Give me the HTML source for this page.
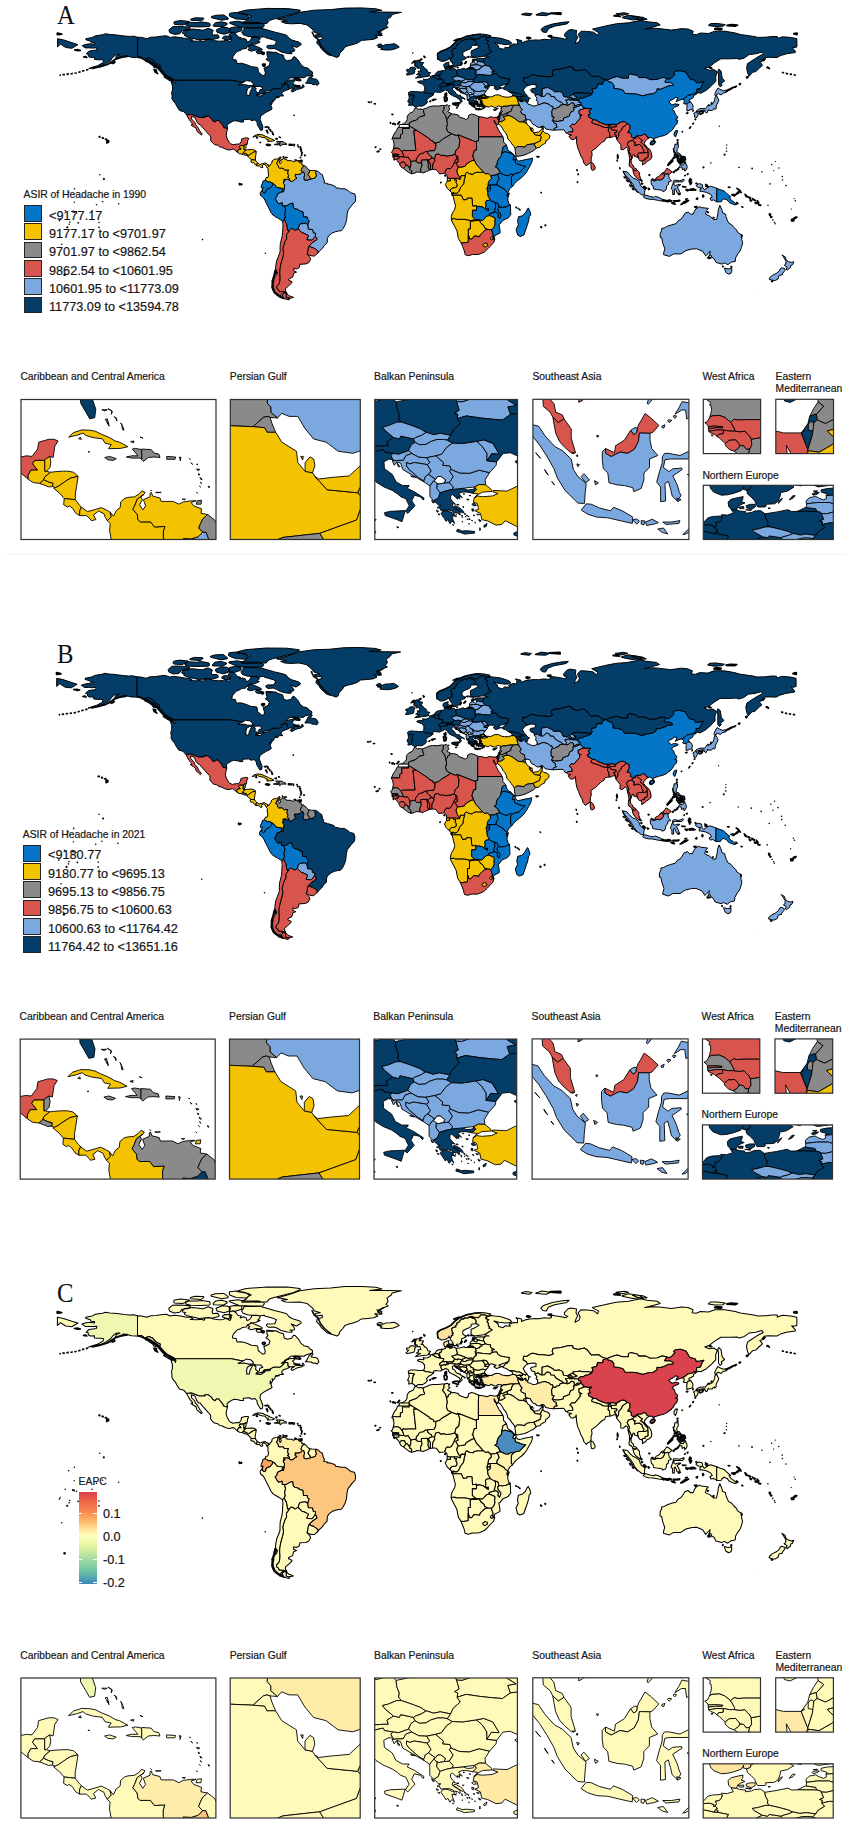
<!DOCTYPE html>
<html><head><meta charset="utf-8"><title>Figure</title>
<style>
html,body{margin:0;padding:0;background:#fff}
body{width:851px;height:1825px;position:relative;overflow:hidden;font-family:"Liberation Sans",sans-serif;color:#111}
.t{position:absolute;white-space:nowrap;line-height:1}
.pl{font-family:"Liberation Serif",serif;font-size:26.3px;transform:scaleX(0.94);transform-origin:left top}
.sw{position:absolute}

.it{font-size:10.35px;-webkit-text-stroke:0.2px #222}
.ll{font-size:13.2px;transform:scaleX(0.962);transform-origin:left top;-webkit-text-stroke:0.2px #222}
.sw{width:16.0px;height:14.8px;border:0.8px solid #262626;box-sizing:content-box}
.cb{position:absolute;width:18.1px;height:92px;background:linear-gradient(to bottom,#D8404C 0%,#EE6347 10%,#F88D52 22%,#FDBE6F 33%,#FEE89A 41%,#FFFFBF 48%,#EAF6A0 57%,#C4E79E 66%,#A0D8A3 74%,#6CC3A5 86%,#3C88BC 100%)}

</style></head><body>
<svg width="851" height="1825" viewBox="0 0 851 1825" style="position:absolute;left:0;top:0"><g stroke="#000" stroke-width="1.0" stroke-linejoin="round"><path d="M392.2,139.4 392.3,138.1 393.7,134.8 394.7,132.9 396.6,130.6 397.4,128.1 399.5,126.4 400.1,125.0 403.6,123.7 406.2,121.6 407.3,119.3 407.1,117.0 408.1,114.9 409.7,113.2 413.2,111.7 415.1,108.0 416.3,107.8 418.2,109.2 421.0,109.0 422.7,109.4 423.5,110.5 423.7,112.4 424.7,114.7 424.5,115.7 419.8,116.8 418.2,118.6 415.9,120.3 412.8,121.2 409.4,122.8 409.4,128.5 402.6,128.5 402.6,133.8 400.5,134.8 400.5,138.3 392.5,138.3Z" fill="#8A8A8A"/><path d="M392.2,139.4 392.5,138.3 400.5,138.3 400.5,134.8 402.6,133.8 402.6,128.5 409.4,128.5 409.4,125.8 417.3,130.6 413.8,130.6 415.7,148.4 415.9,150.5 408.1,150.5 405.2,150.7 403.6,150.2 402.1,151.9 399.7,149.2 397.4,148.1 394.3,148.4 393.3,149.2 394.1,145.2 393.9,142.5 393.3,142.3 393.7,140.6Z" fill="#8A8A8A"/><path d="M393.3,149.2 392.3,151.7 391.3,152.1 392.7,153.8 392.7,154.4 395.4,154.1 398.9,154.5 398.6,155.1 395.8,155.0 392.8,155.5 392.9,157.1 396.4,156.3 399.1,156.4 401.5,156.9 403.8,156.9 403.8,155.7 402.6,152.8 402.1,151.9 399.7,149.2 397.4,148.1 394.3,148.4Z" fill="#D8554E"/><path d="M392.7,154.4 395.4,154.1 398.9,154.5 398.6,155.1 395.8,155.0 392.8,155.5Z" fill="#D8554E"/><path d="M392.9,157.1 396.4,156.3 399.1,156.4 399.1,158.4 397.0,158.8 396.4,160.0 395.4,158.8 393.7,158.0Z" fill="#D8554E"/><path d="M393.9,159.2 394.7,159.2 394.3,159.9Z" fill="#D8554E" stroke-width="1.55"/><path d="M396.4,160.0 397.0,158.8 399.1,158.4 399.1,156.4 401.5,156.9 403.8,156.9 406.0,157.4 408.1,156.9 409.1,158.6 410.2,159.9 410.8,161.6 411.0,165.1 410.2,167.0 408.7,167.4 407.7,165.4 406.0,165.1 405.4,163.9 404.2,162.0 401.5,162.2 399.9,164.0 399.1,163.0 397.4,160.9Z" fill="#D8554E"/><path d="M399.9,164.0 401.5,162.2 404.2,162.0 405.4,163.9 406.0,165.1 405.4,166.6 403.6,168.4 401.5,167.4 399.9,165.1Z" fill="#D8554E"/><path d="M403.6,168.4 405.4,166.6 406.0,165.1 407.7,165.4 408.7,167.4 410.2,167.0 409.7,169.3 411.8,170.8 411.7,173.8 408.7,172.4 405.0,169.7Z" fill="#8A8A8A"/><path d="M411.7,173.8 411.8,170.8 409.7,169.3 410.2,167.0 411.0,165.1 410.8,161.6 414.5,160.7 415.9,161.1 417.5,162.6 421.7,163.0 422.1,165.7 420.6,168.7 420.8,172.2 416.9,172.0 414.9,173.1Z" fill="#8A8A8A"/><path d="M420.8,172.2 420.6,168.7 422.1,165.7 421.7,163.0 421.4,159.9 427.2,159.7 428.2,162.0 428.4,165.1 428.2,167.2 429.7,170.1 426.8,171.4 423.1,173.0Z" fill="#8A8A8A"/><path d="M429.7,170.1 428.2,167.2 428.4,165.1 428.2,162.0 427.2,159.7 429.0,159.9 428.8,161.3 430.5,164.1 430.5,169.9Z" fill="#D8554E"/><path d="M430.5,169.9 430.5,164.1 428.8,161.3 429.0,159.9 430.1,159.0 432.1,158.0 434.6,158.4 435.0,160.5 433.0,163.9 432.7,166.4 432.7,169.5Z" fill="#D8554E"/><path d="M432.7,169.5 432.7,166.4 433.0,163.9 435.0,160.5 434.6,158.4 435.6,154.6 438.5,153.8 441.4,155.7 443.2,155.1 446.9,156.1 451.8,155.3 455.1,154.2 456.2,155.6 456.4,156.7 457.2,158.8 455.5,159.9 454.3,162.8 453.5,164.7 451.4,168.0 449.8,168.9 447.7,168.5 446.3,169.3 444.9,172.9 444.2,173.5 441.6,173.7 439.5,173.9 437.7,171.4 436.2,169.7 434.2,169.5Z" fill="#D8554E"/><path d="M415.9,161.1 416.5,158.2 418.2,156.3 418.8,154.9 421.2,153.4 423.1,153.2 425.8,151.4 427.6,151.6 428.0,153.6 429.3,154.9 431.5,156.3 432.1,158.0 430.1,159.0 429.0,159.9 427.2,159.7 421.4,159.9 421.7,163.0 417.5,162.6Z" fill="#D8554E"/><path d="M402.1,151.9 403.6,150.2 405.2,150.7 408.1,150.5 415.9,150.5 415.7,148.4 413.8,130.6 417.3,130.6 429.6,138.7 429.7,139.6 433.8,141.5 434.0,143.1 435.9,142.8 435.8,147.5 434.4,150.7 429.9,150.9 427.6,151.6 425.8,151.4 423.1,153.2 421.2,153.4 418.8,154.9 418.2,156.3 416.5,158.2 415.9,161.1 414.5,160.7 410.8,161.6 410.2,159.9 409.1,158.6 408.1,156.9 406.0,157.4 403.8,156.9 403.8,155.7 402.6,152.8Z" fill="#D8554E"/><path d="M427.6,151.6 429.9,150.9 434.4,150.7 435.8,147.5 435.9,142.8 439.1,142.1 442.6,139.2 451.8,133.7 456.4,135.6 458.0,134.8 459.9,140.2 459.0,147.5 456.0,150.0 455.1,154.2 451.8,155.3 446.9,156.1 443.2,155.1 441.4,155.7 438.5,153.8 435.6,154.6 434.6,158.4 432.1,158.0 431.5,156.3 429.3,154.9 428.0,153.6Z" fill="#8A8A8A"/><path d="M422.7,109.4 427.2,107.8 429.9,106.5 433.4,105.9 438.1,106.1 442.6,105.4 444.9,105.6 444.2,106.5 444.0,109.6 442.6,111.7 444.0,113.4 445.7,115.7 446.7,119.5 447.5,123.7 446.5,127.9 447.7,131.6 451.8,133.7 442.6,139.2 439.1,142.1 435.9,142.8 434.0,143.1 433.8,141.5 429.7,139.6 429.6,138.7 417.3,130.6 409.4,125.8 409.4,122.8 412.8,121.2 415.9,120.3 418.2,118.6 419.8,116.8 424.5,115.7 424.7,114.7 423.7,112.4 423.5,110.5Z" fill="#8A8A8A"/><path d="M444.9,105.6 447.3,104.7 448.4,105.7 450.0,105.4 448.8,106.9 449.0,108.4 450.0,109.2 447.9,111.1 447.9,111.9 450.0,112.8 450.9,113.5 450.8,115.1 448.4,116.6 448.4,118.2 446.7,119.5 445.7,115.7 444.0,113.4 442.6,111.7 444.0,109.6 444.2,106.5Z" fill="#8A8A8A"/><path d="M450.9,113.5 452.9,114.2 454.3,114.0 458.4,115.1 459.4,117.0 463.1,118.2 466.2,119.5 468.3,118.0 468.5,115.5 471.4,114.0 474.6,114.7 478.9,116.7 478.5,121.2 478.5,136.9 478.5,141.0 476.5,141.0 476.5,142.1 458.0,134.8 456.4,135.6 451.8,133.7 447.7,131.6 446.5,127.9 447.5,123.7 446.7,119.5 448.4,118.2 448.4,116.6 450.8,115.1Z" fill="#8A8A8A"/><path d="M478.9,116.7 483.3,117.2 486.8,118.3 488.8,117.4 490.9,116.8 493.5,117.4 497.4,117.4 498.9,121.2 498.1,124.3 497.5,124.9 496.0,123.7 494.2,120.2 494.4,122.6 496.2,124.7 497.0,127.0 499.1,131.0 500.5,132.9 503.0,136.9 478.5,136.9 478.5,121.2Z" fill="#D8554E"/><path d="M472.2,156.4 473.0,154.9 474.4,150.0 476.5,150.0 476.5,141.0 478.5,141.0 478.5,136.9 503.0,136.9 503.6,138.9 503.6,141.9 506.5,145.2 503.2,147.1 502.2,151.3 501.3,156.3 499.3,158.2 497.7,160.7 497.2,163.0 497.2,165.3 495.0,166.6 498.5,168.9 499.7,171.6 500.9,173.3 497.0,174.1 496.0,175.1 490.6,175.6 488.2,173.5 485.5,173.9 483.5,172.3 476.5,164.7 474.2,160.1 473.0,156.3Z" fill="#8A8A8A"/><path d="M506.5,145.2 507.7,149.4 508.1,150.2 509.8,151.5 511.8,152.6 514.3,155.3 515.7,156.3 514.3,156.7 512.9,154.6 511.0,153.2 507.3,152.3 505.0,151.7 502.0,152.8 502.2,151.3 503.2,147.1Z" fill="#0575C8"/><path d="M515.7,156.3 516.3,157.8 516.0,158.8 515.1,160.0 513.1,159.9 512.9,158.6 514.3,156.7Z" fill="#0575C8"/><path d="M516.0,158.8 518.6,161.1 521.7,160.5 525.8,159.5 529.9,158.8 532.5,158.1 532.2,160.9 531.5,163.2 529.5,166.8 527.0,171.2 524.8,174.5 521.7,177.5 520.2,178.7 516.5,181.6 514.5,183.7 512.5,186.4 511.4,184.7 511.4,176.8 513.3,174.6 515.5,173.3 519.6,172.5 525.8,166.2 523.7,166.2 517.6,164.1 515.5,163.2 515.1,160.0Z" fill="#0575C8"/><path d="M502.0,152.8 505.0,151.7 507.3,152.3 511.0,153.2 512.9,154.6 514.3,156.7 512.9,158.6 513.1,159.9 515.1,160.0 515.5,163.2 517.6,164.1 523.7,166.2 525.8,166.2 519.6,172.5 515.5,173.3 513.3,174.6 511.0,174.1 508.3,175.8 505.3,175.4 501.3,173.6 500.9,173.3 499.7,171.6 498.5,168.9 495.0,166.6 497.2,165.3 497.2,163.0 497.7,160.7 499.3,158.2 501.3,156.3Z" fill="#0575C8"/><path d="M512.5,186.4 509.8,188.6 507.7,192.6 504.6,190.2 504.4,189.2 497.0,185.0 496.8,182.7 498.1,180.6 499.1,178.9 498.1,176.2 497.0,174.1 500.9,173.3 501.3,173.6 505.3,175.4 508.3,175.8 511.0,174.1 513.3,174.6 511.4,176.8 511.4,184.7Z" fill="#0575C8"/><path d="M497.0,185.0 489.8,185.1 488.0,185.8 488.0,184.2 488.4,182.5 488.8,181.2 491.5,178.4 490.6,175.6 492.7,175.4 496.0,175.1 497.0,174.1 498.1,176.2 499.1,178.9 498.1,180.6 496.8,182.7Z" fill="#0575C8"/><path d="M507.7,192.6 506.9,195.7 507.9,197.1 507.9,200.3 508.9,203.8 510.3,204.8 506.3,206.8 502.2,207.4 499.0,207.1 498.1,203.8 496.8,203.0 494.9,202.6 491.3,200.9 490.4,200.1 488.0,196.1 487.6,192.2 490.5,189.8 489.8,187.9 490.6,187.7 489.8,185.1 497.0,185.0 504.4,189.2 504.6,190.2Z" fill="#0575C8"/><path d="M507.7,195.0 508.4,195.9 508.1,196.5ZM508.7,193.2 509.1,194.0 508.7,194.2Z" fill="#0575C8" stroke-width="1.55"/><path d="M486.8,188.6 488.0,185.8 489.8,185.1 490.6,187.7 489.8,187.9 488.6,188.6Z" fill="#0575C8"/><path d="M486.8,188.6 488.6,188.6 489.8,187.9 490.5,189.8 487.6,192.2 487.2,189.8Z" fill="#0575C8"/><path d="M452.3,195.1 452.9,193.8 454.1,192.5 454.7,193.2 456.8,193.2 458.6,191.9 460.5,187.5 463.6,183.9 464.2,179.8 465.4,175.6 465.4,173.7 467.0,172.2 469.5,173.7 473.2,174.3 474.2,172.9 477.3,172.2 479.2,172.3 483.5,172.3 485.5,173.9 488.2,173.5 490.6,175.6 491.5,178.4 488.8,181.2 488.4,182.5 488.0,184.2 488.0,185.8 486.8,188.6 487.2,189.8 487.6,192.2 488.0,196.1 490.4,200.1 486.6,200.7 485.5,202.4 486.1,205.3 485.5,207.8 486.8,208.9 488.4,208.4 488.4,211.1 485.5,209.1 483.1,207.2 479.2,206.3 477.3,206.9 476.5,205.7 472.8,206.3 472.4,203.8 472.0,198.2 467.3,198.2 467.0,199.6 463.4,199.9 461.3,195.2 454.7,195.2 452.7,195.6Z" fill="#F3C200"/><path d="M494.9,202.6 491.3,200.9 490.4,200.1 486.6,200.7 485.5,202.4 486.1,205.3 485.5,207.8 486.8,208.9 488.4,208.4 488.4,211.1 485.5,209.1 483.1,207.2 479.2,206.3 477.3,206.9 476.5,205.7 476.5,210.1 472.4,210.1 472.4,216.8 475.3,219.7 479.1,220.2 482.7,220.5 486.6,216.3 489.6,215.6 489.2,213.9 495.4,212.2 494.4,211.4 495.0,209.3 495.6,207.2 495.6,203.8Z" fill="#0575C8"/><path d="M494.9,202.6 496.8,203.0 498.1,203.8 499.0,207.1 497.9,208.4 498.3,211.2 500.9,214.1 500.7,216.4 499.7,218.7 497.9,217.0 498.3,214.9 497.7,213.0 495.4,212.2 494.4,211.4 495.0,209.3 495.6,207.2 495.6,203.8Z" fill="#0575C8"/><path d="M510.3,204.8 510.6,209.1 510.6,213.2 511.0,214.3 508.3,217.9 503.2,220.2 499.7,224.3 498.8,224.4 499.7,227.9 500.1,232.9 495.0,235.6 494.2,237.2 494.8,239.1 493.1,239.1 492.9,237.2 492.9,234.2 492.0,232.1 491.5,229.8 493.7,227.5 495.0,224.1 494.6,222.2 495.0,219.1 494.8,217.9 491.5,216.4 489.6,215.6 489.2,213.9 495.4,212.2 497.7,213.0 498.3,214.9 497.9,217.0 499.7,218.7 500.7,216.4 500.9,214.1 498.3,211.2 497.9,208.4 499.0,207.1 502.2,207.4 506.3,206.8Z" fill="#0575C8"/><path d="M479.1,220.2 482.7,220.5 486.6,216.3 489.6,215.6 491.5,216.4 494.8,217.9 495.0,219.1 494.6,222.2 495.0,224.1 493.7,227.5 491.5,229.8 487.6,229.4 484.7,228.1 484.1,225.8 481.0,223.5Z" fill="#F3C200"/><path d="M479.1,220.2 481.0,223.5 484.1,225.8 484.7,228.1 487.6,229.4 485.3,230.2 482.5,232.5 480.4,234.7 479.6,236.7 474.4,235.9 471.8,239.1 469.7,239.1 468.3,234.8 468.3,228.9 470.3,228.9 470.3,221.2 475.3,220.6 477.3,220.6Z" fill="#F3C200"/><path d="M451.3,219.0 454.9,218.5 456.0,219.3 465.0,219.3 470.3,220.5 475.3,219.7 479.1,220.2 477.3,220.6 475.3,220.6 470.3,221.2 470.3,228.9 468.3,228.9 468.3,234.8 468.3,242.3 463.1,243.0 461.1,242.8 458.4,238.6 457.0,230.9 454.7,226.4 451.8,221.0Z" fill="#F3C200"/><path d="M461.1,242.8 462.7,246.7 464.2,250.5 465.0,253.9 465.2,254.8 468.3,255.7 472.6,254.5 478.1,254.5 479.8,254.0 484.5,252.0 487.8,248.8 490.9,245.5 493.7,242.6 494.8,239.1 493.1,239.1 492.9,237.2 492.9,234.2 492.0,232.1 491.5,229.8 487.6,229.4 485.3,230.2 482.5,232.5 480.4,234.7 479.6,236.7 474.4,235.9 471.8,239.1 469.7,239.1 468.3,234.8 468.3,242.3 463.1,243.0Z" fill="#D8554E"/><path d="M482.7,244.9 485.1,243.0 487.4,243.8 487.6,245.5 484.9,247.1 483.5,246.3Z" fill="#F3C200"/><path d="M490.5,238.2 491.7,236.8 492.9,237.3 493.1,239.1 491.5,240.0 490.7,239.0Z" fill="#F3C200"/><path d="M451.3,219.0 451.4,216.4 452.3,213.2 454.7,209.3 455.5,205.9 454.3,201.3 453.5,197.6 452.7,195.6 454.7,195.2 461.3,195.2 463.4,199.9 467.0,199.6 467.3,198.2 472.0,198.2 472.4,203.8 472.8,206.3 476.5,205.7 476.5,210.1 472.4,210.1 472.4,216.8 475.3,219.7 470.3,220.5 465.0,219.3 456.0,219.3 454.9,218.5Z" fill="#F3C200"/><path d="M452.3,194.9 451.8,193.4 452.3,192.9 454.1,192.5 452.9,193.8Z" fill="#F3C200" stroke-width="1.55"/><path d="M452.3,192.9 450.0,191.1 451.0,188.8 452.9,187.7 453.9,187.9 456.8,186.9 457.0,184.2 455.8,182.5 456.6,180.0 454.5,180.2 454.3,178.3 457.0,178.3 460.1,179.3 460.5,178.3 461.1,175.6 465.4,175.6 464.2,179.8 463.6,183.9 460.5,187.5 458.6,191.9 456.8,193.2 454.7,193.2 454.1,192.5Z" fill="#F3C200"/><path d="M450.0,191.1 446.9,187.9 445.3,184.4 446.7,182.3 447.3,180.8 450.4,180.8 450.4,178.3 454.3,178.3 454.5,180.2 456.6,180.0 455.8,182.5 457.0,184.2 456.8,186.9 453.9,187.9 452.9,187.7 451.0,188.8Z" fill="#F3C200"/><path d="M447.3,180.8 450.4,180.8 450.4,178.3 447.3,178.1Z" fill="#F3C200"/><path d="M444.7,175.8 445.5,175.1 445.5,176.0Z" fill="#F3C200" stroke-width="1.55"/><path d="M440.6,182.5 441.1,182.3 440.8,182.8Z" fill="#F3C200" stroke-width="1.55"/><path d="M447.3,178.1 447.1,175.2 445.5,173.5 444.9,172.9 446.3,169.3 447.7,168.5 449.8,168.9 451.4,168.0 453.5,164.7 454.3,162.8 455.5,159.9 457.2,158.8 456.4,156.7 456.2,155.6 457.8,156.3 458.0,158.8 458.2,162.0 455.8,162.8 458.4,167.2 457.0,170.3 457.2,172.4 458.2,174.9 460.5,178.3 460.1,179.3 457.0,178.3 454.3,178.3 450.4,178.3Z" fill="#D8554E"/><path d="M458.4,167.2 461.7,167.0 465.2,166.2 466.2,164.1 471.8,160.7 474.2,160.1 476.5,164.7 479.2,167.6 481.6,170.3 483.5,172.3 479.2,172.3 477.3,172.2 474.2,172.9 473.2,174.3 469.5,173.7 467.0,172.2 465.4,173.7 465.4,175.6 461.1,175.6 460.5,178.3 458.2,174.9 457.2,172.4 457.0,170.3Z" fill="#F3C200"/><path d="M455.1,154.2 456.2,155.6 457.8,156.3 458.0,158.8 458.2,162.0 455.8,162.8 458.4,167.2 461.7,167.0 465.2,166.2 466.2,164.1 471.8,160.7 474.2,160.1 473.0,156.3 472.2,156.4 473.0,154.9 473.4,153.4 474.4,150.0 476.5,150.0 476.5,142.1 458.0,134.8 459.9,140.2 459.0,147.5 456.0,150.0Z" fill="#D8554E"/><path d="M528.4,207.9 529.9,211.2 530.9,214.9 529.3,216.4 528.7,220.6 527.4,224.8 525.6,230.0 523.9,235.0 520.0,236.5 517.6,235.0 516.1,229.4 518.4,224.8 517.6,221.6 518.4,216.8 522.3,215.8 525.6,212.6 527.4,209.1Z" fill="#0575C8"/><path d="M375.2,147.1 375.9,147.1 375.6,147.5ZM378.5,150.9 379.1,151.3 378.7,151.6ZM377.1,151.6 377.3,151.9 377.0,151.8ZM380.0,149.0 380.6,149.2 380.2,149.4Z" fill="#FFFFFF" stroke-width="1.55"/><path d="M516.1,207.0 516.5,207.8 516.1,207.8ZM518.2,208.2 518.6,208.6 518.2,208.6ZM519.8,209.5 520.1,210.0 519.8,210.0Z" fill="#0575C8" stroke-width="1.55"/><path d="M545.1,225.0 545.7,225.2 545.3,225.8ZM540.8,226.6 541.8,227.1 541.2,227.6Z" fill="#0575C8" stroke-width="1.55"/><path d="M541.0,192.5 541.3,192.7 541.1,192.8Z" fill="#0575C8" stroke-width="1.55"/><path d="M490.7,37.0 495.0,37.6 501.1,38.3 509.4,41.0 511.8,43.1 510.4,44.1 506.3,44.6 499.1,43.7 494.0,42.5 498.1,45.2 498.7,47.9 503.2,49.2 505.3,47.3 510.4,47.8 509.4,45.8 513.5,43.9 517.6,44.3 517.6,41.0 516.1,39.3 521.7,40.6 521.7,42.9 525.8,41.2 529.9,40.4 536.1,39.9 539.1,40.2 544.3,39.3 549.4,39.7 551.5,38.9 551.5,36.8 559.7,37.9 563.8,38.7 564.8,39.3 567.9,37.9 564.8,36.4 564.4,34.3 567.9,30.5 571.0,29.5 576.7,30.5 576.1,34.3 577.8,37.4 576.1,40.6 575.1,43.7 579.2,41.6 580.2,38.5 578.2,34.3 581.2,31.2 587.4,31.4 593.6,32.2 597.7,35.3 598.7,32.6 592.5,29.1 605.9,25.9 616.2,23.8 628.5,22.8 640.8,20.3 647.0,21.7 657.2,22.8 660.3,24.9 653.1,27.0 644.9,29.1 653.1,28.2 659.3,28.6 671.6,30.1 681.9,28.6 688.1,29.1 693.2,31.2 692.2,34.3 696.3,34.7 700.4,33.0 708.6,33.5 714.8,31.2 725.0,31.2 735.3,33.0 740.4,34.5 753.8,36.4 757.9,37.4 766.1,37.2 772.3,36.4 777.4,36.6 777.4,38.5 782.5,36.8 790.8,37.4 796.9,38.7 796.9,46.9 793.8,47.7 791.8,47.3 795.5,51.3 795.3,52.5 786.6,53.8 780.5,55.6 777.0,57.5 768.2,57.3 764.1,57.7 762.0,61.5 759.9,61.9 762.6,65.3 759.5,68.0 755.8,71.6 752.8,72.2 749.1,76.2 747.6,73.0 746.6,67.8 747.6,63.6 750.7,61.5 755.4,58.4 758.9,56.3 763.4,54.0 762.0,52.1 755.8,53.8 749.1,54.6 744.5,57.9 739.4,59.4 736.9,58.4 731.2,58.8 720.9,58.8 714.8,62.6 709.6,66.7 704.9,68.4 709.6,70.3 713.7,69.5 717.4,71.8 715.8,76.2 715.8,81.4 711.7,85.6 706.5,90.2 700.8,93.3 698.3,92.7 695.7,94.4 695.5,93.7 696.5,91.9 696.9,88.9 700.4,88.5 702.4,83.7 703.9,81.8 700.4,82.6 696.3,83.1 695.5,80.6 690.1,79.1 689.1,77.7 686.0,72.4 680.5,70.8 675.5,71.3 673.7,72.8 675.1,74.1 671.6,78.0 669.2,79.3 666.9,78.6 664.4,77.8 662.0,77.6 657.2,79.5 650.1,79.7 646.0,77.6 638.8,77.6 637.3,75.5 630.5,74.1 628.5,75.1 628.5,78.2 622.3,78.2 617.2,76.6 612.1,78.0 607.5,79.9 606.5,80.1 602.8,79.1 598.7,76.2 591.5,76.6 587.2,71.3 584.3,69.5 578.2,70.9 573.0,69.5 572.8,67.2 568.9,66.9 561.3,69.0 553.1,70.1 552.3,73.0 553.5,75.5 549.4,77.0 542.2,76.2 539.1,76.2 533.0,74.7 531.5,74.9 526.8,78.0 523.7,77.8 523.3,81.2 526.4,83.3 527.8,85.6 525.8,86.6 524.4,88.7 523.3,89.8 524.8,92.9 526.8,95.3 525.6,96.7 522.5,95.2 519.6,93.5 517.2,93.5 514.5,92.5 509.4,92.1 506.3,90.0 504.0,89.3 502.6,88.3 504.2,87.2 505.3,85.6 507.9,84.3 505.7,84.3 508.9,82.7 508.9,81.2 509.6,79.1 505.3,78.5 500.3,77.4 497.9,75.6 496.6,73.3 492.5,73.9 491.7,71.6 494.4,71.1 491.5,69.5 490.5,68.2 490.7,66.5 487.6,66.1 485.1,65.3 484.3,63.0 483.5,62.4 483.7,61.9 483.5,59.8 484.9,58.6 484.7,57.9 486.8,57.4 489.2,57.5 486.8,56.9 485.7,56.3 484.3,56.2 486.8,54.8 488.8,53.3 491.3,52.1 492.1,51.3 488.8,49.6 489.8,48.5 488.2,47.1 488.6,45.4 487.0,42.9 488.8,41.2 485.9,40.2 485.7,38.7 486.6,38.4ZM57.5,38.7 63.6,39.9 71.9,42.7 78.0,44.6 76.0,45.8 71.9,48.3 65.7,47.5 60.6,44.1 57.5,46.9ZM542.8,32.0 541.0,29.6 541.1,29.3 544.2,26.7 552.5,24.0 562.7,22.3 569.2,21.8 566.9,23.9 554.6,26.2 548.6,28.6 546.3,32.5ZM521.6,14.2 525.8,13.1 532.2,13.9 529.9,15.7 521.7,14.7ZM536.0,14.6 542.2,12.5 550.7,13.7 546.3,15.7 536.0,15.1ZM622.2,17.3 628.5,15.2 638.8,16.7 643.1,19.1 632.6,19.9 622.3,17.8ZM622.3,15.3 615.9,13.8 624.4,12.7 628.7,13.8ZM632.5,16.7 632.4,16.4 632.6,16.3 642.9,17.3 647.2,19.3 640.7,19.9ZM708.5,25.1 710.7,23.6 716.8,23.4 725.3,24.6 723.0,26.2 714.8,26.6 708.6,25.5ZM718.6,69.2 719.0,69.1 721.1,71.2 722.2,78.1 724.6,80.6 724.6,81.0 721.3,83.5 722.1,85.1 720.5,86.8 720.1,86.8 718.6,84.5 718.6,75.1 718.0,71.4Z" fill="#033D68"/><path d="M467.5,68.9 470.1,67.2 471.0,67.3 473.6,67.8 474.0,69.0ZM526.8,37.6 528.3,37.2 530.8,38.0 528.8,39.1 526.7,38.1ZM548.4,35.7 551.4,35.5 551.7,35.8 551.3,37.1 551.0,37.2 548.3,36.2ZM550.4,13.1 560.7,12.7 561.0,12.9 561.0,14.2 560.7,14.5 550.4,13.6 550.2,13.4ZM614.1,15.6 618.2,15.2 620.5,16.6 614.1,16.1 613.9,15.9ZM727.0,25.3 731.2,24.6 737.6,25.0 735.3,26.2 727.1,25.8 726.8,25.5ZM714.7,28.8 716.8,28.0 722.0,28.6 722.1,29.0 720.9,29.9 714.7,29.3ZM793.8,33.6 796.9,33.0 797.2,33.3 797.2,34.5 796.9,34.8 793.8,34.1ZM57.5,33.0 61.6,34.0 61.8,34.3 57.5,34.8 57.2,34.5 57.2,33.3ZM746.4,77.4 746.5,77.0 748.2,76.6 747.4,78.0 747.0,78.0ZM739.2,84.3 739.3,83.9 740.6,83.5 740.0,84.7ZM735.4,87.2 734.0,87.3 734.2,87.0 736.5,86.1ZM728.8,90.2 728.5,90.1 728.6,89.7 732.7,87.4 733.0,87.5 733.0,87.9ZM725.9,91.5 725.7,91.0 728.3,89.6 727.3,91.2ZM767.1,67.1 768.3,67.2 769.4,68.6 767.0,67.6ZM709.5,67.6 710.8,67.2 711.9,68.3 709.6,68.0ZM762.6,60.5 762.5,60.0 765.3,58.8 763.8,60.6Z" fill="#033D68" stroke-width="1.55"/><path d="M527.8,85.6 532.0,84.5 536.1,84.7 536.1,88.1 532.0,88.7 530.5,89.8 532.0,92.5 535.0,93.3 535.0,95.4 538.1,94.4 541.2,96.5 542.2,96.5 542.2,88.7 547.6,87.5 552.5,90.0 554.5,91.9 559.7,91.6 562.8,93.1 563.0,95.0 563.8,96.7 566.9,97.1 567.9,97.9 568.9,96.5 572.0,95.0 573.0,94.4 573.4,93.3 578.2,92.9 579.6,92.5 582.7,93.3 589.5,93.3 591.9,94.6 592.1,92.7 593.2,92.5 592.1,89.1 596.7,88.1 597.7,84.1 602.8,84.3 603.2,81.6 606.5,80.1 602.8,79.1 598.7,76.2 591.5,76.6 587.2,71.3 584.3,69.5 578.2,70.9 573.0,69.5 572.8,67.2 568.9,66.9 561.3,69.0 553.1,70.1 552.3,73.0 553.5,75.5 549.4,77.0 542.2,76.2 539.1,76.2 533.0,74.7 531.5,74.9 526.8,78.0 523.7,77.8 523.3,81.2 526.4,83.3Z" fill="#033D68"/><path d="M542.2,96.5 542.2,88.7 547.6,87.5 552.5,90.0 554.5,91.9 559.7,91.6 562.8,93.1 563.0,95.0 563.8,96.7 566.9,97.1 567.9,97.9 568.9,96.5 572.0,95.0 573.0,94.4 574.7,96.0 577.3,97.5 575.1,98.6 572.2,98.8 571.8,97.3 569.5,97.5 568.9,98.8 568.1,100.0 565.6,100.2 567.5,102.9 566.5,105.0 563.8,104.6 561.7,102.7 558.7,101.3 555.6,99.2 554.3,96.7 550.9,96.5 550.4,94.6 547.4,93.5 545.9,94.6 544.3,96.5Z" fill="#7CA8E0"/><path d="M535.0,95.4 538.1,94.4 541.2,96.5 542.2,96.5 544.3,96.5 545.9,94.6 547.4,93.5 550.4,94.6 550.9,96.5 554.3,96.7 555.6,99.2 558.7,101.3 561.7,102.7 563.8,104.6 561.9,104.8 560.3,105.2 559.7,106.9 556.6,107.8 555.2,109.0 553.1,108.4 552.7,106.3 551.1,106.3 549.0,104.4 544.9,102.9 542.2,103.4 539.8,104.6 537.9,104.7 537.7,101.3 536.1,100.2 537.1,98.1 535.7,96.7Z" fill="#7CA8E0"/><path d="M573.0,94.4 573.4,93.3 578.2,92.9 579.6,92.5 582.7,93.3 589.5,93.3 591.9,94.6 588.4,96.2 584.9,97.1 583.3,98.3 580.8,98.1 578.8,99.6 578.6,100.3 575.1,100.4 572.0,100.0 569.5,100.2 570.0,99.0 572.2,98.8 575.1,98.6 577.3,97.5 574.7,96.0Z" fill="#033D68"/><path d="M566.5,105.0 567.5,102.9 565.6,100.2 568.1,100.0 568.9,98.8 569.5,97.5 571.8,97.3 572.2,98.8 570.0,99.0 569.5,100.2 572.0,100.0 575.1,100.4 578.6,100.3 578.8,102.1 581.0,102.5 581.0,104.9 577.8,104.6 576.1,105.7 574.3,106.1 574.1,103.6 571.6,102.7 570.0,104.4 566.9,105.5Z" fill="#7CA8E0"/><path d="M553.1,108.4 555.2,109.0 556.6,107.8 559.7,106.9 560.3,105.2 561.9,104.8 563.8,104.6 566.5,105.0 566.9,105.5 570.0,104.4 571.6,102.7 574.1,103.6 574.3,106.1 576.1,105.7 577.8,104.6 581.0,104.9 579.2,105.9 576.1,107.1 573.4,107.6 574.3,109.2 573.0,111.5 571.0,111.9 570.0,113.8 569.5,116.1 566.5,117.2 563.6,118.2 563.4,120.4 558.7,121.4 555.6,121.4 552.2,120.4 554.1,117.2 552.1,117.0 551.7,113.4 551.7,111.1Z" fill="#8A8A8A"/><path d="M552.2,120.4 554.1,123.0 556.2,123.9 556.2,126.0 557.2,127.2 554.3,128.1 553.7,130.2 558.7,129.9 563.8,129.7 564.8,131.0 565.8,132.9 567.3,133.3 568.5,132.0 573.0,131.8 572.6,129.1 571.2,127.2 570.0,126.4 572.0,124.3 574.9,124.5 577.1,121.8 579.0,119.7 580.4,117.8 580.2,114.9 582.1,115.3 579.2,113.8 579.0,110.5 584.9,108.4 587.0,108.6 583.3,107.6 583.1,106.3 581.0,104.9 579.2,105.9 576.1,107.1 573.4,107.6 574.3,109.2 573.0,111.5 571.0,111.9 570.0,113.8 569.5,116.1 566.5,117.2 563.6,118.2 563.4,120.4 558.7,121.4 555.6,121.4Z" fill="#7CA8E0"/><path d="M567.3,133.3 568.3,134.3 571.6,135.0 568.9,136.2 571.0,139.2 573.0,139.6 575.5,138.5 576.3,136.4 576.3,137.9 576.7,143.1 577.8,148.4 579.4,151.9 580.8,155.9 582.9,159.5 583.9,163.0 586.4,166.0 587.8,164.3 589.9,163.4 591.2,161.3 591.1,158.0 592.1,155.5 591.7,151.1 594.0,149.4 596.2,147.9 598.3,145.9 601.8,142.5 604.9,140.6 605.9,137.9 608.2,137.7 610.2,137.5 609.8,134.3 609.4,132.0 608.2,131.2 608.6,128.9 608.8,127.4 611.6,128.5 611.6,129.9 617.0,130.6 616.6,132.2 614.5,132.7 614.7,134.3 615.8,134.8 616.8,138.1 617.4,138.3 618.6,136.4 619.0,132.7 621.5,130.2 622.7,127.2 626.4,124.9 627.1,123.7 624.4,121.6 621.3,121.8 616.4,124.7 615.6,124.7 616.4,126.6 611.6,127.0 609.8,125.8 609.6,124.2 608.2,124.5 608.2,127.6 603.4,127.2 599.7,125.3 593.6,123.5 591.7,122.6 592.5,120.5 593.6,119.7 589.9,117.6 589.1,117.4 588.2,114.9 590.5,114.2 589.1,110.9 591.9,108.6 587.0,108.6 584.9,108.4 579.0,110.5 579.2,113.8 582.1,115.3 580.2,114.9 580.4,117.8 579.0,119.7 577.1,121.8 574.9,124.5 572.0,124.3 570.0,126.4 571.2,127.2 572.6,129.1 573.0,131.8 568.5,132.0Z" fill="#D8554E"/><path d="M617.6,154.6 618.2,156.7 617.8,158.6 617.4,156.7ZM619.7,167.8 620.1,168.2 619.9,168.7ZM617.0,160.3 617.4,160.7 617.2,160.9Z" fill="#D8554E" stroke-width="1.55"/><path d="M608.2,124.5 608.2,127.6 603.4,127.2 599.7,125.3 593.6,123.5 591.7,122.6 592.5,120.5 593.6,119.7 596.0,119.9 598.7,121.8 602.2,123.2 604.9,124.3 606.3,124.6Z" fill="#D8554E"/><path d="M609.8,125.8 611.6,127.0 616.4,126.6 615.6,124.7 613.1,124.1 611.0,124.1Z" fill="#D8554E"/><path d="M610.2,137.5 609.8,134.3 609.4,132.0 608.2,131.2 608.6,128.9 608.8,127.4 611.6,128.5 611.6,129.9 617.0,130.6 616.6,132.2 614.5,132.7 614.7,134.3 615.8,134.8 616.8,138.1 617.4,138.3 616.8,139.6 615.8,136.2 613.7,136.2 612.7,137.1Z" fill="#D8554E"/><path d="M591.3,162.4 593.2,163.4 595.2,167.2 595.0,169.3 592.8,170.4 591.5,169.7 590.9,165.7Z" fill="#D8554E"/><path d="M578.0,173.9 578.4,174.3 578.2,174.7ZM577.3,181.9 577.8,182.3 577.6,182.5ZM576.9,169.7 577.3,170.1 577.1,170.6Z" fill="#D8554E" stroke-width="1.55"/><path d="M519.2,99.8 520.7,101.3 522.7,101.5 525.4,99.8 526.4,100.4 525.8,101.7 527.6,102.5 528.1,104.2 530.3,104.6 533.0,106.1 536.1,105.7 537.9,104.7 539.8,104.6 542.2,103.4 544.9,102.9 549.0,104.4 551.1,106.3 552.7,106.3 553.1,108.4 551.7,111.1 551.7,113.4 552.1,117.0 554.1,117.2 552.2,120.4 554.1,123.0 556.2,123.9 556.2,126.0 557.2,127.2 554.3,128.1 553.7,130.2 549.4,129.7 545.9,129.1 544.3,126.8 542.8,126.1 539.6,127.4 537.1,127.0 535.0,125.1 533.0,124.5 531.5,122.4 530.3,119.9 528.9,119.9 527.6,119.3 526.9,120.2 525.8,119.1 525.8,118.0 525.2,117.2 525.4,115.3 521.9,113.8 520.5,111.7 522.1,109.4 520.5,107.6 519.2,105.0 518.2,102.5 517.6,100.4 518.4,100.4Z" fill="#7CA8E0"/><path d="M540.8,127.0 542.8,126.5 542.0,127.2Z" fill="#7CA8E0" stroke-width="1.55"/><path d="M514.3,105.2 519.2,105.0 520.5,107.6 522.1,109.4 520.5,111.7 521.9,113.8 525.4,115.3 525.2,117.2 525.8,118.0 525.8,119.1 526.9,120.2 525.7,120.1 525.2,119.9 524.6,120.1 522.8,122.0 519.0,121.8 513.7,117.8 510.2,116.0 507.7,115.6 506.9,113.0 511.4,110.9 511.8,108.4 513.1,106.3Z" fill="#8A8A8A"/><path d="M522.8,122.0 524.6,120.1 525.2,119.9 525.7,120.1 526.0,121.4 526.6,123.1 525.2,123.1 524.8,122.2Z" fill="#8A8A8A"/><path d="M500.9,107.8 501.6,107.9 502.6,107.0 503.2,106.1 506.9,106.1 510.8,105.2 514.3,105.2 513.1,106.3 511.8,108.4 511.4,110.9 506.9,113.0 502.8,115.3 500.9,114.5 500.7,113.2 502.4,111.3 501.1,110.4Z" fill="#8A8A8A"/><path d="M499.3,113.6 500.3,113.2 500.7,113.2 502.4,111.3 501.1,110.4 500.1,111.9Z" fill="#8A8A8A"/><path d="M497.4,117.4 498.9,121.2 499.9,117.8 500.2,115.1 500.9,114.5 500.7,113.2 500.3,113.2 499.3,113.6 498.9,115.3Z" fill="#033D68"/><path d="M499.0,116.8 500.1,117.0 500.2,115.1 499.5,114.8 499.0,115.5Z" fill="#8A8A8A"/><path d="M497.4,117.4 498.1,116.8 498.2,117.0Z" fill="#8A8A8A" stroke-width="1.55"/><path d="M499.0,121.5 498.9,121.2 499.9,117.8 500.2,115.1 500.9,114.5 502.8,115.3 506.9,113.0 507.7,115.6 503.2,117.0 505.3,119.1 504.2,120.1 501.3,121.8Z" fill="#8A8A8A"/><path d="M499.0,121.5 501.3,121.8 504.2,120.1 505.3,119.1 503.2,117.0 507.7,115.6 510.2,116.0 513.7,117.8 519.0,121.8 522.8,122.0 524.8,122.2 525.2,123.1 526.6,123.1 527.6,125.1 530.1,127.0 530.3,129.3 531.5,131.1 532.8,131.4 533.2,132.1 535.2,134.9 540.4,135.5 541.4,136.9 540.2,141.0 534.0,143.8 527.8,144.6 526.2,145.4 524.8,147.1 522.5,146.8 520.0,146.5 517.2,146.5 515.9,147.9 515.1,148.6 513.9,146.3 511.8,143.8 510.4,141.5 507.7,138.9 507.3,136.2 505.5,132.7 503.6,130.6 502.6,128.5 500.3,125.3 498.3,124.1Z" fill="#F3C200"/><path d="M515.1,148.6 515.9,147.9 517.2,146.5 520.0,146.5 522.5,146.8 524.8,147.1 526.2,145.4 527.8,144.6 534.0,143.8 536.3,148.1 534.4,150.2 528.3,153.4 524.8,154.9 519.8,156.1 516.5,156.4 515.9,155.1 515.3,151.7Z" fill="#8A8A8A"/><path d="M536.9,156.5 539.1,156.7 537.7,157.2Z" fill="#8A8A8A" stroke-width="1.55"/><path d="M536.3,148.1 534.0,143.8 540.2,141.0 541.4,136.9 540.4,135.5 540.6,134.8 541.8,132.2 542.8,130.8 543.5,131.6 544.7,132.9 547.6,133.5 550.0,135.8 549.4,138.1 547.4,140.2 545.9,140.6 545.7,143.1 543.5,144.2 541.2,145.6 539.8,147.3Z" fill="#F3C200"/><path d="M542.4,128.5 543.0,127.6 543.1,128.9Z" fill="#F3C200" stroke-width="1.55"/><path d="M533.2,132.1 535.2,134.9 540.4,135.5 540.6,134.8 541.8,132.2 542.8,130.8 543.1,128.9 542.4,128.5 540.8,129.9 538.9,132.0 536.1,132.4 533.8,132.7Z" fill="#F3C200"/><path d="M531.5,131.1 532.8,131.4 533.2,129.9 533.0,128.6 532.4,128.2 531.5,129.3Z" fill="#F3C200"/><path d="M530.8,128.1 531.2,128.1 531.1,128.8Z" fill="#F3C200" stroke-width="1.55"/><path d="M509.4,92.1 514.5,92.5 517.2,93.5 519.6,93.5 522.5,95.2 522.7,96.9 519.6,96.7 516.5,96.9 514.5,96.1 512.4,96.0 512.9,94.8 512.0,93.3Z" fill="#033D68"/><path d="M516.5,96.9 519.6,96.7 520.9,97.5 521.5,98.8 522.7,100.2 522.7,101.5 520.7,101.3 519.2,99.8 517.0,99.0Z" fill="#033D68"/><path d="M522.7,96.9 522.5,95.2 525.6,96.7 526.8,95.3 528.9,97.9 530.5,98.3 528.7,99.0 528.5,100.9 527.6,102.5 525.8,101.7 526.4,100.4 525.4,99.8 522.7,101.5 522.7,100.2 521.5,98.8 520.9,97.5 519.6,96.7Z" fill="#033D68"/><path d="M519.2,99.8 520.7,101.3 521.9,101.5 520.5,100.2Z" fill="#033D68" stroke-width="1.55"/><path d="M607.5,79.9 608.0,81.2 612.1,82.6 614.1,85.4 613.9,88.3 619.2,88.9 623.2,90.2 625.2,93.5 632.6,93.7 636.3,93.9 642.9,95.8 648.0,94.2 653.1,93.7 656.8,91.4 657.0,88.7 660.5,89.1 665.5,87.2 668.3,85.8 673.3,85.2 673.1,84.1 670.6,82.6 669.2,82.4 665.5,82.6 664.6,82.0 666.9,78.6 669.2,79.3 671.6,78.0 675.1,74.1 673.7,72.8 675.5,71.3 680.5,70.8 686.0,72.4 689.1,77.7 690.1,79.1 695.5,80.6 696.3,83.1 700.4,82.6 703.9,81.8 702.4,83.7 700.4,88.5 696.9,88.9 696.5,91.9 695.5,93.7 694.6,93.1 693.6,94.2 690.3,95.0 687.9,95.4 686.0,97.3 682.6,99.3 679.8,100.0 676.1,101.7 677.2,99.2 678.2,97.9 675.7,97.3 672.9,99.4 669.6,100.9 669.0,102.1 671.4,104.2 672.0,105.0 675.1,103.8 679.0,104.6 678.4,105.7 674.3,107.3 672.2,109.4 674.3,111.1 675.5,114.7 677.6,116.6 677.6,118.2 675.5,119.7 677.8,120.3 677.0,123.7 674.9,125.8 673.1,128.9 670.8,131.4 669.8,131.8 667.5,133.9 664.4,135.4 661.8,136.2 660.3,136.4 657.2,137.5 654.2,138.5 653.8,140.4 652.7,138.1 650.3,137.5 649.0,137.9 647.0,136.9 646.2,135.0 643.7,134.1 642.5,135.2 640.6,135.8 638.8,135.8 637.0,136.0 636.3,136.0 636.1,138.5 635.0,137.8 633.0,138.1 631.0,136.6 631.6,134.8 629.9,132.7 627.7,132.7 629.9,128.7 629.9,125.1 627.3,123.7 624.4,121.6 621.3,121.8 616.4,124.7 615.6,124.7 613.1,124.1 611.0,124.1 609.8,125.8 609.6,124.2 608.2,124.5 606.3,124.6 604.9,124.3 602.2,123.2 598.7,121.8 596.0,119.9 593.6,119.7 589.9,117.6 589.1,117.4 588.2,114.9 590.5,114.2 589.1,110.9 591.9,108.6 587.0,108.6 583.3,107.6 583.1,106.3 581.0,104.9 581.0,102.5 578.8,102.1 578.6,100.3 578.8,99.6 580.8,98.1 583.3,98.3 584.9,97.1 588.4,96.2 591.9,94.6 592.1,92.7 593.2,92.5 592.1,89.1 596.7,88.1 597.7,84.1 602.8,84.3 603.2,81.6 606.5,80.1Z" fill="#0575C8"/><path d="M650.5,142.7 652.1,141.0 654.4,140.8 655.2,141.9 654.2,143.6 652.3,144.8 650.5,144.2Z" fill="#0575C8" stroke-width="1.55"/><path d="M675.7,130.6 677.6,130.6 676.8,133.7 675.5,137.0 674.1,135.2 674.1,133.1Z" fill="#0575C8"/><path d="M607.5,79.9 608.0,81.2 612.1,82.6 614.1,85.4 613.9,88.3 619.2,88.9 623.2,90.2 625.2,93.5 632.6,93.7 636.3,93.9 642.9,95.8 648.0,94.2 653.1,93.7 656.8,91.4 657.0,88.7 660.5,89.1 665.5,87.2 668.3,85.8 673.3,85.2 673.1,84.1 670.6,82.6 669.2,82.4 665.5,82.6 664.6,82.0 666.9,78.6 664.4,77.8 662.0,77.6 657.2,79.5 650.1,79.7 646.0,77.6 638.8,77.6 637.3,75.5 630.5,74.1 628.5,75.1 628.5,78.2 622.3,78.2 617.2,76.6 612.1,78.0Z" fill="#7CA8E0"/><path d="M682.6,99.3 686.0,97.3 687.9,95.4 690.3,95.0 693.6,94.2 694.6,93.1 695.5,93.7 695.7,94.4 693.6,96.2 693.6,97.5 690.7,99.2 689.1,99.8 689.1,100.9 690.8,102.1 688.3,102.7 687.4,103.8 686.2,104.0 684.6,104.0 683.3,103.2 684.4,101.9 684.2,100.2Z" fill="#0575C8"/><path d="M686.2,104.0 687.4,103.8 688.3,102.7 690.8,102.1 693.0,105.2 693.0,107.6 692.6,109.2 690.1,109.9 687.0,111.1 686.8,108.6 687.0,106.1 687.2,104.8Z" fill="#7CA8E0"/><path d="M686.4,113.2 687.9,112.8 687.2,113.4Z" fill="#7CA8E0" stroke-width="1.55"/><path d="M716.8,96.0 717.8,98.1 718.9,100.2 717.8,102.7 716.8,104.4 716.0,106.9 716.5,108.2 714.8,109.6 714.3,108.4 713.1,109.2 712.3,110.5 711.1,110.5 708.6,110.5 708.4,109.6 707.2,112.8 706.1,112.9 704.7,111.1 705.1,110.3 702.4,110.3 699.4,111.1 696.3,111.8 696.3,110.9 699.6,108.7 702.8,108.5 705.5,108.6 706.7,107.1 708.2,104.8 709.2,104.4 708.6,105.9 711.7,104.6 713.7,102.3 714.8,99.6 714.8,97.9 715.4,96.7ZM715.4,96.0 714.8,94.6 715.4,92.3 718.0,87.9 719.9,89.3 723.6,90.8 725.6,90.2 726.3,92.3 723.0,93.1 721.3,95.0 718.5,93.7 716.8,94.4 717.0,95.4ZM696.1,111.9 697.7,112.6 698.3,114.2 697.1,117.2 695.7,118.0 694.6,117.4 694.6,114.7 693.6,113.4 694.8,112.6Z" fill="#7CA8E0"/><path d="M699.4,111.7 703.7,111.3 702.8,113.2 700.4,114.4 699.1,113.0ZM689.5,128.3 690.7,126.8 690.1,127.9ZM692.8,123.9 693.6,123.2 693.2,123.9ZM695.0,119.5 695.7,119.3 695.2,119.7ZM682.1,131.8 682.5,131.6 682.3,131.9ZM711.3,103.2 711.9,102.7 711.7,103.8ZM692.8,111.1 693.2,110.3 693.0,111.1Z" fill="#7CA8E0" stroke-width="1.55"/><path d="M617.4,138.3 616.8,139.6 618.2,141.5 620.9,144.8 620.9,149.4 623.2,149.8 626.0,147.5 626.8,147.5 627.7,148.4 628.1,151.5 628.9,154.6 629.7,158.4 629.6,162.0 630.1,160.5 631.8,158.2 631.0,155.3 628.9,151.3 629.7,148.8 627.3,144.2 628.5,141.7 632.8,140.3 633.8,139.4 635.0,137.8 633.0,138.1 631.0,136.6 631.6,134.8 629.9,132.7 627.7,132.7 629.9,128.7 629.9,125.1 627.3,123.7 626.4,124.9 622.7,127.2 621.5,130.2 619.0,132.7 618.6,136.4Z" fill="#D8554E"/><path d="M629.6,162.0 630.1,160.5 631.8,158.2 631.0,155.3 628.9,151.3 629.7,148.8 627.3,144.2 628.5,141.7 632.8,140.3 633.8,142.1 635.3,142.1 634.7,145.6 636.9,144.8 639.4,144.4 642.3,146.5 642.5,148.6 644.1,150.5 643.3,152.9 638.8,153.1 637.5,154.4 638.6,158.5 637.1,157.2 634.4,156.3 634.6,154.9 633.2,154.6 632.6,156.7 631.2,160.3 631.2,163.4 633.2,165.3 633.8,167.8 636.3,168.7 636.9,169.8 634.9,171.0 632.8,169.4 631.8,167.8 629.3,166.2 629.1,164.1Z" fill="#D8554E"/><path d="M632.8,140.3 633.8,139.4 635.0,137.8 636.1,138.5 636.3,136.0 637.0,136.0 638.6,137.5 640.6,139.2 642.7,140.4 640.8,142.3 643.3,144.0 646.0,147.3 648.0,149.6 648.0,152.1 644.9,152.9 643.3,152.9 644.1,150.5 642.5,148.6 642.3,146.5 639.4,144.4 636.9,144.8 634.7,145.6 635.3,142.1 633.8,142.1Z" fill="#D8554E"/><path d="M649.0,137.9 646.6,139.6 644.7,142.1 644.3,143.8 646.0,145.9 647.6,147.7 649.6,149.2 651.3,152.6 651.9,156.1 651.5,158.4 648.8,160.5 647.0,161.3 646.0,162.8 643.5,164.5 642.4,164.9 642.7,162.4 641.7,161.1 643.1,160.0 645.3,159.9 644.7,158.4 648.0,157.2 648.0,152.1 648.0,149.6 646.0,147.3 643.3,144.0 640.8,142.3 642.7,140.4 640.6,139.2 638.6,137.5 637.0,136.0 638.8,135.8 640.6,135.8 642.5,135.2 643.7,134.1 646.2,135.0 647.0,136.9Z" fill="#D8554E"/><path d="M638.6,158.5 637.5,154.4 638.8,153.1 643.3,152.9 644.9,152.9 648.0,152.1 648.0,157.2 644.7,158.4 645.3,159.9 643.1,160.0 641.7,161.1 640.0,160.9 639.0,159.7Z" fill="#D8554E"/><path d="M632.8,169.4 634.9,171.0 636.9,169.8 639.6,172.9 639.6,175.6 641.2,180.0 639.8,180.2 637.1,178.3 635.3,176.6 633.8,174.1 633.2,171.4ZM652.3,178.7 655.6,180.0 656.0,177.9 659.3,176.2 661.4,173.5 661.6,173.3 662.8,174.5 663.8,173.9 664.0,172.6 664.6,171.4 665.5,170.3 666.9,168.2 669.0,169.5 672.0,171.8 669.8,173.9 668.8,174.2 664.8,174.1 664.4,176.6 663.0,178.9 660.5,180.2 657.7,179.8 654.4,181.1 652.3,180.2Z" fill="#D8554E"/><path d="M640.0,180.0 640.8,179.9 640.6,180.3Z" fill="#FFFFFF" stroke-width="1.55"/><path d="M661.6,173.3 663.2,172.4 664.0,172.6 663.8,173.9 662.8,174.5Z" fill="#7CA8E0"/><path d="M622.9,171.2 627.5,172.0 629.9,174.9 633.4,178.1 636.3,179.3 639.6,181.9 640.4,185.0 642.0,187.1 645.1,189.2 644.7,192.3 644.5,195.1 642.0,195.0 637.3,191.3 634.4,187.5 633.2,184.8 630.5,181.0 627.9,177.7 624.8,174.5ZM643.3,197.1 645.1,195.2 647.0,195.4 650.1,196.5 654.2,197.3 655.2,196.3 658.5,197.3 662.4,199.2 662.2,201.1 658.7,200.5 653.1,199.4 649.0,199.2 645.7,198.4ZM652.3,178.7 651.1,179.8 651.1,182.3 651.5,184.8 653.1,186.0 653.6,189.0 656.6,189.6 659.3,189.8 662.4,190.4 662.8,191.6 665.5,190.6 666.5,188.1 666.5,186.0 668.5,184.4 668.5,181.9 671.6,180.8 669.4,178.7 668.8,176.2 668.8,174.2 664.8,174.1 664.4,176.6 663.0,178.9 660.5,180.2 657.7,179.8 654.4,181.1 652.3,180.2ZM673.3,181.2 674.1,180.2 675.7,180.2 679.8,180.8 683.5,179.3 684.4,179.8 682.7,181.9 679.8,181.9 676.4,181.9 674.3,182.1 673.7,184.4 675.7,185.6 677.2,184.8 680.5,184.6 680.7,185.0 678.4,186.2 677.2,186.9 678.8,189.6 679.6,191.9 680.3,192.7 678.8,194.4 677.0,192.9 676.4,190.9 675.5,188.6 674.3,189.2 674.5,194.4 672.7,194.6 672.7,190.2 671.2,188.8 672.2,185.6 673.3,182.9ZM696.7,184.6 699.4,183.6 702.4,184.6 702.8,187.7 704.5,189.8 707.6,187.5 710.7,186.2 716.8,188.3 716.8,201.9 713.7,199.9 711.1,200.5 710.0,198.2 712.3,197.1 710.7,194.4 706.3,192.3 701.4,191.3 700.0,191.5 700.2,188.8 701.8,188.1 698.3,187.5 696.1,185.8Z" fill="#7CA8E0"/><path d="M662.4,200.1 663.8,199.7 664.8,200.5 663.8,201.3ZM665.5,200.3 666.9,200.4 666.5,201.5 665.5,201.3ZM667.1,200.7 669.6,199.9 671.8,200.9 670.2,201.3 667.5,201.7ZM673.5,200.7 676.8,200.7 679.8,200.3 679.4,201.1 674.7,201.4ZM671.6,202.8 673.7,202.5 675.3,204.2 673.3,203.8ZM680.9,204.5 683.8,202.2 683.8,203.2 682.1,204.2ZM689.1,180.8 690.1,178.5 691.5,179.8 690.1,181.9 691.8,182.3 690.5,184.6 689.7,182.5ZM690.1,189.2 693.2,188.8 695.9,190.0 693.8,190.0 690.5,190.2ZM686.0,189.4 688.5,189.8 687.6,190.9 686.2,190.2ZM682.5,186.5 684.6,186.7 686.0,186.9 683.5,187.0ZM678.6,193.6 680.3,194.0 679.0,194.6ZM695.9,183.5 696.9,183.5 696.3,183.0ZM703.1,195.0 703.9,196.1 703.1,197.1 702.6,195.9ZM696.3,199.0 697.7,198.0 697.3,199.4ZM685.6,199.2 687.4,198.8 686.4,199.4ZM644.3,186.2 646.4,188.1 644.9,189.0 643.3,187.1ZM648.2,188.3 649.6,189.0 648.6,189.6ZM626.4,180.0 628.3,181.6 627.3,180.8ZM629.7,185.0 631.2,186.7 630.3,186.0ZM632.4,188.6 633.4,189.6 632.8,189.2ZM624.0,177.0 625.4,177.9 624.4,177.5ZM649.0,174.7 649.9,174.9 649.2,175.4ZM641.4,180.8 642.0,180.6 641.8,181.2ZM641.6,183.3 642.7,183.5 642.0,184.2ZM705.5,184.4 707.6,185.4 706.5,185.4ZM705.5,186.2 708.2,186.7 707.0,186.9ZM687.6,174.5 688.1,173.7 687.4,173.9ZM684.8,175.8 685.4,175.2 685.0,175.4Z" fill="#7CA8E0" stroke-width="1.55"/><path d="M683.8,202.2 685.6,200.9 688.7,200.5 687.0,201.7 683.8,203.2Z" fill="#7CA8E0" stroke-width="1.55"/><path d="M716.8,188.3 719.9,189.6 724.0,190.9 726.7,193.4 729.1,195.5 730.8,196.9 729.1,197.3 731.2,200.1 733.9,201.9 736.9,204.5 734.9,204.9 729.5,202.8 727.1,199.9 724.0,198.8 721.9,200.3 721.5,201.7 716.8,201.9Z" fill="#0575C8"/><path d="M731.8,194.6 734.3,194.4 736.3,194.4 738.4,193.2 740.0,191.7 738.6,191.7 736.7,193.4 734.5,195.9 732.0,195.0ZM736.9,188.3 739.4,189.8 741.3,192.5 740.2,191.7 738.4,189.6ZM745.0,194.2 746.8,195.9 747.4,197.1 746.0,196.5ZM728.3,187.1 730.0,187.2 729.1,187.5ZM736.7,202.4 738.0,203.6 737.1,203.4ZM741.9,206.8 742.9,207.2 742.3,207.2Z" fill="#0575C8" stroke-width="1.55"/><path d="M674.9,144.2 678.2,144.2 678.4,147.3 677.0,149.6 677.0,153.0 679.2,153.0 682.1,156.5 680.5,155.7 678.8,154.4 677.2,153.8 674.9,154.0 675.5,152.3 673.9,151.9 673.3,148.8 674.5,148.2ZM678.0,168.5 679.4,166.6 680.7,164.7 683.3,165.1 685.0,162.4 686.8,165.1 687.2,167.6 686.4,169.7 684.8,171.2 684.6,168.7 682.3,169.9 681.9,167.2 680.5,167.2Z" fill="#7CA8E0"/><path d="M682.3,156.9 682.5,156.5 684.8,156.7 685.6,159.6 685.3,159.9 683.7,159.5 683.5,158.3ZM682.5,158.9 682.9,158.7 684.1,159.9 684.6,161.7 684.4,162.0 683.3,161.8ZM679.4,160.0 680.9,159.8 681.1,160.1 680.5,163.9 680.1,164.0 678.6,162.3ZM677.5,158.2 677.8,158.0 680.1,158.6 680.3,160.9 680.0,161.2 677.8,161.2 677.5,160.9ZM680.4,161.2 681.7,159.3 682.0,159.2 681.1,163.1ZM681.4,162.4 681.4,161.9 683.1,161.5 683.3,161.9 682.7,162.9ZM674.3,155.0 674.5,154.6 676.8,154.8 677.0,155.1 676.8,157.4 675.5,157.5ZM667.7,165.2 668.2,164.1 672.7,159.0 672.8,161.1 668.1,165.5ZM677.5,157.8 677.4,157.4 678.6,156.8 678.2,157.9ZM680.8,157.3 681.8,156.5 682.1,156.8 681.7,158.1 681.3,158.1ZM673.7,158.4 673.3,157.6 674.4,156.9 674.1,158.3ZM677.4,169.2 677.6,168.8 678.6,169.0 677.9,169.7ZM675.3,170.4 675.5,170.1 676.8,170.3 675.8,171.0ZM673.2,172.5 673.2,172.0 674.3,171.6 673.9,172.6ZM677.2,140.4 677.3,140.0 678.0,139.8 677.8,140.5ZM677.4,143.2 677.3,142.5 677.7,142.3 678.0,142.6 677.8,143.2Z" fill="#7CA8E0" stroke-width="1.55"/><path d="M661.6,228.5 661.8,230.0 660.3,233.1 660.1,237.5 661.8,237.9 662.6,242.6 664.8,248.8 663.6,253.2 663.6,254.7 669.4,256.4 673.7,253.9 680.9,253.9 686.0,250.5 692.2,249.0 696.7,248.8 702.8,251.3 705.7,255.9 709.6,252.0 710.2,251.1 709.6,254.5 708.4,256.8 710.9,254.9 711.7,257.4 714.1,258.7 716.0,262.4 721.9,264.1 724.4,262.9 727.9,264.7 731.2,262.2 735.3,261.4 735.7,257.6 738.0,253.6 740.4,250.3 741.7,246.3 742.7,242.8 741.7,239.4 741.9,235.2 737.4,232.1 736.9,230.2 733.9,227.5 731.8,224.8 728.7,223.1 727.1,219.7 725.9,216.4 725.6,214.1 722.8,213.0 721.7,209.3 719.9,205.3 718.3,209.7 718.0,213.2 716.6,219.5 713.7,219.5 710.2,216.4 705.5,214.1 706.5,210.7 708.4,208.4 705.5,208.0 701.4,207.6 699.6,206.6 695.9,208.9 694.4,211.2 693.2,214.1 690.5,214.1 688.1,212.0 685.0,213.2 682.5,217.2 680.9,219.3 678.2,220.6 676.1,223.7 671.6,224.8 667.5,226.2 664.4,227.9ZM724.4,268.1 728.1,268.9 731.8,268.5 731.8,271.2 731.0,273.3 728.7,274.2 726.1,272.7 725.4,271.2Z" fill="#7CA8E0"/><path d="M707.8,257.6 709.8,257.4 710.9,258.0 708.6,258.4ZM694.6,206.8 696.9,206.6 696.3,207.6 695.0,207.4ZM707.6,211.8 708.4,212.4 707.8,212.7ZM722.8,266.0 723.2,266.6 722.8,266.8ZM731.2,266.2 731.8,267.0 731.2,267.5ZM713.3,217.4 714.1,217.4 713.7,217.9ZM741.7,234.8 742.1,236.3 741.5,236.7Z" fill="#7CA8E0" stroke-width="1.55"/><path d="M781.9,254.9 785.2,256.8 786.2,260.1 788.5,261.6 791.2,262.4 793.8,261.8 792.6,264.7 790.8,265.4 790.6,267.5 787.3,270.0 786.2,269.3 787.1,267.0 784.6,265.6 784.2,265.2 785.8,264.1 786.0,261.2 783.0,256.2ZM781.9,267.7 785.0,268.9 785.2,270.2 784.0,271.6 782.1,274.2 782.7,274.6 779.1,275.6 778.0,279.0 775.4,280.4 772.9,280.4 769.2,279.2 769.8,277.5 772.3,275.4 776.4,273.3 779.1,271.2 780.5,268.5Z" fill="#7CA8E0"/><path d="M771.5,280.9 772.7,281.3 771.9,281.7ZM64.1,274.6 65.3,274.6 64.7,275.0Z" fill="#7CA8E0" stroke-width="1.55"/><path d="M376.9,45.8 378.3,44.3 381.0,43.9 383.0,45.8 385.5,44.6 390.2,44.3 394.3,43.7 397.2,45.2 399.3,46.9 396.8,48.3 393.3,49.4 390.2,50.0 385.1,50.0 380.6,49.4 382.0,48.1 377.9,47.1 382.0,46.6Z" fill="#033D68"/><path d="M414.1,73.6 414.9,71.3 414.5,69.9 415.9,69.0 415.3,68.0 414.7,67.4 412.2,67.2 410.2,67.6 409.5,69.3 406.7,69.5 406.7,71.1 408.7,71.8 407.5,72.8 407.1,73.6 406.0,74.5 407.7,75.1 410.4,74.5Z" fill="#033D68"/><path d="M415.5,78.1 420.0,77.6 423.1,77.0 427.2,76.6 430.1,75.7 428.6,75.1 430.7,72.8 427.8,72.2 427.4,70.7 426.8,69.5 424.3,68.0 423.5,66.3 421.0,65.7 422.1,65.1 423.1,63.6 423.5,62.6 420.0,62.1 419.0,62.3 420.8,60.3 416.9,60.3 415.7,62.6 415.5,64.6 415.7,66.9 417.3,66.3 416.9,68.2 420.0,68.0 420.6,69.9 421.0,71.1 418.0,71.3 418.8,72.4 418.0,73.6 416.5,74.5 420.6,75.1 418.6,75.9Z" fill="#033D68"/><path d="M412.0,63.2 414.5,60.7 414.3,61.9ZM420.2,59.4 421.9,59.0 421.2,59.8ZM423.9,56.1 425.1,57.1 424.5,57.5Z" fill="#033D68" stroke-width="1.55"/><path d="M423.5,92.1 424.7,89.6 424.7,86.6 422.7,84.1 418.2,82.6 417.5,81.6 421.0,80.8 423.9,81.2 423.5,78.9 424.7,79.5 427.6,79.3 430.5,77.8 430.5,76.4 432.3,75.9 433.4,76.8 435.8,78.2 437.3,78.7 439.1,79.3 440.1,79.3 444.0,80.3 442.8,83.3 441.6,83.7 439.7,85.4 439.5,86.2 441.6,86.8 441.0,88.5 441.6,90.4 442.6,91.2 440.6,92.5 438.3,92.3 435.4,91.9 433.6,92.7 433.6,94.2 430.7,93.9 428.6,93.3 426.2,93.3Z" fill="#033D68"/><path d="M444.9,94.2 446.5,92.9 446.7,95.0 446.1,96.2 445.1,95.6Z" fill="#033D68" stroke-width="1.55"/><path d="M423.5,92.1 419.4,91.9 415.3,91.6 410.8,91.4 408.3,92.7 408.9,95.0 410.4,94.8 413.6,95.2 414.5,95.8 413.0,97.1 412.8,99.8 412.2,100.6 412.8,101.3 412.2,102.9 412.0,105.0 414.1,105.9 414.9,107.1 416.1,107.3 418.2,106.1 422.7,106.1 425.8,104.2 427.6,101.9 426.6,100.2 428.8,97.7 431.7,96.2 434.0,94.4 433.6,94.2 430.7,93.9 428.6,93.3 426.2,93.3Z" fill="#033D68"/><path d="M432.1,100.2 433.6,99.4 434.2,99.8 433.6,100.6ZM429.7,101.5 430.5,101.1 430.3,101.6ZM435.0,99.2 436.0,99.4 435.4,99.4ZM390.2,122.8 390.6,123.2 390.4,122.6ZM392.5,123.7 393.9,123.2 393.1,124.3ZM394.7,124.3 395.6,124.1 395.2,124.8ZM397.6,124.1 398.6,122.8 398.6,123.9ZM398.9,122.2 399.7,121.8 399.5,122.4Z" fill="#033D68" stroke-width="1.55"/><path d="M408.9,95.0 409.3,98.1 407.7,101.7 409.1,102.5 409.1,103.6 408.7,105.5 412.0,105.0 412.2,102.9 412.8,101.3 412.2,100.6 412.8,99.8 413.0,97.1 414.5,95.8 413.6,95.2 410.4,94.8Z" fill="#033D68"/><path d="M374.2,103.8 375.4,103.8 374.8,104.0ZM368.3,102.1 369.7,102.5 368.9,102.3ZM371.1,101.7 371.5,102.0 371.3,101.9ZM391.9,114.2 392.9,114.4 392.3,114.6Z" fill="#033D68" stroke-width="1.55"/><path d="M432.3,75.9 434.2,75.3 436.0,75.3 437.5,75.1 439.1,75.7 438.9,76.6 439.5,76.6 440.3,77.6 439.7,78.0 439.1,79.3 437.3,78.7 435.8,78.2 433.4,76.8Z" fill="#033D68"/><path d="M439.1,79.3 439.7,78.0 440.6,78.7 440.1,79.3Z" fill="#033D68"/><path d="M434.2,75.3 434.6,74.9 435.6,74.1 436.6,72.4 437.1,72.0 438.5,71.3 441.4,71.1 442.0,71.6 441.6,72.8 441.0,73.9 439.5,74.3 439.9,75.3 439.5,76.6 438.9,76.6 439.1,75.7 437.5,75.1 436.0,75.3Z" fill="#033D68"/><path d="M442.0,71.6 441.6,70.5 443.6,70.7 444.9,70.1 445.7,69.9 444.9,68.0 446.7,68.2 447.7,68.8 449.8,69.0 449.8,69.9 451.8,69.5 452.9,68.8 454.9,68.6 456.4,70.1 456.6,72.0 457.4,73.9 457.2,75.1 458.0,76.2 456.6,76.2 453.9,77.2 452.1,77.6 452.9,78.7 455.5,80.8 454.9,81.2 453.5,82.0 453.9,83.3 452.3,83.3 448.8,83.5 446.9,83.5 444.9,83.1 442.8,83.3 444.0,80.3 440.1,79.3 440.6,78.7 439.7,78.0 440.3,77.6 439.5,76.6 439.9,75.3 439.5,74.3 441.0,73.9 441.6,72.8Z" fill="#033D68"/><path d="M444.9,68.0 444.0,66.7 443.8,64.6 444.9,63.4 447.3,62.6 449.0,62.1 448.8,63.6 448.4,64.4 449.6,65.1 448.2,65.9 447.1,66.7 446.7,68.2Z" fill="#033D68"/><path d="M450.0,66.3 451.4,65.7 453.1,65.7 453.1,66.9 451.8,68.0 450.2,67.4ZM447.3,66.9 449.2,66.7 449.2,67.7 447.7,67.7ZM449.8,68.2 451.8,68.3 451.4,68.6ZM457.4,67.4 458.2,67.5 457.8,67.8Z" fill="#033D68" stroke-width="1.55"/><path d="M439.5,86.2 439.7,85.4 441.6,83.7 442.8,83.3 444.9,83.1 446.9,83.5 446.7,84.3 448.6,84.7 448.6,85.6 447.9,86.2 446.3,85.8 445.7,87.0 444.5,85.8 443.4,86.8 441.6,86.8Z" fill="#033D68"/><path d="M446.9,83.5 448.8,83.5 452.3,83.3 453.9,83.3 453.5,82.0 454.9,81.2 455.5,80.8 457.4,81.2 457.8,80.3 461.9,81.2 462.3,82.2 461.1,83.1 460.3,84.7 457.2,85.8 455.3,85.6 452.7,85.2 452.3,84.4 449.8,84.9 448.6,84.7 446.7,84.3Z" fill="#033D68"/><path d="M442.6,91.2 441.6,90.4 441.0,88.5 441.6,86.8 443.4,86.8 444.5,85.8 445.7,87.0 446.3,85.8 447.9,86.2 448.6,85.6 448.6,84.7 449.8,84.9 452.3,84.4 452.7,85.2 455.3,85.6 454.7,86.2 455.1,87.0 455.5,87.5 454.1,87.2 452.5,88.1 452.7,90.2 455.1,91.9 456.4,94.2 458.4,95.2 460.5,95.2 459.9,96.0 462.1,97.1 465.2,99.0 465.0,99.6 464.0,98.6 462.1,98.1 461.3,99.8 462.3,101.3 461.1,102.5 460.1,103.6 459.3,102.9 460.5,101.3 459.4,99.2 457.8,98.6 456.8,97.7 455.1,96.7 452.5,95.6 450.0,94.2 448.8,92.9 448.2,91.0 445.5,90.0 443.8,91.0Z" fill="#033D68"/><path d="M452.7,103.4 454.5,102.9 459.2,102.7 458.2,106.1 456.6,105.5 452.9,104.2ZM444.0,97.3 446.1,96.5 447.3,98.1 446.9,100.9 445.5,101.5 444.5,100.9 444.5,98.6Z" fill="#033D68" stroke-width="1.55"/><path d="M456.6,107.6 457.2,107.8 456.8,108.0Z" fill="#033D68" stroke-width="1.55"/><path d="M450.2,59.2 449.0,58.8 449.2,57.5 448.4,59.4 445.7,60.7 443.6,61.3 441.6,61.5 438.9,60.0 437.9,58.4 437.5,56.3 437.5,54.2 437.9,52.7 440.6,51.5 444.7,50.0 447.7,48.9 449.4,47.9 450.8,46.9 452.9,44.8 454.9,42.7 457.6,41.0 459.0,39.9 463.1,38.1 466.2,36.4 470.3,35.8 475.5,34.5 480.2,34.1 484.7,34.3 490.9,35.6 488.8,37.0 490.7,37.0 486.6,38.4 487.4,37.4 484.5,36.2 480.6,36.6 480.0,38.1 477.9,39.3 474.4,39.1 471.6,37.9 469.4,38.4 468.3,39.7 464.4,39.5 464.0,40.6 461.5,40.6 460.1,42.3 458.8,43.9 457.0,44.6 457.2,46.2 455.3,47.7 456.2,48.5 453.3,48.9 451.8,50.4 452.3,52.5 452.5,54.0 453.7,54.6 452.3,55.2 453.1,56.5 451.4,57.5 451.6,57.9 451.2,58.8Z" fill="#033D68"/><path d="M453.9,40.6 457.0,40.2 459.7,38.7 458.0,38.9Z" fill="#033D68" stroke-width="1.55"/><path d="M450.2,59.2 450.4,60.9 451.6,62.3 452.9,64.0 453.3,65.5 453.9,66.9 456.4,66.9 456.8,66.5 456.6,65.7 459.7,65.5 460.9,64.2 461.5,61.9 461.7,60.3 464.0,59.6 465.2,58.6 466.2,57.7 463.1,55.9 462.7,53.8 463.1,52.3 465.2,51.0 467.9,49.8 469.9,48.9 471.4,47.7 471.2,46.2 472.8,45.4 476.8,45.2 475.9,44.1 476.5,42.7 475.7,41.6 475.3,40.6 472.0,39.3 469.4,38.4 468.3,39.7 464.4,39.5 464.0,40.6 461.5,40.6 460.1,42.3 458.8,43.9 457.0,44.6 457.2,46.2 455.3,47.7 456.2,48.5 453.3,48.9 451.8,50.4 452.3,52.5 452.5,54.0 453.7,54.6 452.3,55.2 453.1,56.5 451.4,57.5 451.6,57.9 451.2,58.8Z" fill="#033D68"/><path d="M464.6,63.6 465.8,61.7 466.6,61.7 465.8,63.0ZM460.9,65.3 461.3,63.8 462.3,62.9 461.7,64.2Z" fill="#033D68" stroke-width="1.55"/><path d="M476.8,45.2 479.2,46.6 477.5,47.9 474.0,49.8 471.4,50.8 471.0,53.1 471.4,54.2 471.0,55.6 473.0,56.9 474.4,57.6 478.5,56.9 481.6,56.5 484.3,56.2 486.8,54.8 488.8,53.3 491.3,52.1 492.1,51.3 488.8,49.6 489.8,48.5 488.2,47.1 488.6,45.4 487.0,42.9 488.8,41.2 485.9,40.2 485.7,38.7 486.6,38.4 487.4,37.4 484.5,36.2 480.6,36.6 480.0,38.1 477.9,39.3 474.4,39.1 471.6,37.9 469.4,38.4 472.0,39.3 475.3,40.6 475.7,41.6 476.5,42.7 475.9,44.1Z" fill="#033D68"/><path d="M467.5,56.9 468.9,56.5 468.7,57.2Z" fill="#033D68" stroke-width="1.55"/><path d="M475.5,59.0 477.5,58.4 480.2,58.2 484.9,58.6 483.5,59.8 483.7,61.9 483.5,62.4 480.6,61.9 479.2,61.5 477.1,61.7 477.5,60.9 475.5,60.0Z" fill="#033D68"/><path d="M472.4,60.9 473.4,60.3 474.9,60.3 474.0,61.1 472.8,61.5ZM472.8,59.6 474.2,59.4 474.0,59.8Z" fill="#033D68" stroke-width="1.55"/><path d="M477.1,61.7 479.2,61.5 480.6,61.9 483.5,62.4 484.3,63.0 485.1,65.3 483.9,66.1 481.8,66.3 478.5,65.1 478.3,64.9 474.2,64.9 470.4,65.5 470.3,64.0 471.6,62.6 473.6,62.0 474.9,63.0 476.3,63.6 477.3,63.0Z" fill="#7CA8E0"/><path d="M470.4,65.5 474.2,64.9 478.3,64.9 478.5,65.1 481.8,66.3 482.2,67.2 480.2,68.0 479.8,69.3 477.3,70.1 475.5,70.0 475.3,69.5 474.0,69.0 473.6,67.8 471.0,67.3 470.3,67.2 470.5,66.3Z" fill="#7CA8E0"/><path d="M475.5,70.0 477.3,70.1 479.8,69.3 480.2,68.0 482.2,67.2 481.8,66.3 483.9,66.1 485.1,65.3 487.6,66.1 490.7,66.5 490.5,68.2 491.5,69.5 494.4,71.1 491.7,71.6 492.5,73.9 490.1,75.5 487.4,75.3 483.1,74.9 478.5,74.3 475.7,75.1 475.9,73.9 474.9,73.4 476.3,72.6Z" fill="#7CA8E0"/><path d="M456.4,70.1 460.5,69.3 464.2,68.2 465.4,69.0 467.5,68.9 474.0,69.0 475.3,69.5 475.5,70.0 476.3,72.6 474.9,73.4 475.9,73.9 475.7,75.1 476.7,76.6 474.4,78.5 473.6,80.1 470.3,79.5 468.3,79.9 466.2,79.3 465.8,79.3 464.2,78.2 461.9,77.4 460.7,77.0 458.0,76.2 457.2,75.1 457.4,73.9 456.6,72.0Z" fill="#033D68"/><path d="M452.1,77.6 453.9,77.2 456.6,76.2 458.0,76.2 460.7,77.0 461.9,77.4 464.2,78.2 465.8,79.3 464.4,80.1 462.5,80.8 461.9,81.2 457.8,80.3 457.4,81.2 455.5,80.8 452.9,78.7Z" fill="#7CA8E0"/><path d="M461.9,81.2 462.5,80.8 464.4,80.1 465.8,79.3 466.2,79.3 468.3,79.9 470.3,79.5 473.6,80.1 472.6,81.6 471.4,81.4 469.3,81.4 467.3,82.0 465.8,82.9 463.8,83.0 462.3,82.2Z" fill="#7CA8E0"/><path d="M460.3,84.7 461.1,83.1 462.3,82.2 463.8,83.0 465.8,82.9 467.3,82.0 469.3,81.4 471.4,81.4 472.6,81.6 474.2,82.4 472.4,83.7 470.7,85.8 468.9,86.3 466.0,86.8 463.6,86.7 461.3,85.6 460.9,85.2Z" fill="#7CA8E0"/><path d="M455.3,85.6 457.2,85.8 460.3,84.7 460.9,85.2 461.3,85.6 459.4,86.2 458.6,87.7 457.2,87.7 455.1,87.8 455.5,87.5 455.1,87.0 454.7,86.2Z" fill="#7CA8E0"/><path d="M455.1,87.8 457.2,87.7 458.6,87.7 459.4,86.2 461.3,85.6 463.6,86.7 466.0,86.8 467.0,88.3 466.2,88.9 462.1,88.3 460.7,88.7 459.7,88.3 459.7,89.3 460.5,90.4 463.4,92.8 465.1,93.8 465.2,94.2 463.4,93.1 461.1,91.9 458.4,90.4 457.8,88.5 456.6,88.1 455.8,89.1Z" fill="#7CA8E0"/><path d="M456.6,88.3 457.6,89.6 457.0,89.6ZM460.9,92.3 462.5,92.7 461.3,92.6Z" fill="#7CA8E0" stroke-width="1.55"/><path d="M459.7,88.3 460.7,88.7 462.1,88.3 466.2,88.9 467.5,90.8 466.6,91.9 465.6,92.5 465.1,93.8 463.4,92.8 460.5,90.4 459.7,89.3Z" fill="#7CA8E0"/><path d="M465.1,93.8 465.6,92.5 466.6,91.9 468.9,93.3 468.3,93.7 467.0,95.3 465.2,94.2Z" fill="#7CA8E0"/><path d="M466.0,86.8 468.9,86.3 471.4,88.3 471.2,89.1 473.4,89.3 473.8,90.4 473.2,90.8 474.4,92.5 473.2,94.4 471.6,94.5 472.0,93.5 470.5,92.5 469.5,92.5 468.9,93.3 466.6,91.9 467.5,90.8 466.2,88.9 467.0,88.3Z" fill="#7CA8E0"/><path d="M468.9,93.3 469.5,92.5 470.5,92.5 472.0,93.5 471.6,94.5 469.9,94.8 469.3,94.6 468.3,93.7Z" fill="#FFFFFF"/><path d="M469.2,96.0 469.3,94.6 469.9,94.8 471.6,94.5 473.2,94.4 474.4,95.6 474.2,96.4 472.4,96.8 470.3,97.4Z" fill="#7CA8E0"/><path d="M467.0,95.3 468.3,93.7 469.3,94.6 469.2,96.0 470.3,97.4 469.7,99.0 468.3,99.8 467.0,98.6 467.0,96.2Z" fill="#7CA8E0"/><path d="M468.3,99.8 469.7,99.0 470.3,97.4 472.4,96.8 474.2,96.4 477.5,96.0 479.0,96.6 480.8,96.4 481.2,95.6 481.8,96.5 481.2,97.2 480.6,97.5 478.8,97.2 477.3,97.2 476.1,97.6 477.3,98.9 476.3,98.3 476.5,99.3 475.7,98.7 475.9,99.3 475.1,98.7 474.2,97.9 473.6,98.2 473.6,99.2 474.2,100.0 475.2,100.9 474.3,100.6 474.1,101.5 474.6,102.0 475.7,102.3 476.6,103.1 476.6,104.1 475.8,103.5 474.6,103.4 474.2,102.9 473.2,102.6 471.9,102.6 470.5,102.7 469.8,101.5 470.5,101.2 469.7,101.1 468.7,100.1Z" fill="#033D68"/><path d="M474.5,103.4 474.9,104.2 475.5,104.5 474.0,104.3 474.3,105.5 474.9,106.6 474.0,105.9 473.4,106.7 472.7,105.5 472.2,106.0 471.6,105.0 470.5,103.7 471.1,102.9 472.1,102.7 473.2,103.1 474.2,103.5ZM475.5,109.1 475.7,108.3 476.5,108.6 477.2,108.9 478.5,108.8 480.1,108.9 481.2,109.0 481.1,109.5 479.6,109.6 478.0,109.8 476.5,109.3ZM474.4,101.6 475.1,101.3 476.7,102.0 477.7,103.1 477.6,103.5 476.9,103.2 475.7,102.5 474.9,101.9ZM480.3,100.9 481.0,100.4 481.8,101.2 480.9,101.3ZM480.3,102.2 480.9,102.2 480.8,102.9 480.4,102.8ZM481.8,103.8 482.8,103.9 482.2,104.1ZM484.1,107.2 485.1,106.6 484.9,107.4 484.2,107.8ZM482.6,105.7 483.3,105.8 482.9,106.1ZM478.7,99.3 479.5,99.4 479.1,99.6ZM477.6,97.6 478.0,97.7 477.8,97.9ZM479.5,98.1 480.0,98.2 479.7,98.3ZM477.5,101.4 477.8,101.7 477.5,101.8ZM477.9,103.5 478.4,103.9 478.1,104.0ZM478.7,104.1 479.1,104.3 478.8,104.4ZM479.4,105.1 479.8,105.2 479.6,105.6ZM478.8,105.2 479.2,105.4 479.0,105.6ZM477.2,106.0 477.5,106.1 477.3,106.2ZM479.3,106.6 479.6,106.7 479.4,106.8ZM480.2,105.7 480.6,105.8 480.4,105.9ZM480.7,104.1 481.3,104.2 481.0,104.3ZM482.9,107.9 483.1,108.6 482.8,108.7ZM474.2,106.9 474.6,107.0 474.4,107.2ZM469.6,103.7 470.2,103.9 469.9,104.1ZM469.1,102.6 469.8,102.9 469.4,103.3ZM469.5,101.7 469.8,101.9 469.5,102.1ZM467.6,99.6 468.5,100.3 468.0,100.4ZM481.2,106.3 481.5,106.4 481.3,106.5ZM478.2,104.4 478.4,104.6 478.2,104.7ZM479.2,104.4 479.5,104.5 479.3,104.6ZM477.1,104.1 477.3,104.3 477.1,104.4ZM477.3,104.5 477.4,104.7 477.2,104.8ZM482.6,105.4 482.8,105.6 482.6,105.6ZM475.3,103.9 475.6,104.0 475.4,104.0ZM475.5,101.0 476.0,100.9 476.3,101.1 475.7,101.1Z" fill="#033D68" stroke-width="1.55"/><path d="M473.2,94.4 474.4,92.5 473.2,90.8 473.8,90.4 476.5,91.4 479.6,91.5 482.7,90.6 485.9,91.3 484.5,93.5 484.7,95.0 482.7,94.9 481.2,95.6 477.5,96.0 474.2,96.4 474.4,95.6Z" fill="#7CA8E0"/><path d="M468.9,86.3 470.7,85.8 472.4,83.7 474.2,82.4 477.5,82.5 481.8,81.9 483.7,83.5 485.1,85.6 485.1,87.8 488.2,88.1 488.0,89.1 485.9,91.3 482.7,90.6 479.6,91.5 476.5,91.4 473.8,90.4 473.4,89.3 471.2,89.1 471.4,88.3Z" fill="#7CA8E0"/><path d="M481.8,81.9 484.1,81.5 487.0,82.5 489.0,85.8 486.6,85.7 485.1,87.8 485.1,85.6 483.7,83.5Z" fill="#7CA8E0"/><path d="M472.6,81.6 473.6,80.1 474.4,78.5 476.7,76.6 475.7,75.1 478.5,74.3 483.1,74.9 487.4,75.3 490.1,75.5 492.5,73.9 496.6,73.3 497.9,75.6 500.3,77.4 505.3,78.5 509.6,79.1 508.9,81.2 508.9,82.7 505.7,84.3 502.6,85.2 499.1,86.4 499.1,87.2 502.2,87.9 499.9,88.7 497.0,90.0 495.8,89.6 494.0,88.0 496.0,87.0 496.2,86.4 495.0,86.4 492.5,85.4 490.3,85.6 488.2,88.1 485.1,87.8 486.6,85.7 489.0,85.8 487.0,82.5 484.1,81.5 481.8,81.9 477.5,82.5 474.2,82.4Z" fill="#033D68"/><path d="M487.2,96.7 491.5,96.9 495.6,95.0 499.1,94.9 502.2,96.5 505.3,97.1 509.4,97.1 512.4,96.0 514.5,96.1 516.5,96.9 517.0,99.0 519.2,99.8 518.4,100.4 517.6,100.4 518.2,102.5 519.2,105.0 514.3,105.2 510.8,105.2 506.9,106.1 503.2,106.1 502.6,107.0 501.6,107.9 501.6,106.3 500.1,106.3 498.3,105.9 496.4,107.2 494.6,107.5 490.9,105.8 489.8,106.9 488.0,107.1 485.3,105.9 483.5,105.5 483.1,103.6 481.2,102.7 482.5,102.3 482.0,100.6 480.8,100.2 481.0,99.1 482.0,98.3 483.7,98.6 486.8,98.3 488.6,97.6 487.0,97.1Z" fill="#F3C200"/><path d="M480.6,97.5 481.8,96.5 481.2,95.6 482.7,94.9 484.7,95.0 486.6,96.5 486.8,97.0 483.7,97.2 482.2,97.9 481.0,99.0 482.2,97.7Z" fill="#F3C200" stroke-width="1.55"/><path d="M493.5,109.5 495.0,108.9 498.3,108.2 496.8,109.5 495.0,110.5 493.7,110.2Z" fill="#033D68"/><path d="M137.6,37.2 141.7,37.4 146.8,38.7 150.9,37.2 156.1,37.0 161.2,36.2 166.3,35.8 170.4,37.4 174.6,36.8 180.7,37.6 186.9,38.7 191.0,38.7 193.0,40.2 190.4,41.0 197.2,41.2 201.3,40.8 204.3,41.8 205.4,39.3 209.5,38.9 213.6,40.6 218.7,41.2 223.9,41.0 225.1,39.7 228.0,40.8 230.0,42.0 231.0,40.4 229.6,38.5 232.1,36.8 229.0,35.8 230.0,33.3 233.1,32.2 236.2,34.3 238.2,37.0 241.3,37.6 240.3,39.5 243.4,38.3 246.4,39.5 246.9,42.0 249.5,41.2 251.6,38.5 251.6,36.8 257.7,36.8 260.2,38.1 259.8,39.7 257.7,41.6 260.2,42.0 255.7,44.1 250.6,44.3 250.6,45.2 247.5,46.2 246.4,48.5 242.3,48.9 241.3,50.0 237.2,51.5 235.2,53.6 233.1,56.3 232.5,59.4 236.2,60.0 237.2,63.6 241.3,63.2 246.4,64.6 251.6,66.7 257.7,67.4 258.4,72.0 260.8,74.1 262.9,75.7 264.9,75.1 265.3,72.4 264.3,69.3 263.9,68.2 269.0,65.7 270.1,62.6 268.0,60.5 266.0,59.4 268.0,57.3 267.0,55.2 267.0,52.3 272.1,52.5 276.2,52.3 279.3,54.0 283.4,55.2 284.4,59.4 287.5,60.7 291.6,59.8 293.7,56.7 295.1,56.9 298.8,60.9 300.9,64.6 304.0,67.2 308.1,68.2 310.1,70.5 312.6,72.0 312.6,74.1 310.1,75.3 306.4,76.2 304.0,77.8 299.9,77.6 295.7,77.6 290.6,77.8 288.6,79.7 285.5,81.4 283.4,83.5 281.4,84.7 283.4,84.5 286.5,81.6 290.6,80.1 293.7,79.9 295.1,80.8 292.7,82.4 294.1,84.1 294.1,86.0 296.2,86.8 299.9,87.0 301.9,87.2 302.9,84.5 304.4,86.6 301.9,88.3 296.8,89.6 292.7,91.9 291.2,91.2 291.6,89.8 294.7,88.1 291.6,88.3 289.4,88.5 287.9,87.2 287.9,84.3 285.1,83.7 282.8,86.6 280.3,88.7 273.8,88.7 270.5,90.4 270.1,91.6 264.9,92.3 264.9,93.3 257.7,95.2 256.7,94.4 258.0,92.9 258.4,88.1 255.7,86.6 253.6,85.6 250.6,84.1 245.6,81.8 243.2,82.4 240.3,82.0 236.2,81.2 231.7,80.3 173.9,80.3 174.1,79.3 170.9,77.6 166.3,76.2 164.7,74.1 162.6,71.3 159.6,69.3 160.2,65.9 160.2,65.5 156.1,63.6 153.0,59.8 148.9,57.9 144.8,59.4 141.7,57.3 137.6,56.7ZM173.7,81.6 170.4,81.0 167.4,79.3 163.7,77.0 165.3,76.6 169.4,77.8 172.5,79.7ZM305.6,83.3 307.0,81.4 309.1,77.2 312.2,74.9 313.2,75.5 311.1,78.2 313.2,78.7 316.7,79.3 318.3,81.4 319.0,83.5 317.3,85.4 315.3,84.5 313.2,84.7 311.1,83.5 308.1,83.3ZM243.8,28.4 244.4,27.9 260.8,28.1 275.3,32.3 281.5,33.7 286.7,35.2 288.9,38.0 291.9,40.0 299.2,42.2 301.2,43.7 301.2,44.6 297.1,47.3 296.6,47.4 291.3,45.4 293.2,47.6 294.8,50.3 294.4,51.2 291.8,51.8 290.1,51.4 292.0,52.7 292.2,53.3 291.6,53.7 287.4,53.5 281.2,52.0 277.0,49.5 274.1,48.5 268.7,48.8 266.7,47.3 266.6,46.4 267.6,45.4 274.9,45.2 276.5,41.3 274.0,40.1 264.8,37.4 264.4,36.8 260.8,37.2 252.5,37.0 247.4,36.3 243.2,34.8 241.8,32.5 241.9,31.8 243.8,29.9ZM248.2,46.9 248.3,45.9 251.8,44.6 259.0,47.4 262.1,49.1 262.4,49.7 261.8,50.2 255.8,50.0 251.4,51.2 248.3,50.1 248.2,49.1 249.9,48.2ZM186.6,36.9 184.5,35.6 184.6,34.6 185.8,34.0 182.7,33.6 182.3,32.7 184.8,29.9 193.0,29.1 203.2,30.2 208.3,28.3 212.8,30.0 213.1,30.7 212.1,33.3 212.9,35.1 217.7,34.8 218.2,35.1 219.2,37.2 218.8,38.0 212.7,39.5 207.4,39.3 199.2,39.9ZM169.9,32.7 168.9,30.4 169.1,29.7 172.5,26.8 177.7,26.4 184.9,26.8 190.0,27.4 190.4,28.4 189.0,30.1 182.1,30.7 179.8,33.8 174.4,34.4ZM217.2,32.5 216.2,30.4 216.5,29.6 221.8,27.4 227.2,27.5 230.3,29.2 230.6,29.9 229.2,32.8 224.0,34.2ZM229.4,31.8 229.4,28.6 229.9,28.1 234.2,27.0 241.4,27.4 241.9,28.0 241.9,30.1 241.5,30.7 235.3,32.8 230.0,32.4ZM186.4,25.8 185.4,24.1 185.7,23.3 189.0,22.2 197.1,22.6 202.4,22.0 209.6,23.2 210.1,23.8 210.1,25.9 209.5,26.5 201.2,26.9 191.0,26.7ZM213.1,25.3 215.6,22.6 221.7,21.8 227.1,23.3 227.3,24.3 223.8,26.5 213.6,26.3ZM174.0,23.8 174.0,22.2 174.5,21.6 180.6,20.5 189.0,21.4 189.5,21.9 189.1,22.5 182.7,25.0 174.5,24.4ZM230.0,22.2 238.2,21.2 244.5,22.6 258.8,22.4 264.1,24.3 264.4,25.2 263.4,27.1 262.9,27.3 252.6,27.6 239.2,27.1 229.8,23.3 229.4,22.7ZM242.1,22.7 246.1,20.7 248.2,18.1 251.3,16.5 248.3,15.0 238.1,13.3 237.7,12.8 238.1,12.2 246.3,10.1 267.0,8.4 287.6,8.6 299.9,10.1 300.4,10.6 300.1,11.2 293.8,13.9 273.3,19.2 269.4,20.6 267.0,23.4 242.3,23.8 241.8,23.3ZM229.4,15.9 229.4,13.8 229.9,13.2 236.3,12.4 245.5,14.0 248.9,16.4 248.9,17.3 246.4,19.6 236.1,19.0 229.8,16.4ZM211.4,16.6 215.6,15.3 223.8,14.9 228.3,18.1 228.1,19.2 221.7,20.2 211.4,17.7 211.0,17.2ZM190.8,19.1 195.1,17.8 203.3,18.0 203.9,18.4 203.7,19.1 201.2,20.9 190.9,20.2 190.4,19.7ZM256.2,51.8 256.7,50.9 259.8,50.7 263.2,52.6 263.4,53.3 262.9,53.7 257.7,53.7 257.3,53.4ZM222.5,37.6 224.9,36.0 229.0,36.2 231.5,38.5 231.1,39.5 226.8,40.1 222.6,38.6Z" fill="#033D68"/><path d="M157.7,73.6 155.0,72.0 154.0,69.7 156.5,69.9 156.5,72.0ZM295.1,85.2 297.8,85.8 299.9,85.7 298.8,86.6 295.7,86.2ZM294.4,79.0 294.2,78.3 294.8,77.9 297.9,78.3 300.5,79.6 300.8,80.3 300.2,80.7 296.7,80.3ZM261.4,52.9 261.4,52.2 262.0,51.9 264.1,52.6 264.4,53.5 263.7,54.3 262.9,54.4ZM262.4,65.0 262.8,64.1 264.9,63.9 265.4,64.8 264.4,66.2 263.5,66.3Z" fill="#033D68" stroke-width="1.55"/><path d="M173.9,80.3 231.7,80.3 236.2,81.2 240.3,82.0 243.2,82.4 245.6,81.8 250.6,84.1 253.6,85.6 255.7,86.6 258.4,88.1 258.0,92.9 256.7,94.4 257.7,95.2 264.9,93.3 264.9,92.3 270.1,91.6 270.5,90.4 273.8,88.7 280.3,88.7 282.8,86.6 285.1,83.7 287.9,84.3 287.9,87.2 289.4,88.5 289.6,89.1 286.5,90.2 283.0,91.6 281.8,93.5 282.2,95.0 283.4,95.4 283.4,96.0 280.7,96.0 278.3,96.7 275.6,97.3 279.3,97.3 275.4,98.1 274.8,100.2 273.4,101.3 272.1,100.2 272.9,102.3 271.9,103.6 271.1,105.2 270.5,102.3 270.1,104.8 271.1,105.7 271.7,107.6 272.1,109.0 270.1,110.3 267.2,111.7 264.3,113.4 260.8,115.9 260.0,119.3 261.6,123.2 262.9,126.8 262.5,129.9 260.6,130.4 259.2,127.9 257.3,124.7 257.1,122.2 254.7,119.9 252.0,120.7 249.5,119.3 246.4,119.5 243.4,119.7 243.6,122.0 240.5,122.0 238.2,121.2 234.5,120.7 232.5,121.4 229.0,123.5 227.1,125.3 227.6,128.7 223.6,127.6 222.8,125.3 221.2,123.7 218.9,120.5 216.7,120.5 215.2,122.2 212.6,120.9 211.7,118.9 208.4,116.3 205.0,116.3 205.0,117.4 199.2,117.4 191.6,114.5 186.7,114.9 183.8,111.7 179.5,110.5 176.8,106.3 175.6,103.8 172.9,100.6 171.9,98.3 172.1,95.4 171.5,93.3 172.5,89.8 172.5,86.0 171.1,81.6 174.6,82.0 175.6,83.9 176.0,81.8ZM137.6,37.2 137.6,56.7 141.7,57.3 144.8,59.4 148.9,57.9 153.0,59.8 156.1,63.6 160.2,65.5 160.2,67.4 157.1,67.8 154.0,67.8 153.0,65.7 149.9,63.6 146.8,61.1 143.7,59.8 140.7,58.2 136.6,57.5 131.4,57.3 127.3,56.1 123.2,55.6 122.2,57.3 120.1,57.7 115.4,58.8 116.4,55.9 120.1,54.6 116.0,54.8 112.9,57.3 110.5,60.5 105.7,63.6 100.6,66.1 94.5,67.6 88.7,68.6 92.4,67.2 97.5,65.7 103.1,62.6 103.7,60.3 101.6,59.8 98.6,59.8 94.5,59.4 94.5,57.3 90.3,57.5 88.3,56.3 88.3,54.2 86.2,53.8 88.3,51.7 89.3,51.0 96.5,50.0 96.9,47.7 93.4,48.1 89.3,47.9 85.2,47.9 82.1,45.6 86.2,44.3 90.3,43.7 94.5,44.6 94.7,42.9 91.4,42.7 90.3,41.2 85.8,39.7 85.8,38.7 92.4,37.4 95.5,35.8 102.7,34.7 105.5,33.7 109.9,34.5 114.0,34.7 119.1,35.3 124.2,36.0 129.4,36.4 133.5,36.2Z" fill="#033D68"/><path d="M109.9,62.6 112.9,63.6 115.0,62.3 114.0,60.7 111.9,61.5ZM74.5,50.0 78.0,50.8 80.5,50.4 77.4,49.6ZM83.6,56.9 86.9,57.5 85.8,56.5ZM106.8,143.1 108.8,142.1 108.6,140.6 106.8,140.6ZM105.3,139.2 106.8,139.6 106.4,138.9ZM102.3,138.1 103.3,138.3 102.7,137.5ZM99.0,136.9 100.0,137.1 99.8,136.4Z" fill="#033D68" stroke-width="1.55"/><path d="M186.7,114.9 187.7,117.0 188.9,119.1 190.6,121.6 192.6,123.9 192.6,124.7 191.0,124.7 192.6,126.2 194.1,127.0 196.3,128.5 196.7,130.6 197.2,131.6 199.2,133.1 201.3,135.0 202.3,134.1 200.6,132.0 199.6,130.6 198.6,128.5 197.2,126.4 195.5,124.7 195.1,122.8 193.0,120.5 191.6,119.1 191.4,116.3 195.1,117.6 196.1,120.1 196.7,121.8 198.8,124.3 200.2,124.7 202.5,127.4 205.4,130.6 208.4,134.1 210.1,135.8 210.9,137.9 210.5,140.2 212.6,142.9 214.6,144.6 217.7,145.2 219.7,146.9 221.8,147.3 224.9,148.8 226.9,149.6 230.0,150.0 233.1,149.0 234.5,149.8 237.8,152.6 237.8,151.1 238.8,149.2 241.3,149.2 239.5,146.9 240.3,145.6 244.0,145.6 245.8,144.2 247.1,144.6 247.5,142.1 247.7,140.4 248.9,138.5 247.5,137.9 245.4,137.9 241.7,138.9 241.3,141.5 239.3,144.2 237.2,144.0 233.1,144.8 230.4,143.6 229.4,142.5 227.3,138.9 226.3,135.8 226.5,132.7 227.6,128.7 223.6,127.6 222.8,125.3 221.2,123.7 218.9,120.5 216.7,120.5 215.2,122.2 212.6,120.9 211.7,118.9 208.4,116.3 205.0,116.3 205.0,117.4 199.2,117.4 191.6,114.5Z" fill="#D8554E"/><path d="M237.8,152.6 237.8,151.1 238.8,149.2 241.3,149.2 239.5,146.9 240.3,145.6 244.0,145.6 244.0,149.6 244.6,149.6 246.0,150.0 244.0,151.7 243.6,152.8 242.1,154.1 239.7,153.8Z" fill="#F3C200"/><path d="M244.0,145.6 244.2,145.2 245.8,144.2 246.2,146.3 245.8,148.4 244.6,149.6 244.0,149.6Z" fill="#F3C200"/><path d="M242.1,154.1 243.6,152.8 245.4,153.6 247.1,154.0 246.9,155.3 245.4,155.4 243.8,154.7Z" fill="#F3C200"/><path d="M244.0,151.7 246.0,150.0 247.5,149.8 250.6,149.6 252.6,149.6 254.7,150.0 256.3,151.5 253.6,152.1 252.2,153.0 251.0,153.8 249.1,155.1 247.9,155.7 246.9,155.3 247.1,154.0 245.4,153.6 243.6,152.8Z" fill="#F3C200"/><path d="M256.3,151.5 255.7,155.7 255.3,158.0 255.3,160.1 253.2,159.9 251.2,159.7 249.5,157.8 247.3,155.9 247.9,155.7 249.1,155.1 251.0,153.8 252.2,153.0 253.6,152.1Z" fill="#F3C200"/><path d="M255.3,160.1 256.7,162.0 257.5,162.8 256.9,164.3 256.9,165.9 255.5,165.1 254.3,163.2 253.0,162.4 252.4,162.8 251.0,162.0 251.2,159.7 253.2,159.9Z" fill="#F3C200"/><path d="M257.5,162.8 259.8,164.5 262.9,163.6 264.9,163.0 267.2,164.1 268.2,164.7 268.6,166.4 267.2,167.8 266.4,166.6 266.0,165.3 263.9,164.3 262.1,165.7 262.9,167.4 261.2,167.8 260.4,166.8 259.4,165.9 256.9,165.9 256.9,164.3Z" fill="#F3C200"/><path d="M252.8,137.1 254.7,135.4 256.7,134.8 257.7,134.4 260.8,134.6 262.9,135.0 264.9,136.0 268.0,137.3 270.1,138.5 271.7,138.9 274.8,140.6 272.1,141.2 267.6,141.4 268.6,139.8 266.4,139.4 265.3,137.7 261.9,137.3 259.2,136.4 258.2,135.6 255.7,136.4Z" fill="#F3C200"/><path d="M256.5,137.7 257.5,137.9 257.1,137.1Z" fill="#F3C200" stroke-width="1.55"/><path d="M266.2,144.6 268.0,144.2 270.5,145.0 269.2,145.6 267.4,145.4Z" fill="#8A8A8A" stroke-width="1.55"/><path d="M274.2,144.4 276.2,144.8 279.3,144.8 279.9,145.2 279.9,141.7 277.7,141.2 276.4,141.5 277.7,142.9 278.5,144.0 276.2,144.0Z" fill="#8A8A8A"/><path d="M279.9,145.2 280.5,146.1 282.4,144.6 284.4,144.4 286.7,144.6 286.3,143.3 284.4,142.9 283.4,141.7 279.9,141.5Z" fill="#8A8A8A"/><path d="M289.2,145.2 292.3,145.2 292.5,144.4 289.2,144.2Z" fill="#8A8A8A" stroke-width="1.55"/><path d="M266.4,130.6 267.6,132.2 267.2,130.4ZM267.4,126.6 269.0,127.6 268.6,128.7 268.8,127.4ZM265.1,127.0 267.2,127.0 266.2,127.4ZM269.7,129.5 270.7,130.2 270.7,131.2 270.3,130.2ZM272.1,131.8 272.5,132.5 272.7,134.3 273.4,134.6 272.9,133.3ZM275.8,138.7 277.1,138.5 276.8,139.2ZM267.0,131.6 267.8,133.1 267.6,131.8Z" fill="#8A8A8A" stroke-width="1.55"/><path d="M300.1,161.8 301.9,161.8 302.1,160.3 300.5,160.5Z" fill="#8A8A8A" stroke-width="1.55"/><path d="M300.3,147.1 300.7,147.3 300.5,146.9ZM300.3,148.8 301.5,149.0 300.7,149.4ZM300.9,150.5 301.5,150.9 301.1,151.1ZM301.5,151.9 302.3,152.6 301.9,152.8ZM301.7,153.6 302.1,154.2 301.9,154.0ZM301.3,155.1 301.7,155.5 301.5,155.3ZM304.6,155.1 305.2,155.5 304.8,155.7ZM300.3,157.4 300.7,157.8 300.5,157.6ZM297.6,145.0 298.0,145.2 297.8,145.0ZM298.2,146.5 298.8,147.1 298.4,146.9ZM293.9,144.4 294.5,144.6 294.1,145.9 294.3,145.6ZM285.1,157.4 287.1,157.4 285.7,157.6ZM283.2,156.5 283.6,156.9 283.4,156.7ZM294.9,159.9 296.2,159.9 295.7,160.1ZM260.0,142.5 260.6,142.5 260.4,142.4ZM279.3,137.1 280.3,137.5 279.9,137.3Z" fill="#8A8A8A" stroke-width="1.55"/><path d="M277.3,19.2 287.5,16.5 293.7,14.4 299.9,12.3 314.2,10.2 330.7,9.6 345.0,8.1 361.5,7.9 375.9,8.8 382.0,10.4 369.7,11.9 386.1,12.1 401.5,12.3 392.3,14.4 391.3,16.5 387.1,19.6 388.2,22.8 386.1,25.9 388.2,27.4 382.0,29.7 381.0,31.6 376.9,31.4 382.0,33.3 381.0,35.8 374.8,35.3 377.9,37.4 373.8,39.3 367.6,39.9 361.5,40.4 357.4,43.1 352.2,44.8 349.1,45.4 345.0,46.9 343.0,50.0 339.9,53.1 338.9,56.3 336.8,57.5 332.7,55.9 327.6,54.6 324.5,51.9 321.4,48.9 319.4,45.8 316.7,43.1 317.3,40.6 322.4,38.9 322.4,36.8 315.3,37.4 315.3,34.9 320.4,34.3 314.2,32.2 313.2,30.1 310.1,27.4 307.0,24.9 299.9,23.4 291.6,23.8 285.5,23.4 281.4,21.7 287.5,21.1 282.4,20.1Z" fill="#033D68"/><path d="M791.4,219.5 792.8,219.1 794.2,219.9 793.6,221.0 791.6,221.0ZM794.0,217.9 795.9,217.0 796.9,217.0 796.1,218.1 794.5,218.5Z" fill="#0575C8" stroke-width="1.55"/><path d="M755.2,202.4 757.5,203.0 757.1,203.6 755.4,203.4ZM757.3,200.5 758.9,202.6 758.5,203.2 757.3,201.5ZM752.6,198.6 755.4,200.3 755.0,200.7 752.8,199.4ZM748.7,196.9 750.7,198.0 750.3,198.4 748.9,197.6ZM750.1,199.6 751.7,200.5 751.1,201.1 750.1,200.3ZM758.5,204.5 760.8,205.1 760.4,205.6 758.7,205.1Z" fill="#0575C8" stroke-width="1.55"/><path d="M769.4,213.7 770.6,214.3 770.4,215.6 769.6,215.3ZM770.6,216.4 771.9,217.0 771.5,217.5 770.8,217.2Z" fill="#0575C8" stroke-width="1.55"/><path d="M275.2,198.4 276.8,196.5 277.5,193.8 281.8,191.7 283.6,191.7 284.7,185.2 283.4,183.3 283.4,181.6 284.4,181.6 285.0,180.8 283.8,180.6 283.8,179.3 287.7,179.3 289.8,180.4 291.0,181.3 292.7,181.2 295.7,178.7 296.9,178.1 295.1,176.6 295.3,174.3 298.2,174.5 300.9,173.7 302.5,172.0 303.8,172.0 304.8,174.7 304.0,177.2 304.4,180.0 307.0,180.2 311.1,178.9 315.0,178.1 316.3,175.4 315.5,172.4 316.3,170.8 318.5,171.8 321.0,174.1 322.4,174.7 323.5,179.1 324.5,181.0 323.9,182.9 326.6,183.3 326.7,183.4 327.8,183.5 327.6,184.4 329.6,184.2 334.8,186.0 336.2,188.1 338.3,187.9 340.9,188.8 345.0,188.8 348.1,190.6 350.8,192.9 354.7,193.8 355.7,197.8 355.3,201.5 352.2,204.9 348.1,210.1 347.1,214.3 346.7,219.5 345.5,223.9 343.2,228.5 341.1,230.8 338.5,231.0 335.4,231.7 332.1,233.1 328.6,235.9 327.4,238.4 327.2,242.6 324.5,245.3 322.4,248.4 320.2,250.3 317.5,253.4 318.1,251.3 316.5,249.9 313.2,247.6 312.2,247.6 308.9,246.1 312.8,242.3 316.9,239.6 316.7,237.7 315.1,236.5 315.6,233.4 313.4,233.1 312.6,229.6 308.3,229.2 307.7,225.0 309.1,220.6 307.5,219.1 307.2,217.0 303.5,217.0 302.9,211.8 300.3,211.2 297.4,209.3 294.9,208.9 293.1,207.0 292.8,203.2 290.4,203.6 286.5,205.9 282.2,205.9 282.2,202.8 278.9,203.8 277.3,202.2Z" fill="#7CA8E0"/><path d="M268.2,164.7 269.5,166.2 270.5,164.1 271.9,163.0 272.1,160.9 273.6,159.7 274.8,159.2 277.3,159.0 278.9,158.0 279.9,156.8 281.2,157.4 280.7,158.1 278.3,159.9 277.3,162.4 276.6,163.6 278.3,165.5 278.5,167.4 279.3,168.2 283.2,168.2 284.7,170.1 288.6,169.9 287.9,171.8 287.9,174.1 289.0,175.8 287.7,177.0 289.2,178.1 289.8,180.4 287.7,179.3 283.8,179.3 283.8,180.6 285.1,180.8 284.4,181.6 283.4,181.6 283.4,183.3 284.7,185.2 283.6,191.7 282.0,190.9 283.2,188.6 278.9,187.9 276.8,187.5 275.2,185.0 272.5,183.1 270.5,182.1 268.2,182.1 265.6,180.4 265.3,180.0 266.0,177.7 268.0,177.5 268.6,174.9 268.0,171.4 268.2,168.9 267.2,167.8 268.6,166.4Z" fill="#F3C200"/><path d="M280.7,158.1 279.5,159.0 280.1,160.1 279.1,162.0 280.3,163.9 281.4,162.4 280.5,160.1 283.0,159.0 283.0,157.8 283.4,157.4 284.0,158.8 286.7,159.5 287.1,160.7 291.6,160.7 293.7,161.8 295.3,160.9 298.4,160.5 300.1,160.5 298.2,161.1 299.2,162.4 302.1,163.4 301.9,165.1 304.4,165.5 302.5,167.2 301.7,168.9 301.1,170.6 302.5,172.0 300.9,173.7 298.2,174.5 295.3,174.3 295.1,176.6 297.0,178.1 295.7,178.7 292.7,181.2 291.0,181.3 289.8,180.4 289.2,178.1 287.7,177.0 289.0,175.8 287.9,174.1 287.9,171.8 288.6,169.9 284.7,170.1 283.2,168.2 279.3,168.2 278.5,167.4 278.3,165.5 276.6,163.6 277.3,162.4 278.3,159.9Z" fill="#F3C200"/><path d="M304.4,165.5 307.0,167.6 307.5,168.7 309.7,170.3 309.5,172.0 308.1,174.5 311.1,178.9 307.0,180.2 304.4,180.0 304.0,177.2 304.8,174.7 303.8,172.0 302.5,172.0 301.1,170.6 301.7,168.9 302.5,167.2Z" fill="#8A8A8A"/><path d="M309.7,170.3 312.4,170.6 316.3,170.8 315.5,172.4 316.3,175.4 315.1,178.1 312.2,178.7 311.1,178.9 308.1,174.5 309.5,172.0Z" fill="#F3C200"/><path d="M265.3,180.0 262.9,181.2 262.7,182.9 261.6,185.0 261.0,187.5 262.3,188.3 263.3,187.5 262.3,190.0 262.5,191.9 264.1,193.2 265.6,192.5 266.4,190.0 267.4,189.2 269.9,188.3 272.1,186.0 272.7,184.8 272.5,183.1 270.5,182.1 268.2,182.1 265.6,180.4Z" fill="#0575C8"/><path d="M239.3,183.5 240.7,184.4 239.9,185.0 239.3,184.4ZM241.3,183.9 241.9,184.2 241.5,184.6Z" fill="#0575C8" stroke-width="1.55"/><path d="M262.3,190.0 260.2,192.7 260.6,195.5 263.1,197.3 264.9,200.1 266.6,203.8 268.8,208.0 270.7,212.0 272.9,215.1 275.8,217.0 278.5,218.5 280.7,219.9 282.6,221.3 284.4,219.5 285.5,216.8 284.7,214.3 285.7,209.5 284.4,205.9 282.2,205.9 282.2,202.8 278.9,203.8 277.3,202.2 275.2,198.4 276.8,196.5 277.5,193.8 281.8,191.7 283.6,191.7 282.0,190.9 283.2,188.6 278.9,187.9 276.8,187.5 275.2,185.0 272.5,183.1 272.7,184.8 272.1,186.0 269.9,188.3 267.4,189.2 266.4,190.0 265.6,192.5 264.1,193.2 262.5,191.9Z" fill="#0575C8"/><path d="M284.4,219.5 285.7,222.7 286.5,223.7 287.1,227.5 287.7,230.6 289.2,230.6 291.2,228.5 293.3,229.2 295.1,230.6 298.2,228.9 299.2,225.8 300.3,223.9 305.8,223.3 307.7,225.0 308.3,222.9 309.1,220.6 307.5,219.1 307.2,217.0 303.5,217.0 302.9,211.8 300.3,211.2 297.4,209.3 294.9,208.9 293.1,207.0 292.9,203.2 290.4,203.6 286.5,205.9 284.4,205.9 285.7,209.5 284.7,214.3 285.5,216.8Z" fill="#0575C8"/><path d="M299.2,225.8 300.3,223.9 305.8,223.3 307.7,225.0 308.3,229.2 312.6,229.6 313.4,233.1 315.7,233.3 315.1,236.5 312.4,240.0 311.1,240.2 306.8,239.8 308.5,235.6 304.0,233.3 301.9,232.7 298.2,228.9Z" fill="#7CA8E0"/><path d="M308.9,246.1 312.2,247.6 313.2,247.6 316.5,249.9 318.1,251.3 317.5,253.4 314.4,256.1 311.8,255.9 308.5,254.9 307.2,254.1 307.7,252.0 308.1,248.8Z" fill="#D8554E"/><path d="M289.2,230.6 291.2,228.5 293.3,229.2 295.1,230.6 298.2,228.9 301.9,232.7 304.0,233.3 308.5,235.6 306.8,239.8 311.1,240.2 312.4,240.0 315.1,236.5 316.7,237.7 316.9,239.6 312.8,242.3 308.9,246.1 308.1,248.8 307.7,252.0 307.0,254.1 309.7,256.8 310.7,259.3 308.9,262.6 306.0,263.9 299.9,264.3 299.2,267.7 296.2,269.1 293.7,268.3 293.7,270.8 296.6,272.1 293.7,273.3 292.7,277.1 288.6,279.2 288.6,280.2 292.0,281.7 291.8,282.9 288.3,286.1 285.5,288.6 285.5,290.9 286.7,292.6 284.4,292.0 282.4,291.7 279.3,291.7 278.5,289.6 276.8,288.6 276.6,286.1 278.7,284.4 279.7,281.3 279.9,277.1 279.7,273.9 279.7,269.8 280.7,264.5 281.8,260.3 283.0,256.2 283.6,252.6 282.8,248.8 283.6,245.7 284.9,241.5 286.7,238.4 286.5,234.6 289.2,231.0 287.7,230.6ZM286.3,293.0 286.3,297.8 290.6,298.1 293.5,297.4 290.6,296.3 288.6,295.5 287.1,293.8Z" fill="#D8554E"/><path d="M282.6,221.3 283.0,224.8 282.6,232.1 282.2,236.1 280.3,243.6 280.1,247.8 280.1,252.0 278.1,257.2 276.8,260.3 275.8,265.6 275.6,269.8 274.6,273.3 276.2,270.8 277.7,271.9 276.6,275.0 274.2,277.1 271.9,280.6 274.2,281.3 272.3,284.4 271.9,287.6 273.6,291.7 275.6,293.8 280.3,295.9 281.6,293.8 282.4,293.2 284.4,292.6 286.7,292.6 284.4,292.0 282.4,291.7 279.3,291.7 278.5,289.6 276.8,288.6 276.6,286.1 278.7,284.4 279.7,281.3 279.9,277.1 279.7,273.9 279.7,269.8 280.7,264.5 281.8,260.3 283.0,256.2 283.6,252.6 282.8,248.8 283.6,245.7 284.9,241.5 286.7,238.4 286.5,234.6 289.2,231.0 287.7,230.6 287.1,227.5 286.5,223.7 285.7,222.7 284.4,219.5ZM286.3,293.0 287.1,293.8 284.4,293.0 282.4,294.5 283.0,295.9 280.3,296.3 279.3,297.2 283.4,298.4 286.5,299.3 289.0,299.9 290.0,298.6 286.3,297.8Z" fill="#D8554E"/><path d="M274.6,273.3 276.2,270.8 276.0,273.5Z" fill="#D8554E" stroke-width="1.55"/><path d="M399.9,124.5 409.1,124.5 409.1,127.4 398.6,127.4 399.3,126.0Z" fill="#FFFFFF"/><path d="M238.2,84.9 243.4,82.4 246.4,80.6 250.6,81.2 253.2,83.5 253.2,85.6 248.5,85.6 244.4,84.5ZM246.9,95.6 249.5,95.4 250.1,91.9 252.6,87.2 250.6,86.8 247.5,88.7 246.7,91.9ZM253.6,86.6 260.8,86.4 262.9,89.1 259.8,89.8 259.4,92.5 257.7,92.7 255.7,90.8 256.1,88.3ZM255.9,95.6 260.8,96.0 265.1,93.3 261.9,93.7 257.7,94.8ZM263.3,92.3 269.0,92.3 270.7,91.0 269.0,90.8 264.9,91.2Z" fill="#fff"/><path d="M88.3,69.5 85.2,70.3 82.1,71.1 79.0,72.2 76.0,73.0 71.9,73.6 68.8,73.9 65.7,74.5 62.6,74.7 59.5,75.3" fill="none" stroke-width="1.7" stroke-dasharray="2.4 1.6"/><path d="M795.9,75.3 792.8,74.5 788.7,74.1 784.6,73.2 781.7,72.2" fill="none" stroke-width="1.7" stroke-dasharray="2.4 1.6"/><path d="M275.6,270.4 274.2,276.0 272.7,281.3 272.7,287.6 274.6,292.4 278.3,295.5 283.4,298.0" fill="none" stroke="#06090f" stroke-width="2.4" stroke-linecap="round"/><path d="M172.9,80.6 168.4,77.6 164.3,74.5 161.2,70.9 158.5,67.8 154.0,64.6 149.9,61.9 146.2,60.5" fill="none" stroke="#06090f" stroke-width="3.0" stroke-linecap="round"/><path d="M127.3,56.3 121.2,57.3 115.0,59.4 111.9,62.1 106.8,64.6 99.6,66.7 92.4,68.2" fill="none" stroke="#06090f" stroke-width="2.0" stroke-linecap="round"/><path d="M437.9,59.4 437.5,54.2 440.6,51.5 445.7,49.4 450.8,46.9 453.9,43.7 457.0,40.6 461.1,38.5 466.2,36.4 474.4,34.7 480.6,34.3" fill="none" stroke="#06090f" stroke-width="1.6" stroke-linecap="round"/><path d="M414.9,65.7 414.9,62.6 415.9,60.9" fill="none" stroke="#06090f" stroke-width="1.5" stroke-linecap="round"/><path d="M470.3,56.9 473.4,57.3 474.4,57.5" fill="none" stroke="#06090f" stroke-width="1.5" stroke-linecap="round"/><path d="M465.2,58.8 466.2,57.5" fill="none" stroke="#06090f" stroke-width="1.4" stroke-linecap="round"/><path d="M273.1,52.5 267.0,52.1" fill="none" stroke="#06090f" stroke-width="1.5" stroke-linecap="round"/><path d="M312.2,32.2 314.2,36.4 318.3,39.5 320.4,44.8 324.5,50.0 330.7,55.2" fill="none" stroke="#06090f" stroke-width="1.6" stroke-linecap="round"/><path d="M382.0,35.3 377.9,33.3 380.0,31.2 384.1,29.1" fill="none" stroke="#06090f" stroke-width="1.5" stroke-linecap="round"/><path d="M673.5,148.8 674.1,152.6 675.7,154.4 677.8,155.3 680.9,156.3 682.3,157.4 684.0,159.5 684.6,162.0 685.6,163.0" fill="none" stroke="#06090f" stroke-width="1.4" stroke-linecap="round"/><path d="M676.8,156.7 678.8,158.8 679.8,161.3 680.5,163.6" fill="none" stroke="#06090f" stroke-width="1.3" stroke-linecap="round"/><path d="M474.4,103.4 476.5,104.4 478.5,105.5 480.6,105.9 482.7,106.5" fill="none" stroke="#06090f" stroke-width="1.3" stroke-linecap="round"/><path d="M458.0,89.8 461.1,92.3 463.8,93.5" fill="none" stroke="#06090f" stroke-width="1.2" stroke-linecap="round"/><path d="M688.1,189.8 691.1,190.4 695.2,190.2" fill="none" stroke="#06090f" stroke-width="1.3" stroke-linecap="round"/><path d="M623.4,171.8 626.4,177.7 630.5,182.9 633.6,188.1 637.7,192.3" fill="none" stroke="#06090f" stroke-width="1.3" stroke-linecap="round"/><circle cx="73.1" cy="211.6" r="1.1" fill="#0a0a0a" stroke="none"/><circle cx="74.3" cy="212.0" r="0.9" fill="#0a0a0a" stroke="none"/><circle cx="76.6" cy="212.8" r="0.8" fill="#0a0a0a" stroke="none"/><circle cx="67.3" cy="227.3" r="1.1" fill="#0a0a0a" stroke="none"/><circle cx="69.2" cy="224.3" r="0.8" fill="#0a0a0a" stroke="none"/><circle cx="69.8" cy="222.0" r="0.8" fill="#0a0a0a" stroke="none"/><circle cx="59.5" cy="220.6" r="0.8" fill="#0a0a0a" stroke="none"/><circle cx="60.2" cy="219.1" r="0.8" fill="#0a0a0a" stroke="none"/><circle cx="61.8" cy="244.2" r="0.8" fill="#0a0a0a" stroke="none"/><circle cx="64.7" cy="275.0" r="1.1" fill="#0a0a0a" stroke="none"/><circle cx="74.5" cy="188.8" r="0.8" fill="#0a0a0a" stroke="none"/><circle cx="68.8" cy="192.3" r="0.8" fill="#0a0a0a" stroke="none"/><circle cx="103.9" cy="178.9" r="1.1" fill="#0a0a0a" stroke="none"/><circle cx="99.8" cy="174.7" r="0.8" fill="#0a0a0a" stroke="none"/><circle cx="118.7" cy="203.8" r="0.8" fill="#0a0a0a" stroke="none"/><circle cx="99.0" cy="227.3" r="0.9" fill="#0a0a0a" stroke="none"/><circle cx="99.0" cy="222.5" r="0.8" fill="#0a0a0a" stroke="none"/><circle cx="92.0" cy="210.7" r="0.8" fill="#0a0a0a" stroke="none"/><circle cx="102.7" cy="201.7" r="0.8" fill="#0a0a0a" stroke="none"/><circle cx="96.5" cy="204.7" r="0.8" fill="#0a0a0a" stroke="none"/><circle cx="78.2" cy="222.8" r="0.9" fill="#0a0a0a" stroke="none"/><circle cx="74.3" cy="202.2" r="0.7" fill="#0a0a0a" stroke="none"/><circle cx="65.3" cy="210.7" r="0.8" fill="#0a0a0a" stroke="none"/><circle cx="795.3" cy="200.7" r="0.8" fill="#0a0a0a" stroke="none"/><circle cx="794.2" cy="198.6" r="0.7" fill="#0a0a0a" stroke="none"/><circle cx="782.5" cy="180.0" r="0.8" fill="#0a0a0a" stroke="none"/><circle cx="786.0" cy="185.6" r="0.8" fill="#0a0a0a" stroke="none"/><circle cx="782.3" cy="176.6" r="0.8" fill="#0a0a0a" stroke="none"/><circle cx="770.0" cy="183.9" r="0.8" fill="#0a0a0a" stroke="none"/><circle cx="778.8" cy="168.0" r="0.8" fill="#0a0a0a" stroke="none"/><circle cx="771.7" cy="164.7" r="0.8" fill="#0a0a0a" stroke="none"/><circle cx="775.4" cy="161.6" r="0.7" fill="#0a0a0a" stroke="none"/><circle cx="773.7" cy="170.6" r="0.7" fill="#0a0a0a" stroke="none"/><circle cx="752.1" cy="168.5" r="0.9" fill="#0a0a0a" stroke="none"/><circle cx="762.0" cy="171.8" r="0.8" fill="#0a0a0a" stroke="none"/><circle cx="739.0" cy="167.4" r="0.8" fill="#0a0a0a" stroke="none"/><circle cx="710.9" cy="163.0" r="0.8" fill="#0a0a0a" stroke="none"/><circle cx="703.5" cy="167.4" r="1.1" fill="#0a0a0a" stroke="none"/><circle cx="724.6" cy="154.7" r="1.1" fill="#0a0a0a" stroke="none"/><circle cx="726.5" cy="151.3" r="0.8" fill="#0a0a0a" stroke="none"/><circle cx="726.7" cy="145.0" r="0.7" fill="#0a0a0a" stroke="none"/><circle cx="726.5" cy="147.9" r="0.7" fill="#0a0a0a" stroke="none"/><circle cx="768.0" cy="205.3" r="0.8" fill="#0a0a0a" stroke="none"/><circle cx="772.9" cy="219.9" r="0.8" fill="#0a0a0a" stroke="none"/><circle cx="775.1" cy="223.7" r="0.8" fill="#0a0a0a" stroke="none"/><circle cx="774.5" cy="222.2" r="0.8" fill="#0a0a0a" stroke="none"/><circle cx="294.1" cy="115.3" r="0.9" fill="#0a0a0a" stroke="none"/><circle cx="202.5" cy="239.6" r="0.8" fill="#0a0a0a" stroke="none"/><circle cx="265.3" cy="253.2" r="0.8" fill="#0a0a0a" stroke="none"/><circle cx="719.3" cy="126.2" r="0.7" fill="#0a0a0a" stroke="none"/><circle cx="412.8" cy="53.1" r="0.8" fill="#0a0a0a" stroke="none"/><circle cx="791.4" cy="209.1" r="0.7" fill="#0a0a0a" stroke="none"/><circle cx="755.8" cy="292.8" r="0.2" fill="#0a0a0a" stroke="none"/></g><clipPath id="c0_0"><rect x="21.0" y="399.5" width="195.0" height="140.0"/></clipPath><g clip-path="url(#c0_0)" stroke="#000" stroke-width="0.9" stroke-linejoin="round"><path d="M-144.1,282.8 11.6,282.8 23.8,285.1 34.8,287.4 42.6,288.5 49.3,286.8 62.5,293.1 70.9,297.1 76.4,299.9 83.6,303.9 82.5,317.0 79.2,321.0 81.9,323.2 101.3,318.1 101.3,315.3 115.2,313.6 116.3,310.2 125.1,305.6 142.9,305.6 149.5,299.9 155.6,291.9 163.4,293.6 163.4,301.6 167.3,305.0 167.8,306.7 159.5,309.6 150.1,313.6 146.8,318.7 147.9,322.7 151.2,323.8 151.2,325.5 144.0,325.5 137.3,327.2 130.1,328.9 140.1,328.9 129.6,331.2 127.9,336.9 124.0,339.7 120.7,336.9 122.9,342.6 120.2,346.0 117.9,350.6 116.3,342.6 115.2,349.4 117.9,351.7 119.6,356.8 120.7,360.8 115.2,364.2 107.4,368.2 99.7,372.8 90.2,379.6 88.0,388.7 92.5,399.5 95.8,409.2 94.7,417.7 89.7,418.8 85.8,412.0 80.8,403.5 80.3,396.7 73.6,390.4 66.4,392.7 59.8,388.7 51.5,389.3 43.2,389.8 43.7,396.1 35.4,396.1 29.3,393.8 19.3,392.7 13.8,394.4 4.4,400.1 -0.6,405.2 0.5,414.3 -10.0,411.5 -12.2,405.2 -16.7,400.6 -22.8,392.1 -28.9,392.1 -32.7,396.7 -39.9,393.2 -42.2,387.5 -51.0,380.7 -60.4,380.7 -60.4,383.6 -75.9,383.6 -96.4,375.6 -109.7,376.7 -117.5,368.2 -129.1,364.8 -136.3,353.4 -139.7,346.6 -146.9,338.0 -149.6,331.8 -149.1,323.8 -150.7,318.1 -148.0,308.4 -148.0,298.2 -151.8,286.2 -142.4,287.4 -139.7,292.5 -138.5,286.8Z" fill="#033D68"/><path d="M-109.7,376.7 -107.0,382.4 -103.6,388.1 -99.2,394.9 -93.7,401.2 -93.7,403.5 -98.1,403.5 -93.7,407.5 -89.8,409.7 -83.7,413.7 -82.6,419.4 -81.5,422.3 -75.9,426.2 -70.4,431.4 -67.6,429.1 -72.1,423.4 -74.8,419.4 -77.6,413.7 -81.5,408.0 -85.9,403.5 -87.0,398.4 -92.6,392.1 -96.4,388.1 -97.0,380.7 -87.0,384.1 -84.3,391.0 -82.6,395.5 -77.1,402.3 -73.2,403.5 -67.1,410.9 -59.3,419.4 -51.0,429.1 -46.6,433.6 -44.4,439.3 -45.5,445.6 -39.9,453.0 -34.4,457.5 -26.1,459.3 -20.5,463.8 -15.0,464.9 -6.7,468.9 -1.2,471.2 7.2,472.3 15.5,469.5 19.3,471.8 28.2,479.2 28.2,475.2 31.0,470.1 37.6,470.1 32.6,463.8 34.8,460.4 44.8,460.4 49.8,456.4 53.1,457.5 54.2,450.7 54.8,446.2 58.1,441.0 54.2,439.3 48.7,439.3 38.7,442.2 37.6,449.0 32.1,456.4 26.5,455.8 15.5,458.1 8.3,454.7 5.5,451.9 -0.1,442.2 -2.8,433.6 -2.3,425.1 0.5,414.3 -10.0,411.5 -12.2,405.2 -16.7,400.6 -22.8,392.1 -28.9,392.1 -32.7,396.7 -39.9,393.2 -42.2,387.5 -51.0,380.7 -60.4,380.7 -60.4,383.6 -75.9,383.6 -96.4,375.6Z" fill="#D8554E"/><path d="M28.2,479.2 28.2,475.2 31.0,470.1 37.6,470.1 32.6,463.8 34.8,460.4 44.8,460.4 44.8,471.2 46.5,471.2 50.4,472.3 44.8,476.9 43.7,479.7 39.8,483.4 33.2,482.6Z" fill="#F3C200"/><path d="M44.8,460.4 45.4,459.3 49.8,456.4 50.9,462.1 49.8,467.8 46.5,471.2 44.8,471.2Z" fill="#F3C200"/><path d="M39.8,483.4 43.7,479.7 48.7,482.0 53.1,483.2 52.6,486.6 48.7,486.9 44.3,485.2Z" fill="#F3C200"/><path d="M44.8,476.9 50.4,472.3 54.2,471.8 62.5,471.2 68.1,471.2 73.6,472.3 78.1,476.3 70.9,478.0 67.0,480.3 63.7,482.6 58.7,486.0 55.3,487.7 52.6,486.6 53.1,483.2 48.7,482.0 43.7,479.7Z" fill="#F3C200"/><path d="M78.1,476.3 76.4,487.7 75.3,494.0 75.3,499.7 69.7,499.1 64.2,498.5 59.8,493.4 53.7,488.3 55.3,487.7 58.7,486.0 63.7,482.6 67.0,480.3 70.9,478.0Z" fill="#F3C200"/><path d="M75.3,499.7 79.2,504.8 81.4,507.1 79.7,511.0 79.7,515.6 75.8,513.3 72.5,508.2 69.2,505.9 67.5,507.1 63.7,504.8 64.2,498.5 69.7,499.1Z" fill="#F3C200"/><path d="M81.4,507.1 87.5,511.6 95.8,509.3 101.3,507.6 107.4,510.5 110.2,512.2 111.3,516.7 107.4,520.7 105.2,517.3 104.1,513.9 98.6,511.0 93.6,515.0 95.8,519.6 91.4,520.7 89.1,517.9 86.4,515.6 79.7,515.6 79.7,511.0Z" fill="#F3C200"/><path d="M68.6,437.1 73.6,432.5 79.2,430.8 81.9,429.9 90.2,430.2 95.8,431.4 101.3,434.2 109.6,437.6 115.2,441.0 119.6,442.2 127.9,446.7 120.7,448.4 108.5,448.7 111.3,444.5 105.2,443.3 102.4,438.8 93.0,437.6 85.8,435.4 83.0,433.1 76.4,435.4ZM78.6,438.8 81.4,439.3 80.3,437.1Z" fill="#F3C200"/><path d="M104.7,457.5 109.6,456.4 116.3,458.7 113.0,460.4 108.0,459.8Z" fill="#8A8A8A"/><path d="M126.3,457.0 131.8,458.1 140.1,458.1 141.8,459.3 141.8,449.6 135.7,448.4 132.3,449.0 135.7,453.0 137.9,455.8 131.8,455.8Z" fill="#8A8A8A"/><path d="M141.8,459.3 143.4,461.5 148.4,457.5 154.0,457.0 160.0,457.5 158.9,454.1 154.0,453.0 151.2,449.6 141.8,449.0Z" fill="#8A8A8A"/><path d="M166.7,459.3 175.0,459.3 175.6,457.0 166.7,456.4Z" fill="#8A8A8A"/><path d="M105.2,419.4 108.5,424.0 107.4,418.8ZM108.0,408.6 112.4,411.5 111.3,414.3 111.9,410.9ZM101.9,409.7 107.4,409.7 104.7,410.9ZM114.1,416.6 116.8,418.3 116.8,421.1 115.7,418.3ZM120.7,422.8 121.8,424.5 122.4,429.7 124.0,430.2 122.9,426.8ZM130.7,441.6 134.0,441.0 133.5,442.8ZM106.9,422.3 109.1,426.2 108.5,422.8Z" fill="#8A8A8A"/><path d="M196.1,504.2 201.0,504.2 201.6,500.2 197.2,500.8Z" fill="#8A8A8A"/><path d="M196.6,464.4 197.7,464.9 197.2,463.8ZM196.6,468.9 199.9,469.5 197.7,470.6ZM198.3,473.5 199.9,474.6 198.8,475.2ZM199.9,477.5 202.2,479.2 201.0,479.7ZM200.5,482.0 201.6,483.7 201.0,483.2ZM199.4,486.0 200.5,487.1 199.9,486.6ZM208.2,486.0 209.9,487.1 208.8,487.7ZM196.6,492.3 197.7,493.4 197.2,492.8ZM189.4,458.7 190.5,459.3 190.0,458.7ZM191.1,462.7 192.7,464.4 191.6,463.8ZM179.4,457.0 181.1,457.5 180.0,461.0 180.5,460.4ZM155.6,492.3 161.2,492.3 157.3,492.8ZM150.6,490.0 151.7,491.1 151.2,490.6ZM182.2,499.1 185.5,499.1 184.4,499.7ZM88.0,451.9 89.7,451.9 89.1,451.6ZM140.1,437.1 142.9,438.2 141.8,437.6Z" fill="#8A8A8A"/><path d="M129.0,603.8 133.5,598.7 135.1,591.3 146.8,585.6 151.7,585.5 154.5,568.0 151.2,562.8 151.2,558.3 154.0,558.3 155.5,556.1 152.3,555.4 152.3,552.0 162.8,552.0 168.4,554.9 171.7,557.4 176.1,557.1 184.4,550.3 187.6,548.6 182.8,544.6 183.3,538.4 191.1,538.9 198.3,536.7 202.7,532.1 206.0,532.1 208.8,539.5 206.6,546.3 207.7,553.7 214.9,554.3 226.0,550.9 236.4,548.6 239.8,541.2 237.6,533.2 239.8,528.7 245.9,531.5 252.6,537.8 256.4,539.5 259.2,551.5 262.0,556.6 260.4,561.7 267.5,562.8 267.9,563.1 270.8,563.4 270.3,565.7 275.8,565.1 289.7,570.2 293.6,575.9 299.1,575.4 306.3,577.6 317.4,577.6 325.7,582.8 332.9,589.0 343.4,591.3 346.2,602.1 345.1,612.3 336.8,621.5 325.7,635.7 322.9,647.1 321.8,661.3 318.5,673.2 312.4,685.8 306.9,692.0 299.7,692.6 291.3,694.3 282.5,698.3 273.1,705.7 269.7,712.5 269.2,723.9 262.0,731.3 256.4,739.8 250.3,744.9 243.1,753.5 244.8,747.8 240.4,743.8 231.5,737.5 228.7,737.5 219.9,733.6 230.4,723.3 241.5,715.9 240.9,710.8 236.5,707.4 238.1,698.9 232.1,698.3 229.8,688.7 218.2,687.5 216.6,676.1 220.4,664.2 216.0,660.2 215.4,654.5 205.5,654.5 203.8,640.2 196.6,638.5 188.9,633.4 182.2,632.3 177.2,627.1 176.6,617.0 170.0,618.0 159.5,624.3 147.9,624.3 147.8,615.8 139.0,618.6 134.6,614.1Z" fill="#7CA8E0"/><path d="M110.2,512.2 113.5,516.2 116.3,510.5 120.2,507.6 120.7,501.9 124.6,498.5 127.9,497.4 134.6,496.8 139.0,494.0 141.8,490.8 145.1,492.3 144.0,494.3 137.3,499.1 134.6,505.9 132.9,509.3 137.3,514.5 137.9,519.6 140.1,521.9 150.6,521.9 154.5,527.0 165.0,526.4 163.4,531.5 163.4,537.8 166.1,542.3 162.8,545.8 166.7,548.6 168.4,554.9 162.8,552.0 152.3,552.0 152.3,555.4 155.6,556.0 154.0,558.3 151.2,558.3 151.2,562.8 154.5,568.0 151.7,585.6 147.3,583.3 150.6,577.1 139.0,575.4 133.5,574.2 129.0,567.4 121.8,562.3 116.3,559.4 110.2,559.4 103.0,554.9 102.4,553.7 104.1,547.5 109.6,546.9 111.3,540.1 109.6,530.4 110.2,523.6 107.4,520.7 111.3,516.7Z" fill="#F3C200"/><path d="M144.0,494.3 140.7,496.8 142.3,499.7 139.6,504.8 142.9,509.9 145.6,505.9 143.4,499.7 150.1,496.8 150.1,493.4 151.2,492.3 152.8,496.2 160.0,498.0 161.2,501.4 173.3,501.4 178.9,504.2 183.3,501.9 191.6,500.8 196.1,500.8 191.1,502.5 193.8,505.9 201.6,508.8 201.0,513.3 207.7,514.5 202.7,519.0 200.5,523.6 198.8,528.1 202.7,532.1 198.3,536.7 191.1,538.9 183.3,538.4 182.8,544.6 187.7,548.6 184.4,550.3 176.1,557.1 171.7,557.4 168.4,554.9 166.7,548.6 162.8,545.8 166.1,542.3 163.4,537.8 163.4,531.5 165.0,526.4 154.5,527.0 150.6,521.9 140.1,521.9 137.9,519.6 137.3,514.5 132.9,509.3 134.6,505.9 137.3,499.1Z" fill="#F3C200"/><path d="M207.7,514.5 214.9,520.2 216.0,523.0 222.1,527.5 221.5,532.1 217.7,538.9 226.0,550.9 214.9,554.3 207.7,553.7 206.6,546.3 208.8,539.5 206.0,532.1 202.7,532.1 198.8,528.1 200.5,523.6 202.7,519.0Z" fill="#8A8A8A"/></g><rect x="21.0" y="399.5" width="195.0" height="140.0" fill="none" stroke="#2e2e2e" stroke-width="1.2"/><clipPath id="c1_0"><rect x="230.3" y="399.5" width="130.0" height="140.0"/></clipPath><g clip-path="url(#c1_0)" stroke="#000" stroke-width="0.9" stroke-linejoin="round"><path d="M231.5,318.0 240.1,325.1 252.4,326.2 268.3,318.0 274.5,321.0 270.8,327.2 281.8,331.3 284.3,339.5 297.8,341.6 313.7,348.7 332.1,346.7 343.1,342.1 354.2,341.6 368.9,335.4 384.8,333.3 409.4,340.5 421.6,349.8 431.4,349.8 433.9,360.0 425.3,373.3 425.3,384.6 427.8,402.1 440.0,403.1 428.6,418.9 440.0,431.8 452.3,435.9 452.3,446.2 458.4,452.3 441.2,456.4 437.6,466.7 411.8,464.6 391.0,461.6 381.1,450.3 372.6,446.7 352.9,453.3 338.2,451.3 326.0,442.1 313.7,439.0 305.1,428.7 297.8,416.4 289.2,416.4 281.8,413.3 277.5,418.0 270.8,412.3 270.8,407.2 267.1,403.1 268.3,393.9 247.5,386.7 238.9,376.4 248.7,365.1 238.9,355.9 231.5,343.6 225.4,331.3 221.7,321.0 226.6,321.0ZM360.3,451.3 372.6,448.7 367.7,452.3Z" fill="#7CA8E0"/><path d="M202.1,344.6 231.5,343.6 238.9,355.9 248.7,365.1 238.9,376.4 247.5,386.7 268.3,393.9 267.1,403.1 270.8,407.2 270.8,412.3 277.5,418.0 270.2,417.4 267.1,416.4 263.4,417.4 253.0,426.7 230.3,425.7 198.4,406.2 177.6,397.4 162.8,395.4 157.9,382.6 184.9,372.3 187.4,360.0 194.7,349.8Z" fill="#8A8A8A"/><path d="M253.0,426.7 263.4,417.4 267.1,416.4 270.2,417.4 272.0,423.6 275.7,432.3 267.1,432.3 264.6,427.7Z" fill="#8A8A8A"/><path d="M110.7,424.1 124.8,425.7 142.0,417.4 148.1,412.3 135.9,402.1 162.8,395.4 177.6,397.4 198.4,406.2 230.3,425.7 253.0,426.7 264.6,427.7 267.1,432.3 275.7,432.3 281.8,442.1 296.5,451.3 297.8,462.6 305.1,471.3 312.5,472.8 314.9,476.4 327.2,489.8 357.8,492.8 364.0,499.5 356.6,520.0 319.8,533.3 283.0,537.4 273.2,541.6 264.6,549.8 251.1,548.2 236.4,546.7 219.3,546.7 211.9,553.9 207.0,556.9 199.6,545.7 187.4,533.3 178.8,522.1 162.8,509.8 160.4,496.4 149.4,479.0 138.3,468.7 132.2,458.5 118.7,443.1 106.4,436.9Z" fill="#F3C200"/><path d="M207.0,556.9 211.9,553.9 219.3,546.7 236.4,546.7 251.1,548.2 264.6,549.8 273.2,541.6 283.0,537.4 319.8,533.3 333.3,554.4 322.3,565.1 285.5,580.5 264.6,587.7 235.2,593.9 215.6,595.4 211.9,588.7 208.2,572.3Z" fill="#8A8A8A"/><path d="M333.3,554.4 319.8,533.3 356.6,520.0 364.0,499.5 357.8,492.8 359.1,489.2 366.4,476.9 372.6,469.8 376.2,473.9 383.6,480.0 400.8,483.1 415.5,494.4 411.8,505.7 399.5,515.9 391.0,518.0 389.7,530.3 376.2,535.4 362.8,542.6 354.2,550.8Z" fill="#F3C200"/><path d="M314.9,476.4 327.2,489.8 357.8,492.8 359.1,489.2 366.4,476.9 372.6,469.8 374.4,460.5 370.1,458.5 360.3,465.7 349.3,475.9 332.1,477.4 318.6,479.0Z" fill="#F3C200"/><path d="M305.1,471.3 312.5,472.8 314.9,465.7 313.7,459.0 310.0,456.9 305.1,462.6Z" fill="#F3C200"/><path d="M300.8,456.4 303.3,456.4 302.7,460.0Z" fill="#F3C200"/></g><rect x="230.3" y="399.5" width="130.0" height="140.0" fill="none" stroke="#2e2e2e" stroke-width="1.2"/><clipPath id="c2_0"><rect x="374.8" y="399.5" width="142.7" height="140.0"/></clipPath><g clip-path="url(#c2_0)" stroke="#000" stroke-width="0.9" stroke-linejoin="round"><path d="M289.8,532.9 304.1,527.3 312.5,523.1 323.6,521.0 338.5,521.7 352.7,519.3 359.9,520.0 357.9,523.1 357.3,533.6 352.7,540.5 357.3,546.1 362.5,553.8 365.7,566.3 368.3,580.2 365.1,594.2 369.0,606.7 381.7,613.7 352.7,631.8 341.7,641.5 331.7,644.0 325.5,645.0 324.9,639.5 311.9,633.2 311.6,630.4 272.8,603.2 247.9,587.2 247.9,577.5 258.7,571.9 268.4,569.1 275.6,563.5 280.7,557.3 295.7,553.8 296.3,550.3 293.1,542.6 292.4,536.4Z" fill="#8A8A8A"/><path d="M359.9,520.0 367.7,517.2 370.9,520.3 376.1,519.3 372.2,524.5 372.9,529.4 376.1,532.2 369.6,538.5 369.6,541.2 376.1,544.0 379.0,546.5 378.7,551.7 370.9,556.6 370.9,562.1 365.7,566.3 362.5,553.8 357.3,546.1 352.7,540.5 357.3,533.6 357.9,523.1Z" fill="#8A8A8A"/><path d="M504.5,291.9 518.1,294.0 537.6,296.1 563.6,305.1 571.3,312.1 566.8,315.6 553.8,317.0 531.1,314.2 514.9,310.0 527.9,319.1 529.8,328.1 544.1,332.3 550.6,326.0 566.8,327.8 563.6,321.1 576.5,314.9 589.5,316.3 589.5,305.1 585.0,299.5 602.5,303.7 602.5,311.4 615.4,305.8 628.4,303.0 647.9,301.6 657.6,302.3 673.8,299.5 690.0,300.9 696.5,298.2 696.5,291.2 722.5,294.7 735.4,297.5 738.7,299.5 748.4,294.7 738.7,289.8 737.4,282.8 748.4,270.3 758.1,266.8 776.3,270.3 774.4,282.8 779.5,293.3 774.4,303.7 771.1,314.2 784.1,307.2 787.3,296.8 780.8,282.8 790.6,272.4 810.0,273.1 829.5,275.9 842.5,286.3 845.7,277.3 826.3,265.4 868.4,255.0 900.8,248.0 939.8,244.5 978.7,236.2 998.1,241.0 1030.6,244.5 1040.3,251.5 1017.6,258.5 991.7,265.4 1017.6,262.6 1037.1,264.0 1076.0,268.9 1108.4,264.0 1127.9,265.4 1144.1,272.4 1140.8,282.8 1153.8,284.2 1166.8,278.7 1192.7,280.0 1212.2,272.4 1244.6,272.4 1277.1,278.7 1293.3,283.5 1335.4,289.8 1348.4,293.3 1374.3,292.6 1393.8,289.8 1410.0,290.5 1410.0,296.8 1426.2,291.2 1452.2,293.3 1471.6,297.5 1471.6,324.6 1461.9,327.4 1455.4,326.0 1467.1,339.3 1466.5,343.4 1439.2,347.6 1419.8,353.9 1408.7,360.1 1380.8,359.5 1367.9,360.8 1361.4,373.4 1354.9,374.8 1363.3,385.9 1353.6,395.0 1341.9,406.8 1332.2,408.9 1320.5,422.1 1316.0,411.7 1312.7,394.3 1316.0,380.3 1325.7,373.4 1340.6,362.9 1351.6,356.0 1365.9,348.3 1361.4,342.0 1341.9,347.6 1320.5,350.4 1306.2,361.5 1290.0,366.4 1282.2,362.9 1264.1,364.3 1231.6,364.3 1212.2,376.9 1196.0,390.8 1181.1,396.4 1196.0,402.6 1208.9,399.8 1220.6,407.5 1215.4,422.1 1215.4,439.5 1202.5,453.5 1186.2,468.8 1168.1,479.3 1160.3,477.2 1151.9,482.7 1151.2,480.6 1154.5,474.4 1155.8,464.6 1166.8,463.2 1173.3,447.2 1177.8,440.9 1166.8,443.7 1153.8,445.1 1151.2,436.8 1134.4,431.9 1131.1,427.4 1121.4,409.6 1103.9,404.4 1088.3,406.1 1082.5,411.0 1087.0,415.2 1076.0,428.4 1068.2,432.6 1061.1,430.1 1053.3,427.7 1045.5,427.0 1030.6,433.3 1007.9,434.0 994.9,427.0 972.2,427.0 967.7,420.0 946.2,415.2 939.8,418.7 939.8,429.1 920.3,429.1 904.1,423.5 887.9,428.4 873.6,434.7 870.4,435.4 858.7,431.9 845.7,422.1 823.0,423.5 809.4,406.1 800.3,399.8 780.8,404.7 764.6,399.8 764.0,392.2 751.7,391.5 727.7,398.5 701.7,401.9 699.1,411.7 703.0,420.0 690.0,424.9 667.3,422.1 657.6,422.1 638.1,417.3 633.6,418.0 618.7,428.4 609.0,427.7 607.7,438.9 617.4,445.8 621.9,453.5 615.4,457.0 610.9,463.9 607.7,467.4 612.2,477.9 618.7,485.9 614.8,490.4 605.1,485.5 596.0,479.9 588.2,479.9 579.8,476.5 563.6,475.1 553.8,468.1 546.7,466.0 542.1,462.5 547.3,459.1 550.6,453.5 559.0,449.3 551.9,449.3 562.3,444.1 562.3,438.9 564.2,431.9 550.6,429.8 535.0,426.3 527.2,420.4 523.3,412.7 510.4,414.5 507.8,406.8 516.2,405.4 507.1,399.8 503.9,395.7 504.5,390.1 494.8,388.7 487.0,385.9 484.4,378.3 481.8,376.5 482.5,374.8 481.8,367.8 486.4,363.6 485.7,361.5 492.2,359.8 500.0,360.1 492.2,358.1 489.0,356.0 484.4,355.6 492.2,351.1 498.7,346.2 506.5,342.0 509.1,339.3 498.7,333.7 501.9,330.2 496.7,325.3 498.0,319.7 492.9,311.4 498.7,305.8 489.6,302.3 489.0,297.5 491.6,296.4Z" fill="#033D68"/><path d="M350.8,406.8 349.5,403.3 356.0,404.0 359.9,401.9 362.5,401.2 359.9,395.0 365.7,395.7 369.0,397.8 375.4,398.5 375.4,401.2 381.9,399.8 385.2,397.8 391.7,397.1 396.2,401.9 396.9,408.2 399.4,414.5 398.8,418.7 401.4,422.1 396.9,422.1 388.4,425.6 382.6,427.0 385.2,430.5 393.6,437.5 391.7,438.9 387.1,441.6 388.4,445.8 383.2,445.8 372.2,446.5 366.4,446.5 359.9,445.1 353.4,445.8 357.3,436.1 345.0,432.6 346.3,430.5 343.7,428.4 345.6,427.0 343.0,423.5 344.3,419.4 343.0,415.9 347.6,414.5 349.5,411.0Z" fill="#033D68"/><path d="M366.4,446.5 372.2,446.5 383.2,445.8 388.4,445.8 387.1,441.6 391.7,438.9 393.6,437.5 399.4,438.9 400.7,436.1 413.7,438.9 415.0,442.3 411.1,445.1 408.5,450.7 398.8,454.2 393.0,453.5 384.5,452.1 383.2,449.6 375.4,451.4 371.6,450.7 365.7,449.3Z" fill="#033D68"/><path d="M352.7,472.3 349.5,469.5 347.6,463.2 349.5,457.7 355.3,457.7 358.6,454.2 362.5,458.4 364.4,454.2 369.6,455.6 371.6,453.5 371.6,450.7 375.4,451.4 383.2,449.6 384.5,452.1 393.0,453.5 391.0,455.6 392.3,458.4 393.6,459.7 389.1,459.1 383.9,461.8 384.5,468.8 392.3,474.4 396.2,482.0 402.7,485.5 409.2,485.5 407.2,488.3 414.4,491.8 424.1,498.1 423.4,500.1 420.2,496.7 414.4,495.3 411.8,500.8 415.0,505.7 411.1,509.9 407.9,513.4 405.6,511.3 409.2,505.7 405.9,498.8 400.7,496.7 397.5,493.9 392.3,490.4 383.9,486.9 376.1,482.0 372.2,477.9 370.3,471.6 361.8,468.1 356.6,471.6ZM384.5,512.7 390.4,511.3 405.3,510.6 402.0,521.7 396.9,519.6 385.2,515.5Z" fill="#033D68"/><path d="M396.9,526.6 398.8,527.3 397.5,528.0Z" fill="#033D68"/><path d="M440.6,386.6 452.6,384.5 465.6,384.5 466.3,385.2 476.6,389.4 477.9,392.2 471.4,395.0 470.1,399.2 462.4,401.9 456.5,401.6 455.9,399.8 452.0,398.5 450.7,394.3 442.3,392.5 440.3,392.2 441.0,389.4Z" fill="#7CA8E0"/><path d="M456.5,401.6 462.4,401.9 470.1,399.2 471.4,395.0 477.9,392.2 476.6,389.4 483.1,388.7 487.0,385.9 494.8,388.7 504.5,390.1 503.9,395.7 507.1,399.8 516.2,405.4 507.8,406.8 510.4,414.5 502.6,420.0 494.1,419.4 480.5,418.0 466.3,415.9 457.2,418.7 457.8,414.5 454.6,413.1 459.1,410.3Z" fill="#7CA8E0"/><path d="M396.2,401.9 409.2,399.2 420.9,395.7 424.7,398.5 431.2,398.1 452.0,398.5 455.9,399.8 456.5,401.6 459.1,410.3 454.6,413.1 457.8,414.5 457.2,418.7 460.4,423.5 453.3,429.8 450.7,435.4 440.3,433.3 433.8,434.7 427.3,432.6 426.0,432.6 420.9,429.1 413.7,426.3 409.8,424.9 401.4,422.1 398.8,418.7 399.4,414.5 396.9,408.2Z" fill="#033D68"/><path d="M382.6,427.0 388.4,425.6 396.9,422.1 401.4,422.1 409.8,424.9 413.7,426.3 420.9,429.1 426.0,432.6 421.5,435.4 415.7,437.5 413.7,438.9 400.7,436.1 399.4,438.9 393.6,437.5 385.2,430.5Z" fill="#7CA8E0"/><path d="M413.7,438.9 415.7,437.5 421.5,435.4 426.0,432.6 427.3,432.6 433.8,434.7 440.3,433.3 450.7,435.4 447.4,440.2 443.6,439.5 437.1,439.5 430.6,441.6 426.0,444.4 419.6,444.8 415.0,442.3Z" fill="#7CA8E0"/><path d="M408.5,450.7 411.1,445.1 415.0,442.3 419.6,444.8 426.0,444.4 430.6,441.6 437.1,439.5 443.6,439.5 447.4,440.2 452.6,443.0 446.8,447.2 441.6,454.2 435.8,455.9 426.7,457.7 418.9,457.3 411.8,453.5 410.5,452.1Z" fill="#7CA8E0"/><path d="M393.0,453.5 398.8,454.2 408.5,450.7 410.5,452.1 411.8,453.5 405.9,455.6 403.3,460.4 398.8,460.4 392.3,460.8 393.6,459.7 392.3,458.4 391.0,455.6Z" fill="#7CA8E0"/><path d="M392.3,460.8 398.8,460.4 403.3,460.4 405.9,455.6 411.8,453.5 418.9,457.3 426.7,457.7 429.9,462.5 427.3,464.6 414.4,462.5 409.8,463.9 406.6,462.5 406.6,466.0 409.2,469.5 418.3,477.5 423.8,481.0 424.1,482.0 418.3,478.6 411.1,474.4 402.7,469.5 400.7,463.2 396.9,461.8 394.3,465.3ZM396.9,462.5 400.1,466.7 398.2,466.7ZM410.5,475.8 415.7,477.2 411.8,476.8Z" fill="#7CA8E0"/><path d="M406.6,462.5 409.8,463.9 414.4,462.5 427.3,464.6 431.2,470.9 428.6,474.4 425.4,476.5 423.8,481.0 418.3,477.5 409.2,469.5 406.6,466.0Z" fill="#7CA8E0"/><path d="M423.8,481.0 425.4,476.5 428.6,474.4 435.8,479.3 433.8,480.6 429.9,485.9 424.1,482.0Z" fill="#7CA8E0"/><path d="M426.7,457.7 435.8,455.9 443.6,462.5 442.9,465.3 450.0,466.0 451.3,469.5 449.4,470.9 453.3,476.5 449.4,482.7 444.2,483.1 445.5,479.9 441.0,476.5 437.7,476.5 435.8,479.3 428.6,474.4 431.2,470.9 427.3,464.6 429.9,462.5Z" fill="#7CA8E0"/><path d="M435.8,479.3 437.7,476.5 441.0,476.5 445.5,479.9 444.2,483.1 439.0,484.1 437.1,483.4 433.8,480.6Z" fill="#FFFFFF"/><path d="M436.7,488.3 437.1,483.4 439.0,484.1 444.2,483.1 449.4,482.7 453.3,486.9 452.6,489.4 446.8,490.7 440.2,492.8Z" fill="#7CA8E0"/><path d="M429.9,485.9 433.8,480.6 437.1,483.4 436.7,488.3 440.2,492.8 438.4,498.1 433.8,500.8 429.9,496.7 429.9,489.0Z" fill="#7CA8E0"/><path d="M433.8,500.8 438.4,498.1 440.2,492.8 446.8,490.7 452.6,489.4 463.0,488.3 467.6,490.0 473.4,489.4 474.7,486.9 476.6,489.7 474.7,492.1 472.7,493.2 466.9,492.1 462.4,492.1 458.5,493.5 462.4,497.7 459.1,496.0 459.8,499.1 457.2,497.0 457.8,499.2 455.2,497.0 452.6,494.6 450.7,495.6 450.7,498.8 452.6,501.5 455.6,504.3 453.0,503.6 452.3,506.4 453.9,508.2 457.2,509.2 460.1,511.6 460.1,515.1 457.5,513.0 453.9,512.7 452.6,511.3 449.4,510.2 445.2,510.2 441.0,510.6 438.7,506.4 441.0,505.4 438.4,505.0 435.1,501.9ZM453.6,512.7 454.6,515.5 456.5,516.5 452.0,515.8 453.0,519.6 454.6,523.5 452.0,521.0 450.0,523.8 447.8,519.6 446.1,521.4 444.2,518.3 441.0,513.7 442.6,511.3 445.8,510.6 449.4,511.6 452.6,513.0ZM456.7,531.6 457.2,529.3 459.8,530.0 462.0,531.1 466.3,530.7 471.1,531.1 474.7,531.5 474.4,533.2 469.5,533.6 464.6,534.1 459.8,532.3ZM453.3,506.8 455.2,505.7 460.4,508.2 463.7,511.6 463.3,513.0 461.1,512.0 457.2,509.9 454.6,507.8ZM471.8,504.3 474.0,502.9 476.6,505.4 473.7,505.9ZM471.8,508.9 473.7,508.9 473.4,511.3 472.1,510.9ZM476.6,514.1 479.6,514.4 477.9,515.1ZM483.8,525.6 487.0,523.5 486.4,526.3 484.1,527.3ZM478.9,520.3 481.2,520.7 479.9,521.7ZM466.6,499.1 469.2,499.5 467.9,500.1ZM463.3,493.5 464.6,493.9 464.0,494.6ZM469.2,495.3 470.8,495.6 469.8,496.0ZM463.0,506.1 464.0,507.1 463.0,507.5ZM464.3,513.0 465.9,514.4 465.0,514.8ZM466.6,515.1 467.9,515.8 466.9,516.2ZM468.9,518.6 470.1,519.0 469.5,520.0ZM466.9,519.0 468.2,519.3 467.6,520.0ZM462.0,521.4 463.0,521.7 462.4,522.1ZM468.5,523.5 469.5,523.8 468.9,524.2ZM471.4,520.3 472.7,520.7 472.1,521.0ZM473.1,515.1 475.0,515.5 474.0,515.8ZM479.9,527.7 480.5,530.1 479.6,530.4ZM452.6,524.5 453.9,524.9 453.3,525.6ZM438.0,513.7 440.0,514.4 439.0,515.1ZM436.4,510.2 438.7,511.3 437.4,512.3ZM437.7,507.1 438.7,507.8 437.7,508.5ZM431.6,500.1 434.5,502.6 432.9,502.9ZM474.7,522.4 475.7,522.8 475.0,523.1ZM465.3,516.2 465.9,516.9 465.3,517.0ZM468.2,516.2 469.2,516.5 468.5,516.9ZM461.7,515.1 462.4,515.8 461.7,516.2ZM462.4,516.5 462.7,517.2 462.0,517.4ZM478.9,519.3 479.6,520.0 478.9,520.1ZM455.9,514.4 456.9,514.6 456.2,514.9ZM456.5,504.7 458.1,504.3 459.1,505.0 457.2,505.0Z" fill="#033D68"/><path d="M449.4,482.7 453.3,476.5 449.4,470.9 451.3,469.5 459.8,473.0 469.5,473.3 479.2,470.2 489.6,472.6 485.1,479.9 485.7,484.8 479.2,484.5 474.7,486.9 463.0,488.3 452.6,489.4 453.3,486.9Z" fill="#7CA8E0"/><path d="M435.8,455.9 441.6,454.2 446.8,447.2 452.6,443.0 463.0,443.4 476.6,441.3 482.5,446.5 487.0,453.5 487.0,460.8 496.7,461.8 496.1,465.3 489.6,472.6 479.2,470.2 469.5,473.3 459.8,473.0 451.3,469.5 450.0,466.0 442.9,465.3 443.6,462.5Z" fill="#7CA8E0"/><path d="M476.6,441.3 483.8,439.9 492.9,443.4 499.3,454.2 491.6,453.8 487.0,460.8 487.0,453.5 482.5,446.5Z" fill="#7CA8E0"/><path d="M447.4,440.2 450.7,435.4 453.3,429.8 460.4,423.5 457.2,418.7 466.3,415.9 480.5,418.0 494.1,419.4 502.6,420.0 510.4,414.5 523.3,412.7 527.2,420.4 535.0,426.3 550.6,429.8 564.2,431.9 562.3,438.9 562.3,444.1 551.9,449.3 542.1,452.1 531.1,456.3 531.1,459.1 540.9,461.1 533.7,463.9 524.6,468.1 520.7,466.7 514.9,461.5 521.4,458.4 522.0,456.3 518.1,456.3 510.4,452.8 503.2,453.5 496.7,461.8 487.0,460.8 491.6,453.8 499.3,454.2 492.9,443.4 483.8,439.9 476.6,441.3 463.0,443.4 452.6,443.0Z" fill="#033D68"/><path d="M493.5,490.4 507.1,491.1 520.1,484.8 531.1,484.5 540.9,489.7 550.6,491.8 563.6,491.8 573.3,488.3 579.8,488.7 586.3,491.1 587.6,498.1 594.7,500.8 592.1,502.9 589.5,502.9 591.4,509.9 594.7,518.3 579.1,519.0 568.1,519.0 555.8,521.7 544.1,521.7 542.1,524.9 538.9,527.7 538.9,522.4 534.4,522.4 528.5,521.0 522.7,525.6 516.9,526.5 505.2,520.7 501.9,524.5 496.1,525.2 487.7,521.0 481.8,519.6 480.5,513.4 474.7,510.6 478.6,509.2 477.3,503.6 473.4,502.2 474.0,498.4 477.3,496.0 482.5,496.7 492.2,496.0 498.0,493.5 492.9,491.8ZM472.7,493.2 476.6,489.7 474.7,486.9 479.2,484.5 485.7,484.8 491.6,489.7 492.2,491.4 482.5,492.1 477.9,494.6 474.0,498.1 477.9,493.9Z" fill="#F3C200"/><path d="M513.6,533.2 518.1,531.1 528.5,528.7 524.0,533.2 518.1,536.4 514.3,535.3Z" fill="#033D68"/></g><rect x="374.8" y="399.5" width="142.7" height="140.0" fill="none" stroke="#2e2e2e" stroke-width="1.2"/><clipPath id="c3_0"><rect x="532.9" y="399.3" width="156.0" height="140.2"/></clipPath><g clip-path="url(#c3_0)" stroke="#000" stroke-width="0.9" stroke-linejoin="round"><path d="M375.8,296.6 378.6,300.1 387.4,302.2 380.2,306.4 385.8,316.2 391.3,317.6 398.0,314.1 400.2,307.1 400.2,312.0 401.3,329.5 404.1,347.0 408.5,358.9 412.4,372.2 418.0,384.1 420.8,396.0 427.4,405.9 431.3,400.2 436.9,397.4 440.5,390.4 440.2,379.2 443.0,370.8 441.9,356.1 448.0,350.5 454.1,345.6 459.6,338.6 469.1,327.4 477.4,321.1 480.2,312.0 486.3,311.3 491.8,310.6 490.7,300.1 489.6,292.4 486.3,289.6 487.4,281.9 487.9,277.0 495.7,280.5 495.7,285.4 510.1,287.5 509.0,293.1 503.5,294.5 504.0,300.1 506.8,301.5 509.6,312.7 511.2,313.4 514.6,307.1 515.7,294.5 522.4,286.1 525.7,276.3 535.7,268.6 537.3,264.4 530.1,257.4 521.8,258.1 508.5,267.9 506.3,267.9 508.5,274.2 495.7,275.6 490.7,271.4 490.2,266.2 486.3,267.2 486.3,277.7 473.5,276.3 463.5,270.0 446.9,263.7 441.9,260.9 444.1,253.9 446.9,251.1 436.9,244.1 434.6,243.4 432.4,235.0 438.5,232.9 434.6,221.7 442.4,214.0 429.1,214.0 423.5,213.3 407.4,220.3 408.0,231.5 415.8,236.4 410.8,235.0 411.3,244.8 407.4,251.1 402.4,258.1 396.3,267.2 388.6,266.5 383.0,273.5 386.3,276.3 390.2,282.6 391.3,291.7 379.1,292.4Z" fill="#D8554E"/><path d="M544.3,392.5 545.7,387.6 550.1,379.9 547.9,370.1 542.3,356.8 544.6,348.4 537.9,333.0 541.2,324.6 552.9,320.1 555.7,326.0 559.5,326.0 557.9,337.9 564.0,335.1 570.7,333.7 578.4,340.7 579.0,347.7 583.4,354.0 581.2,362.1 569.0,362.8 565.7,367.3 568.4,381.0 564.5,376.4 557.3,373.6 557.6,368.7 554.0,368.0 552.3,375.0 548.4,386.9 548.4,397.4 554.0,403.7 555.7,412.1 562.3,414.9 564.0,418.8 558.4,422.6 552.9,417.4 550.1,412.1 543.4,406.5 542.9,399.5Z" fill="#D8554E"/><path d="M596.7,312.0 590.1,317.6 585.1,326.0 584.0,331.6 588.4,338.6 592.9,344.9 598.4,349.8 602.9,361.0 604.5,372.9 603.4,380.6 596.2,387.6 591.2,390.4 588.4,395.3 581.8,400.9 578.7,402.3 579.5,393.9 577.0,389.7 580.6,385.9 586.8,385.5 585.1,380.6 594.0,376.4 594.0,359.6 594.0,351.2 588.4,343.5 581.2,332.3 574.5,326.7 579.5,320.4 574.0,316.2 568.4,310.6 564.3,305.7 569.0,305.0 574.0,305.0 579.0,302.9 582.3,299.4 589.0,302.2 591.2,308.5Z" fill="#D8554E"/><path d="M552.9,417.4 558.4,422.6 564.0,418.8 571.2,428.9 571.2,438.0 575.6,452.7 571.8,453.4 564.5,447.1 559.5,441.5 555.7,433.1 554.0,424.0ZM605.6,448.5 614.5,452.7 615.6,445.7 624.5,440.1 630.1,431.0 630.6,430.3 633.9,434.5 636.7,432.4 637.3,428.2 638.9,424.0 641.2,420.5 645.0,413.5 650.6,417.7 658.9,425.4 652.8,432.4 650.0,433.3 639.5,433.1 638.4,441.5 634.5,449.2 627.8,453.4 620.1,452.0 611.2,456.6 605.6,453.4Z" fill="#D8554E"/><path d="M572.3,452.7 574.5,452.4 574.0,453.8Z" fill="#FFFFFF"/><path d="M630.6,430.3 635.0,427.5 637.3,428.2 636.7,432.4 633.9,434.5Z" fill="#7CA8E0"/><path d="M526.2,423.3 538.5,426.1 545.1,435.9 554.6,446.4 562.3,450.6 571.2,459.0 573.4,469.5 577.9,476.5 586.2,483.5 585.1,494.0 584.5,503.5 577.9,503.1 565.1,490.5 557.3,477.9 554.0,468.8 546.8,456.2 539.6,445.0 531.2,434.5ZM581.2,510.1 586.2,503.8 591.2,504.2 599.5,508.0 610.6,510.8 613.4,507.3 622.3,510.8 632.8,517.1 632.3,523.4 622.8,521.3 607.8,517.8 596.7,517.1 587.9,514.3ZM605.6,448.5 602.3,452.0 602.3,460.4 603.4,468.8 607.8,473.0 609.0,482.8 617.3,484.9 624.5,485.6 632.8,487.7 633.9,491.6 641.2,488.4 643.9,480.0 643.9,473.0 649.5,467.4 649.5,459.0 657.8,455.5 651.7,448.5 650.0,440.1 650.0,433.3 639.5,433.1 638.4,441.5 634.5,449.2 627.8,453.4 620.1,452.0 611.2,456.6 605.6,453.4ZM662.3,456.9 664.5,453.4 668.9,453.4 680.0,455.5 690.0,450.6 692.2,452.0 687.8,459.0 680.0,459.0 670.6,459.0 665.0,459.7 663.4,467.4 668.9,471.6 672.8,468.8 681.7,468.1 682.2,469.5 676.1,473.7 672.8,475.8 677.2,484.9 679.5,492.6 681.1,495.4 677.2,501.0 672.2,496.1 670.6,489.1 668.4,481.4 665.0,483.5 665.6,501.0 660.6,501.7 660.6,487.0 656.7,482.1 659.5,471.6 662.3,462.5ZM632.8,519.9 636.7,518.9 639.5,521.3 636.7,524.1ZM641.2,520.6 645.0,521.0 643.9,524.8 641.2,524.1ZM645.6,522.0 652.3,519.2 658.4,522.7 653.9,524.1 646.7,525.5ZM662.8,522.0 671.7,522.0 680.0,520.6 678.9,523.4 666.1,524.5ZM657.8,529.0 663.4,528.0 667.8,533.9 662.3,532.5ZM682.8,534.6 690.8,526.9 690.8,530.4 686.1,533.9ZM687.2,474.4 692.8,475.1 696.7,475.8 690.0,476.2ZM676.7,498.2 681.1,499.6 677.8,501.7ZM584.0,473.7 589.5,480.0 585.6,482.8 581.2,476.5ZM594.5,480.7 598.4,482.8 595.6,484.9ZM535.7,452.7 540.7,458.3 537.9,455.5ZM544.6,469.5 548.4,475.1 546.2,473.0ZM551.8,481.4 554.6,484.9 552.9,483.5ZM529.0,442.9 532.9,445.7 530.1,444.3ZM596.7,435.2 599.0,435.9 597.3,437.3ZM576.2,455.5 577.9,454.8 577.3,456.9ZM576.8,463.9 579.5,464.6 577.9,466.7Z" fill="#7CA8E0"/><path d="M675.0,414.2 678.9,407.9 682.2,401.6 689.5,403.0 693.9,393.9 698.9,403.0 700.0,411.4 697.8,418.4 693.3,423.3 692.8,414.9 686.7,419.1 685.6,410.0 681.7,410.0ZM678.9,385.9 682.8,385.4 683.5,386.4 681.8,399.0 680.7,399.4 676.6,393.6ZM647.2,403.4 648.4,399.6 660.8,382.6 661.0,389.6 648.3,404.3ZM673.3,416.7 673.9,415.5 676.7,416.1 674.9,418.4ZM667.7,420.9 668.4,419.7 671.8,420.3 669.2,422.7ZM662.0,427.6 662.0,426.0 665.0,424.8 663.9,428.0Z" fill="#7CA8E0"/><path d="M630.6,615.1 631.2,620.0 627.3,630.5 626.7,645.2 631.2,646.6 633.4,662.0 639.5,683.0 636.2,697.7 636.2,702.6 651.7,708.2 663.4,699.8 682.8,699.8 696.7,688.6 713.3,683.7 725.5,683.0 742.2,691.4 750.0,706.8 760.5,693.5 762.2,690.7 760.5,701.9 757.2,709.6 763.8,703.3 766.1,711.7 772.7,715.9 777.7,728.5 793.8,734.1 800.5,729.9 809.9,736.2 818.8,727.8 829.9,725.0 831.0,712.4 837.1,699.1 843.8,687.9 847.1,674.6 849.9,662.7 847.1,651.5 847.7,637.5 835.5,627.0 834.4,620.7 826.0,611.6 820.5,602.5 812.1,596.9 807.7,585.7 804.4,574.5 803.8,566.8 796.0,563.3 793.3,550.7 788.3,537.4 783.8,552.1 783.3,564.0 779.4,585.0 771.6,585.0 762.2,574.5 749.4,566.8 752.2,555.6 757.2,547.9 749.4,546.5 738.3,545.1 733.3,541.6 723.3,549.3 719.4,557.0 716.1,566.8 708.9,566.8 702.2,559.8 693.9,564.0 687.2,577.3 682.8,584.3 675.6,588.5 670.0,599.0 657.8,602.5 646.7,607.4 638.4,613.0Z" fill="#7CA8E0"/></g><rect x="532.9" y="399.3" width="156.0" height="140.2" fill="none" stroke="#2e2e2e" stroke-width="1.2"/><clipPath id="c4_0"><rect x="703.3" y="399.3" width="57.3" height="54.3"/></clipPath><g clip-path="url(#c4_0)" stroke="#000" stroke-width="0.9" stroke-linejoin="round"><path d="M707.0,400.0 707.2,397.8 710.6,391.9 713.1,388.6 717.5,384.5 719.5,380.1 724.4,377.1 725.8,374.7 734.2,372.3 740.5,368.6 743.0,364.6 742.5,360.5 744.9,356.8 748.8,353.9 757.2,351.3 761.6,344.6 764.5,344.3 768.9,346.8 775.8,346.5 779.7,347.2 781.7,349.1 782.1,352.4 784.6,356.5 784.1,358.3 772.8,360.1 768.9,363.5 763.5,366.4 756.2,367.9 748.1,370.9 748.0,380.8 731.8,380.9 731.7,390.2 726.8,391.9 726.8,398.1 707.8,398.1Z" fill="#8A8A8A"/><path d="M707.0,400.0 707.7,398.1 726.8,398.1 726.8,391.9 731.7,390.2 731.7,380.8 748.0,380.8 748.0,376.0 766.8,384.5 758.6,384.5 763.0,415.9 763.5,419.6 744.9,419.6 738.1,420.0 734.2,419.2 730.7,422.2 724.8,417.4 719.5,415.4 712.1,415.9 709.7,417.4 711.6,410.4 711.1,405.6 709.7,405.2 710.6,402.3Z" fill="#8A8A8A"/><path d="M709.7,417.4 707.2,421.8 704.8,422.6 708.2,425.5 708.2,426.6 714.6,426.1 722.9,426.8 722.4,427.7 715.5,427.6 708.4,428.5 708.7,431.3 717.0,430.0 723.4,430.1 729.3,431.1 734.6,431.1 734.6,428.9 731.7,423.7 730.7,422.2 724.8,417.4 719.5,415.4 712.1,415.9Z" fill="#D8554E"/><path d="M708.2,426.6 714.6,426.1 722.9,426.8 722.4,427.7 715.5,427.6 708.4,428.5Z" fill="#D8554E"/><path d="M708.7,431.3 717.0,430.0 723.4,430.1 723.4,433.7 718.5,434.4 717.0,436.4 714.6,434.4 710.6,432.9ZM711.1,435.1 713.1,435.1 712.1,436.2Z" fill="#D8554E"/><path d="M717.0,436.4 718.5,434.4 723.4,433.7 723.4,430.1 729.3,431.1 734.6,431.1 740.0,431.8 744.9,431.1 747.4,434.0 749.8,436.2 751.3,439.2 751.8,445.5 749.8,448.8 746.4,449.5 743.9,446.0 740.0,445.5 738.6,443.3 735.6,439.9 729.3,440.3 725.3,443.4 723.4,441.8 719.5,438.1Z" fill="#D8554E"/><path d="M725.3,443.4 729.3,440.3 735.6,439.9 738.6,443.3 740.0,445.5 738.6,448.1 734.2,451.3 729.3,449.5 725.3,445.5Z" fill="#D8554E"/><path d="M734.2,451.3 738.6,448.1 740.0,445.5 743.9,446.0 746.4,449.5 749.8,448.8 748.8,452.9 753.7,455.4 753.5,460.8 746.4,458.4 737.6,453.6Z" fill="#8A8A8A"/><path d="M753.5,460.8 753.7,455.4 748.8,452.9 749.8,448.8 751.8,445.5 751.3,439.2 760.1,437.7 763.5,438.5 767.5,441.0 777.3,441.8 778.2,446.6 774.8,451.8 775.3,458.0 766.0,457.7 761.1,459.5Z" fill="#8A8A8A"/><path d="M730.7,422.2 734.2,419.2 738.1,420.0 744.9,419.6 763.5,419.6 763.0,415.9 758.6,384.5 766.8,384.5 796.1,398.9 796.4,400.4 806.1,403.7 806.6,406.7 811.3,406.1 811.0,414.4 807.6,420.0 796.8,420.4 791.5,421.6 787.0,421.3 780.7,424.4 776.3,424.8 770.4,427.4 768.9,430.0 765.0,433.3 763.5,438.5 760.1,437.7 751.3,439.2 749.8,436.2 747.4,434.0 744.9,431.1 740.0,431.8 734.6,431.1 734.6,428.9 731.7,423.7Z" fill="#D8554E"/><path d="M779.7,347.2 790.5,344.3 796.8,342.0 805.2,340.9 816.4,341.3 827.2,340.0 832.6,340.4 831.1,342.0 830.6,347.6 827.2,351.3 830.6,354.2 834.6,358.3 837.0,364.9 839.0,372.3 836.5,379.7 839.4,386.4 849.1,390.1 827.2,399.7 818.9,404.8 811.3,406.1 806.6,406.7 806.1,403.7 796.4,400.4 796.1,398.9 766.8,384.5 748.0,376.0 748.0,370.9 756.2,367.9 763.5,366.4 768.9,363.5 772.8,360.1 784.1,358.3 784.6,356.5 782.1,352.4 781.7,349.1Z" fill="#8A8A8A"/></g><rect x="703.3" y="399.3" width="57.3" height="54.3" fill="none" stroke="#2e2e2e" stroke-width="1.2"/><clipPath id="c5_0"><rect x="775.8" y="399.3" width="57.7" height="54.3"/></clipPath><g clip-path="url(#c5_0)" stroke="#000" stroke-width="0.9" stroke-linejoin="round"><path d="M717.0,429.6 737.0,431.9 752.9,437.0 762.2,432.9 771.5,430.1 783.6,432.9 801.3,432.9 807.9,449.5 804.1,463.3 801.8,465.8 794.8,460.5 786.4,445.3 787.4,455.9 795.7,465.1 799.5,475.3 808.8,492.8 815.3,501.1 826.5,518.6 715.6,518.6 715.6,449.5Z" fill="#D8554E"/><path d="M817.2,390.4 820.0,390.9 824.6,387.2 827.4,383.1 844.2,383.1 861.9,379.4 877.8,379.4 872.2,384.0 866.6,393.2 864.7,404.3 844.2,413.5 825.6,423.6 817.2,420.0 816.3,414.4 823.7,406.1 818.1,402.0Z" fill="#8A8A8A"/><path d="M809.7,416.3 814.4,414.4 816.3,414.4 823.7,406.1 818.1,402.0 813.5,408.9Z" fill="#8A8A8A"/><path d="M801.3,432.9 807.9,449.5 812.5,434.7 813.9,422.7 817.2,420.0 816.3,414.4 814.4,414.4 809.7,416.3 807.9,423.6Z" fill="#033D68"/><path d="M808.3,430.1 813.5,431.0 813.9,422.7 810.7,421.3 808.3,424.6ZM801.3,432.9 804.1,430.1 804.6,431.0Z" fill="#8A8A8A"/><path d="M808.3,450.8 807.9,449.5 812.5,434.7 813.9,422.7 817.2,420.0 825.6,423.6 844.2,413.5 847.9,425.0 827.4,431.0 836.8,440.2 832.1,444.8 819.1,452.2Z" fill="#8A8A8A"/><path d="M808.3,450.8 819.1,452.2 832.1,444.8 836.8,440.2 827.4,431.0 847.9,425.0 859.1,426.9 875.0,434.7 899.2,452.2 916.5,453.1 925.3,454.1 927.2,458.2 933.7,458.2 938.4,467.0 949.6,475.3 950.5,485.4 956.1,493.2 961.7,494.6 963.5,497.9 972.9,509.8 996.2,512.6 1000.8,518.6 995.2,537.0 967.3,549.0 939.3,552.7 931.8,556.4 925.3,563.8 915.1,562.4 903.9,561.0 890.8,561.0 885.2,567.5 881.5,570.2 875.9,560.1 866.6,549.0 860.1,538.9 847.9,527.8 846.1,515.8 837.7,500.2 829.3,490.9 824.6,481.7 814.4,467.9 805.1,462.4Z" fill="#F3C200"/><path d="M783.6,398.3 790.2,395.5 805.1,392.3 798.5,398.3 790.2,402.4 784.6,401.1Z" fill="#033D68"/></g><rect x="775.8" y="399.3" width="57.7" height="54.3" fill="none" stroke="#2e2e2e" stroke-width="1.2"/><clipPath id="c6_0"><rect x="703.3" y="485.3" width="130.0" height="54.2"/></clipPath><g clip-path="url(#c6_0)" stroke="#000" stroke-width="0.9" stroke-linejoin="round"><path d="M797.6,511.3 805.5,507.4 807.9,507.7 815.8,508.8 817.0,511.5Z" fill="#033D68"/><path d="M668.2,561.2 671.9,555.8 671.9,549.4 665.8,544.0 652.5,540.9 650.7,538.6 661.0,536.8 669.4,537.7 668.2,532.7 671.9,534.1 680.3,533.6 688.8,530.5 688.8,527.3 694.2,526.4 697.3,528.2 704.5,531.4 708.7,532.3 714.2,533.6 717.2,533.6 728.7,535.9 725.1,542.2 721.4,543.1 716.0,546.7 715.4,548.5 721.4,549.9 719.6,553.5 721.4,557.6 724.5,559.4 718.4,562.1 711.8,561.6 703.3,560.7 697.9,562.5 697.9,565.7 689.4,565.2 683.3,563.9 676.1,563.9Z" fill="#033D68"/><path d="M694.2,526.4 699.7,525.0 705.1,525.0 709.3,524.6 714.2,526.0 713.6,527.8 715.4,527.8 717.8,530.0 716.0,530.9 714.2,533.6 708.7,532.3 704.5,531.4 697.3,528.2Z" fill="#033D68"/><path d="M714.2,533.6 716.0,530.9 718.4,532.3 717.2,533.6Z" fill="#033D68"/><path d="M699.7,525.0 700.9,524.1 703.9,522.3 706.9,518.7 708.1,517.8 712.4,516.5 720.8,516.0 722.6,516.9 721.4,519.6 719.6,521.9 715.4,522.8 716.6,525.0 715.4,527.8 713.6,527.8 714.2,526.0 709.3,524.6 705.1,525.0Z" fill="#033D68"/><path d="M722.6,516.9 721.4,514.7 727.5,515.1 731.1,513.8 733.5,513.3 731.1,509.2 736.6,509.7 739.6,511.0 745.6,511.5 745.6,513.3 751.7,512.4 754.7,511.0 760.7,510.6 765.0,513.8 765.6,517.8 768.0,521.9 767.4,524.6 769.8,526.9 765.6,526.9 757.7,529.1 752.3,530.0 754.7,532.3 762.6,536.8 760.7,537.7 756.5,539.5 757.7,542.2 752.9,542.2 742.6,542.7 737.2,542.7 731.1,541.8 725.1,542.2 728.7,535.9 717.2,533.6 718.4,532.3 716.0,530.9 717.8,530.0 715.4,527.8 716.6,525.0 715.4,522.8 719.6,521.9 721.4,519.6Z" fill="#033D68"/><path d="M731.1,509.2 728.7,506.5 728.1,502.0 731.1,499.3 738.4,497.5 743.2,496.6 742.6,499.8 741.4,501.6 745.0,502.9 740.8,504.7 737.8,506.5 736.6,509.7ZM746.2,505.6 750.5,504.3 755.3,504.3 755.3,507.0 751.7,509.2 746.8,507.9ZM738.4,507.0 743.8,506.5 743.8,508.6 739.6,508.6ZM745.6,509.7 751.7,509.9 750.5,510.6ZM768.0,507.9 770.4,508.1 769.2,508.8Z" fill="#033D68"/><path d="M737.2,542.7 742.6,542.7 752.9,542.2 757.7,542.2 756.5,539.5 760.7,537.7 762.6,536.8 768.0,537.7 769.2,535.9 781.3,537.7 782.5,540.0 778.9,541.8 776.5,545.4 767.4,547.6 762.0,547.2 754.1,546.3 752.9,544.7 745.6,545.8 742.0,545.4 736.6,544.5Z" fill="#033D68"/><path d="M746.8,490.3 743.2,489.4 743.8,486.7 741.4,490.7 733.5,493.4 727.5,494.8 721.4,495.2 713.6,492.1 710.6,488.5 709.3,483.9 709.3,479.4 710.6,476.3 718.4,473.6 730.5,470.4 739.6,468.1 744.4,465.9 748.6,463.6 754.7,459.1 760.7,454.6 768.6,451.0 772.8,448.7 784.9,444.7 794.0,441.0 806.1,439.7 821.2,437.0 835.1,436.1 848.4,436.5 866.6,439.2 860.5,442.4 866.0,442.4 853.9,445.3 856.3,443.3 847.8,440.6 836.3,441.5 834.5,444.7 828.5,447.4 818.2,446.9 809.7,444.2 803.4,445.3 800.0,448.3 788.6,447.8 787.3,450.1 780.1,450.1 775.9,453.7 772.2,457.3 766.8,458.7 767.4,462.3 762.0,465.4 764.4,467.2 755.9,468.1 751.7,471.3 752.9,475.8 753.5,479.0 757.1,480.3 752.9,481.7 755.3,484.4 750.5,486.7 751.1,487.6 749.9,489.4Z" fill="#033D68"/><path d="M746.8,490.3 747.4,493.9 751.1,497.0 754.7,500.7 755.9,503.8 757.7,507.0 765.0,507.0 766.2,506.1 765.6,504.3 774.6,503.8 778.3,501.1 780.1,496.1 780.7,492.5 787.3,491.2 791.0,488.9 794.0,487.1 784.9,483.0 783.7,478.5 784.9,475.4 791.0,472.7 798.8,469.9 804.9,468.1 809.1,465.4 808.5,462.3 813.3,460.5 825.1,460.0 822.4,457.7 824.2,454.6 821.8,452.3 820.6,450.1 810.9,447.4 803.4,445.3 800.0,448.3 788.6,447.8 787.3,450.1 780.1,450.1 775.9,453.7 772.2,457.3 766.8,458.7 767.4,462.3 762.0,465.4 764.4,467.2 755.9,468.1 751.7,471.3 752.9,475.8 753.5,479.0 757.1,480.3 752.9,481.7 755.3,484.4 750.5,486.7 751.1,487.6 749.9,489.4ZM789.2,499.8 792.8,495.7 795.2,495.7 792.8,498.4ZM778.3,503.4 779.5,500.2 782.5,498.2 780.7,501.1Z" fill="#033D68"/><path d="M825.1,460.0 832.1,463.2 827.3,465.9 817.0,469.9 809.1,472.2 807.9,477.2 809.1,479.4 807.9,482.6 814.0,485.3 818.2,486.9 830.3,485.3 839.3,484.4 847.2,483.7 854.5,480.8 860.5,477.6 867.8,474.9 870.2,473.1 860.5,469.5 863.5,467.2 858.7,464.1 859.9,460.5 855.1,455.0 860.5,451.4 852.0,449.2 851.4,446.0 853.9,445.3 856.3,443.3 847.8,440.6 836.3,441.5 834.5,444.7 828.5,447.4 818.2,446.9 809.7,444.2 803.4,445.3 810.9,447.4 820.6,450.1 821.8,452.3 824.2,454.6 822.4,457.7ZM797.6,485.3 801.9,484.4 801.3,486.0Z" fill="#033D68"/><path d="M821.2,489.8 827.3,488.5 835.1,488.0 849.0,488.9 844.8,491.6 845.4,496.1 844.8,497.3 836.3,496.1 832.1,495.2 826.0,495.7 827.3,493.9 821.2,492.1ZM812.1,493.9 815.2,492.5 819.4,492.5 817.0,494.3 813.3,495.2ZM813.3,491.2 817.6,490.7 817.0,491.6Z" fill="#033D68"/><path d="M826.0,495.7 832.1,495.2 836.3,496.1 844.8,497.3 847.2,498.4 849.6,503.4 846.0,505.2 840.0,505.6 830.3,502.9 829.7,502.5 817.6,502.5 806.4,503.8 806.1,500.7 809.7,497.5 815.8,496.4 819.4,498.4 823.6,499.8 826.6,498.4Z" fill="#7CA8E0"/><path d="M806.4,503.8 817.6,502.5 829.7,502.5 830.3,502.9 840.0,505.6 841.2,507.4 835.1,509.2 833.9,511.9 826.6,513.8 821.2,513.5 820.6,512.4 817.0,511.5 815.8,508.8 807.9,507.7 806.1,507.4 806.7,505.6Z" fill="#7CA8E0"/><path d="M821.2,513.5 826.6,513.8 833.9,511.9 835.1,509.2 841.2,507.4 840.0,505.6 846.0,505.2 849.6,503.4 856.9,505.2 866.0,506.1 865.3,509.7 868.4,512.4 876.8,516.0 869.0,516.9 871.4,521.9 864.1,525.5 856.3,525.0 843.6,524.1 830.3,522.8 821.8,524.6 822.4,521.9 819.4,521.0 823.6,519.2Z" fill="#7CA8E0"/><path d="M765.0,513.8 777.1,511.9 788.0,509.7 791.6,511.5 797.6,511.3 817.0,511.5 820.6,512.4 821.2,513.5 823.6,519.2 819.4,521.0 822.4,521.9 821.8,524.6 824.8,527.8 818.2,531.8 815.8,535.4 806.1,534.1 800.0,535.0 794.0,533.6 792.8,533.6 788.0,531.4 781.3,529.6 777.7,528.7 769.8,526.9 767.4,524.6 768.0,521.9 765.6,517.8Z" fill="#033D68"/><path d="M752.3,530.0 757.7,529.1 765.6,526.9 769.8,526.9 777.7,528.7 781.3,529.6 788.0,531.4 792.8,533.6 788.6,535.4 783.1,536.8 781.3,537.7 769.2,535.9 768.0,537.7 762.6,536.8 754.7,532.3Z" fill="#7CA8E0"/><path d="M781.3,537.7 783.1,536.8 788.6,535.4 792.8,533.6 794.0,533.6 800.0,535.0 806.1,534.1 815.8,535.4 812.7,538.6 809.1,538.1 803.1,538.1 797.0,539.5 792.8,541.3 786.7,541.5 782.5,540.0Z" fill="#7CA8E0"/><path d="M776.5,545.4 778.9,541.8 782.5,540.0 786.7,541.5 792.8,541.3 797.0,539.5 803.1,538.1 809.1,538.1 812.7,538.6 817.6,540.4 812.1,543.1 807.3,547.6 801.9,548.8 793.4,549.9 786.1,549.7 779.5,547.2 778.3,546.3Z" fill="#7CA8E0"/><path d="M801.9,548.8 807.3,547.6 812.1,543.1 817.6,540.4 827.3,540.6 840.0,539.3 845.4,542.7 849.6,547.2 849.6,551.9 858.7,552.6 858.1,554.9 852.0,559.6 842.4,558.0 833.3,560.1 824.2,559.8 816.4,557.6 815.2,555.3 808.5,554.9 809.1,553.0Z" fill="#7CA8E0"/><path d="M812.7,538.6 815.8,535.4 818.2,531.8 824.8,527.8 821.8,524.6 830.3,522.8 843.6,524.1 856.3,525.0 864.1,525.5 871.4,521.9 883.5,520.8 887.1,525.7 894.4,529.6 908.9,531.8 921.6,533.2 919.8,537.7 919.8,541.1 910.1,544.5 901.0,546.3 890.7,549.0 890.7,550.8 899.8,552.1 893.2,554.0 884.7,556.7 881.1,555.8 875.6,552.4 881.7,550.3 882.3,549.0 878.6,549.0 871.4,546.7 864.7,547.2 858.7,552.6 849.6,551.9 853.9,547.4 861.1,547.6 855.1,540.6 846.6,538.4 840.0,539.3 827.3,540.6 817.6,540.4Z" fill="#033D68"/></g><rect x="703.3" y="485.3" width="130.0" height="54.2" fill="none" stroke="#2e2e2e" stroke-width="1.2"/><g stroke="#000" stroke-width="1.0" stroke-linejoin="round"><path d="M391.4,779.0 391.5,777.7 392.9,774.4 393.9,772.5 395.8,770.2 396.6,767.7 398.7,766.0 399.3,764.6 402.8,763.3 405.4,761.2 406.5,758.9 406.3,756.6 407.3,754.5 408.9,752.8 412.4,751.3 414.3,747.6 415.5,747.4 417.4,748.8 420.2,748.6 421.9,749.0 422.7,750.1 422.9,752.0 423.9,754.3 423.7,755.3 419.0,756.4 417.4,758.2 415.1,759.9 412.0,760.8 408.6,762.4 408.6,768.1 401.8,768.1 401.8,773.4 399.7,774.4 399.7,777.9 391.7,777.9Z" fill="#8A8A8A"/><path d="M391.4,779.0 391.7,777.9 399.7,777.9 399.7,774.4 401.8,773.4 401.8,768.1 408.6,768.1 408.6,765.4 416.5,770.2 413.0,770.2 414.9,788.0 415.1,790.1 407.3,790.1 404.4,790.3 402.8,789.8 401.3,791.5 398.9,788.8 396.6,787.7 393.5,788.0 392.5,788.8 393.3,784.8 393.1,782.1 392.5,781.9 392.9,780.2Z" fill="#D8554E"/><path d="M392.5,788.8 391.5,791.3 390.5,791.7 391.9,793.4 391.9,794.0 394.6,793.7 398.1,794.1 397.8,794.7 395.0,794.6 392.0,795.1 392.1,796.7 395.6,795.9 398.3,796.0 400.7,796.5 403.0,796.5 403.0,795.3 401.8,792.4 401.3,791.5 398.9,788.8 396.6,787.7 393.5,788.0Z" fill="#8A8A8A"/><path d="M391.9,794.0 394.6,793.7 398.1,794.1 397.8,794.7 395.0,794.6 392.0,795.1Z" fill="#D8554E"/><path d="M392.1,796.7 395.6,795.9 398.3,796.0 398.3,798.0 396.2,798.4 395.6,799.6 394.6,798.4 392.9,797.6Z" fill="#D8554E"/><path d="M393.1,798.8 393.9,798.8 393.5,799.5Z" fill="#D8554E" stroke-width="1.55"/><path d="M395.6,799.6 396.2,798.4 398.3,798.0 398.3,796.0 400.7,796.5 403.0,796.5 405.2,797.0 407.3,796.5 408.3,798.2 409.4,799.5 410.0,801.2 410.2,804.7 409.4,806.6 407.9,807.0 406.9,805.0 405.2,804.7 404.6,803.5 403.4,801.6 400.7,801.8 399.1,803.6 398.3,802.6 396.6,800.5Z" fill="#D8554E"/><path d="M399.1,803.6 400.7,801.8 403.4,801.6 404.6,803.5 405.2,804.7 404.6,806.2 402.8,808.0 400.7,807.0 399.1,804.7Z" fill="#D8554E"/><path d="M402.8,808.0 404.6,806.2 405.2,804.7 406.9,805.0 407.9,807.0 409.4,806.6 408.9,808.9 411.0,810.4 410.9,813.4 407.9,812.0 404.2,809.3Z" fill="#8A8A8A"/><path d="M410.9,813.4 411.0,810.4 408.9,808.9 409.4,806.6 410.2,804.7 410.0,801.2 413.7,800.3 415.1,800.7 416.7,802.2 420.9,802.6 421.3,805.3 419.8,808.3 420.0,811.8 416.1,811.6 414.1,812.7Z" fill="#8A8A8A"/><path d="M420.0,811.8 419.8,808.3 421.3,805.3 420.9,802.6 420.6,799.5 426.4,799.3 427.4,801.6 427.6,804.7 427.4,806.8 428.9,809.7 426.0,811.0 422.3,812.6Z" fill="#D8554E"/><path d="M428.9,809.7 427.4,806.8 427.6,804.7 427.4,801.6 426.4,799.3 428.2,799.5 428.0,800.9 429.7,803.7 429.7,809.5Z" fill="#D8554E"/><path d="M429.7,809.5 429.7,803.7 428.0,800.9 428.2,799.5 429.3,798.6 431.3,797.6 433.8,798.0 434.2,800.1 432.2,803.5 431.9,806.0 431.9,809.1Z" fill="#D8554E"/><path d="M431.9,809.1 431.9,806.0 432.2,803.5 434.2,800.1 433.8,798.0 434.8,794.2 437.7,793.4 440.6,795.3 442.4,794.7 446.1,795.7 451.0,794.9 454.3,793.8 455.4,795.2 455.6,796.3 456.4,798.4 454.7,799.5 453.5,802.4 452.7,804.3 450.6,807.6 449.0,808.5 446.9,808.1 445.5,808.9 444.1,812.5 443.4,813.1 440.8,813.3 438.7,813.5 436.9,811.0 435.4,809.3 433.4,809.1Z" fill="#D8554E"/><path d="M415.1,800.7 415.7,797.8 417.4,795.9 418.0,794.5 420.4,793.0 422.3,792.8 425.0,791.0 426.8,791.2 427.2,793.2 428.5,794.5 430.7,795.9 431.3,797.6 429.3,798.6 428.2,799.5 426.4,799.3 420.6,799.5 420.9,802.6 416.7,802.2Z" fill="#D8554E"/><path d="M401.3,791.5 402.8,789.8 404.4,790.3 407.3,790.1 415.1,790.1 414.9,788.0 413.0,770.2 416.5,770.2 428.8,778.3 428.9,779.2 433.0,781.1 433.2,782.7 435.1,782.4 435.0,787.1 433.6,790.3 429.1,790.5 426.8,791.2 425.0,791.0 422.3,792.8 420.4,793.0 418.0,794.5 417.4,795.9 415.7,797.8 415.1,800.7 413.7,800.3 410.0,801.2 409.4,799.5 408.3,798.2 407.3,796.5 405.2,797.0 403.0,796.5 403.0,795.3 401.8,792.4Z" fill="#D8554E"/><path d="M426.8,791.2 429.1,790.5 433.6,790.3 435.0,787.1 435.1,782.4 438.3,781.7 441.8,778.8 451.0,773.3 455.6,775.2 457.2,774.4 459.1,779.8 458.2,787.1 455.2,789.6 454.3,793.8 451.0,794.9 446.1,795.7 442.4,794.7 440.6,795.3 437.7,793.4 434.8,794.2 433.8,798.0 431.3,797.6 430.7,795.9 428.5,794.5 427.2,793.2Z" fill="#D8554E"/><path d="M421.9,749.0 426.4,747.4 429.1,746.1 432.6,745.5 437.3,745.7 441.8,745.0 444.1,745.2 443.4,746.1 443.2,749.2 441.8,751.3 443.2,753.0 444.9,755.3 445.9,759.1 446.7,763.3 445.7,767.5 446.9,771.2 451.0,773.3 441.8,778.8 438.3,781.7 435.1,782.4 433.2,782.7 433.0,781.1 428.9,779.2 428.8,778.3 416.5,770.2 408.6,765.4 408.6,762.4 412.0,760.8 415.1,759.9 417.4,758.2 419.0,756.4 423.7,755.3 423.9,754.3 422.9,752.0 422.7,750.1Z" fill="#8A8A8A"/><path d="M444.1,745.2 446.5,744.3 447.6,745.3 449.2,745.0 448.0,746.5 448.2,748.0 449.2,748.8 447.1,750.7 447.1,751.5 449.2,752.4 450.1,753.1 450.0,754.7 447.6,756.2 447.6,757.8 445.9,759.1 444.9,755.3 443.2,753.0 441.8,751.3 443.2,749.2 443.4,746.1Z" fill="#8A8A8A"/><path d="M450.1,753.1 452.1,753.8 453.5,753.6 457.6,754.7 458.6,756.6 462.3,757.8 465.4,759.1 467.5,757.6 467.7,755.1 470.6,753.6 473.8,754.3 478.1,756.3 477.7,760.8 477.7,776.5 477.7,780.6 475.7,780.6 475.7,781.7 457.2,774.4 455.6,775.2 451.0,773.3 446.9,771.2 445.7,767.5 446.7,763.3 445.9,759.1 447.6,757.8 447.6,756.2 450.0,754.7Z" fill="#8A8A8A"/><path d="M478.1,756.3 482.5,756.8 486.0,757.9 488.0,757.0 490.1,756.4 492.7,757.0 496.6,757.0 498.1,760.8 497.3,763.9 496.7,764.5 495.2,763.3 493.4,759.8 493.6,762.2 495.4,764.3 496.2,766.6 498.3,770.6 499.7,772.5 502.2,776.5 477.7,776.5 477.7,760.8Z" fill="#D8554E"/><path d="M471.4,796.0 472.2,794.5 473.6,789.6 475.7,789.6 475.7,780.6 477.7,780.6 477.7,776.5 502.2,776.5 502.8,778.5 502.8,781.5 505.7,784.8 502.4,786.7 501.4,790.9 500.5,795.9 498.5,797.8 496.9,800.3 496.4,802.6 496.4,804.9 494.2,806.2 497.7,808.5 498.9,811.2 500.1,812.9 496.2,813.7 495.2,814.7 489.8,815.2 487.4,813.1 484.7,813.5 482.7,811.9 475.7,804.3 473.4,799.7 472.2,795.9Z" fill="#8A8A8A"/><path d="M505.7,784.8 506.9,789.0 507.3,789.8 509.0,791.1 511.0,792.2 513.5,794.9 514.9,795.9 513.5,796.3 512.1,794.2 510.2,792.8 506.5,791.9 504.2,791.3 501.2,792.4 501.4,790.9 502.4,786.7Z" fill="#0575C8"/><path d="M514.9,795.9 515.5,797.4 515.2,798.4 514.3,799.6 512.3,799.5 512.1,798.2 513.5,796.3Z" fill="#0575C8"/><path d="M515.2,798.4 517.8,800.7 520.9,800.1 525.0,799.1 529.1,798.4 531.7,797.7 531.4,800.5 530.7,802.8 528.7,806.4 526.2,810.8 524.0,814.1 520.9,817.1 519.4,818.3 515.7,821.2 513.7,823.3 511.7,826.0 510.6,824.3 510.6,816.4 512.5,814.2 514.7,812.9 518.8,812.1 525.0,805.8 522.9,805.8 516.8,803.7 514.7,802.8 514.3,799.6Z" fill="#0575C8"/><path d="M501.2,792.4 504.2,791.3 506.5,791.9 510.2,792.8 512.1,794.2 513.5,796.3 512.1,798.2 512.3,799.5 514.3,799.6 514.7,802.8 516.8,803.7 522.9,805.8 525.0,805.8 518.8,812.1 514.7,812.9 512.5,814.2 510.2,813.7 507.5,815.4 504.5,815.0 500.5,813.2 500.1,812.9 498.9,811.2 497.7,808.5 494.2,806.2 496.4,804.9 496.4,802.6 496.9,800.3 498.5,797.8 500.5,795.9Z" fill="#0575C8"/><path d="M511.7,826.0 509.0,828.2 506.9,832.2 503.8,829.8 503.6,828.8 496.2,824.6 496.0,822.3 497.3,820.2 498.3,818.5 497.3,815.8 496.2,813.7 500.1,812.9 500.5,813.2 504.5,815.0 507.5,815.4 510.2,813.7 512.5,814.2 510.6,816.4 510.6,824.3Z" fill="#0575C8"/><path d="M496.2,824.6 489.0,824.7 487.2,825.4 487.2,823.8 487.6,822.1 488.0,820.8 490.7,818.0 489.8,815.2 491.9,815.0 495.2,814.7 496.2,813.7 497.3,815.8 498.3,818.5 497.3,820.2 496.0,822.3Z" fill="#0575C8"/><path d="M506.9,832.2 506.1,835.3 507.1,836.7 507.1,839.9 508.1,843.4 509.5,844.4 505.5,846.4 501.4,847.0 498.2,846.7 497.3,843.4 496.0,842.6 494.1,842.2 490.5,840.5 489.6,839.7 487.2,835.7 486.8,831.8 489.7,829.4 489.0,827.5 489.8,827.3 489.0,824.7 496.2,824.6 503.6,828.8 503.8,829.8Z" fill="#0575C8"/><path d="M506.9,834.6 507.6,835.5 507.3,836.1ZM507.9,832.8 508.3,833.6 507.9,833.8Z" fill="#0575C8" stroke-width="1.55"/><path d="M486.0,828.2 487.2,825.4 489.0,824.7 489.8,827.3 489.0,827.5 487.8,828.2Z" fill="#0575C8"/><path d="M486.0,828.2 487.8,828.2 489.0,827.5 489.7,829.4 486.8,831.8 486.4,829.4Z" fill="#0575C8"/><path d="M451.5,834.7 452.1,833.4 453.3,832.1 453.9,832.8 456.0,832.8 457.8,831.5 459.7,827.1 462.8,823.5 463.4,819.4 464.6,815.2 464.6,813.3 466.2,811.8 468.7,813.3 472.4,813.9 473.4,812.5 476.5,811.8 478.4,811.9 482.7,811.9 484.7,813.5 487.4,813.1 489.8,815.2 490.7,818.0 488.0,820.8 487.6,822.1 487.2,823.8 487.2,825.4 486.0,828.2 486.4,829.4 486.8,831.8 487.2,835.7 489.6,839.7 485.8,840.3 484.7,842.0 485.3,844.9 484.7,847.4 486.0,848.5 487.6,848.0 487.6,850.7 484.7,848.7 482.3,846.8 478.4,845.9 476.5,846.5 475.7,845.3 472.0,845.9 471.6,843.4 471.2,837.8 466.5,837.8 466.2,839.2 462.6,839.5 460.5,834.8 453.9,834.8 451.9,835.2Z" fill="#F3C200"/><path d="M494.1,842.2 490.5,840.5 489.6,839.7 485.8,840.3 484.7,842.0 485.3,844.9 484.7,847.4 486.0,848.5 487.6,848.0 487.6,850.7 484.7,848.7 482.3,846.8 478.4,845.9 476.5,846.5 475.7,845.3 475.7,849.7 471.6,849.7 471.6,856.4 474.5,859.3 478.3,859.8 481.9,860.1 485.8,855.9 488.8,855.2 488.4,853.5 494.6,851.8 493.6,851.0 494.2,848.9 494.8,846.8 494.8,843.4Z" fill="#0575C8"/><path d="M494.1,842.2 496.0,842.6 497.3,843.4 498.2,846.7 497.1,848.0 497.5,850.8 500.1,853.7 499.9,856.0 498.9,858.3 497.1,856.6 497.5,854.5 496.9,852.6 494.6,851.8 493.6,851.0 494.2,848.9 494.8,846.8 494.8,843.4Z" fill="#0575C8"/><path d="M509.5,844.4 509.8,848.7 509.8,852.8 510.2,853.9 507.5,857.5 502.4,859.8 498.9,863.9 498.0,864.0 498.9,867.5 499.3,872.5 494.2,875.2 493.4,876.8 494.0,878.7 492.3,878.7 492.1,876.8 492.1,873.8 491.2,871.7 490.7,869.4 492.9,867.1 494.2,863.7 493.8,861.8 494.2,858.7 494.0,857.5 490.7,856.0 488.8,855.2 488.4,853.5 494.6,851.8 496.9,852.6 497.5,854.5 497.1,856.6 498.9,858.3 499.9,856.0 500.1,853.7 497.5,850.8 497.1,848.0 498.2,846.7 501.4,847.0 505.5,846.4Z" fill="#0575C8"/><path d="M478.3,859.8 481.9,860.1 485.8,855.9 488.8,855.2 490.7,856.0 494.0,857.5 494.2,858.7 493.8,861.8 494.2,863.7 492.9,867.1 490.7,869.4 486.8,869.0 483.9,867.7 483.3,865.4 480.2,863.1Z" fill="#F3C200"/><path d="M478.3,859.8 480.2,863.1 483.3,865.4 483.9,867.7 486.8,869.0 484.5,869.8 481.7,872.1 479.6,874.3 478.8,876.3 473.6,875.5 471.0,878.7 468.9,878.7 467.5,874.4 467.5,868.5 469.5,868.5 469.5,860.8 474.5,860.2 476.5,860.2Z" fill="#F3C200"/><path d="M450.5,858.6 454.1,858.1 455.2,858.9 464.2,858.9 469.5,860.1 474.5,859.3 478.3,859.8 476.5,860.2 474.5,860.2 469.5,860.8 469.5,868.5 467.5,868.5 467.5,874.4 467.5,881.9 462.3,882.6 460.3,882.4 457.6,878.2 456.2,870.5 453.9,866.0 451.0,860.6Z" fill="#F3C200"/><path d="M460.3,882.4 461.9,886.3 463.4,890.1 464.2,893.5 464.4,894.4 467.5,895.3 471.8,894.1 477.3,894.1 479.0,893.6 483.7,891.6 487.0,888.4 490.1,885.1 492.9,882.2 494.0,878.7 492.3,878.7 492.1,876.8 492.1,873.8 491.2,871.7 490.7,869.4 486.8,869.0 484.5,869.8 481.7,872.1 479.6,874.3 478.8,876.3 473.6,875.5 471.0,878.7 468.9,878.7 467.5,874.4 467.5,881.9 462.3,882.6Z" fill="#D8554E"/><path d="M481.9,884.5 484.3,882.6 486.6,883.4 486.8,885.1 484.1,886.7 482.7,885.9Z" fill="#F3C200"/><path d="M489.7,877.8 490.9,876.4 492.1,876.9 492.3,878.7 490.7,879.6 489.9,878.6Z" fill="#F3C200"/><path d="M450.5,858.6 450.6,856.0 451.5,852.8 453.9,848.9 454.7,845.5 453.5,840.9 452.7,837.2 451.9,835.2 453.9,834.8 460.5,834.8 462.6,839.5 466.2,839.2 466.5,837.8 471.2,837.8 471.6,843.4 472.0,845.9 475.7,845.3 475.7,849.7 471.6,849.7 471.6,856.4 474.5,859.3 469.5,860.1 464.2,858.9 455.2,858.9 454.1,858.1Z" fill="#F3C200"/><path d="M451.5,834.5 451.0,833.0 451.5,832.5 453.3,832.1 452.1,833.4Z" fill="#F3C200" stroke-width="1.55"/><path d="M451.5,832.5 449.2,830.7 450.2,828.4 452.1,827.3 453.1,827.5 456.0,826.5 456.2,823.8 455.0,822.1 455.8,819.6 453.7,819.8 453.5,817.9 456.2,817.9 459.3,818.9 459.7,817.9 460.3,815.2 464.6,815.2 463.4,819.4 462.8,823.5 459.7,827.1 457.8,831.5 456.0,832.8 453.9,832.8 453.3,832.1Z" fill="#F3C200"/><path d="M449.2,830.7 446.1,827.5 444.5,824.0 445.9,821.9 446.5,820.4 449.6,820.4 449.6,817.9 453.5,817.9 453.7,819.8 455.8,819.6 455.0,822.1 456.2,823.8 456.0,826.5 453.1,827.5 452.1,827.3 450.2,828.4Z" fill="#F3C200"/><path d="M446.5,820.4 449.6,820.4 449.6,817.9 446.5,817.7Z" fill="#F3C200"/><path d="M443.9,815.4 444.7,814.7 444.7,815.6Z" fill="#F3C200" stroke-width="1.55"/><path d="M439.8,822.1 440.3,821.9 440.0,822.4Z" fill="#F3C200" stroke-width="1.55"/><path d="M446.5,817.7 446.3,814.8 444.7,813.1 444.1,812.5 445.5,808.9 446.9,808.1 449.0,808.5 450.6,807.6 452.7,804.3 453.5,802.4 454.7,799.5 456.4,798.4 455.6,796.3 455.4,795.2 457.0,795.9 457.2,798.4 457.4,801.6 455.0,802.4 457.6,806.8 456.2,809.9 456.4,812.0 457.4,814.5 459.7,817.9 459.3,818.9 456.2,817.9 453.5,817.9 449.6,817.9Z" fill="#D8554E"/><path d="M457.6,806.8 460.9,806.6 464.4,805.8 465.4,803.7 471.0,800.3 473.4,799.7 475.7,804.3 478.4,807.2 480.8,809.9 482.7,811.9 478.4,811.9 476.5,811.8 473.4,812.5 472.4,813.9 468.7,813.3 466.2,811.8 464.6,813.3 464.6,815.2 460.3,815.2 459.7,817.9 457.4,814.5 456.4,812.0 456.2,809.9Z" fill="#F3C200"/><path d="M454.3,793.8 455.4,795.2 457.0,795.9 457.2,798.4 457.4,801.6 455.0,802.4 457.6,806.8 460.9,806.6 464.4,805.8 465.4,803.7 471.0,800.3 473.4,799.7 472.2,795.9 471.4,796.0 472.2,794.5 472.6,793.0 473.6,789.6 475.7,789.6 475.7,781.7 457.2,774.4 459.1,779.8 458.2,787.1 455.2,789.6Z" fill="#D8554E"/><path d="M527.6,847.5 529.1,850.8 530.1,854.5 528.5,856.0 527.9,860.2 526.6,864.4 524.8,869.6 523.1,874.6 519.2,876.1 516.8,874.6 515.3,869.0 517.6,864.4 516.8,861.2 517.6,856.4 521.5,855.4 524.8,852.2 526.6,848.7Z" fill="#0575C8"/><path d="M374.4,786.7 375.1,786.7 374.8,787.1ZM377.7,790.5 378.3,790.9 377.9,791.2ZM376.3,791.2 376.5,791.5 376.2,791.4ZM379.2,788.6 379.8,788.8 379.4,789.0Z" fill="#FFFFFF" stroke-width="1.55"/><path d="M515.3,846.6 515.7,847.4 515.3,847.4ZM517.4,847.8 517.8,848.2 517.4,848.2ZM519.0,849.1 519.3,849.6 519.0,849.6Z" fill="#0575C8" stroke-width="1.55"/><path d="M544.3,864.6 544.9,864.8 544.5,865.4ZM540.0,866.2 541.0,866.7 540.4,867.2Z" fill="#0575C8" stroke-width="1.55"/><path d="M540.2,832.1 540.5,832.3 540.3,832.4Z" fill="#0575C8" stroke-width="1.55"/><path d="M489.9,676.6 494.2,677.2 500.3,677.9 508.6,680.6 511.0,682.7 509.6,683.7 505.5,684.2 498.3,683.3 493.2,682.1 497.3,684.8 497.9,687.5 502.4,688.8 504.5,686.9 509.6,687.4 508.6,685.4 512.7,683.5 516.8,683.9 516.8,680.6 515.3,678.9 520.9,680.2 520.9,682.5 525.0,680.8 529.1,680.0 535.3,679.5 538.3,679.8 543.5,678.9 548.6,679.3 550.7,678.5 550.7,676.4 558.9,677.5 563.0,678.3 564.0,678.9 567.1,677.5 564.0,676.0 563.6,673.9 567.1,670.1 570.2,669.1 575.9,670.1 575.3,673.9 577.0,677.0 575.3,680.2 574.3,683.3 578.4,681.2 579.4,678.1 577.4,673.9 580.5,670.8 586.6,671.0 592.8,671.8 596.9,674.9 597.9,672.2 591.7,668.7 605.1,665.5 615.4,663.4 627.7,662.4 640.0,659.9 646.2,661.3 656.4,662.4 659.5,664.5 652.3,666.6 644.1,668.7 652.3,667.8 658.5,668.2 670.8,669.7 681.1,668.2 687.3,668.7 692.4,670.8 691.4,673.9 695.5,674.3 699.6,672.6 707.8,673.1 714.0,670.8 724.2,670.8 734.5,672.6 739.6,674.1 753.0,676.0 757.1,677.0 765.3,676.8 771.5,676.0 776.6,676.2 776.6,678.1 781.7,676.4 790.0,677.0 796.1,678.3 796.1,686.5 793.0,687.3 791.0,686.9 794.7,690.9 794.5,692.1 785.9,693.4 779.7,695.2 776.2,697.1 767.4,696.9 763.3,697.3 761.2,701.1 759.1,701.5 761.8,704.9 758.7,707.6 755.0,711.2 752.0,711.8 748.3,715.8 746.8,712.6 745.8,707.4 746.8,703.2 749.9,701.1 754.6,698.0 758.1,695.9 762.6,693.6 761.2,691.7 755.0,693.4 748.3,694.2 743.7,697.5 738.6,699.0 736.1,698.0 730.4,698.4 720.1,698.4 714.0,702.2 708.8,706.3 704.1,708.0 708.8,709.9 712.9,709.1 716.6,711.4 715.0,715.8 715.0,721.0 710.9,725.2 705.7,729.8 700.0,732.9 697.5,732.3 694.9,734.0 694.7,733.3 695.7,731.5 696.1,728.5 699.6,728.1 701.6,723.3 703.1,721.4 699.6,722.2 695.5,722.7 694.7,720.2 689.3,718.7 688.3,717.3 685.2,712.0 679.7,710.4 674.7,710.9 672.9,712.4 674.3,713.7 670.8,717.6 668.4,718.9 666.1,718.2 663.6,717.4 661.2,717.2 656.4,719.1 649.3,719.3 645.2,717.2 638.0,717.2 636.5,715.1 629.7,713.7 627.7,714.7 627.7,717.9 621.5,717.9 616.4,716.2 611.3,717.6 606.7,719.5 605.7,719.7 602.0,718.7 597.9,715.8 590.7,716.2 586.4,710.9 583.5,709.1 577.4,710.5 572.2,709.1 572.0,706.8 568.1,706.5 560.5,708.6 552.3,709.7 551.5,712.6 552.7,715.1 548.6,716.6 541.4,715.8 538.3,715.8 532.2,714.3 530.7,714.5 526.0,717.6 522.9,717.4 522.5,720.8 525.6,722.9 527.0,725.2 525.0,726.2 523.6,728.3 522.5,729.4 524.0,732.5 526.0,734.9 524.8,736.3 521.7,734.8 518.8,733.1 516.4,733.1 513.7,732.1 508.6,731.7 505.5,729.6 503.2,728.9 501.8,727.9 503.4,726.8 504.5,725.2 507.1,723.9 504.9,723.9 508.1,722.3 508.1,720.8 508.8,718.7 504.5,718.1 499.5,717.0 497.1,715.2 495.8,712.9 491.7,713.5 490.9,711.2 493.6,710.7 490.7,709.1 489.7,707.8 489.9,706.1 486.8,705.7 484.3,704.9 483.5,702.6 482.7,702.0 482.9,701.5 482.7,699.4 484.1,698.2 483.9,697.5 486.0,697.0 488.4,697.1 486.0,696.5 484.9,695.9 483.5,695.8 486.0,694.4 488.0,692.9 490.5,691.7 491.3,690.9 488.0,689.2 489.0,688.1 487.4,686.7 487.8,685.0 486.2,682.5 488.0,680.8 485.1,679.8 484.9,678.3 485.8,678.0ZM56.7,678.3 62.8,679.5 71.1,682.3 77.2,684.2 75.2,685.4 71.1,687.9 64.9,687.1 59.8,683.7 56.7,686.5ZM542.0,671.6 540.2,669.2 540.3,668.9 543.4,666.3 551.7,663.6 561.9,661.9 568.4,661.4 566.1,663.5 553.8,665.8 547.8,668.2 545.5,672.1ZM520.8,653.8 525.0,652.7 531.4,653.5 529.1,655.3 520.9,654.3ZM535.2,654.2 541.4,652.1 549.9,653.3 545.5,655.3 535.2,654.7ZM621.4,656.9 627.7,654.8 638.0,656.3 642.3,658.7 631.8,659.5 621.5,657.4ZM621.5,654.9 615.1,653.4 623.6,652.3 627.9,653.4ZM631.7,656.3 631.6,656.0 631.8,655.9 642.1,656.9 646.4,658.9 639.9,659.5ZM707.7,664.7 709.9,663.2 716.0,663.0 724.5,664.2 722.2,665.8 714.0,666.2 707.8,665.1ZM717.8,708.8 718.2,708.7 720.3,710.8 721.4,717.7 723.8,720.2 723.8,720.6 720.5,723.1 721.3,724.7 719.7,726.4 719.3,726.4 717.8,724.1 717.8,714.7 717.2,711.0Z" fill="#033D68"/><path d="M466.7,708.5 469.3,706.8 470.2,706.9 472.8,707.4 473.2,708.6ZM526.0,677.2 527.5,676.8 530.0,677.6 528.0,678.7 525.9,677.7ZM547.6,675.3 550.6,675.1 550.9,675.4 550.5,676.7 550.2,676.8 547.5,675.8ZM549.6,652.7 559.9,652.3 560.2,652.5 560.2,653.8 559.9,654.1 549.6,653.2 549.4,653.0ZM613.3,655.2 617.4,654.8 619.7,656.2 613.3,655.7 613.1,655.5ZM726.2,664.9 730.4,664.2 736.8,664.6 734.5,665.8 726.3,665.4 726.0,665.1ZM713.9,668.4 716.0,667.6 721.2,668.2 721.3,668.6 720.1,669.5 713.9,668.9ZM793.0,673.2 796.1,672.6 796.4,672.9 796.4,674.1 796.1,674.4 793.0,673.7ZM56.7,672.6 60.8,673.6 61.0,673.9 56.7,674.4 56.4,674.1 56.4,672.9ZM745.6,717.0 745.7,716.6 747.4,716.2 746.6,717.6 746.2,717.6ZM738.4,723.9 738.5,723.5 739.8,723.1 739.2,724.3ZM734.6,726.8 733.2,726.9 733.4,726.6 735.7,725.7ZM728.0,729.8 727.7,729.7 727.8,729.3 731.9,727.0 732.2,727.1 732.2,727.5ZM725.1,731.1 724.9,730.6 727.5,729.2 726.5,730.8ZM766.3,706.7 767.5,706.8 768.6,708.2 766.2,707.2ZM708.7,707.2 710.0,706.8 711.1,707.9 708.8,707.6ZM761.8,700.1 761.7,699.6 764.5,698.4 763.0,700.2Z" fill="#033D68" stroke-width="1.55"/><path d="M527.0,725.2 531.2,724.1 535.3,724.3 535.3,727.7 531.2,728.3 529.7,729.4 531.2,732.1 534.2,732.9 534.2,735.0 537.3,734.0 540.4,736.1 541.4,736.1 541.4,728.3 546.8,727.1 551.7,729.6 553.7,731.5 558.9,731.2 562.0,732.7 562.2,734.6 563.0,736.3 566.1,736.7 567.1,737.5 568.1,736.1 571.2,734.6 572.2,734.0 572.6,732.9 577.4,732.5 578.8,732.1 581.9,732.9 588.7,732.9 591.1,734.2 591.3,732.3 592.4,732.1 591.3,728.7 595.9,727.7 596.9,723.7 602.0,723.9 602.4,721.2 605.7,719.7 602.0,718.7 597.9,715.8 590.7,716.2 586.4,710.9 583.5,709.1 577.4,710.5 572.2,709.1 572.0,706.8 568.1,706.5 560.5,708.6 552.3,709.7 551.5,712.6 552.7,715.1 548.6,716.6 541.4,715.8 538.3,715.8 532.2,714.3 530.7,714.5 526.0,717.6 522.9,717.4 522.5,720.8 525.6,722.9Z" fill="#033D68"/><path d="M541.4,736.1 541.4,728.3 546.8,727.1 551.7,729.6 553.7,731.5 558.9,731.2 562.0,732.7 562.2,734.6 563.0,736.3 566.1,736.7 567.1,737.5 568.1,736.1 571.2,734.6 572.2,734.0 573.9,735.6 576.5,737.1 574.3,738.2 571.4,738.4 571.0,736.9 568.7,737.1 568.1,738.4 567.3,739.6 564.8,739.8 566.7,742.5 565.7,744.6 563.0,744.2 560.9,742.3 557.9,740.9 554.8,738.8 553.5,736.3 550.1,736.1 549.6,734.2 546.6,733.1 545.1,734.2 543.5,736.1Z" fill="#7CA8E0"/><path d="M534.2,735.0 537.3,734.0 540.4,736.1 541.4,736.1 543.5,736.1 545.1,734.2 546.6,733.1 549.6,734.2 550.1,736.1 553.5,736.3 554.8,738.8 557.9,740.9 560.9,742.3 563.0,744.2 561.1,744.4 559.5,744.8 558.9,746.5 555.8,747.4 554.4,748.6 552.3,748.0 551.9,745.9 550.3,745.9 548.2,744.0 544.1,742.5 541.4,743.0 539.0,744.2 537.1,744.3 536.9,740.9 535.3,739.8 536.3,737.7 534.9,736.3Z" fill="#7CA8E0"/><path d="M572.2,734.0 572.6,732.9 577.4,732.5 578.8,732.1 581.9,732.9 588.7,732.9 591.1,734.2 587.6,735.8 584.1,736.7 582.5,737.9 580.0,737.7 578.0,739.2 577.8,739.9 574.3,740.0 571.2,739.6 568.7,739.8 569.2,738.6 571.4,738.4 574.3,738.2 576.5,737.1 573.9,735.6Z" fill="#033D68"/><path d="M565.7,744.6 566.7,742.5 564.8,739.8 567.3,739.6 568.1,738.4 568.7,737.1 571.0,736.9 571.4,738.4 569.2,738.6 568.7,739.8 571.2,739.6 574.3,740.0 577.8,739.9 578.0,741.7 580.2,742.1 580.2,744.5 577.0,744.2 575.3,745.3 573.5,745.7 573.3,743.2 570.8,742.3 569.2,744.0 566.1,745.1Z" fill="#7CA8E0"/><path d="M552.3,748.0 554.4,748.6 555.8,747.4 558.9,746.5 559.5,744.8 561.1,744.4 563.0,744.2 565.7,744.6 566.1,745.1 569.2,744.0 570.8,742.3 573.3,743.2 573.5,745.7 575.3,745.3 577.0,744.2 580.2,744.5 578.4,745.5 575.3,746.7 572.6,747.2 573.5,748.8 572.2,751.1 570.2,751.5 569.2,753.4 568.7,755.7 565.7,756.8 562.8,757.8 562.6,760.0 557.9,761.0 554.8,761.0 551.4,760.0 553.3,756.8 551.3,756.6 550.9,753.0 550.9,750.7Z" fill="#8A8A8A"/><path d="M551.4,760.0 553.3,762.6 555.4,763.5 555.4,765.6 556.4,766.8 553.5,767.7 552.9,769.8 557.9,769.5 563.0,769.3 564.0,770.6 565.0,772.5 566.5,772.9 567.7,771.6 572.2,771.4 571.8,768.7 570.4,766.8 569.2,766.0 571.2,763.9 574.1,764.1 576.3,761.4 578.2,759.3 579.6,757.4 579.4,754.5 581.3,754.9 578.4,753.4 578.2,750.1 584.1,748.0 586.2,748.2 582.5,747.2 582.3,745.9 580.2,744.5 578.4,745.5 575.3,746.7 572.6,747.2 573.5,748.8 572.2,751.1 570.2,751.5 569.2,753.4 568.7,755.7 565.7,756.8 562.8,757.8 562.6,760.0 557.9,761.0 554.8,761.0Z" fill="#7CA8E0"/><path d="M566.5,772.9 567.5,773.9 570.8,774.6 568.1,775.8 570.2,778.8 572.2,779.2 574.7,778.1 575.5,776.0 575.5,777.5 575.9,782.7 577.0,788.0 578.6,791.5 580.0,795.5 582.1,799.1 583.1,802.6 585.6,805.6 587.0,803.9 589.1,803.0 590.4,800.9 590.3,797.6 591.3,795.1 590.9,790.7 593.2,789.0 595.4,787.5 597.5,785.5 601.0,782.1 604.1,780.2 605.1,777.5 607.4,777.3 609.4,777.1 609.0,773.9 608.6,771.6 607.4,770.8 607.8,768.5 608.0,767.0 610.8,768.1 610.8,769.5 616.2,770.2 615.8,771.8 613.7,772.3 613.9,773.9 615.0,774.4 616.0,777.7 616.6,777.9 617.8,776.0 618.2,772.3 620.7,769.8 621.9,766.8 625.6,764.5 626.3,763.3 623.6,761.2 620.5,761.4 615.6,764.3 614.8,764.3 615.6,766.2 610.8,766.6 609.0,765.4 608.8,763.8 607.4,764.1 607.4,767.2 602.6,766.8 598.9,764.9 592.8,763.1 590.9,762.2 591.7,760.1 592.8,759.3 589.1,757.2 588.3,757.0 587.4,754.5 589.7,753.8 588.3,750.5 591.1,748.2 586.2,748.2 584.1,748.0 578.2,750.1 578.4,753.4 581.3,754.9 579.4,754.5 579.6,757.4 578.2,759.3 576.3,761.4 574.1,764.1 571.2,763.9 569.2,766.0 570.4,766.8 571.8,768.7 572.2,771.4 567.7,771.6Z" fill="#D8554E"/><path d="M616.8,794.2 617.4,796.3 617.0,798.2 616.6,796.3ZM618.9,807.4 619.3,807.8 619.1,808.3ZM616.2,799.9 616.6,800.3 616.4,800.5Z" fill="#D8554E" stroke-width="1.55"/><path d="M607.4,764.1 607.4,767.2 602.6,766.8 598.9,764.9 592.8,763.1 590.9,762.2 591.7,760.1 592.8,759.3 595.2,759.5 597.9,761.4 601.4,762.8 604.1,763.9 605.5,764.2Z" fill="#D8554E"/><path d="M609.0,765.4 610.8,766.6 615.6,766.2 614.8,764.3 612.3,763.7 610.2,763.7Z" fill="#D8554E"/><path d="M609.4,777.1 609.0,773.9 608.6,771.6 607.4,770.8 607.8,768.5 608.0,767.0 610.8,768.1 610.8,769.5 616.2,770.2 615.8,771.8 613.7,772.3 613.9,773.9 615.0,774.4 616.0,777.7 616.6,777.9 616.0,779.2 615.0,775.8 612.9,775.8 611.9,776.7Z" fill="#D8554E"/><path d="M590.5,802.0 592.4,803.0 594.4,806.8 594.2,808.9 592.0,810.0 590.7,809.3 590.1,805.3Z" fill="#D8554E"/><path d="M577.2,813.5 577.6,813.9 577.4,814.3ZM576.5,821.5 577.0,821.9 576.8,822.1ZM576.1,809.3 576.5,809.7 576.3,810.2Z" fill="#D8554E" stroke-width="1.55"/><path d="M518.4,739.4 519.9,740.9 521.9,741.1 524.6,739.4 525.6,740.0 525.0,741.3 526.8,742.1 527.3,743.8 529.5,744.2 532.2,745.7 535.3,745.3 537.1,744.3 539.0,744.2 541.4,743.0 544.1,742.5 548.2,744.0 550.3,745.9 551.9,745.9 552.3,748.0 550.9,750.7 550.9,753.0 551.3,756.6 553.3,756.8 551.4,760.0 553.3,762.6 555.4,763.5 555.4,765.6 556.4,766.8 553.5,767.7 552.9,769.8 548.6,769.3 545.1,768.7 543.5,766.4 542.0,765.7 538.8,767.0 536.3,766.6 534.2,764.7 532.2,764.1 530.7,762.0 529.5,759.5 528.1,759.5 526.8,758.9 526.1,759.8 525.0,758.7 525.0,757.6 524.4,756.8 524.6,754.9 521.1,753.4 519.7,751.3 521.3,749.0 519.7,747.2 518.4,744.6 517.4,742.1 516.8,740.0 517.6,740.0Z" fill="#7CA8E0"/><path d="M540.0,766.6 542.0,766.1 541.2,766.8Z" fill="#7CA8E0" stroke-width="1.55"/><path d="M513.5,744.8 518.4,744.6 519.7,747.2 521.3,749.0 519.7,751.3 521.1,753.4 524.6,754.9 524.4,756.8 525.0,757.6 525.0,758.7 526.1,759.8 524.9,759.7 524.4,759.5 523.8,759.7 522.0,761.6 518.2,761.4 512.9,757.4 509.4,755.6 506.9,755.2 506.1,752.6 510.6,750.5 511.0,748.0 512.3,745.9Z" fill="#8A8A8A"/><path d="M522.0,761.6 523.8,759.7 524.4,759.5 524.9,759.7 525.2,761.0 525.8,762.7 524.4,762.7 524.0,761.8Z" fill="#8A8A8A"/><path d="M500.1,747.4 500.8,747.5 501.8,746.6 502.4,745.7 506.1,745.7 510.0,744.8 513.5,744.8 512.3,745.9 511.0,748.0 510.6,750.5 506.1,752.6 502.0,754.9 500.1,754.1 499.9,752.8 501.6,750.9 500.3,750.0Z" fill="#8A8A8A"/><path d="M498.5,753.2 499.5,752.8 499.9,752.8 501.6,750.9 500.3,750.0 499.3,751.5Z" fill="#8A8A8A"/><path d="M496.6,757.0 498.1,760.8 499.1,757.4 499.4,754.7 500.1,754.1 499.9,752.8 499.5,752.8 498.5,753.2 498.1,754.9Z" fill="#033D68"/><path d="M498.2,756.4 499.3,756.6 499.4,754.7 498.7,754.4 498.2,755.1Z" fill="#8A8A8A"/><path d="M496.6,757.0 497.3,756.4 497.4,756.6Z" fill="#8A8A8A" stroke-width="1.55"/><path d="M498.2,761.1 498.1,760.8 499.1,757.4 499.4,754.7 500.1,754.1 502.0,754.9 506.1,752.6 506.9,755.2 502.4,756.6 504.5,758.7 503.4,759.7 500.5,761.4Z" fill="#8A8A8A"/><path d="M498.2,761.1 500.5,761.4 503.4,759.7 504.5,758.7 502.4,756.6 506.9,755.2 509.4,755.6 512.9,757.4 518.2,761.4 522.0,761.6 524.0,761.8 524.4,762.7 525.8,762.7 526.8,764.7 529.3,766.6 529.5,768.9 530.7,770.7 532.0,771.0 532.4,771.7 534.4,774.5 539.6,775.1 540.6,776.5 539.4,780.6 533.2,783.4 527.0,784.2 525.4,785.0 524.0,786.7 521.7,786.4 519.2,786.1 516.4,786.1 515.1,787.5 514.3,788.2 513.1,785.9 511.0,783.4 509.6,781.1 506.9,778.5 506.5,775.8 504.7,772.3 502.8,770.2 501.8,768.1 499.5,764.9 497.5,763.7Z" fill="#F3C200"/><path d="M514.3,788.2 515.1,787.5 516.4,786.1 519.2,786.1 521.7,786.4 524.0,786.7 525.4,785.0 527.0,784.2 533.2,783.4 535.5,787.7 533.6,789.8 527.5,793.0 524.0,794.5 519.0,795.7 515.7,796.0 515.1,794.7 514.5,791.3Z" fill="#8A8A8A"/><path d="M536.1,796.1 538.3,796.3 536.9,796.8Z" fill="#8A8A8A" stroke-width="1.55"/><path d="M535.5,787.7 533.2,783.4 539.4,780.6 540.6,776.5 539.6,775.1 539.8,774.4 541.0,771.8 542.0,770.4 542.7,771.2 543.9,772.5 546.8,773.1 549.2,775.4 548.6,777.7 546.6,779.8 545.1,780.2 544.9,782.7 542.7,783.8 540.4,785.2 539.0,786.9Z" fill="#F3C200"/><path d="M541.6,768.1 542.2,767.2 542.3,768.5Z" fill="#F3C200" stroke-width="1.55"/><path d="M532.4,771.7 534.4,774.5 539.6,775.1 539.8,774.4 541.0,771.8 542.0,770.4 542.3,768.5 541.6,768.1 540.0,769.5 538.1,771.6 535.3,772.0 533.0,772.3Z" fill="#F3C200"/><path d="M530.7,770.7 532.0,771.0 532.4,769.5 532.2,768.2 531.6,767.8 530.7,768.9Z" fill="#F3C200"/><path d="M530.0,767.7 530.4,767.7 530.3,768.4Z" fill="#F3C200" stroke-width="1.55"/><path d="M508.6,731.7 513.7,732.1 516.4,733.1 518.8,733.1 521.7,734.8 521.9,736.5 518.8,736.3 515.7,736.5 513.7,735.7 511.6,735.6 512.1,734.4 511.2,732.9Z" fill="#033D68"/><path d="M515.7,736.5 518.8,736.3 520.1,737.1 520.7,738.4 521.9,739.8 521.9,741.1 519.9,740.9 518.4,739.4 516.2,738.6Z" fill="#033D68"/><path d="M521.9,736.5 521.7,734.8 524.8,736.3 526.0,734.9 528.1,737.5 529.7,737.9 527.9,738.6 527.7,740.5 526.8,742.1 525.0,741.3 525.6,740.0 524.6,739.4 521.9,741.1 521.9,739.8 520.7,738.4 520.1,737.1 518.8,736.3Z" fill="#033D68"/><path d="M518.4,739.4 519.9,740.9 521.1,741.1 519.7,739.8Z" fill="#033D68" stroke-width="1.55"/><path d="M606.7,719.5 607.2,720.8 611.3,722.2 613.3,725.0 613.1,727.9 618.4,728.5 622.4,729.8 624.4,733.1 631.8,733.3 635.5,733.5 642.1,735.4 647.2,733.8 652.3,733.3 656.0,731.0 656.2,728.3 659.7,728.7 664.7,726.8 667.5,725.4 672.5,724.8 672.3,723.7 669.8,722.2 668.4,722.0 664.7,722.2 663.8,721.6 666.1,718.2 668.4,718.9 670.8,717.6 674.3,713.7 672.9,712.4 674.7,710.9 679.7,710.4 685.2,712.0 688.3,717.3 689.3,718.7 694.7,720.2 695.5,722.7 699.6,722.2 703.1,721.4 701.6,723.3 699.6,728.1 696.1,728.5 695.7,731.5 694.7,733.3 693.8,732.7 692.8,733.8 689.5,734.6 687.1,735.0 685.2,736.9 681.8,738.9 679.0,739.6 675.3,741.3 676.4,738.8 677.4,737.5 674.9,736.9 672.1,739.0 668.8,740.5 668.2,741.7 670.6,743.8 671.2,744.6 674.3,743.4 678.2,744.2 677.6,745.3 673.5,746.9 671.4,749.0 673.5,750.7 674.7,754.3 676.8,756.2 676.8,757.8 674.7,759.3 677.0,759.9 676.2,763.3 674.1,765.4 672.3,768.5 670.0,771.0 669.0,771.4 666.7,773.5 663.6,775.0 661.0,775.8 659.5,776.0 656.4,777.1 653.4,778.1 653.0,780.0 651.9,777.7 649.5,777.1 648.2,777.5 646.2,776.5 645.4,774.6 642.9,773.7 641.7,774.8 639.8,775.4 638.0,775.4 636.2,775.6 635.5,775.6 635.3,778.1 634.2,777.4 632.2,777.7 630.2,776.2 630.8,774.4 629.1,772.3 626.9,772.3 629.1,768.3 629.1,764.7 626.5,763.3 623.6,761.2 620.5,761.4 615.6,764.3 614.8,764.3 612.3,763.7 610.2,763.7 609.0,765.4 608.8,763.8 607.4,764.1 605.5,764.2 604.1,763.9 601.4,762.8 597.9,761.4 595.2,759.5 592.8,759.3 589.1,757.2 588.3,757.0 587.4,754.5 589.7,753.8 588.3,750.5 591.1,748.2 586.2,748.2 582.5,747.2 582.3,745.9 580.2,744.5 580.2,742.1 578.0,741.7 577.8,739.9 578.0,739.2 580.0,737.7 582.5,737.9 584.1,736.7 587.6,735.8 591.1,734.2 591.3,732.3 592.4,732.1 591.3,728.7 595.9,727.7 596.9,723.7 602.0,723.9 602.4,721.2 605.7,719.7Z" fill="#0575C8"/><path d="M649.7,782.3 651.3,780.6 653.6,780.4 654.4,781.5 653.4,783.2 651.5,784.4 649.7,783.8Z" fill="#0575C8" stroke-width="1.55"/><path d="M674.9,770.2 676.8,770.2 676.0,773.3 674.7,776.6 673.3,774.8 673.3,772.7Z" fill="#0575C8"/><path d="M606.7,719.5 607.2,720.8 611.3,722.2 613.3,725.0 613.1,727.9 618.4,728.5 622.4,729.8 624.4,733.1 631.8,733.3 635.5,733.5 642.1,735.4 647.2,733.8 652.3,733.3 656.0,731.0 656.2,728.3 659.7,728.7 664.7,726.8 667.5,725.4 672.5,724.8 672.3,723.7 669.8,722.2 668.4,722.0 664.7,722.2 663.8,721.6 666.1,718.2 663.6,717.4 661.2,717.2 656.4,719.1 649.3,719.3 645.2,717.2 638.0,717.2 636.5,715.1 629.7,713.7 627.7,714.7 627.7,717.9 621.5,717.9 616.4,716.2 611.3,717.6Z" fill="#033D68"/><path d="M681.8,738.9 685.2,736.9 687.1,735.0 689.5,734.6 692.8,733.8 693.8,732.7 694.7,733.3 694.9,734.0 692.8,735.8 692.8,737.1 689.9,738.8 688.3,739.4 688.3,740.5 690.0,741.7 687.5,742.3 686.6,743.4 685.4,743.6 683.8,743.6 682.5,742.8 683.6,741.5 683.4,739.8Z" fill="#0575C8"/><path d="M685.4,743.6 686.6,743.4 687.5,742.3 690.0,741.7 692.2,744.8 692.2,747.2 691.8,748.8 689.3,749.5 686.2,750.7 686.0,748.2 686.2,745.7 686.4,744.4Z" fill="#7CA8E0"/><path d="M685.6,752.8 687.1,752.4 686.4,753.0Z" fill="#7CA8E0" stroke-width="1.55"/><path d="M716.0,735.6 717.0,737.7 718.1,739.8 717.0,742.3 716.0,744.0 715.2,746.5 715.7,747.8 714.0,749.2 713.5,748.0 712.3,748.8 711.5,750.1 710.3,750.1 707.8,750.1 707.6,749.2 706.4,752.4 705.3,752.5 703.9,750.7 704.3,749.9 701.6,749.9 698.6,750.7 695.5,751.4 695.5,750.5 698.8,748.3 702.0,748.1 704.7,748.2 705.9,746.7 707.4,744.4 708.4,744.0 707.8,745.5 710.9,744.2 712.9,741.9 714.0,739.2 714.0,737.5 714.6,736.3ZM714.6,735.6 714.0,734.2 714.6,731.9 717.2,727.5 719.1,728.9 722.8,730.4 724.8,729.8 725.5,731.9 722.2,732.7 720.5,734.6 717.7,733.3 716.0,734.0 716.2,735.0ZM695.3,751.5 696.9,752.2 697.5,753.8 696.3,756.8 694.9,757.6 693.8,757.0 693.8,754.3 692.8,753.0 694.0,752.2Z" fill="#7CA8E0"/><path d="M698.6,751.3 702.9,750.9 702.0,752.8 699.6,754.0 698.3,752.6ZM688.7,767.9 689.9,766.4 689.3,767.5ZM692.0,763.5 692.8,762.8 692.4,763.5ZM694.2,759.1 694.9,758.9 694.4,759.3ZM681.3,771.4 681.7,771.2 681.5,771.5ZM710.5,742.8 711.1,742.3 710.9,743.4ZM692.0,750.7 692.4,749.9 692.2,750.7Z" fill="#7CA8E0" stroke-width="1.55"/><path d="M616.6,777.9 616.0,779.2 617.4,781.1 620.1,784.4 620.1,789.0 622.4,789.4 625.2,787.1 626.0,787.1 626.9,788.0 627.3,791.1 628.1,794.2 628.9,798.0 628.8,801.6 629.3,800.1 631.0,797.8 630.2,794.9 628.1,790.9 628.9,788.4 626.5,783.8 627.7,781.3 632.0,779.9 633.0,779.0 634.2,777.4 632.2,777.7 630.2,776.2 630.8,774.4 629.1,772.3 626.9,772.3 629.1,768.3 629.1,764.7 626.5,763.3 625.6,764.5 621.9,766.8 620.7,769.8 618.2,772.3 617.8,776.0Z" fill="#D8554E"/><path d="M628.8,801.6 629.3,800.1 631.0,797.8 630.2,794.9 628.1,790.9 628.9,788.4 626.5,783.8 627.7,781.3 632.0,779.9 633.0,781.7 634.5,781.7 633.9,785.2 636.1,784.4 638.6,784.0 641.5,786.1 641.7,788.2 643.3,790.1 642.5,792.5 638.0,792.7 636.7,794.0 637.8,798.1 636.3,796.8 633.6,795.9 633.8,794.5 632.4,794.2 631.8,796.3 630.4,799.9 630.4,803.0 632.4,804.9 633.0,807.4 635.5,808.3 636.1,809.4 634.1,810.6 632.0,809.0 631.0,807.4 628.5,805.8 628.3,803.7Z" fill="#D8554E"/><path d="M632.0,779.9 633.0,779.0 634.2,777.4 635.3,778.1 635.5,775.6 636.2,775.6 637.8,777.1 639.8,778.8 641.9,780.0 640.0,781.9 642.5,783.6 645.2,786.9 647.2,789.2 647.2,791.7 644.1,792.5 642.5,792.5 643.3,790.1 641.7,788.2 641.5,786.1 638.6,784.0 636.1,784.4 633.9,785.2 634.5,781.7 633.0,781.7Z" fill="#D8554E"/><path d="M648.2,777.5 645.8,779.2 643.9,781.7 643.5,783.4 645.2,785.5 646.8,787.3 648.8,788.8 650.5,792.2 651.1,795.7 650.7,798.0 648.0,800.1 646.2,800.9 645.2,802.4 642.7,804.1 641.6,804.5 641.9,802.0 640.9,800.7 642.3,799.6 644.5,799.5 643.9,798.0 647.2,796.8 647.2,791.7 647.2,789.2 645.2,786.9 642.5,783.6 640.0,781.9 641.9,780.0 639.8,778.8 637.8,777.1 636.2,775.6 638.0,775.4 639.8,775.4 641.7,774.8 642.9,773.7 645.4,774.6 646.2,776.5Z" fill="#D8554E"/><path d="M637.8,798.1 636.7,794.0 638.0,792.7 642.5,792.5 644.1,792.5 647.2,791.7 647.2,796.8 643.9,798.0 644.5,799.5 642.3,799.6 640.9,800.7 639.2,800.5 638.2,799.3Z" fill="#D8554E"/><path d="M632.0,809.0 634.1,810.6 636.1,809.4 638.8,812.5 638.8,815.2 640.4,819.6 639.0,819.8 636.3,817.9 634.5,816.2 633.0,813.7 632.4,811.0ZM651.5,818.3 654.8,819.6 655.2,817.5 658.5,815.8 660.6,813.1 660.8,812.9 662.0,814.1 663.0,813.5 663.2,812.2 663.8,811.0 664.7,809.9 666.1,807.8 668.2,809.1 671.2,811.4 669.0,813.5 668.0,813.8 664.0,813.7 663.6,816.2 662.2,818.5 659.7,819.8 656.9,819.4 653.6,820.7 651.5,819.8Z" fill="#D8554E"/><path d="M639.2,819.6 640.0,819.5 639.8,819.9Z" fill="#FFFFFF" stroke-width="1.55"/><path d="M660.8,812.9 662.4,812.0 663.2,812.2 663.0,813.5 662.0,814.1Z" fill="#7CA8E0"/><path d="M622.1,810.8 626.7,811.6 629.1,814.5 632.6,817.7 635.5,818.9 638.8,821.5 639.6,824.6 641.2,826.7 644.3,828.8 643.9,831.9 643.7,834.7 641.2,834.6 636.5,830.9 633.6,827.1 632.4,824.4 629.7,820.6 627.1,817.3 624.0,814.1ZM642.5,836.7 644.3,834.8 646.2,835.0 649.3,836.1 653.4,836.9 654.4,835.9 657.7,836.9 661.6,838.8 661.4,840.7 657.9,840.1 652.3,839.0 648.2,838.8 644.9,838.0ZM651.5,818.3 650.3,819.4 650.3,821.9 650.7,824.4 652.3,825.6 652.8,828.6 655.8,829.2 658.5,829.4 661.6,830.0 662.0,831.2 664.7,830.2 665.7,827.7 665.7,825.6 667.7,824.0 667.7,821.5 670.8,820.4 668.6,818.3 668.0,815.8 668.0,813.8 664.0,813.7 663.6,816.2 662.2,818.5 659.7,819.8 656.9,819.4 653.6,820.7 651.5,819.8ZM672.5,820.8 673.3,819.8 674.9,819.8 679.0,820.4 682.7,818.9 683.6,819.4 681.9,821.5 679.0,821.5 675.6,821.5 673.5,821.7 672.9,824.0 674.9,825.2 676.4,824.4 679.7,824.2 679.9,824.6 677.6,825.8 676.4,826.5 678.0,829.2 678.8,831.5 679.5,832.3 678.0,834.0 676.2,832.5 675.6,830.5 674.7,828.2 673.5,828.8 673.7,834.0 671.9,834.2 671.9,829.8 670.4,828.4 671.4,825.2 672.5,822.5ZM695.9,824.2 698.6,823.2 701.6,824.2 702.0,827.3 703.7,829.4 706.8,827.1 709.9,825.8 716.0,827.9 716.0,841.5 712.9,839.5 710.3,840.1 709.2,837.8 711.5,836.7 709.9,834.0 705.5,831.9 700.6,830.9 699.2,831.1 699.4,828.4 701.0,827.7 697.5,827.1 695.3,825.4Z" fill="#7CA8E0"/><path d="M661.6,839.7 663.0,839.3 664.0,840.1 663.0,840.9ZM664.7,839.9 666.1,840.0 665.7,841.1 664.7,840.9ZM666.3,840.3 668.8,839.5 671.0,840.5 669.4,840.9 666.7,841.3ZM672.7,840.3 676.0,840.3 679.0,839.9 678.6,840.7 673.9,841.0ZM670.8,842.4 672.9,842.1 674.5,843.8 672.5,843.4ZM680.1,844.1 683.0,841.8 683.0,842.8 681.3,843.8ZM688.3,820.4 689.3,818.1 690.7,819.4 689.3,821.5 691.0,821.9 689.7,824.2 688.9,822.1ZM689.3,828.8 692.4,828.4 695.1,829.6 693.0,829.6 689.7,829.8ZM685.2,829.0 687.7,829.4 686.8,830.5 685.4,829.8ZM681.7,826.1 683.8,826.3 685.2,826.5 682.7,826.6ZM677.8,833.2 679.5,833.6 678.2,834.2ZM695.1,823.1 696.1,823.1 695.5,822.6ZM702.3,834.6 703.1,835.7 702.3,836.7 701.8,835.5ZM695.5,838.6 696.9,837.6 696.5,839.0ZM684.8,838.8 686.6,838.4 685.6,839.0ZM643.5,825.8 645.6,827.7 644.1,828.6 642.5,826.7ZM647.4,827.9 648.8,828.6 647.8,829.2ZM625.6,819.6 627.5,821.2 626.5,820.4ZM628.9,824.6 630.4,826.3 629.5,825.6ZM631.6,828.2 632.6,829.2 632.0,828.8ZM623.2,816.6 624.6,817.5 623.6,817.1ZM648.2,814.3 649.1,814.5 648.4,815.0ZM640.6,820.4 641.2,820.2 641.0,820.8ZM640.8,822.9 641.9,823.1 641.2,823.8ZM704.7,824.0 706.8,825.0 705.7,825.0ZM704.7,825.8 707.4,826.3 706.2,826.5ZM686.8,814.1 687.3,813.3 686.6,813.5ZM684.0,815.4 684.6,814.8 684.2,815.0Z" fill="#7CA8E0" stroke-width="1.55"/><path d="M683.0,841.8 684.8,840.5 687.9,840.1 686.2,841.3 683.0,842.8Z" fill="#7CA8E0" stroke-width="1.55"/><path d="M716.0,827.9 719.1,829.2 723.2,830.5 725.9,833.0 728.3,835.1 730.0,836.5 728.3,836.9 730.4,839.7 733.1,841.5 736.1,844.1 734.1,844.5 728.7,842.4 726.3,839.5 723.2,838.4 721.1,839.9 720.7,841.3 716.0,841.5Z" fill="#0575C8"/><path d="M731.0,834.2 733.5,834.0 735.5,834.0 737.6,832.8 739.2,831.3 737.8,831.3 735.9,833.0 733.7,835.5 731.2,834.6ZM736.1,827.9 738.6,829.4 740.5,832.1 739.4,831.3 737.6,829.2ZM744.2,833.8 746.0,835.5 746.6,836.7 745.2,836.1ZM727.5,826.7 729.2,826.8 728.3,827.1ZM735.9,842.0 737.2,843.2 736.3,843.0ZM741.1,846.4 742.1,846.8 741.5,846.8Z" fill="#0575C8" stroke-width="1.55"/><path d="M674.1,783.8 677.4,783.8 677.6,786.9 676.2,789.2 676.2,792.6 678.4,792.6 681.3,796.1 679.7,795.3 678.0,794.0 676.4,793.4 674.1,793.6 674.7,791.9 673.1,791.5 672.5,788.4 673.7,787.8ZM677.2,808.1 678.6,806.2 679.9,804.3 682.5,804.7 684.2,802.0 686.0,804.7 686.4,807.2 685.6,809.3 684.0,810.8 683.8,808.3 681.5,809.5 681.1,806.8 679.7,806.8Z" fill="#7CA8E0"/><path d="M681.5,796.5 681.7,796.1 684.0,796.3 684.8,799.2 684.5,799.5 682.9,799.1 682.7,797.9ZM681.7,798.5 682.1,798.3 683.3,799.5 683.8,801.3 683.6,801.6 682.5,801.4ZM678.6,799.6 680.1,799.4 680.3,799.7 679.7,803.5 679.3,803.6 677.8,801.9ZM676.7,797.8 677.0,797.6 679.3,798.2 679.5,800.5 679.2,800.8 677.0,800.8 676.7,800.5ZM679.6,800.8 680.9,798.9 681.2,798.8 680.3,802.7ZM680.6,802.0 680.6,801.5 682.3,801.1 682.5,801.5 681.9,802.5ZM673.5,794.6 673.7,794.2 676.0,794.4 676.2,794.7 676.0,797.0 674.7,797.1ZM666.9,804.8 667.4,803.7 671.9,798.6 672.0,800.7 667.3,805.1ZM676.7,797.4 676.6,797.0 677.8,796.4 677.4,797.5ZM680.0,796.9 681.0,796.1 681.3,796.4 680.9,797.7 680.5,797.7ZM672.9,798.0 672.5,797.2 673.6,796.5 673.3,797.9ZM676.6,808.8 676.8,808.4 677.8,808.6 677.1,809.3ZM674.5,810.0 674.7,809.7 676.0,809.9 675.0,810.6ZM672.4,812.1 672.4,811.6 673.5,811.2 673.1,812.2ZM676.4,780.0 676.5,779.6 677.2,779.4 677.0,780.1ZM676.6,782.8 676.5,782.1 676.9,781.9 677.2,782.2 677.0,782.8Z" fill="#7CA8E0" stroke-width="1.55"/><path d="M660.8,868.1 661.0,869.6 659.5,872.7 659.3,877.1 661.0,877.5 661.8,882.2 664.0,888.4 662.8,892.8 662.8,894.3 668.6,896.0 672.9,893.5 680.1,893.5 685.2,890.1 691.4,888.6 695.9,888.4 702.0,890.9 704.9,895.5 708.8,891.6 709.4,890.7 708.8,894.1 707.6,896.4 710.1,894.5 710.9,897.0 713.3,898.3 715.2,902.0 721.1,903.7 723.6,902.5 727.1,904.3 730.4,901.8 734.5,901.0 734.9,897.2 737.2,893.2 739.6,889.9 740.9,885.9 741.9,882.4 740.9,879.0 741.1,874.8 736.6,871.7 736.1,869.8 733.1,867.1 731.0,864.4 727.9,862.7 726.3,859.3 725.1,856.0 724.8,853.7 722.0,852.6 720.9,848.9 719.1,844.9 717.5,849.3 717.2,852.8 715.8,859.1 712.9,859.1 709.4,856.0 704.7,853.7 705.7,850.3 707.6,848.0 704.7,847.6 700.6,847.2 698.8,846.2 695.1,848.5 693.6,850.8 692.4,853.7 689.7,853.7 687.3,851.6 684.2,852.8 681.7,856.8 680.1,858.9 677.4,860.2 675.3,863.3 670.8,864.4 666.7,865.8 663.6,867.5ZM723.6,907.7 727.3,908.5 731.0,908.1 731.0,910.8 730.2,912.9 727.9,913.8 725.3,912.3 724.6,910.8Z" fill="#7CA8E0"/><path d="M707.0,897.2 709.0,897.0 710.1,897.6 707.8,898.0ZM693.8,846.4 696.1,846.2 695.5,847.2 694.2,847.0ZM706.8,851.4 707.6,852.0 707.0,852.3ZM722.0,905.6 722.4,906.2 722.0,906.4ZM730.4,905.8 731.0,906.6 730.4,907.1ZM712.5,857.0 713.3,857.0 712.9,857.5ZM740.9,874.4 741.3,875.9 740.7,876.3Z" fill="#7CA8E0" stroke-width="1.55"/><path d="M781.1,894.5 784.4,896.4 785.4,899.7 787.7,901.2 790.4,902.0 793.0,901.4 791.8,904.3 790.0,905.0 789.8,907.1 786.5,909.6 785.4,908.9 786.3,906.6 783.8,905.2 783.4,904.8 785.0,903.7 785.2,900.8 782.2,895.8ZM781.1,907.3 784.2,908.5 784.4,909.8 783.2,911.2 781.3,913.8 781.9,914.2 778.3,915.2 777.2,918.6 774.6,920.0 772.1,920.0 768.4,918.8 769.0,917.1 771.5,915.0 775.6,912.9 778.3,910.8 779.7,908.1Z" fill="#7CA8E0"/><path d="M770.7,920.5 771.9,920.9 771.1,921.3ZM63.3,914.2 64.5,914.2 63.9,914.6Z" fill="#7CA8E0" stroke-width="1.55"/><path d="M376.1,685.4 377.5,683.9 380.2,683.5 382.2,685.4 384.7,684.2 389.4,683.9 393.5,683.3 396.4,684.8 398.5,686.5 396.0,687.9 392.5,689.0 389.4,689.6 384.3,689.6 379.8,689.0 381.2,687.7 377.1,686.7 381.2,686.2Z" fill="#033D68"/><path d="M413.3,713.2 414.1,710.9 413.7,709.5 415.1,708.6 414.5,707.6 413.9,707.0 411.4,706.8 409.4,707.2 408.7,708.9 405.9,709.1 405.9,710.7 407.9,711.4 406.7,712.4 406.3,713.2 405.2,714.1 406.9,714.7 409.6,714.1Z" fill="#033D68"/><path d="M414.7,717.7 419.2,717.2 422.3,716.6 426.4,716.2 429.3,715.3 427.8,714.7 429.9,712.4 427.0,711.8 426.6,710.3 426.0,709.1 423.5,707.6 422.7,705.9 420.2,705.3 421.3,704.7 422.3,703.2 422.7,702.2 419.2,701.7 418.2,701.9 420.0,699.9 416.1,699.9 414.9,702.2 414.7,704.2 414.9,706.5 416.5,705.9 416.1,707.8 419.2,707.6 419.8,709.5 420.2,710.7 417.2,710.9 418.0,712.0 417.2,713.2 415.7,714.1 419.8,714.7 417.8,715.5Z" fill="#033D68"/><path d="M411.2,702.8 413.7,700.3 413.5,701.5ZM419.4,699.0 421.1,698.6 420.4,699.4ZM423.1,695.7 424.3,696.7 423.7,697.1Z" fill="#033D68" stroke-width="1.55"/><path d="M422.7,731.7 423.9,729.2 423.9,726.2 421.9,723.7 417.4,722.2 416.7,721.2 420.2,720.4 423.1,720.8 422.7,718.5 423.9,719.1 426.8,718.9 429.7,717.4 429.7,716.0 431.5,715.5 432.6,716.4 435.0,717.9 436.5,718.3 438.3,718.9 439.3,718.9 443.2,719.9 442.0,722.9 440.8,723.3 438.9,725.0 438.7,725.8 440.8,726.4 440.2,728.1 440.8,730.0 441.8,730.8 439.8,732.1 437.5,731.9 434.6,731.5 432.8,732.3 432.8,733.8 429.9,733.5 427.8,732.9 425.4,732.9Z" fill="#033D68"/><path d="M444.1,733.8 445.7,732.5 445.9,734.6 445.3,735.8 444.3,735.2Z" fill="#033D68" stroke-width="1.55"/><path d="M422.7,731.7 418.6,731.5 414.5,731.2 410.0,731.0 407.5,732.3 408.1,734.6 409.6,734.4 412.8,734.8 413.7,735.4 412.2,736.7 412.0,739.4 411.4,740.2 412.0,740.9 411.4,742.5 411.2,744.6 413.3,745.5 414.1,746.7 415.3,746.9 417.4,745.7 421.9,745.7 425.0,743.8 426.8,741.5 425.8,739.8 428.0,737.3 430.9,735.8 433.2,734.0 432.8,733.8 429.9,733.5 427.8,732.9 425.4,732.9Z" fill="#033D68"/><path d="M431.3,739.8 432.8,739.0 433.4,739.4 432.8,740.2ZM428.9,741.1 429.7,740.7 429.5,741.2ZM434.2,738.8 435.2,739.0 434.6,739.0ZM389.4,762.4 389.8,762.8 389.6,762.2ZM391.7,763.3 393.1,762.8 392.3,763.9ZM393.9,763.9 394.8,763.7 394.4,764.4ZM396.8,763.7 397.8,762.4 397.8,763.5ZM398.1,761.8 398.9,761.4 398.7,762.0Z" fill="#033D68" stroke-width="1.55"/><path d="M408.1,734.6 408.5,737.7 406.9,741.3 408.3,742.1 408.3,743.2 407.9,745.1 411.2,744.6 411.4,742.5 412.0,740.9 411.4,740.2 412.0,739.4 412.2,736.7 413.7,735.4 412.8,734.8 409.6,734.4Z" fill="#033D68"/><path d="M373.4,743.4 374.6,743.4 374.0,743.6ZM367.5,741.7 368.9,742.1 368.1,741.9ZM370.3,741.3 370.7,741.6 370.5,741.5ZM391.1,753.8 392.1,754.0 391.5,754.2Z" fill="#033D68" stroke-width="1.55"/><path d="M431.5,715.5 433.4,714.9 435.2,714.9 436.7,714.7 438.3,715.3 438.1,716.2 438.7,716.2 439.5,717.2 438.9,717.6 438.3,718.9 436.5,718.3 435.0,717.9 432.6,716.4Z" fill="#033D68"/><path d="M438.3,718.9 438.9,717.6 439.8,718.3 439.3,718.9Z" fill="#033D68"/><path d="M433.4,714.9 433.8,714.5 434.8,713.7 435.8,712.0 436.3,711.6 437.7,710.9 440.6,710.7 441.2,711.2 440.8,712.4 440.2,713.5 438.7,713.9 439.1,714.9 438.7,716.2 438.1,716.2 438.3,715.3 436.7,714.7 435.2,714.9Z" fill="#033D68"/><path d="M441.2,711.2 440.8,710.1 442.8,710.3 444.1,709.7 444.9,709.5 444.1,707.6 445.9,707.8 446.9,708.4 449.0,708.6 449.0,709.5 451.0,709.1 452.1,708.4 454.1,708.2 455.6,709.7 455.8,711.6 456.6,713.5 456.4,714.7 457.2,715.8 455.8,715.8 453.1,716.8 451.3,717.2 452.1,718.3 454.7,720.4 454.1,720.8 452.7,721.6 453.1,722.9 451.5,722.9 448.0,723.1 446.1,723.1 444.1,722.7 442.0,722.9 443.2,719.9 439.3,718.9 439.8,718.3 438.9,717.6 439.5,717.2 438.7,716.2 439.1,714.9 438.7,713.9 440.2,713.5 440.8,712.4Z" fill="#033D68"/><path d="M444.1,707.6 443.2,706.3 443.0,704.2 444.1,703.0 446.5,702.2 448.2,701.7 448.0,703.2 447.6,704.0 448.8,704.7 447.4,705.5 446.3,706.3 445.9,707.8Z" fill="#033D68"/><path d="M449.2,705.9 450.6,705.3 452.3,705.3 452.3,706.5 451.0,707.6 449.4,707.0ZM446.5,706.5 448.4,706.3 448.4,707.3 446.9,707.3ZM449.0,707.8 451.0,707.9 450.6,708.2ZM456.6,707.0 457.4,707.1 457.0,707.4Z" fill="#033D68" stroke-width="1.55"/><path d="M438.7,725.8 438.9,725.0 440.8,723.3 442.0,722.9 444.1,722.7 446.1,723.1 445.9,723.9 447.8,724.3 447.8,725.2 447.1,725.8 445.5,725.4 444.9,726.6 443.7,725.4 442.6,726.4 440.8,726.4Z" fill="#033D68"/><path d="M446.1,723.1 448.0,723.1 451.5,722.9 453.1,722.9 452.7,721.6 454.1,720.8 454.7,720.4 456.6,720.8 457.0,719.9 461.1,720.8 461.5,721.8 460.3,722.7 459.5,724.3 456.4,725.4 454.5,725.2 451.9,724.8 451.5,724.0 449.0,724.5 447.8,724.3 445.9,723.9Z" fill="#033D68"/><path d="M441.8,730.8 440.8,730.0 440.2,728.1 440.8,726.4 442.6,726.4 443.7,725.4 444.9,726.6 445.5,725.4 447.1,725.8 447.8,725.2 447.8,724.3 449.0,724.5 451.5,724.0 451.9,724.8 454.5,725.2 453.9,725.8 454.3,726.6 454.7,727.1 453.3,726.8 451.7,727.7 451.9,729.8 454.3,731.5 455.6,733.8 457.6,734.8 459.7,734.8 459.1,735.6 461.3,736.7 464.4,738.6 464.2,739.2 463.2,738.2 461.3,737.7 460.5,739.4 461.5,740.9 460.3,742.1 459.3,743.2 458.5,742.5 459.7,740.9 458.6,738.8 457.0,738.2 456.0,737.3 454.3,736.3 451.7,735.2 449.2,733.8 448.0,732.5 447.4,730.6 444.7,729.6 443.0,730.6Z" fill="#033D68"/><path d="M451.9,743.0 453.7,742.5 458.4,742.3 457.4,745.7 455.8,745.1 452.1,743.8ZM443.2,736.9 445.3,736.1 446.5,737.7 446.1,740.5 444.7,741.1 443.7,740.5 443.7,738.2Z" fill="#033D68" stroke-width="1.55"/><path d="M455.8,747.2 456.4,747.4 456.0,747.6Z" fill="#033D68" stroke-width="1.55"/><path d="M449.4,698.8 448.2,698.4 448.4,697.1 447.6,699.0 444.9,700.3 442.8,700.9 440.8,701.1 438.1,699.6 437.1,698.0 436.7,695.9 436.7,693.8 437.1,692.3 439.8,691.1 443.9,689.6 446.9,688.5 448.6,687.5 450.0,686.5 452.1,684.4 454.1,682.3 456.8,680.6 458.2,679.5 462.3,677.7 465.4,676.0 469.5,675.4 474.7,674.1 479.4,673.7 483.9,673.9 490.1,675.2 488.0,676.6 489.9,676.6 485.8,678.0 486.6,677.0 483.7,675.8 479.8,676.2 479.2,677.7 477.1,678.9 473.6,678.7 470.8,677.5 468.6,678.0 467.5,679.3 463.6,679.1 463.2,680.2 460.7,680.2 459.3,681.9 458.0,683.5 456.2,684.2 456.4,685.8 454.5,687.3 455.4,688.1 452.5,688.5 451.0,690.0 451.5,692.1 451.7,693.6 452.9,694.2 451.5,694.8 452.3,696.1 450.6,697.1 450.8,697.5 450.4,698.4Z" fill="#033D68"/><path d="M453.1,680.2 456.2,679.8 458.9,678.3 457.2,678.5Z" fill="#033D68" stroke-width="1.55"/><path d="M449.4,698.8 449.6,700.5 450.8,701.9 452.1,703.6 452.5,705.1 453.1,706.5 455.6,706.5 456.0,706.1 455.8,705.3 458.9,705.1 460.1,703.8 460.7,701.5 460.9,699.9 463.2,699.2 464.4,698.2 465.4,697.3 462.3,695.5 461.9,693.4 462.3,691.9 464.4,690.6 467.1,689.4 469.1,688.5 470.6,687.3 470.4,685.8 472.0,685.0 476.0,684.8 475.1,683.7 475.7,682.3 474.9,681.2 474.5,680.2 471.2,678.9 468.6,678.0 467.5,679.3 463.6,679.1 463.2,680.2 460.7,680.2 459.3,681.9 458.0,683.5 456.2,684.2 456.4,685.8 454.5,687.3 455.4,688.1 452.5,688.5 451.0,690.0 451.5,692.1 451.7,693.6 452.9,694.2 451.5,694.8 452.3,696.1 450.6,697.1 450.8,697.5 450.4,698.4Z" fill="#033D68"/><path d="M463.8,703.2 465.0,701.3 465.8,701.3 465.0,702.6ZM460.1,704.9 460.5,703.4 461.5,702.5 460.9,703.8Z" fill="#033D68" stroke-width="1.55"/><path d="M476.0,684.8 478.4,686.2 476.7,687.5 473.2,689.4 470.6,690.4 470.2,692.7 470.6,693.8 470.2,695.2 472.2,696.5 473.6,697.2 477.7,696.5 480.8,696.1 483.5,695.8 486.0,694.4 488.0,692.9 490.5,691.7 491.3,690.9 488.0,689.2 489.0,688.1 487.4,686.7 487.8,685.0 486.2,682.5 488.0,680.8 485.1,679.8 484.9,678.3 485.8,678.0 486.6,677.0 483.7,675.8 479.8,676.2 479.2,677.7 477.1,678.9 473.6,678.7 470.8,677.5 468.6,678.0 471.2,678.9 474.5,680.2 474.9,681.2 475.7,682.3 475.1,683.7Z" fill="#033D68"/><path d="M466.7,696.5 468.1,696.1 467.9,696.8Z" fill="#033D68" stroke-width="1.55"/><path d="M474.7,698.6 476.7,698.0 479.4,697.8 484.1,698.2 482.7,699.4 482.9,701.5 482.7,702.0 479.8,701.5 478.4,701.1 476.3,701.3 476.7,700.5 474.7,699.6Z" fill="#033D68"/><path d="M471.6,700.5 472.6,699.9 474.1,699.9 473.2,700.7 472.0,701.1ZM472.0,699.2 473.4,699.0 473.2,699.4Z" fill="#033D68" stroke-width="1.55"/><path d="M476.3,701.3 478.4,701.1 479.8,701.5 482.7,702.0 483.5,702.6 484.3,704.9 483.1,705.7 481.0,705.9 477.7,704.7 477.5,704.5 473.4,704.5 469.6,705.1 469.5,703.6 470.8,702.2 472.8,701.6 474.1,702.6 475.5,703.2 476.5,702.6Z" fill="#7CA8E0"/><path d="M469.6,705.1 473.4,704.5 477.5,704.5 477.7,704.7 481.0,705.9 481.4,706.8 479.4,707.6 479.0,708.9 476.5,709.7 474.7,709.6 474.5,709.1 473.2,708.6 472.8,707.4 470.2,706.9 469.5,706.8 469.7,705.9Z" fill="#7CA8E0"/><path d="M474.7,709.6 476.5,709.7 479.0,708.9 479.4,707.6 481.4,706.8 481.0,705.9 483.1,705.7 484.3,704.9 486.8,705.7 489.9,706.1 489.7,707.8 490.7,709.1 493.6,710.7 490.9,711.2 491.7,713.5 489.3,715.1 486.6,714.9 482.3,714.5 477.7,713.9 474.9,714.7 475.1,713.5 474.1,713.0 475.5,712.2Z" fill="#7CA8E0"/><path d="M455.6,709.7 459.7,708.9 463.4,707.8 464.6,708.6 466.7,708.5 473.2,708.6 474.5,709.1 474.7,709.6 475.5,712.2 474.1,713.0 475.1,713.5 474.9,714.7 475.9,716.2 473.6,718.1 472.8,719.7 469.5,719.1 467.5,719.5 465.4,718.9 465.0,718.9 463.4,717.9 461.1,717.0 459.9,716.6 457.2,715.8 456.4,714.7 456.6,713.5 455.8,711.6Z" fill="#033D68"/><path d="M451.3,717.2 453.1,716.8 455.8,715.8 457.2,715.8 459.9,716.6 461.1,717.0 463.4,717.9 465.0,718.9 463.6,719.7 461.7,720.4 461.1,720.8 457.0,719.9 456.6,720.8 454.7,720.4 452.1,718.3Z" fill="#7CA8E0"/><path d="M461.1,720.8 461.7,720.4 463.6,719.7 465.0,718.9 465.4,718.9 467.5,719.5 469.5,719.1 472.8,719.7 471.8,721.2 470.6,721.0 468.5,721.0 466.5,721.6 465.0,722.5 463.0,722.6 461.5,721.8Z" fill="#7CA8E0"/><path d="M459.5,724.3 460.3,722.7 461.5,721.8 463.0,722.6 465.0,722.5 466.5,721.6 468.5,721.0 470.6,721.0 471.8,721.2 473.4,722.0 471.6,723.3 469.9,725.4 468.1,725.9 465.2,726.4 462.8,726.3 460.5,725.2 460.1,724.8Z" fill="#7CA8E0"/><path d="M454.5,725.2 456.4,725.4 459.5,724.3 460.1,724.8 460.5,725.2 458.6,725.8 457.8,727.3 456.4,727.3 454.3,727.4 454.7,727.1 454.3,726.6 453.9,725.8Z" fill="#7CA8E0"/><path d="M454.3,727.4 456.4,727.3 457.8,727.3 458.6,725.8 460.5,725.2 462.8,726.3 465.2,726.4 466.2,727.9 465.4,728.5 461.3,727.9 459.9,728.3 458.9,727.9 458.9,728.9 459.7,730.0 462.6,732.4 464.3,733.4 464.4,733.8 462.6,732.7 460.3,731.5 457.6,730.0 457.0,728.1 455.8,727.7 455.0,728.7Z" fill="#7CA8E0"/><path d="M455.8,727.9 456.8,729.2 456.2,729.2ZM460.1,731.9 461.7,732.3 460.5,732.2Z" fill="#7CA8E0" stroke-width="1.55"/><path d="M458.9,727.9 459.9,728.3 461.3,727.9 465.4,728.5 466.7,730.4 465.8,731.5 464.8,732.1 464.3,733.4 462.6,732.4 459.7,730.0 458.9,728.9Z" fill="#7CA8E0"/><path d="M464.3,733.4 464.8,732.1 465.8,731.5 468.1,732.9 467.5,733.3 466.2,734.9 464.4,733.8Z" fill="#7CA8E0"/><path d="M465.2,726.4 468.1,725.9 470.6,727.9 470.4,728.7 472.6,728.9 473.0,730.0 472.4,730.4 473.6,732.1 472.4,734.0 470.8,734.1 471.2,733.1 469.7,732.1 468.7,732.1 468.1,732.9 465.8,731.5 466.7,730.4 465.4,728.5 466.2,727.9Z" fill="#7CA8E0"/><path d="M468.1,732.9 468.7,732.1 469.7,732.1 471.2,733.1 470.8,734.1 469.1,734.4 468.5,734.2 467.5,733.3Z" fill="#FFFFFF"/><path d="M468.4,735.6 468.5,734.2 469.1,734.4 470.8,734.1 472.4,734.0 473.6,735.2 473.4,736.0 471.6,736.4 469.5,737.0Z" fill="#7CA8E0"/><path d="M466.2,734.9 467.5,733.3 468.5,734.2 468.4,735.6 469.5,737.0 468.9,738.6 467.5,739.4 466.2,738.2 466.2,735.8Z" fill="#7CA8E0"/><path d="M467.5,739.4 468.9,738.6 469.5,737.0 471.6,736.4 473.4,736.0 476.7,735.6 478.2,736.2 480.0,736.0 480.4,735.2 481.0,736.1 480.4,736.8 479.8,737.1 478.0,736.8 476.5,736.8 475.3,737.2 476.5,738.5 475.5,737.9 475.7,738.9 474.9,738.3 475.1,738.9 474.3,738.3 473.4,737.5 472.8,737.8 472.8,738.8 473.4,739.6 474.4,740.5 473.5,740.2 473.3,741.1 473.8,741.6 474.9,741.9 475.8,742.7 475.8,743.7 475.0,743.1 473.8,743.0 473.4,742.5 472.4,742.2 471.1,742.2 469.7,742.3 469.0,741.1 469.7,740.8 468.9,740.7 467.9,739.7Z" fill="#033D68"/><path d="M473.7,743.0 474.1,743.8 474.7,744.1 473.2,743.9 473.5,745.1 474.1,746.2 473.2,745.5 472.6,746.3 471.9,745.1 471.4,745.6 470.8,744.6 469.7,743.3 470.3,742.5 471.3,742.3 472.4,742.7 473.4,743.1ZM474.7,748.7 474.9,747.9 475.7,748.2 476.4,748.5 477.7,748.4 479.3,748.5 480.4,748.6 480.3,749.1 478.8,749.2 477.2,749.4 475.7,748.9ZM473.6,741.2 474.3,740.9 475.9,741.6 476.9,742.7 476.8,743.1 476.1,742.8 474.9,742.1 474.1,741.5ZM479.5,740.5 480.2,740.0 481.0,740.8 480.1,740.9ZM479.5,741.8 480.1,741.8 480.0,742.5 479.6,742.4ZM481.0,743.4 482.0,743.5 481.4,743.7ZM483.3,746.8 484.3,746.2 484.1,747.0 483.4,747.4ZM481.8,745.3 482.5,745.4 482.1,745.7ZM477.9,738.9 478.7,739.0 478.3,739.2ZM476.8,737.2 477.2,737.3 477.0,737.5ZM478.7,737.7 479.2,737.8 478.9,737.9ZM476.7,741.0 477.0,741.3 476.7,741.4ZM477.1,743.1 477.6,743.5 477.3,743.6ZM477.9,743.7 478.3,743.9 478.0,744.0ZM478.6,744.7 479.0,744.8 478.8,745.2ZM478.0,744.8 478.4,745.0 478.2,745.2ZM476.4,745.6 476.7,745.7 476.5,745.8ZM478.5,746.2 478.8,746.3 478.6,746.4ZM479.4,745.3 479.8,745.4 479.6,745.5ZM479.9,743.7 480.5,743.8 480.2,743.9ZM482.1,747.5 482.3,748.2 482.0,748.3ZM473.4,746.5 473.8,746.6 473.6,746.8ZM468.8,743.3 469.4,743.5 469.1,743.7ZM468.3,742.2 469.0,742.5 468.6,742.9ZM468.7,741.3 469.0,741.5 468.7,741.7ZM466.8,739.2 467.7,739.9 467.2,740.0ZM480.4,745.9 480.7,746.0 480.5,746.1ZM477.4,744.0 477.6,744.2 477.4,744.3ZM478.4,744.0 478.7,744.1 478.5,744.2ZM476.3,743.7 476.5,743.9 476.3,744.0ZM476.5,744.1 476.6,744.3 476.4,744.4ZM481.8,745.0 482.0,745.2 481.8,745.2ZM474.5,743.5 474.8,743.6 474.6,743.6ZM474.7,740.6 475.2,740.5 475.5,740.7 474.9,740.7Z" fill="#033D68" stroke-width="1.55"/><path d="M472.4,734.0 473.6,732.1 472.4,730.4 473.0,730.0 475.7,731.0 478.8,731.1 481.9,730.2 485.1,730.9 483.7,733.1 483.9,734.6 481.9,734.5 480.4,735.2 476.7,735.6 473.4,736.0 473.6,735.2Z" fill="#7CA8E0"/><path d="M468.1,725.9 469.9,725.4 471.6,723.3 473.4,722.0 476.7,722.1 481.0,721.5 482.9,723.1 484.3,725.2 484.3,727.4 487.4,727.7 487.2,728.7 485.1,730.9 481.9,730.2 478.8,731.1 475.7,731.0 473.0,730.0 472.6,728.9 470.4,728.7 470.6,727.9Z" fill="#7CA8E0"/><path d="M481.0,721.5 483.3,721.1 486.2,722.1 488.2,725.4 485.8,725.3 484.3,727.4 484.3,725.2 482.9,723.1Z" fill="#7CA8E0"/><path d="M471.8,721.2 472.8,719.7 473.6,718.1 475.9,716.2 474.9,714.7 477.7,713.9 482.3,714.5 486.6,714.9 489.3,715.1 491.7,713.5 495.8,712.9 497.1,715.2 499.5,717.0 504.5,718.1 508.8,718.7 508.1,720.8 508.1,722.3 504.9,723.9 501.8,724.8 498.3,726.0 498.3,726.8 501.4,727.5 499.1,728.3 496.2,729.6 495.0,729.2 493.2,727.6 495.2,726.6 495.4,726.0 494.2,726.0 491.7,725.0 489.5,725.2 487.4,727.7 484.3,727.4 485.8,725.3 488.2,725.4 486.2,722.1 483.3,721.1 481.0,721.5 476.7,722.1 473.4,722.0Z" fill="#033D68"/><path d="M486.4,736.3 490.7,736.5 494.8,734.6 498.3,734.5 501.4,736.1 504.5,736.7 508.6,736.7 511.6,735.6 513.7,735.7 515.7,736.5 516.2,738.6 518.4,739.4 517.6,740.0 516.8,740.0 517.4,742.1 518.4,744.6 513.5,744.8 510.0,744.8 506.1,745.7 502.4,745.7 501.8,746.6 500.8,747.5 500.8,745.9 499.3,745.9 497.5,745.5 495.6,746.8 493.8,747.1 490.1,745.4 489.0,746.5 487.2,746.7 484.5,745.5 482.7,745.1 482.3,743.2 480.4,742.3 481.7,741.9 481.2,740.2 480.0,739.8 480.2,738.7 481.2,737.9 482.9,738.2 486.0,737.9 487.8,737.2 486.2,736.7Z" fill="#F3C200"/><path d="M479.8,737.1 481.0,736.1 480.4,735.2 481.9,734.5 483.9,734.6 485.8,736.1 486.0,736.6 482.9,736.8 481.4,737.5 480.2,738.6 481.4,737.3Z" fill="#F3C200" stroke-width="1.55"/><path d="M492.7,749.1 494.2,748.5 497.5,747.8 496.0,749.1 494.2,750.1 492.9,749.8Z" fill="#033D68"/><path d="M136.8,676.8 140.9,677.0 146.0,678.3 150.1,676.8 155.3,676.6 160.4,675.8 165.5,675.4 169.6,677.0 173.8,676.4 179.9,677.2 186.1,678.3 190.2,678.3 192.2,679.8 189.6,680.6 196.4,680.8 200.5,680.4 203.5,681.4 204.6,678.9 208.7,678.5 212.8,680.2 217.9,680.8 223.1,680.6 224.3,679.3 227.2,680.4 229.2,681.6 230.2,680.0 228.8,678.1 231.3,676.4 228.2,675.4 229.2,672.9 232.3,671.8 235.4,673.9 237.4,676.6 240.5,677.2 239.5,679.1 242.6,677.9 245.6,679.1 246.1,681.6 248.7,680.8 250.8,678.1 250.8,676.4 256.9,676.4 259.4,677.7 259.0,679.3 256.9,681.2 259.4,681.6 254.9,683.7 249.8,683.9 249.8,684.8 246.7,685.8 245.6,688.1 241.5,688.5 240.5,689.6 236.4,691.1 234.4,693.2 232.3,695.9 231.7,699.0 235.4,699.6 236.4,703.2 240.5,702.8 245.6,704.2 250.8,706.3 256.9,707.0 257.6,711.6 260.0,713.7 262.1,715.3 264.1,714.7 264.5,712.0 263.5,708.9 263.1,707.8 268.2,705.3 269.3,702.2 267.2,700.1 265.2,699.0 267.2,696.9 266.2,694.8 266.2,691.9 271.3,692.1 275.4,691.9 278.5,693.6 282.6,694.8 283.6,699.0 286.7,700.3 290.8,699.4 292.9,696.3 294.3,696.5 298.0,700.5 300.1,704.2 303.2,706.8 307.3,707.8 309.3,710.1 311.8,711.6 311.8,713.7 309.3,714.9 305.6,715.8 303.2,717.4 299.1,717.2 294.9,717.2 289.8,717.4 287.8,719.3 284.7,721.0 282.6,723.1 280.6,724.3 282.6,724.1 285.7,721.2 289.8,719.7 292.9,719.5 294.3,720.4 291.9,722.0 293.3,723.7 293.3,725.6 295.4,726.4 299.1,726.6 301.1,726.8 302.1,724.1 303.6,726.2 301.1,727.9 296.0,729.2 291.9,731.5 290.4,730.8 290.8,729.4 293.9,727.7 290.8,727.9 288.6,728.1 287.1,726.8 287.1,723.9 284.3,723.3 282.0,726.2 279.5,728.3 273.0,728.3 269.7,730.0 269.3,731.2 264.1,731.9 264.1,732.9 256.9,734.8 255.9,734.0 257.2,732.5 257.6,727.7 254.9,726.2 252.8,725.2 249.8,723.7 244.8,721.4 242.4,722.0 239.5,721.6 235.4,720.8 230.9,719.9 173.1,719.9 173.3,718.9 170.1,717.2 165.5,715.8 163.9,713.7 161.8,710.9 158.8,708.9 159.4,705.5 159.4,705.1 155.3,703.2 152.2,699.4 148.1,697.5 144.0,699.0 140.9,696.9 136.8,696.3ZM172.9,721.2 169.6,720.6 166.6,718.9 162.9,716.6 164.5,716.2 168.6,717.4 171.7,719.3ZM304.8,722.9 306.2,721.0 308.3,716.8 311.4,714.5 312.4,715.1 310.3,717.9 312.4,718.3 315.9,718.9 317.5,721.0 318.2,723.1 316.5,725.0 314.5,724.1 312.4,724.3 310.3,723.1 307.3,722.9ZM243.0,668.0 243.6,667.5 260.0,667.7 274.5,671.9 280.7,673.3 285.9,674.8 288.1,677.6 291.1,679.6 298.4,681.8 300.4,683.3 300.4,684.2 296.3,686.9 295.8,687.0 290.5,685.0 292.4,687.2 294.0,689.9 293.6,690.8 291.0,691.4 289.3,691.0 291.2,692.3 291.4,692.9 290.8,693.3 286.6,693.1 280.4,691.6 276.2,689.1 273.3,688.1 267.9,688.4 265.9,686.9 265.8,686.0 266.8,685.0 274.1,684.8 275.7,680.9 273.2,679.7 264.0,677.0 263.6,676.4 260.0,676.8 251.7,676.6 246.6,675.9 242.4,674.4 241.0,672.1 241.1,671.4 243.0,669.5ZM247.4,686.5 247.5,685.5 251.0,684.2 258.2,687.0 261.3,688.7 261.6,689.3 261.0,689.8 255.0,689.6 250.6,690.8 247.5,689.7 247.4,688.7 249.1,687.8ZM185.8,676.5 183.7,675.2 183.8,674.2 185.0,673.6 181.9,673.2 181.5,672.3 184.0,669.5 192.2,668.7 202.4,669.8 207.5,667.9 212.0,669.6 212.3,670.3 211.3,672.9 212.1,674.7 216.9,674.4 217.4,674.7 218.4,676.8 218.0,677.6 211.9,679.1 206.6,678.9 198.4,679.5ZM169.1,672.3 168.1,670.0 168.3,669.3 171.7,666.4 176.9,666.0 184.1,666.4 189.2,667.0 189.6,668.0 188.2,669.7 181.3,670.3 179.0,673.4 173.6,674.0ZM216.4,672.1 215.4,670.0 215.7,669.2 221.0,667.0 226.4,667.1 229.5,668.8 229.8,669.5 228.4,672.4 223.2,673.8ZM228.6,671.4 228.6,668.2 229.1,667.7 233.4,666.6 240.6,667.0 241.1,667.6 241.1,669.7 240.7,670.3 234.5,672.4 229.2,672.0ZM185.6,665.4 184.6,663.7 184.9,662.9 188.2,661.8 196.3,662.2 201.6,661.6 208.8,662.8 209.3,663.4 209.3,665.5 208.7,666.1 200.4,666.5 190.2,666.3ZM212.3,664.9 214.8,662.2 220.9,661.4 226.3,662.9 226.5,663.9 223.0,666.1 212.8,665.9ZM173.2,663.4 173.2,661.8 173.7,661.2 179.8,660.1 188.2,661.0 188.7,661.5 188.3,662.1 181.9,664.6 173.7,664.0ZM229.2,661.8 237.4,660.8 243.7,662.2 258.0,662.0 263.3,663.9 263.6,664.8 262.6,666.7 262.1,666.9 251.8,667.2 238.4,666.7 229.0,662.9 228.6,662.3ZM241.3,662.3 245.3,660.3 247.4,657.7 250.5,656.1 247.5,654.6 237.3,652.9 236.9,652.4 237.3,651.8 245.5,649.7 266.2,648.0 286.8,648.2 299.1,649.7 299.6,650.2 299.3,650.8 293.0,653.5 272.5,658.8 268.6,660.2 266.2,663.0 241.5,663.4 241.0,662.9ZM228.6,655.5 228.6,653.4 229.1,652.8 235.5,652.0 244.7,653.6 248.1,656.0 248.1,656.9 245.6,659.2 235.3,658.6 229.0,656.0ZM210.6,656.2 214.8,654.9 223.0,654.5 227.5,657.7 227.3,658.8 220.9,659.8 210.6,657.3 210.2,656.8ZM190.0,658.7 194.3,657.4 202.5,657.6 203.1,658.0 202.9,658.7 200.4,660.5 190.1,659.8 189.6,659.3ZM255.4,691.4 255.9,690.5 259.0,690.3 262.4,692.2 262.6,692.9 262.1,693.3 256.9,693.3 256.5,693.0ZM221.7,677.2 224.1,675.6 228.2,675.8 230.7,678.1 230.3,679.1 226.0,679.7 221.8,678.2Z" fill="#033D68"/><path d="M156.9,713.2 154.2,711.6 153.2,709.3 155.7,709.5 155.7,711.6ZM294.3,724.8 297.0,725.4 299.1,725.3 298.0,726.2 294.9,725.8ZM293.6,718.6 293.4,717.9 294.0,717.5 297.1,717.9 299.7,719.2 300.0,719.9 299.4,720.3 295.9,719.9ZM260.6,692.5 260.6,691.8 261.2,691.5 263.3,692.2 263.6,693.1 262.9,693.9 262.1,694.0ZM261.6,704.6 262.0,703.7 264.1,703.5 264.6,704.4 263.6,705.8 262.7,705.9Z" fill="#033D68" stroke-width="1.55"/><path d="M173.1,719.9 230.9,719.9 235.4,720.8 239.5,721.6 242.4,722.0 244.8,721.4 249.8,723.7 252.8,725.2 254.9,726.2 257.6,727.7 257.2,732.5 255.9,734.0 256.9,734.8 264.1,732.9 264.1,731.9 269.3,731.2 269.7,730.0 273.0,728.3 279.5,728.3 282.0,726.2 284.3,723.3 287.1,723.9 287.1,726.8 288.6,728.1 288.8,728.7 285.7,729.8 282.2,731.2 281.0,733.1 281.4,734.6 282.6,735.0 282.6,735.6 279.9,735.6 277.5,736.3 274.8,736.9 278.5,736.9 274.6,737.7 274.0,739.8 272.6,740.9 271.3,739.8 272.1,741.9 271.1,743.2 270.3,744.8 269.7,741.9 269.3,744.4 270.3,745.3 270.9,747.2 271.3,748.6 269.3,749.9 266.4,751.3 263.5,753.0 260.0,755.5 259.2,758.9 260.8,762.8 262.1,766.4 261.7,769.5 259.8,770.0 258.4,767.5 256.5,764.3 256.3,761.8 253.9,759.5 251.2,760.3 248.7,758.9 245.6,759.1 242.6,759.3 242.8,761.6 239.7,761.6 237.4,760.8 233.7,760.3 231.7,761.0 228.2,763.1 226.3,764.9 226.8,768.3 222.8,767.2 222.0,764.9 220.4,763.3 218.1,760.1 215.9,760.1 214.4,761.8 211.8,760.5 210.9,758.5 207.6,755.9 204.2,755.9 204.2,757.0 198.4,757.0 190.8,754.1 185.9,754.5 183.0,751.3 178.7,750.1 176.0,745.9 174.8,743.4 172.1,740.2 171.1,737.9 171.3,735.0 170.7,732.9 171.7,729.4 171.7,725.6 170.3,721.2 173.8,721.6 174.8,723.5 175.2,721.4ZM136.8,676.8 136.8,696.3 140.9,696.9 144.0,699.0 148.1,697.5 152.2,699.4 155.3,703.2 159.4,705.1 159.4,707.0 156.3,707.4 153.2,707.4 152.2,705.3 149.1,703.2 146.0,700.7 142.9,699.4 139.9,697.8 135.8,697.1 130.6,696.9 126.5,695.7 122.4,695.2 121.4,696.9 119.3,697.3 114.6,698.4 115.6,695.5 119.3,694.2 115.2,694.4 112.1,696.9 109.7,700.1 104.9,703.2 99.8,705.7 93.7,707.2 87.9,708.2 91.6,706.8 96.7,705.3 102.3,702.2 102.9,699.9 100.8,699.4 97.8,699.4 93.7,699.0 93.7,696.9 89.5,697.1 87.5,695.9 87.5,693.8 85.4,693.4 87.5,691.3 88.5,690.6 95.7,689.6 96.1,687.3 92.6,687.7 88.5,687.5 84.4,687.5 81.3,685.2 85.4,683.9 89.5,683.3 93.7,684.2 93.9,682.5 90.6,682.3 89.5,680.8 85.0,679.3 85.0,678.3 91.6,677.0 94.7,675.4 101.9,674.3 104.7,673.3 109.1,674.1 113.2,674.3 118.3,674.9 123.4,675.6 128.6,676.0 132.7,675.8Z" fill="#033D68"/><path d="M109.1,702.2 112.1,703.2 114.2,701.9 113.2,700.3 111.1,701.1ZM73.7,689.6 77.2,690.4 79.7,690.0 76.6,689.2ZM82.8,696.5 86.1,697.1 85.0,696.1ZM106.0,782.7 108.0,781.7 107.8,780.2 106.0,780.2ZM104.5,778.8 106.0,779.2 105.6,778.5ZM101.5,777.7 102.5,777.9 101.9,777.1ZM98.2,776.5 99.2,776.7 99.0,776.0Z" fill="#033D68" stroke-width="1.55"/><path d="M185.9,754.5 186.9,756.6 188.1,758.7 189.8,761.2 191.8,763.5 191.8,764.3 190.2,764.3 191.8,765.8 193.3,766.6 195.5,768.1 195.9,770.2 196.4,771.2 198.4,772.7 200.5,774.6 201.5,773.7 199.8,771.6 198.8,770.2 197.8,768.1 196.4,766.0 194.7,764.3 194.3,762.4 192.2,760.1 190.8,758.7 190.6,755.9 194.3,757.2 195.3,759.7 195.9,761.4 198.0,763.9 199.4,764.3 201.7,767.0 204.6,770.2 207.6,773.7 209.3,775.4 210.1,777.5 209.7,779.8 211.8,782.5 213.8,784.2 216.9,784.8 218.9,786.5 221.0,786.9 224.1,788.4 226.1,789.2 229.2,789.6 232.3,788.6 233.7,789.4 237.0,792.2 237.0,790.7 238.0,788.8 240.5,788.8 238.7,786.5 239.5,785.2 243.2,785.2 245.0,783.8 246.3,784.2 246.7,781.7 246.9,780.0 248.1,778.1 246.7,777.5 244.6,777.5 240.9,778.5 240.5,781.1 238.5,783.8 236.4,783.6 232.3,784.4 229.6,783.2 228.6,782.1 226.5,778.5 225.5,775.4 225.7,772.3 226.8,768.3 222.8,767.2 222.0,764.9 220.4,763.3 218.1,760.1 215.9,760.1 214.4,761.8 211.8,760.5 210.9,758.5 207.6,755.9 204.2,755.9 204.2,757.0 198.4,757.0 190.8,754.1Z" fill="#D8554E"/><path d="M237.0,792.2 237.0,790.7 238.0,788.8 240.5,788.8 238.7,786.5 239.5,785.2 243.2,785.2 243.2,789.2 243.8,789.2 245.2,789.6 243.2,791.3 242.8,792.4 241.3,793.7 238.9,793.4Z" fill="#F3C200"/><path d="M243.2,785.2 243.4,784.8 245.0,783.8 245.4,785.9 245.0,788.0 243.8,789.2 243.2,789.2Z" fill="#8A8A8A"/><path d="M241.3,793.7 242.8,792.4 244.6,793.2 246.3,793.6 246.1,794.9 244.6,795.0 243.0,794.3Z" fill="#8A8A8A"/><path d="M243.2,791.3 245.2,789.6 246.7,789.4 249.8,789.2 251.8,789.2 253.9,789.6 255.5,791.1 252.8,791.7 251.4,792.6 250.2,793.4 248.3,794.7 247.1,795.3 246.1,794.9 246.3,793.6 244.6,793.2 242.8,792.4Z" fill="#F3C200"/><path d="M255.5,791.1 254.9,795.3 254.5,797.6 254.5,799.7 252.4,799.5 250.4,799.3 248.7,797.4 246.5,795.5 247.1,795.3 248.3,794.7 250.2,793.4 251.4,792.6 252.8,791.7Z" fill="#F3C200"/><path d="M254.5,799.7 255.9,801.6 256.7,802.4 256.1,803.9 256.1,805.5 254.7,804.7 253.5,802.8 252.2,802.0 251.6,802.4 250.2,801.6 250.4,799.3 252.4,799.5Z" fill="#F3C200"/><path d="M256.7,802.4 259.0,804.1 262.1,803.2 264.1,802.6 266.4,803.7 267.4,804.3 267.8,806.0 266.4,807.4 265.6,806.2 265.2,804.9 263.1,803.9 261.3,805.3 262.1,807.0 260.4,807.4 259.6,806.4 258.6,805.5 256.1,805.5 256.1,803.9Z" fill="#F3C200"/><path d="M252.0,776.7 253.9,775.0 255.9,774.4 256.9,774.0 260.0,774.2 262.1,774.6 264.1,775.6 267.2,776.9 269.3,778.1 270.9,778.5 274.0,780.2 271.3,780.8 266.8,781.0 267.8,779.4 265.6,779.0 264.5,777.3 261.1,776.9 258.4,776.0 257.4,775.2 254.9,776.0Z" fill="#F3C200"/><path d="M255.7,777.3 256.7,777.5 256.3,776.7Z" fill="#F3C200" stroke-width="1.55"/><path d="M265.4,784.2 267.2,783.8 269.7,784.6 268.4,785.2 266.6,785.0Z" fill="#8A8A8A" stroke-width="1.55"/><path d="M273.4,784.0 275.4,784.4 278.5,784.4 279.1,784.8 279.1,781.3 276.9,780.8 275.6,781.1 276.9,782.5 277.7,783.6 275.4,783.6Z" fill="#8A8A8A"/><path d="M279.1,784.8 279.7,785.7 281.6,784.2 283.6,784.0 285.9,784.2 285.5,782.9 283.6,782.5 282.6,781.3 279.1,781.1Z" fill="#8A8A8A"/><path d="M288.4,784.8 291.5,784.8 291.7,784.0 288.4,783.8Z" fill="#8A8A8A" stroke-width="1.55"/><path d="M265.6,770.2 266.8,771.8 266.4,770.0ZM266.6,766.2 268.2,767.2 267.8,768.3 268.0,767.0ZM264.3,766.6 266.4,766.6 265.4,767.0ZM268.9,769.1 269.9,769.8 269.9,770.8 269.5,769.8ZM271.3,771.4 271.7,772.1 271.9,773.9 272.6,774.2 272.1,772.9ZM275.0,778.3 276.3,778.1 276.0,778.8ZM266.2,771.2 267.0,772.7 266.8,771.4Z" fill="#8A8A8A" stroke-width="1.55"/><path d="M299.3,801.4 301.1,801.4 301.3,799.9 299.7,800.1Z" fill="#F3C200" stroke-width="1.55"/><path d="M299.5,786.7 299.9,786.9 299.7,786.5ZM299.5,788.4 300.7,788.6 299.9,789.0ZM300.1,790.1 300.7,790.5 300.3,790.7ZM300.7,791.5 301.5,792.2 301.1,792.4ZM300.9,793.2 301.3,793.8 301.1,793.6ZM300.5,794.7 300.9,795.1 300.7,794.9ZM303.8,794.7 304.4,795.1 304.0,795.3ZM299.5,797.0 299.9,797.4 299.7,797.2ZM296.8,784.6 297.2,784.8 297.0,784.6ZM297.4,786.1 298.0,786.7 297.6,786.5ZM293.1,784.0 293.7,784.2 293.3,785.5 293.5,785.2ZM284.3,797.0 286.3,797.0 284.9,797.2ZM282.4,796.1 282.8,796.5 282.6,796.3ZM294.1,799.5 295.4,799.5 294.9,799.7ZM259.2,782.1 259.8,782.1 259.6,782.0ZM278.5,776.7 279.5,777.1 279.1,776.9Z" fill="#8A8A8A" stroke-width="1.55"/><path d="M276.5,658.8 286.7,656.1 292.9,654.0 299.1,651.9 313.4,649.8 329.9,649.2 344.2,647.7 360.7,647.5 375.1,648.4 381.2,650.0 368.9,651.5 385.3,651.7 400.7,651.9 391.5,654.0 390.5,656.1 386.3,659.2 387.4,662.4 385.3,665.5 387.4,667.0 381.2,669.3 380.2,671.2 376.1,671.0 381.2,672.9 380.2,675.4 374.0,674.9 377.1,677.0 373.0,678.9 366.8,679.5 360.7,680.0 356.6,682.7 351.4,684.4 348.3,685.0 344.2,686.5 342.2,689.6 339.1,692.7 338.1,695.9 336.0,697.1 331.9,695.5 326.8,694.2 323.7,691.5 320.6,688.5 318.6,685.4 315.9,682.7 316.5,680.2 321.6,678.5 321.6,676.4 314.5,677.0 314.5,674.5 319.6,673.9 313.4,671.8 312.4,669.7 309.3,667.0 306.2,664.5 299.1,663.0 290.8,663.4 284.7,663.0 280.6,661.3 286.7,660.7 281.6,659.7Z" fill="#033D68"/><path d="M790.6,859.1 792.0,858.7 793.4,859.5 792.8,860.6 790.8,860.6ZM793.2,857.5 795.1,856.6 796.1,856.6 795.3,857.7 793.7,858.1Z" fill="#0575C8" stroke-width="1.55"/><path d="M754.4,842.0 756.7,842.6 756.3,843.2 754.6,843.0ZM756.5,840.1 758.1,842.2 757.7,842.8 756.5,841.1ZM751.8,838.2 754.6,839.9 754.2,840.3 752.0,839.0ZM747.9,836.5 749.9,837.6 749.5,838.0 748.1,837.2ZM749.3,839.2 750.9,840.1 750.3,840.7 749.3,839.9ZM757.7,844.1 760.0,844.7 759.6,845.2 757.9,844.7Z" fill="#0575C8" stroke-width="1.55"/><path d="M768.6,853.3 769.8,853.9 769.6,855.2 768.8,854.9ZM769.8,856.0 771.1,856.6 770.7,857.1 770.0,856.8Z" fill="#0575C8" stroke-width="1.55"/><path d="M274.4,838.0 276.0,836.1 276.7,833.4 281.0,831.3 282.8,831.3 283.9,824.8 282.6,822.9 282.6,821.2 283.6,821.2 284.2,820.4 283.0,820.2 283.0,818.9 286.9,818.9 289.0,820.0 290.2,820.9 291.9,820.8 294.9,818.3 296.1,817.7 294.3,816.2 294.5,813.9 297.4,814.1 300.1,813.3 301.7,811.6 303.0,811.6 304.0,814.3 303.2,816.8 303.6,819.6 306.2,819.8 310.3,818.5 314.2,817.7 315.5,815.0 314.7,812.0 315.5,810.4 317.7,811.4 320.2,813.7 321.6,814.3 322.7,818.7 323.7,820.6 323.1,822.5 325.8,822.9 325.9,823.0 327.0,823.1 326.8,824.0 328.8,823.8 334.0,825.6 335.4,827.7 337.5,827.5 340.1,828.4 344.2,828.4 347.3,830.2 350.0,832.5 353.9,833.4 354.9,837.4 354.5,841.1 351.4,844.5 347.3,849.7 346.3,853.9 345.9,859.1 344.7,863.5 342.4,868.1 340.3,870.4 337.7,870.6 334.6,871.3 331.3,872.7 327.8,875.5 326.6,878.0 326.4,882.2 323.7,884.9 321.6,888.0 319.4,889.9 316.7,893.0 317.3,890.9 315.7,889.5 312.4,887.2 311.4,887.2 308.1,885.7 312.0,881.9 316.1,879.2 315.9,877.3 314.3,876.1 314.8,873.0 312.6,872.7 311.8,869.2 307.5,868.8 306.9,864.6 308.3,860.2 306.7,858.7 306.4,856.6 302.7,856.6 302.1,851.4 299.5,850.8 296.6,848.9 294.1,848.5 292.3,846.6 292.0,842.8 289.6,843.2 285.7,845.5 281.4,845.5 281.4,842.4 278.1,843.4 276.5,841.8Z" fill="#033D68"/><path d="M267.4,804.3 268.7,805.8 269.7,803.7 271.1,802.6 271.3,800.5 272.8,799.3 274.0,798.8 276.5,798.6 278.1,797.6 279.1,796.4 280.4,797.0 279.9,797.7 277.5,799.5 276.5,802.0 275.8,803.2 277.5,805.1 277.7,807.0 278.5,807.8 282.4,807.8 283.9,809.7 287.8,809.5 287.1,811.4 287.1,813.7 288.2,815.4 286.9,816.6 288.4,817.7 289.0,820.0 286.9,818.9 283.0,818.9 283.0,820.2 284.3,820.4 283.6,821.2 282.6,821.2 282.6,822.9 283.9,824.8 282.8,831.3 281.2,830.5 282.4,828.2 278.1,827.5 276.0,827.1 274.4,824.6 271.7,822.7 269.7,821.7 267.4,821.7 264.8,820.0 264.5,819.6 265.2,817.3 267.2,817.1 267.8,814.5 267.2,811.0 267.4,808.5 266.4,807.4 267.8,806.0Z" fill="#F3C200"/><path d="M279.9,797.7 278.7,798.6 279.3,799.7 278.3,801.6 279.5,803.5 280.6,802.0 279.7,799.7 282.2,798.6 282.2,797.4 282.6,797.0 283.2,798.4 285.9,799.1 286.3,800.3 290.8,800.3 292.9,801.4 294.5,800.5 297.6,800.1 299.3,800.1 297.4,800.7 298.4,802.0 301.3,803.0 301.1,804.7 303.6,805.1 301.7,806.8 300.9,808.5 300.3,810.2 301.7,811.6 300.1,813.3 297.4,814.1 294.5,813.9 294.3,816.2 296.2,817.7 294.9,818.3 291.9,820.8 290.2,820.9 289.0,820.0 288.4,817.7 286.9,816.6 288.2,815.4 287.1,813.7 287.1,811.4 287.8,809.5 283.9,809.7 282.4,807.8 278.5,807.8 277.7,807.0 277.5,805.1 275.8,803.2 276.5,802.0 277.5,799.5Z" fill="#8A8A8A"/><path d="M303.6,805.1 306.2,807.2 306.7,808.3 308.9,809.9 308.7,811.6 307.3,814.1 310.3,818.5 306.2,819.8 303.6,819.6 303.2,816.8 304.0,814.3 303.0,811.6 301.7,811.6 300.3,810.2 300.9,808.5 301.7,806.8Z" fill="#8A8A8A"/><path d="M308.9,809.9 311.6,810.2 315.5,810.4 314.7,812.0 315.5,815.0 314.3,817.7 311.4,818.3 310.3,818.5 307.3,814.1 308.7,811.6Z" fill="#8A8A8A"/><path d="M264.5,819.6 262.1,820.8 261.9,822.5 260.8,824.6 260.2,827.1 261.5,827.9 262.5,827.1 261.5,829.6 261.7,831.5 263.3,832.8 264.8,832.1 265.6,829.6 266.6,828.8 269.1,827.9 271.3,825.6 271.9,824.4 271.7,822.7 269.7,821.7 267.4,821.7 264.8,820.0Z" fill="#0575C8"/><path d="M238.5,823.1 239.9,824.0 239.1,824.6 238.5,824.0ZM240.5,823.5 241.1,823.8 240.7,824.2Z" fill="#0575C8" stroke-width="1.55"/><path d="M261.5,829.6 259.4,832.3 259.8,835.1 262.3,836.9 264.1,839.7 265.8,843.4 268.0,847.6 269.9,851.6 272.1,854.7 275.0,856.6 277.7,858.1 279.9,859.5 281.8,860.9 283.6,859.1 284.7,856.4 283.9,853.9 284.9,849.1 283.6,845.5 281.4,845.5 281.4,842.4 278.1,843.4 276.5,841.8 274.4,838.0 276.0,836.1 276.7,833.4 281.0,831.3 282.8,831.3 281.2,830.5 282.4,828.2 278.1,827.5 276.0,827.1 274.4,824.6 271.7,822.7 271.9,824.4 271.3,825.6 269.1,827.9 266.6,828.8 265.6,829.6 264.8,832.1 263.3,832.8 261.7,831.5Z" fill="#0575C8"/><path d="M283.6,859.1 284.9,862.3 285.7,863.3 286.3,867.1 286.9,870.2 288.4,870.2 290.4,868.1 292.5,868.8 294.3,870.2 297.4,868.5 298.4,865.4 299.5,863.5 305.0,862.9 306.9,864.6 307.5,862.5 308.3,860.2 306.7,858.7 306.4,856.6 302.7,856.6 302.1,851.4 299.5,850.8 296.6,848.9 294.1,848.5 292.3,846.6 292.1,842.8 289.6,843.2 285.7,845.5 283.6,845.5 284.9,849.1 283.9,853.9 284.7,856.4Z" fill="#0575C8"/><path d="M298.4,865.4 299.5,863.5 305.0,862.9 306.9,864.6 307.5,868.8 311.8,869.2 312.6,872.7 314.9,872.9 314.3,876.1 311.6,879.6 310.3,879.8 306.0,879.4 307.7,875.2 303.2,872.9 301.1,872.3 297.4,868.5Z" fill="#7CA8E0"/><path d="M308.1,885.7 311.4,887.2 312.4,887.2 315.7,889.5 317.3,890.9 316.7,893.0 313.6,895.7 311.0,895.5 307.7,894.5 306.4,893.7 306.9,891.6 307.3,888.4Z" fill="#D8554E"/><path d="M288.4,870.2 290.4,868.1 292.5,868.8 294.3,870.2 297.4,868.5 301.1,872.3 303.2,872.9 307.7,875.2 306.0,879.4 310.3,879.8 311.6,879.6 314.3,876.1 315.9,877.3 316.1,879.2 312.0,881.9 308.1,885.7 307.3,888.4 306.9,891.6 306.2,893.7 308.9,896.4 309.9,898.9 308.1,902.2 305.2,903.5 299.1,903.9 298.4,907.3 295.4,908.7 292.9,907.9 292.9,910.4 295.8,911.7 292.9,912.9 291.9,916.7 287.8,918.8 287.8,919.8 291.2,921.3 291.0,922.5 287.5,925.7 284.7,928.2 284.7,930.5 285.9,932.2 283.6,931.6 281.6,931.3 278.5,931.3 277.7,929.2 276.0,928.2 275.8,925.7 277.9,924.0 278.9,920.9 279.1,916.7 278.9,913.5 278.9,909.4 279.9,904.1 281.0,899.9 282.2,895.8 282.8,892.2 282.0,888.4 282.8,885.3 284.1,881.1 285.9,878.0 285.7,874.2 288.4,870.6 286.9,870.2ZM285.5,932.6 285.5,937.4 289.8,937.7 292.7,937.0 289.8,935.9 287.8,935.1 286.3,933.4Z" fill="#D8554E"/><path d="M281.8,860.9 282.2,864.4 281.8,871.7 281.4,875.7 279.5,883.2 279.3,887.4 279.3,891.6 277.3,896.8 276.0,899.9 275.0,905.2 274.8,909.4 273.8,912.9 275.4,910.4 276.9,911.5 275.8,914.6 273.4,916.7 271.1,920.2 273.4,920.9 271.5,924.0 271.1,927.2 272.8,931.3 274.8,933.4 279.5,935.5 280.8,933.4 281.6,932.8 283.6,932.2 285.9,932.2 283.6,931.6 281.6,931.3 278.5,931.3 277.7,929.2 276.0,928.2 275.8,925.7 277.9,924.0 278.9,920.9 279.1,916.7 278.9,913.5 278.9,909.4 279.9,904.1 281.0,899.9 282.2,895.8 282.8,892.2 282.0,888.4 282.8,885.3 284.1,881.1 285.9,878.0 285.7,874.2 288.4,870.6 286.9,870.2 286.3,867.1 285.7,863.3 284.9,862.3 283.6,859.1ZM285.5,932.6 286.3,933.4 283.6,932.6 281.6,934.1 282.2,935.5 279.5,935.9 278.5,936.8 282.6,938.0 285.7,938.9 288.2,939.5 289.2,938.2 285.5,937.4Z" fill="#D8554E"/><path d="M273.8,912.9 275.4,910.4 275.2,913.1Z" fill="#D8554E" stroke-width="1.55"/><path d="M399.1,764.1 408.3,764.1 408.3,767.0 397.8,767.0 398.5,765.6Z" fill="#FFFFFF"/><path d="M237.4,724.5 242.6,722.0 245.6,720.2 249.8,720.8 252.4,723.1 252.4,725.2 247.7,725.2 243.6,724.1ZM246.1,735.2 248.7,735.0 249.3,731.5 251.8,726.8 249.8,726.4 246.7,728.3 245.9,731.5ZM252.8,726.2 260.0,726.0 262.1,728.7 259.0,729.4 258.6,732.1 256.9,732.3 254.9,730.4 255.3,727.9ZM255.1,735.2 260.0,735.6 264.3,732.9 261.1,733.3 256.9,734.4ZM262.5,731.9 268.2,731.9 269.9,730.6 268.2,730.4 264.1,730.8Z" fill="#fff"/><path d="M87.5,709.1 84.4,709.9 81.3,710.7 78.2,711.8 75.2,712.6 71.1,713.2 68.0,713.5 64.9,714.1 61.8,714.3 58.7,714.9" fill="none" stroke-width="1.7" stroke-dasharray="2.4 1.6"/><path d="M795.1,714.9 792.0,714.1 787.9,713.7 783.8,712.8 780.9,711.8" fill="none" stroke-width="1.7" stroke-dasharray="2.4 1.6"/><path d="M274.8,910.0 273.4,915.6 271.9,920.9 271.9,927.2 273.8,932.0 277.5,935.1 282.6,937.6" fill="none" stroke="#06090f" stroke-width="2.4" stroke-linecap="round"/><path d="M172.1,720.2 167.6,717.2 163.5,714.1 160.4,710.5 157.7,707.4 153.2,704.2 149.1,701.5 145.4,700.1" fill="none" stroke="#06090f" stroke-width="3.0" stroke-linecap="round"/><path d="M126.5,695.9 120.4,696.9 114.2,699.0 111.1,701.7 106.0,704.2 98.8,706.3 91.6,707.8" fill="none" stroke="#06090f" stroke-width="2.0" stroke-linecap="round"/><path d="M437.1,699.0 436.7,693.8 439.8,691.1 444.9,689.0 450.0,686.5 453.1,683.3 456.2,680.2 460.3,678.1 465.4,676.0 473.6,674.3 479.8,673.9" fill="none" stroke="#06090f" stroke-width="1.6" stroke-linecap="round"/><path d="M414.1,705.3 414.1,702.2 415.1,700.5" fill="none" stroke="#06090f" stroke-width="1.5" stroke-linecap="round"/><path d="M469.5,696.5 472.6,696.9 473.6,697.1" fill="none" stroke="#06090f" stroke-width="1.5" stroke-linecap="round"/><path d="M464.4,698.4 465.4,697.1" fill="none" stroke="#06090f" stroke-width="1.4" stroke-linecap="round"/><path d="M272.3,692.1 266.2,691.7" fill="none" stroke="#06090f" stroke-width="1.5" stroke-linecap="round"/><path d="M311.4,671.8 313.4,676.0 317.5,679.1 319.6,684.4 323.7,689.6 329.9,694.8" fill="none" stroke="#06090f" stroke-width="1.6" stroke-linecap="round"/><path d="M381.2,674.9 377.1,672.9 379.2,670.8 383.3,668.7" fill="none" stroke="#06090f" stroke-width="1.5" stroke-linecap="round"/><path d="M672.7,788.4 673.3,792.2 674.9,794.0 677.0,794.9 680.1,795.9 681.5,797.0 683.2,799.1 683.8,801.6 684.8,802.6" fill="none" stroke="#06090f" stroke-width="1.4" stroke-linecap="round"/><path d="M676.0,796.3 678.0,798.4 679.0,800.9 679.7,803.2" fill="none" stroke="#06090f" stroke-width="1.3" stroke-linecap="round"/><path d="M473.6,743.0 475.7,744.0 477.7,745.1 479.8,745.5 481.9,746.1" fill="none" stroke="#06090f" stroke-width="1.3" stroke-linecap="round"/><path d="M457.2,729.4 460.3,731.9 463.0,733.1" fill="none" stroke="#06090f" stroke-width="1.2" stroke-linecap="round"/><path d="M687.3,829.4 690.3,830.0 694.4,829.8" fill="none" stroke="#06090f" stroke-width="1.3" stroke-linecap="round"/><path d="M622.6,811.4 625.6,817.3 629.7,822.5 632.8,827.7 636.9,831.9" fill="none" stroke="#06090f" stroke-width="1.3" stroke-linecap="round"/><circle cx="72.3" cy="851.2" r="1.1" fill="#0a0a0a" stroke="none"/><circle cx="73.5" cy="851.6" r="0.9" fill="#0a0a0a" stroke="none"/><circle cx="75.8" cy="852.4" r="0.8" fill="#0a0a0a" stroke="none"/><circle cx="66.5" cy="866.9" r="1.1" fill="#0a0a0a" stroke="none"/><circle cx="68.4" cy="863.9" r="0.8" fill="#0a0a0a" stroke="none"/><circle cx="69.0" cy="861.6" r="0.8" fill="#0a0a0a" stroke="none"/><circle cx="58.7" cy="860.2" r="0.8" fill="#0a0a0a" stroke="none"/><circle cx="59.4" cy="858.7" r="0.8" fill="#0a0a0a" stroke="none"/><circle cx="61.0" cy="883.8" r="0.8" fill="#0a0a0a" stroke="none"/><circle cx="63.9" cy="914.6" r="1.1" fill="#0a0a0a" stroke="none"/><circle cx="73.7" cy="828.4" r="0.8" fill="#0a0a0a" stroke="none"/><circle cx="68.0" cy="831.9" r="0.8" fill="#0a0a0a" stroke="none"/><circle cx="103.1" cy="818.5" r="1.1" fill="#0a0a0a" stroke="none"/><circle cx="99.0" cy="814.3" r="0.8" fill="#0a0a0a" stroke="none"/><circle cx="117.9" cy="843.4" r="0.8" fill="#0a0a0a" stroke="none"/><circle cx="98.2" cy="866.9" r="0.9" fill="#0a0a0a" stroke="none"/><circle cx="98.2" cy="862.1" r="0.8" fill="#0a0a0a" stroke="none"/><circle cx="91.2" cy="850.3" r="0.8" fill="#0a0a0a" stroke="none"/><circle cx="101.9" cy="841.3" r="0.8" fill="#0a0a0a" stroke="none"/><circle cx="95.7" cy="844.3" r="0.8" fill="#0a0a0a" stroke="none"/><circle cx="77.4" cy="862.4" r="0.9" fill="#0a0a0a" stroke="none"/><circle cx="73.5" cy="841.8" r="0.7" fill="#0a0a0a" stroke="none"/><circle cx="64.5" cy="850.3" r="0.8" fill="#0a0a0a" stroke="none"/><circle cx="794.5" cy="840.3" r="0.8" fill="#0a0a0a" stroke="none"/><circle cx="793.4" cy="838.2" r="0.7" fill="#0a0a0a" stroke="none"/><circle cx="781.7" cy="819.6" r="0.8" fill="#0a0a0a" stroke="none"/><circle cx="785.2" cy="825.2" r="0.8" fill="#0a0a0a" stroke="none"/><circle cx="781.5" cy="816.2" r="0.8" fill="#0a0a0a" stroke="none"/><circle cx="769.2" cy="823.5" r="0.8" fill="#0a0a0a" stroke="none"/><circle cx="778.0" cy="807.6" r="0.8" fill="#0a0a0a" stroke="none"/><circle cx="770.9" cy="804.3" r="0.8" fill="#0a0a0a" stroke="none"/><circle cx="774.6" cy="801.2" r="0.7" fill="#0a0a0a" stroke="none"/><circle cx="772.9" cy="810.2" r="0.7" fill="#0a0a0a" stroke="none"/><circle cx="751.3" cy="808.1" r="0.9" fill="#0a0a0a" stroke="none"/><circle cx="761.2" cy="811.4" r="0.8" fill="#0a0a0a" stroke="none"/><circle cx="738.2" cy="807.0" r="0.8" fill="#0a0a0a" stroke="none"/><circle cx="710.1" cy="802.6" r="0.8" fill="#0a0a0a" stroke="none"/><circle cx="702.7" cy="807.0" r="1.1" fill="#0a0a0a" stroke="none"/><circle cx="723.8" cy="794.3" r="1.1" fill="#0a0a0a" stroke="none"/><circle cx="725.7" cy="790.9" r="0.8" fill="#0a0a0a" stroke="none"/><circle cx="725.9" cy="784.6" r="0.7" fill="#0a0a0a" stroke="none"/><circle cx="725.7" cy="787.5" r="0.7" fill="#0a0a0a" stroke="none"/><circle cx="767.2" cy="844.9" r="0.8" fill="#0a0a0a" stroke="none"/><circle cx="772.1" cy="859.5" r="0.8" fill="#0a0a0a" stroke="none"/><circle cx="774.3" cy="863.3" r="0.8" fill="#0a0a0a" stroke="none"/><circle cx="773.7" cy="861.8" r="0.8" fill="#0a0a0a" stroke="none"/><circle cx="293.3" cy="754.9" r="0.9" fill="#0a0a0a" stroke="none"/><circle cx="201.7" cy="879.2" r="0.8" fill="#0a0a0a" stroke="none"/><circle cx="264.5" cy="892.8" r="0.8" fill="#0a0a0a" stroke="none"/><circle cx="718.5" cy="765.8" r="0.7" fill="#0a0a0a" stroke="none"/><circle cx="412.0" cy="692.7" r="0.8" fill="#0a0a0a" stroke="none"/><circle cx="790.6" cy="848.7" r="0.7" fill="#0a0a0a" stroke="none"/><circle cx="755.0" cy="932.4" r="0.2" fill="#0a0a0a" stroke="none"/></g><clipPath id="c0_639"><rect x="20.2" y="1039.1" width="195.0" height="140.0"/></clipPath><g clip-path="url(#c0_639)" stroke="#000" stroke-width="0.9" stroke-linejoin="round"><path d="M-144.9,922.4 10.8,922.4 23.0,924.7 34.0,927.0 41.8,928.1 48.5,926.4 61.7,932.7 70.1,936.7 75.6,939.5 82.8,943.5 81.7,956.6 78.4,960.6 81.1,962.8 100.5,957.7 100.5,954.9 114.4,953.2 115.5,949.8 124.3,945.2 142.1,945.2 148.7,939.5 154.8,931.5 162.6,933.2 162.6,941.2 166.5,944.6 167.0,946.3 158.7,949.2 149.3,953.2 146.0,958.3 147.1,962.3 150.4,963.4 150.4,965.1 143.2,965.1 136.5,966.8 129.3,968.5 139.3,968.5 128.8,970.8 127.1,976.5 123.2,979.3 119.9,976.5 122.1,982.2 119.4,985.6 117.1,990.2 115.5,982.2 114.4,989.0 117.1,991.3 118.8,996.4 119.9,1000.4 114.4,1003.8 106.6,1007.8 98.9,1012.4 89.4,1019.2 87.2,1028.3 91.7,1039.1 95.0,1048.8 93.9,1057.3 88.9,1058.4 85.0,1051.6 80.0,1043.1 79.5,1036.3 72.8,1030.0 65.6,1032.3 59.0,1028.3 50.7,1028.9 42.4,1029.4 42.9,1035.7 34.6,1035.7 28.5,1033.4 18.5,1032.3 13.0,1034.0 3.6,1039.7 -1.4,1044.8 -0.3,1053.9 -10.8,1051.1 -13.0,1044.8 -17.5,1040.2 -23.6,1031.7 -29.7,1031.7 -33.5,1036.3 -40.7,1032.8 -43.0,1027.1 -51.8,1020.3 -61.2,1020.3 -61.2,1023.2 -76.7,1023.2 -97.2,1015.2 -110.5,1016.3 -118.3,1007.8 -129.9,1004.4 -137.1,993.0 -140.5,986.2 -147.7,977.6 -150.4,971.4 -149.9,963.4 -151.5,957.7 -148.8,948.0 -148.8,937.8 -152.6,925.8 -143.2,927.0 -140.5,932.1 -139.3,926.4Z" fill="#033D68"/><path d="M-110.5,1016.3 -107.8,1022.0 -104.4,1027.7 -100.0,1034.5 -94.5,1040.8 -94.5,1043.1 -98.9,1043.1 -94.5,1047.1 -90.6,1049.3 -84.5,1053.3 -83.4,1059.0 -82.3,1061.9 -76.7,1065.8 -71.2,1071.0 -68.4,1068.7 -72.9,1063.0 -75.6,1059.0 -78.4,1053.3 -82.3,1047.6 -86.7,1043.1 -87.8,1038.0 -93.4,1031.7 -97.2,1027.7 -97.8,1020.3 -87.8,1023.7 -85.1,1030.6 -83.4,1035.1 -77.9,1041.9 -74.0,1043.1 -67.9,1050.5 -60.1,1059.0 -51.8,1068.7 -47.4,1073.2 -45.2,1078.9 -46.3,1085.2 -40.7,1092.6 -35.2,1097.1 -26.9,1098.9 -21.3,1103.4 -15.8,1104.5 -7.5,1108.5 -2.0,1110.8 6.4,1111.9 14.7,1109.1 18.5,1111.4 27.4,1118.8 27.4,1114.8 30.2,1109.7 36.8,1109.7 31.8,1103.4 34.0,1100.0 44.0,1100.0 49.0,1096.0 52.3,1097.1 53.4,1090.3 54.0,1085.8 57.3,1080.6 53.4,1078.9 47.9,1078.9 37.9,1081.8 36.8,1088.6 31.3,1096.0 25.7,1095.4 14.7,1097.7 7.5,1094.3 4.7,1091.5 -0.9,1081.8 -3.6,1073.2 -3.1,1064.7 -0.3,1053.9 -10.8,1051.1 -13.0,1044.8 -17.5,1040.2 -23.6,1031.7 -29.7,1031.7 -33.5,1036.3 -40.7,1032.8 -43.0,1027.1 -51.8,1020.3 -61.2,1020.3 -61.2,1023.2 -76.7,1023.2 -97.2,1015.2Z" fill="#D8554E"/><path d="M27.4,1118.8 27.4,1114.8 30.2,1109.7 36.8,1109.7 31.8,1103.4 34.0,1100.0 44.0,1100.0 44.0,1110.8 45.7,1110.8 49.6,1111.9 44.0,1116.5 42.9,1119.3 39.0,1123.0 32.4,1122.2Z" fill="#F3C200"/><path d="M44.0,1100.0 44.6,1098.9 49.0,1096.0 50.1,1101.7 49.0,1107.4 45.7,1110.8 44.0,1110.8Z" fill="#8A8A8A"/><path d="M39.0,1123.0 42.9,1119.3 47.9,1121.6 52.3,1122.8 51.8,1126.2 47.9,1126.5 43.5,1124.8Z" fill="#8A8A8A"/><path d="M44.0,1116.5 49.6,1111.9 53.4,1111.4 61.7,1110.8 67.3,1110.8 72.8,1111.9 77.3,1115.9 70.1,1117.6 66.2,1119.9 62.9,1122.2 57.9,1125.6 54.5,1127.3 51.8,1126.2 52.3,1122.8 47.9,1121.6 42.9,1119.3Z" fill="#F3C200"/><path d="M77.3,1115.9 75.6,1127.3 74.5,1133.6 74.5,1139.3 68.9,1138.7 63.4,1138.1 59.0,1133.0 52.9,1127.9 54.5,1127.3 57.9,1125.6 62.9,1122.2 66.2,1119.9 70.1,1117.6Z" fill="#F3C200"/><path d="M74.5,1139.3 78.4,1144.4 80.6,1146.7 78.9,1150.6 78.9,1155.2 75.0,1152.9 71.7,1147.8 68.4,1145.5 66.7,1146.7 62.9,1144.4 63.4,1138.1 68.9,1138.7Z" fill="#F3C200"/><path d="M80.6,1146.7 86.7,1151.2 95.0,1148.9 100.5,1147.2 106.6,1150.1 109.4,1151.8 110.5,1156.3 106.6,1160.3 104.4,1156.9 103.3,1153.5 97.8,1150.6 92.8,1154.6 95.0,1159.2 90.6,1160.3 88.3,1157.5 85.6,1155.2 78.9,1155.2 78.9,1150.6Z" fill="#F3C200"/><path d="M67.8,1076.7 72.8,1072.1 78.4,1070.4 81.1,1069.5 89.4,1069.8 95.0,1071.0 100.5,1073.8 108.8,1077.2 114.4,1080.6 118.8,1081.8 127.1,1086.3 119.9,1088.0 107.7,1088.3 110.5,1084.1 104.4,1082.9 101.6,1078.4 92.2,1077.2 85.0,1075.0 82.2,1072.7 75.6,1075.0ZM77.8,1078.4 80.6,1078.9 79.5,1076.7Z" fill="#F3C200"/><path d="M103.9,1097.1 108.8,1096.0 115.5,1098.3 112.2,1100.0 107.2,1099.4Z" fill="#8A8A8A"/><path d="M125.5,1096.6 131.0,1097.7 139.3,1097.7 141.0,1098.9 141.0,1089.2 134.9,1088.0 131.5,1088.6 134.9,1092.6 137.1,1095.4 131.0,1095.4Z" fill="#8A8A8A"/><path d="M141.0,1098.9 142.6,1101.1 147.6,1097.1 153.2,1096.6 159.2,1097.1 158.1,1093.7 153.2,1092.6 150.4,1089.2 141.0,1088.6Z" fill="#8A8A8A"/><path d="M165.9,1098.9 174.2,1098.9 174.8,1096.6 165.9,1096.0Z" fill="#8A8A8A"/><path d="M104.4,1059.0 107.7,1063.6 106.6,1058.4ZM107.2,1048.2 111.6,1051.1 110.5,1053.9 111.1,1050.5ZM101.1,1049.3 106.6,1049.3 103.9,1050.5ZM113.3,1056.2 116.0,1057.9 116.0,1060.7 114.9,1057.9ZM119.9,1062.4 121.0,1064.1 121.6,1069.3 123.2,1069.8 122.1,1066.4ZM129.9,1081.2 133.2,1080.6 132.7,1082.4ZM106.1,1061.9 108.3,1065.8 107.7,1062.4Z" fill="#8A8A8A"/><path d="M195.3,1143.8 200.2,1143.8 200.8,1139.8 196.4,1140.4Z" fill="#F3C200"/><path d="M195.8,1104.0 196.9,1104.5 196.4,1103.4ZM195.8,1108.5 199.1,1109.1 196.9,1110.2ZM197.5,1113.1 199.1,1114.2 198.0,1114.8ZM199.1,1117.1 201.4,1118.8 200.2,1119.3ZM199.7,1121.6 200.8,1123.3 200.2,1122.8ZM198.6,1125.6 199.7,1126.7 199.1,1126.2ZM207.4,1125.6 209.1,1126.7 208.0,1127.3ZM195.8,1131.9 196.9,1133.0 196.4,1132.4ZM188.6,1098.3 189.7,1098.9 189.2,1098.3ZM190.3,1102.3 191.9,1104.0 190.8,1103.4ZM178.6,1096.6 180.3,1097.1 179.2,1100.6 179.7,1100.0ZM154.8,1131.9 160.4,1131.9 156.5,1132.4ZM149.8,1129.6 150.9,1130.7 150.4,1130.2ZM181.4,1138.7 184.7,1138.7 183.6,1139.3ZM87.2,1091.5 88.9,1091.5 88.3,1091.2ZM139.3,1076.7 142.1,1077.8 141.0,1077.2Z" fill="#8A8A8A"/><path d="M128.2,1243.4 132.7,1238.3 134.3,1230.9 146.0,1225.2 150.9,1225.1 153.7,1207.6 150.4,1202.4 150.4,1197.9 153.2,1197.9 154.7,1195.7 151.5,1195.0 151.5,1191.6 162.0,1191.6 167.6,1194.5 170.9,1197.0 175.3,1196.7 183.6,1189.9 186.8,1188.2 182.0,1184.2 182.5,1178.0 190.3,1178.5 197.5,1176.3 201.9,1171.7 205.2,1171.7 208.0,1179.1 205.8,1185.9 206.9,1193.3 214.1,1193.9 225.2,1190.5 235.6,1188.2 239.0,1180.8 236.8,1172.8 239.0,1168.3 245.1,1171.1 251.8,1177.4 255.6,1179.1 258.4,1191.1 261.2,1196.2 259.6,1201.3 266.7,1202.4 267.1,1202.7 270.0,1203.0 269.5,1205.3 275.0,1204.7 288.9,1209.8 292.8,1215.5 298.3,1215.0 305.5,1217.2 316.6,1217.2 324.9,1222.4 332.1,1228.6 342.6,1230.9 345.4,1241.7 344.3,1251.9 336.0,1261.1 324.9,1275.3 322.1,1286.7 321.0,1300.9 317.7,1312.8 311.6,1325.4 306.1,1331.6 298.9,1332.2 290.5,1333.9 281.7,1337.9 272.3,1345.3 268.9,1352.1 268.4,1363.5 261.2,1370.9 255.6,1379.4 249.5,1384.5 242.3,1393.1 244.0,1387.4 239.6,1383.4 230.7,1377.1 227.9,1377.1 219.1,1373.2 229.6,1362.9 240.7,1355.5 240.1,1350.4 235.7,1347.0 237.3,1338.5 231.3,1337.9 229.0,1328.3 217.4,1327.1 215.8,1315.7 219.6,1303.8 215.2,1299.8 214.6,1294.1 204.7,1294.1 203.0,1279.8 195.8,1278.1 188.1,1273.0 181.4,1271.9 176.4,1266.7 175.8,1256.6 169.2,1257.6 158.7,1263.9 147.1,1263.9 147.0,1255.4 138.2,1258.2 133.8,1253.7Z" fill="#033D68"/><path d="M109.4,1151.8 112.7,1155.8 115.5,1150.1 119.4,1147.2 119.9,1141.5 123.8,1138.1 127.1,1137.0 133.8,1136.4 138.2,1133.6 141.0,1130.4 144.3,1131.9 143.2,1133.9 136.5,1138.7 133.8,1145.5 132.1,1148.9 136.5,1154.1 137.1,1159.2 139.3,1161.5 149.8,1161.5 153.7,1166.6 164.2,1166.0 162.6,1171.1 162.6,1177.4 165.3,1181.9 162.0,1185.4 165.9,1188.2 167.6,1194.5 162.0,1191.6 151.5,1191.6 151.5,1195.0 154.8,1195.6 153.2,1197.9 150.4,1197.9 150.4,1202.4 153.7,1207.6 150.9,1225.2 146.5,1222.9 149.8,1216.7 138.2,1215.0 132.7,1213.8 128.2,1207.0 121.0,1201.9 115.5,1199.0 109.4,1199.0 102.2,1194.5 101.6,1193.3 103.3,1187.1 108.8,1186.5 110.5,1179.7 108.8,1170.0 109.4,1163.2 106.6,1160.3 110.5,1156.3Z" fill="#F3C200"/><path d="M143.2,1133.9 139.9,1136.4 141.5,1139.3 138.8,1144.4 142.1,1149.5 144.8,1145.5 142.6,1139.3 149.3,1136.4 149.3,1133.0 150.4,1131.9 152.0,1135.8 159.2,1137.6 160.4,1141.0 172.5,1141.0 178.1,1143.8 182.5,1141.5 190.8,1140.4 195.3,1140.4 190.3,1142.1 193.0,1145.5 200.8,1148.4 200.2,1152.9 206.9,1154.1 201.9,1158.6 199.7,1163.2 198.0,1167.7 201.9,1171.7 197.5,1176.3 190.3,1178.5 182.5,1178.0 182.0,1184.2 186.9,1188.2 183.6,1189.9 175.3,1196.7 170.9,1197.0 167.6,1194.5 165.9,1188.2 162.0,1185.4 165.3,1181.9 162.6,1177.4 162.6,1171.1 164.2,1166.0 153.7,1166.6 149.8,1161.5 139.3,1161.5 137.1,1159.2 136.5,1154.1 132.1,1148.9 133.8,1145.5 136.5,1138.7Z" fill="#8A8A8A"/><path d="M206.9,1154.1 214.1,1159.8 215.2,1162.6 221.3,1167.1 220.7,1171.7 216.9,1178.5 225.2,1190.5 214.1,1193.9 206.9,1193.3 205.8,1185.9 208.0,1179.1 205.2,1171.7 201.9,1171.7 198.0,1167.7 199.7,1163.2 201.9,1158.6Z" fill="#8A8A8A"/></g><rect x="20.2" y="1039.1" width="195.0" height="140.0" fill="none" stroke="#2e2e2e" stroke-width="1.2"/><clipPath id="c1_639"><rect x="229.5" y="1039.1" width="130.0" height="140.0"/></clipPath><g clip-path="url(#c1_639)" stroke="#000" stroke-width="0.9" stroke-linejoin="round"><path d="M230.7,957.6 239.3,964.7 251.6,965.8 267.5,957.6 273.7,960.6 270.0,966.8 281.0,970.9 283.5,979.1 297.0,981.2 312.9,988.3 331.3,986.3 342.3,981.7 353.4,981.2 368.1,975.0 384.0,972.9 408.6,980.1 420.8,989.4 430.6,989.4 433.1,999.6 424.5,1012.9 424.5,1024.2 427.0,1041.7 439.2,1042.7 427.8,1058.5 439.2,1071.4 451.5,1075.5 451.5,1085.8 457.6,1091.9 440.4,1096.0 436.8,1106.3 411.0,1104.2 390.2,1101.2 380.3,1089.9 371.8,1086.3 352.1,1092.9 337.4,1090.9 325.2,1081.7 312.9,1078.6 304.3,1068.3 297.0,1056.0 288.4,1056.0 281.0,1052.9 276.7,1057.6 270.0,1051.9 270.0,1046.8 266.3,1042.7 267.5,1033.5 246.7,1026.3 238.1,1016.0 247.9,1004.7 238.1,995.5 230.7,983.2 224.6,970.9 220.9,960.6 225.8,960.6ZM359.5,1090.9 371.8,1088.3 366.9,1091.9Z" fill="#7CA8E0"/><path d="M201.3,984.2 230.7,983.2 238.1,995.5 247.9,1004.7 238.1,1016.0 246.7,1026.3 267.5,1033.5 266.3,1042.7 270.0,1046.8 270.0,1051.9 276.7,1057.6 269.4,1057.0 266.3,1056.0 262.6,1057.0 252.2,1066.3 229.5,1065.3 197.6,1045.8 176.8,1037.0 162.0,1035.0 157.1,1022.2 184.1,1011.9 186.6,999.6 193.9,989.4Z" fill="#8A8A8A"/><path d="M252.2,1066.3 262.6,1057.0 266.3,1056.0 269.4,1057.0 271.2,1063.2 274.9,1071.9 266.3,1071.9 263.8,1067.3Z" fill="#8A8A8A"/><path d="M109.9,1063.7 124.0,1065.3 141.2,1057.0 147.3,1051.9 135.1,1041.7 162.0,1035.0 176.8,1037.0 197.6,1045.8 229.5,1065.3 252.2,1066.3 263.8,1067.3 266.3,1071.9 274.9,1071.9 281.0,1081.7 295.7,1090.9 297.0,1102.2 304.3,1110.9 311.7,1112.4 314.1,1116.0 326.4,1129.4 357.0,1132.4 363.2,1139.1 355.8,1159.6 319.0,1172.9 282.2,1177.0 272.4,1181.2 263.8,1189.4 250.3,1187.8 235.6,1186.3 218.5,1186.3 211.1,1193.5 206.2,1196.5 198.8,1185.3 186.6,1172.9 178.0,1161.7 162.0,1149.4 159.6,1136.0 148.6,1118.6 137.5,1108.3 131.4,1098.1 117.9,1082.7 105.6,1076.5Z" fill="#F3C200"/><path d="M206.2,1196.5 211.1,1193.5 218.5,1186.3 235.6,1186.3 250.3,1187.8 263.8,1189.4 272.4,1181.2 282.2,1177.0 319.0,1172.9 332.5,1194.0 321.5,1204.7 284.7,1220.1 263.8,1227.3 234.4,1233.5 214.8,1235.0 211.1,1228.3 207.4,1211.9Z" fill="#8A8A8A"/><path d="M332.5,1194.0 319.0,1172.9 355.8,1159.6 363.2,1139.1 357.0,1132.4 358.3,1128.8 365.6,1116.5 371.8,1109.4 375.4,1113.5 382.8,1119.6 400.0,1122.7 414.7,1134.0 411.0,1145.3 398.7,1155.5 390.2,1157.6 388.9,1169.9 375.4,1175.0 362.0,1182.2 353.4,1190.4Z" fill="#F3C200"/><path d="M314.1,1116.0 326.4,1129.4 357.0,1132.4 358.3,1128.8 365.6,1116.5 371.8,1109.4 373.6,1100.1 369.3,1098.1 359.5,1105.3 348.5,1115.5 331.3,1117.0 317.8,1118.6Z" fill="#F3C200"/><path d="M304.3,1110.9 311.7,1112.4 314.1,1105.3 312.9,1098.6 309.2,1096.5 304.3,1102.2Z" fill="#F3C200"/><path d="M300.0,1096.0 302.5,1096.0 301.9,1099.6Z" fill="#F3C200"/></g><rect x="229.5" y="1039.1" width="130.0" height="140.0" fill="none" stroke="#2e2e2e" stroke-width="1.2"/><clipPath id="c2_639"><rect x="374.0" y="1039.1" width="142.7" height="140.0"/></clipPath><g clip-path="url(#c2_639)" stroke="#000" stroke-width="0.9" stroke-linejoin="round"><path d="M289.0,1172.5 303.3,1166.9 311.7,1162.7 322.8,1160.6 337.7,1161.3 351.9,1158.9 359.1,1159.6 357.1,1162.7 356.5,1173.2 351.9,1180.1 356.5,1185.7 361.7,1193.4 364.9,1205.9 367.5,1219.8 364.3,1233.8 368.2,1246.3 380.9,1253.3 351.9,1271.4 340.9,1281.1 330.9,1283.6 324.7,1284.6 324.1,1279.1 311.1,1272.8 310.8,1270.0 272.0,1242.8 247.1,1226.8 247.1,1217.1 257.9,1211.5 267.6,1208.7 274.8,1203.1 279.9,1196.9 294.9,1193.4 295.5,1189.9 292.3,1182.2 291.6,1176.0Z" fill="#8A8A8A"/><path d="M359.1,1159.6 366.9,1156.8 370.1,1159.9 375.3,1158.9 371.4,1164.1 372.1,1169.0 375.3,1171.8 368.8,1178.1 368.8,1180.8 375.3,1183.6 378.2,1186.1 377.9,1191.3 370.1,1196.2 370.1,1201.7 364.9,1205.9 361.7,1193.4 356.5,1185.7 351.9,1180.1 356.5,1173.2 357.1,1162.7Z" fill="#8A8A8A"/><path d="M503.7,931.5 517.3,933.6 536.8,935.7 562.8,944.7 570.5,951.7 566.0,955.2 553.0,956.6 530.3,953.8 514.1,949.6 527.1,958.7 529.0,967.7 543.3,971.9 549.8,965.6 566.0,967.4 562.8,960.7 575.7,954.5 588.7,955.9 588.7,944.7 584.2,939.1 601.7,943.3 601.7,951.0 614.6,945.4 627.6,942.6 647.1,941.2 656.8,941.9 673.0,939.1 689.2,940.5 695.7,937.8 695.7,930.8 721.7,934.3 734.6,937.1 737.9,939.1 747.6,934.3 737.9,929.4 736.6,922.4 747.6,909.9 757.3,906.4 775.5,909.9 773.6,922.4 778.7,932.9 773.6,943.3 770.3,953.8 783.3,946.8 786.5,936.4 780.0,922.4 789.8,912.0 809.2,912.7 828.7,915.5 841.7,925.9 844.9,916.9 825.5,905.0 867.6,894.6 900.0,887.6 939.0,884.1 977.9,875.8 997.3,880.6 1029.8,884.1 1039.5,891.1 1016.8,898.1 990.9,905.0 1016.8,902.2 1036.3,903.6 1075.2,908.5 1107.6,903.6 1127.1,905.0 1143.3,912.0 1140.0,922.4 1153.0,923.8 1166.0,918.3 1191.9,919.6 1211.4,912.0 1243.8,912.0 1276.3,918.3 1292.5,923.1 1334.6,929.4 1347.6,932.9 1373.5,932.2 1393.0,929.4 1409.2,930.1 1409.2,936.4 1425.4,930.8 1451.4,932.9 1470.8,937.1 1470.8,964.2 1461.1,967.0 1454.6,965.6 1466.3,978.9 1465.7,983.0 1438.4,987.2 1419.0,993.5 1407.9,999.7 1380.0,999.1 1367.1,1000.4 1360.6,1013.0 1354.1,1014.4 1362.5,1025.5 1352.8,1034.6 1341.1,1046.4 1331.4,1048.5 1319.7,1061.7 1315.2,1051.3 1311.9,1033.9 1315.2,1019.9 1324.9,1013.0 1339.8,1002.5 1350.8,995.6 1365.1,987.9 1360.6,981.6 1341.1,987.2 1319.7,990.0 1305.4,1001.1 1289.2,1006.0 1281.4,1002.5 1263.3,1003.9 1230.8,1003.9 1211.4,1016.5 1195.2,1030.4 1180.3,1036.0 1195.2,1042.2 1208.1,1039.4 1219.8,1047.1 1214.6,1061.7 1214.6,1079.1 1201.7,1093.1 1185.4,1108.4 1167.3,1118.9 1159.5,1116.8 1151.1,1122.3 1150.4,1120.2 1153.7,1114.0 1155.0,1104.2 1166.0,1102.8 1172.5,1086.8 1177.0,1080.5 1166.0,1083.3 1153.0,1084.7 1150.4,1076.4 1133.6,1071.5 1130.3,1067.0 1120.6,1049.2 1103.1,1044.0 1087.5,1045.7 1081.7,1050.6 1086.2,1054.8 1075.2,1068.0 1067.4,1072.2 1060.3,1069.7 1052.5,1067.3 1044.7,1066.6 1029.8,1072.9 1007.1,1073.6 994.1,1066.6 971.4,1066.6 966.9,1059.6 945.4,1054.8 939.0,1058.3 939.0,1068.7 919.5,1068.7 903.3,1063.1 887.1,1068.0 872.8,1074.3 869.6,1075.0 857.9,1071.5 844.9,1061.7 822.2,1063.1 808.6,1045.7 799.5,1039.4 780.0,1044.3 763.8,1039.4 763.2,1031.8 750.9,1031.1 726.9,1038.1 700.9,1041.5 698.3,1051.3 702.2,1059.6 689.2,1064.5 666.5,1061.7 656.8,1061.7 637.3,1056.9 632.8,1057.6 617.9,1068.0 608.2,1067.3 606.9,1078.5 616.6,1085.4 621.1,1093.1 614.6,1096.6 610.1,1103.5 606.9,1107.0 611.4,1117.5 617.9,1125.5 614.0,1130.0 604.3,1125.1 595.2,1119.5 587.4,1119.5 579.0,1116.1 562.8,1114.7 553.0,1107.7 545.9,1105.6 541.3,1102.1 546.5,1098.7 549.8,1093.1 558.2,1088.9 551.1,1088.9 561.5,1083.7 561.5,1078.5 563.4,1071.5 549.8,1069.4 534.2,1065.9 526.4,1060.0 522.5,1052.3 509.6,1054.1 507.0,1046.4 515.4,1045.0 506.3,1039.4 503.1,1035.3 503.7,1029.7 494.0,1028.3 486.2,1025.5 483.6,1017.9 481.0,1016.1 481.7,1014.4 481.0,1007.4 485.6,1003.2 484.9,1001.1 491.4,999.4 499.2,999.7 491.4,997.7 488.2,995.6 483.6,995.2 491.4,990.7 497.9,985.8 505.7,981.6 508.3,978.9 497.9,973.3 501.1,969.8 495.9,964.9 497.2,959.3 492.1,951.0 497.9,945.4 488.8,941.9 488.2,937.1 490.8,936.0Z" fill="#033D68"/><path d="M350.0,1046.4 348.7,1042.9 355.2,1043.6 359.1,1041.5 361.7,1040.8 359.1,1034.6 364.9,1035.3 368.2,1037.4 374.6,1038.1 374.6,1040.8 381.1,1039.4 384.4,1037.4 390.9,1036.7 395.4,1041.5 396.1,1047.8 398.6,1054.1 398.0,1058.3 400.6,1061.7 396.1,1061.7 387.6,1065.2 381.8,1066.6 384.4,1070.1 392.8,1077.1 390.9,1078.5 386.3,1081.2 387.6,1085.4 382.4,1085.4 371.4,1086.1 365.6,1086.1 359.1,1084.7 352.6,1085.4 356.5,1075.7 344.2,1072.2 345.5,1070.1 342.9,1068.0 344.8,1066.6 342.2,1063.1 343.5,1059.0 342.2,1055.5 346.8,1054.1 348.7,1050.6Z" fill="#033D68"/><path d="M365.6,1086.1 371.4,1086.1 382.4,1085.4 387.6,1085.4 386.3,1081.2 390.9,1078.5 392.8,1077.1 398.6,1078.5 399.9,1075.7 412.9,1078.5 414.2,1081.9 410.3,1084.7 407.7,1090.3 398.0,1093.8 392.2,1093.1 383.7,1091.7 382.4,1089.2 374.6,1091.0 370.8,1090.3 364.9,1088.9Z" fill="#033D68"/><path d="M351.9,1111.9 348.7,1109.1 346.8,1102.8 348.7,1097.3 354.5,1097.3 357.8,1093.8 361.7,1098.0 363.6,1093.8 368.8,1095.2 370.8,1093.1 370.8,1090.3 374.6,1091.0 382.4,1089.2 383.7,1091.7 392.2,1093.1 390.2,1095.2 391.5,1098.0 392.8,1099.3 388.3,1098.7 383.1,1101.4 383.7,1108.4 391.5,1114.0 395.4,1121.6 401.9,1125.1 408.4,1125.1 406.4,1127.9 413.6,1131.4 423.3,1137.7 422.6,1139.7 419.4,1136.3 413.6,1134.9 411.0,1140.4 414.2,1145.3 410.3,1149.5 407.1,1153.0 404.8,1150.9 408.4,1145.3 405.1,1138.4 399.9,1136.3 396.7,1133.5 391.5,1130.0 383.1,1126.5 375.3,1121.6 371.4,1117.5 369.5,1111.2 361.0,1107.7 355.8,1111.2ZM383.7,1152.3 389.6,1150.9 404.5,1150.2 401.2,1161.3 396.1,1159.2 384.4,1155.1Z" fill="#033D68"/><path d="M396.1,1166.2 398.0,1166.9 396.7,1167.6Z" fill="#033D68"/><path d="M439.8,1026.2 451.8,1024.1 464.8,1024.1 465.5,1024.8 475.8,1029.0 477.1,1031.8 470.6,1034.6 469.3,1038.8 461.6,1041.5 455.7,1041.2 455.1,1039.4 451.2,1038.1 449.9,1033.9 441.5,1032.1 439.5,1031.8 440.2,1029.0Z" fill="#7CA8E0"/><path d="M455.7,1041.2 461.6,1041.5 469.3,1038.8 470.6,1034.6 477.1,1031.8 475.8,1029.0 482.3,1028.3 486.2,1025.5 494.0,1028.3 503.7,1029.7 503.1,1035.3 506.3,1039.4 515.4,1045.0 507.0,1046.4 509.6,1054.1 501.8,1059.6 493.3,1059.0 479.7,1057.6 465.5,1055.5 456.4,1058.3 457.0,1054.1 453.8,1052.7 458.3,1049.9Z" fill="#7CA8E0"/><path d="M395.4,1041.5 408.4,1038.8 420.1,1035.3 423.9,1038.1 430.4,1037.7 451.2,1038.1 455.1,1039.4 455.7,1041.2 458.3,1049.9 453.8,1052.7 457.0,1054.1 456.4,1058.3 459.6,1063.1 452.5,1069.4 449.9,1075.0 439.5,1072.9 433.0,1074.3 426.5,1072.2 425.2,1072.2 420.1,1068.7 412.9,1065.9 409.0,1064.5 400.6,1061.7 398.0,1058.3 398.6,1054.1 396.1,1047.8Z" fill="#033D68"/><path d="M381.8,1066.6 387.6,1065.2 396.1,1061.7 400.6,1061.7 409.0,1064.5 412.9,1065.9 420.1,1068.7 425.2,1072.2 420.7,1075.0 414.9,1077.1 412.9,1078.5 399.9,1075.7 398.6,1078.5 392.8,1077.1 384.4,1070.1Z" fill="#7CA8E0"/><path d="M412.9,1078.5 414.9,1077.1 420.7,1075.0 425.2,1072.2 426.5,1072.2 433.0,1074.3 439.5,1072.9 449.9,1075.0 446.6,1079.8 442.8,1079.1 436.3,1079.1 429.8,1081.2 425.2,1084.0 418.8,1084.4 414.2,1081.9Z" fill="#7CA8E0"/><path d="M407.7,1090.3 410.3,1084.7 414.2,1081.9 418.8,1084.4 425.2,1084.0 429.8,1081.2 436.3,1079.1 442.8,1079.1 446.6,1079.8 451.8,1082.6 446.0,1086.8 440.8,1093.8 435.0,1095.5 425.9,1097.3 418.1,1096.9 411.0,1093.1 409.7,1091.7Z" fill="#7CA8E0"/><path d="M392.2,1093.1 398.0,1093.8 407.7,1090.3 409.7,1091.7 411.0,1093.1 405.1,1095.2 402.5,1100.0 398.0,1100.0 391.5,1100.4 392.8,1099.3 391.5,1098.0 390.2,1095.2Z" fill="#7CA8E0"/><path d="M391.5,1100.4 398.0,1100.0 402.5,1100.0 405.1,1095.2 411.0,1093.1 418.1,1096.9 425.9,1097.3 429.1,1102.1 426.5,1104.2 413.6,1102.1 409.0,1103.5 405.8,1102.1 405.8,1105.6 408.4,1109.1 417.5,1117.1 423.0,1120.6 423.3,1121.6 417.5,1118.2 410.3,1114.0 401.9,1109.1 399.9,1102.8 396.1,1101.4 393.5,1104.9ZM396.1,1102.1 399.3,1106.3 397.4,1106.3ZM409.7,1115.4 414.9,1116.8 411.0,1116.4Z" fill="#7CA8E0"/><path d="M405.8,1102.1 409.0,1103.5 413.6,1102.1 426.5,1104.2 430.4,1110.5 427.8,1114.0 424.6,1116.1 423.0,1120.6 417.5,1117.1 408.4,1109.1 405.8,1105.6Z" fill="#7CA8E0"/><path d="M423.0,1120.6 424.6,1116.1 427.8,1114.0 435.0,1118.9 433.0,1120.2 429.1,1125.5 423.3,1121.6Z" fill="#7CA8E0"/><path d="M425.9,1097.3 435.0,1095.5 442.8,1102.1 442.1,1104.9 449.2,1105.6 450.5,1109.1 448.6,1110.5 452.5,1116.1 448.6,1122.3 443.4,1122.7 444.7,1119.5 440.2,1116.1 436.9,1116.1 435.0,1118.9 427.8,1114.0 430.4,1110.5 426.5,1104.2 429.1,1102.1Z" fill="#7CA8E0"/><path d="M435.0,1118.9 436.9,1116.1 440.2,1116.1 444.7,1119.5 443.4,1122.7 438.2,1123.7 436.3,1123.0 433.0,1120.2Z" fill="#FFFFFF"/><path d="M435.9,1127.9 436.3,1123.0 438.2,1123.7 443.4,1122.7 448.6,1122.3 452.5,1126.5 451.8,1129.0 446.0,1130.3 439.4,1132.4Z" fill="#7CA8E0"/><path d="M429.1,1125.5 433.0,1120.2 436.3,1123.0 435.9,1127.9 439.4,1132.4 437.6,1137.7 433.0,1140.4 429.1,1136.3 429.1,1128.6Z" fill="#7CA8E0"/><path d="M433.0,1140.4 437.6,1137.7 439.4,1132.4 446.0,1130.3 451.8,1129.0 462.2,1127.9 466.8,1129.6 472.6,1129.0 473.9,1126.5 475.8,1129.3 473.9,1131.7 471.9,1132.8 466.1,1131.7 461.6,1131.7 457.7,1133.1 461.6,1137.3 458.3,1135.6 459.0,1138.7 456.4,1136.6 457.0,1138.8 454.4,1136.6 451.8,1134.2 449.9,1135.2 449.9,1138.4 451.8,1141.1 454.8,1143.9 452.2,1143.2 451.5,1146.0 453.1,1147.8 456.4,1148.8 459.3,1151.2 459.3,1154.7 456.7,1152.6 453.1,1152.3 451.8,1150.9 448.6,1149.8 444.4,1149.8 440.2,1150.2 437.9,1146.0 440.2,1145.0 437.6,1144.6 434.3,1141.5ZM452.8,1152.3 453.8,1155.1 455.7,1156.1 451.2,1155.4 452.2,1159.2 453.8,1163.1 451.2,1160.6 449.2,1163.4 447.0,1159.2 445.3,1161.0 443.4,1157.9 440.2,1153.3 441.8,1150.9 445.0,1150.2 448.6,1151.2 451.8,1152.6ZM455.9,1171.2 456.4,1168.9 459.0,1169.6 461.2,1170.7 465.5,1170.3 470.3,1170.7 473.9,1171.1 473.6,1172.8 468.7,1173.2 463.8,1173.7 459.0,1171.9ZM452.5,1146.4 454.4,1145.3 459.6,1147.8 462.9,1151.2 462.5,1152.6 460.3,1151.6 456.4,1149.5 453.8,1147.4ZM471.0,1143.9 473.2,1142.5 475.8,1145.0 472.9,1145.5ZM471.0,1148.5 472.9,1148.5 472.6,1150.9 471.3,1150.5ZM475.8,1153.7 478.8,1154.0 477.1,1154.7ZM483.0,1165.2 486.2,1163.1 485.6,1165.9 483.3,1166.9ZM478.1,1159.9 480.4,1160.3 479.1,1161.3ZM465.8,1138.7 468.4,1139.1 467.1,1139.7ZM462.5,1133.1 463.8,1133.5 463.2,1134.2ZM468.4,1134.9 470.0,1135.2 469.0,1135.6ZM462.2,1145.7 463.2,1146.7 462.2,1147.1ZM463.5,1152.6 465.1,1154.0 464.2,1154.4ZM465.8,1154.7 467.1,1155.4 466.1,1155.8ZM468.1,1158.2 469.3,1158.6 468.7,1159.6ZM466.1,1158.6 467.4,1158.9 466.8,1159.6ZM461.2,1161.0 462.2,1161.3 461.6,1161.7ZM467.7,1163.1 468.7,1163.4 468.1,1163.8ZM470.6,1159.9 471.9,1160.3 471.3,1160.6ZM472.3,1154.7 474.2,1155.1 473.2,1155.4ZM479.1,1167.3 479.7,1169.7 478.8,1170.0ZM451.8,1164.1 453.1,1164.5 452.5,1165.2ZM437.2,1153.3 439.2,1154.0 438.2,1154.7ZM435.6,1149.8 437.9,1150.9 436.6,1151.9ZM436.9,1146.7 437.9,1147.4 436.9,1148.1ZM430.8,1139.7 433.7,1142.2 432.1,1142.5ZM473.9,1162.0 474.9,1162.4 474.2,1162.7ZM464.5,1155.8 465.1,1156.5 464.5,1156.6ZM467.4,1155.8 468.4,1156.1 467.7,1156.5ZM460.9,1154.7 461.6,1155.4 460.9,1155.8ZM461.6,1156.1 461.9,1156.8 461.2,1157.0ZM478.1,1158.9 478.8,1159.6 478.1,1159.7ZM455.1,1154.0 456.1,1154.2 455.4,1154.5ZM455.7,1144.3 457.3,1143.9 458.3,1144.6 456.4,1144.6Z" fill="#033D68"/><path d="M448.6,1122.3 452.5,1116.1 448.6,1110.5 450.5,1109.1 459.0,1112.6 468.7,1112.9 478.4,1109.8 488.8,1112.2 484.3,1119.5 484.9,1124.4 478.4,1124.1 473.9,1126.5 462.2,1127.9 451.8,1129.0 452.5,1126.5Z" fill="#7CA8E0"/><path d="M435.0,1095.5 440.8,1093.8 446.0,1086.8 451.8,1082.6 462.2,1083.0 475.8,1080.9 481.7,1086.1 486.2,1093.1 486.2,1100.4 495.9,1101.4 495.3,1104.9 488.8,1112.2 478.4,1109.8 468.7,1112.9 459.0,1112.6 450.5,1109.1 449.2,1105.6 442.1,1104.9 442.8,1102.1Z" fill="#7CA8E0"/><path d="M475.8,1080.9 483.0,1079.5 492.1,1083.0 498.5,1093.8 490.8,1093.4 486.2,1100.4 486.2,1093.1 481.7,1086.1Z" fill="#7CA8E0"/><path d="M446.6,1079.8 449.9,1075.0 452.5,1069.4 459.6,1063.1 456.4,1058.3 465.5,1055.5 479.7,1057.6 493.3,1059.0 501.8,1059.6 509.6,1054.1 522.5,1052.3 526.4,1060.0 534.2,1065.9 549.8,1069.4 563.4,1071.5 561.5,1078.5 561.5,1083.7 551.1,1088.9 541.3,1091.7 530.3,1095.9 530.3,1098.7 540.1,1100.7 532.9,1103.5 523.8,1107.7 519.9,1106.3 514.1,1101.1 520.6,1098.0 521.2,1095.9 517.3,1095.9 509.6,1092.4 502.4,1093.1 495.9,1101.4 486.2,1100.4 490.8,1093.4 498.5,1093.8 492.1,1083.0 483.0,1079.5 475.8,1080.9 462.2,1083.0 451.8,1082.6Z" fill="#033D68"/><path d="M492.7,1130.0 506.3,1130.7 519.3,1124.4 530.3,1124.1 540.1,1129.3 549.8,1131.4 562.8,1131.4 572.5,1127.9 579.0,1128.3 585.5,1130.7 586.8,1137.7 593.9,1140.4 591.3,1142.5 588.7,1142.5 590.6,1149.5 593.9,1157.9 578.3,1158.6 567.3,1158.6 555.0,1161.3 543.3,1161.3 541.3,1164.5 538.1,1167.3 538.1,1162.0 533.6,1162.0 527.7,1160.6 521.9,1165.2 516.1,1166.1 504.4,1160.3 501.1,1164.1 495.3,1164.8 486.9,1160.6 481.0,1159.2 479.7,1153.0 473.9,1150.2 477.8,1148.8 476.5,1143.2 472.6,1141.8 473.2,1138.0 476.5,1135.6 481.7,1136.3 491.4,1135.6 497.2,1133.1 492.1,1131.4ZM471.9,1132.8 475.8,1129.3 473.9,1126.5 478.4,1124.1 484.9,1124.4 490.8,1129.3 491.4,1131.0 481.7,1131.7 477.1,1134.2 473.2,1137.7 477.1,1133.5Z" fill="#F3C200"/><path d="M512.8,1172.8 517.3,1170.7 527.7,1168.3 523.2,1172.8 517.3,1176.0 513.5,1174.9Z" fill="#033D68"/></g><rect x="374.0" y="1039.1" width="142.7" height="140.0" fill="none" stroke="#2e2e2e" stroke-width="1.2"/><clipPath id="c3_639"><rect x="532.1" y="1038.9" width="156.0" height="140.2"/></clipPath><g clip-path="url(#c3_639)" stroke="#000" stroke-width="0.9" stroke-linejoin="round"><path d="M375.0,936.2 377.8,939.7 386.6,941.8 379.4,946.0 385.0,955.8 390.5,957.2 397.2,953.7 399.4,946.7 399.4,951.6 400.5,969.1 403.3,986.6 407.7,998.5 411.6,1011.8 417.2,1023.7 420.0,1035.6 426.6,1045.5 430.5,1039.8 436.1,1037.0 439.7,1030.0 439.4,1018.8 442.2,1010.4 441.1,995.7 447.2,990.1 453.3,985.2 458.8,978.2 468.3,967.0 476.6,960.7 479.4,951.6 485.5,950.9 491.0,950.2 489.9,939.7 488.8,932.0 485.5,929.2 486.6,921.5 487.1,916.6 494.9,920.1 494.9,925.0 509.3,927.1 508.2,932.7 502.7,934.1 503.2,939.7 506.0,941.1 508.8,952.3 510.4,953.0 513.8,946.7 514.9,934.1 521.6,925.7 524.9,915.9 534.9,908.2 536.5,904.0 529.3,897.0 521.0,897.7 507.7,907.5 505.5,907.5 507.7,913.8 494.9,915.2 489.9,911.0 489.4,905.8 485.5,906.8 485.5,917.3 472.7,915.9 462.7,909.6 446.1,903.3 441.1,900.5 443.3,893.5 446.1,890.7 436.1,883.7 433.8,883.0 431.6,874.6 437.7,872.5 433.8,861.3 441.6,853.6 428.3,853.6 422.7,852.9 406.6,859.9 407.2,871.1 415.0,876.0 410.0,874.6 410.5,884.4 406.6,890.7 401.6,897.7 395.5,906.8 387.8,906.1 382.2,913.1 385.5,915.9 389.4,922.2 390.5,931.3 378.3,932.0Z" fill="#D8554E"/><path d="M543.5,1032.1 544.9,1027.2 549.3,1019.5 547.1,1009.7 541.5,996.4 543.8,988.0 537.1,972.6 540.4,964.2 552.1,959.7 554.9,965.6 558.7,965.6 557.1,977.5 563.2,974.7 569.9,973.3 577.6,980.3 578.2,987.3 582.6,993.6 580.4,1001.7 568.2,1002.4 564.9,1006.9 567.6,1020.6 563.7,1016.0 556.5,1013.2 556.8,1008.3 553.2,1007.6 551.5,1014.6 547.6,1026.5 547.6,1037.0 553.2,1043.3 554.9,1051.7 561.5,1054.5 563.2,1058.4 557.6,1062.2 552.1,1057.0 549.3,1051.7 542.6,1046.1 542.1,1039.1Z" fill="#D8554E"/><path d="M595.9,951.6 589.3,957.2 584.3,965.6 583.2,971.2 587.6,978.2 592.1,984.5 597.6,989.4 602.1,1000.6 603.7,1012.5 602.6,1020.2 595.4,1027.2 590.4,1030.0 587.6,1034.9 581.0,1040.5 577.9,1041.9 578.7,1033.5 576.2,1029.3 579.8,1025.5 586.0,1025.1 584.3,1020.2 593.2,1016.0 593.2,999.2 593.2,990.8 587.6,983.1 580.4,971.9 573.7,966.3 578.7,960.0 573.2,955.8 567.6,950.2 563.5,945.3 568.2,944.6 573.2,944.6 578.2,942.5 581.5,939.0 588.2,941.8 590.4,948.1Z" fill="#D8554E"/><path d="M552.1,1057.0 557.6,1062.2 563.2,1058.4 570.4,1068.5 570.4,1077.6 574.8,1092.3 571.0,1093.0 563.7,1086.7 558.7,1081.1 554.9,1072.7 553.2,1063.6ZM604.8,1088.1 613.7,1092.3 614.8,1085.3 623.7,1079.7 629.3,1070.6 629.8,1069.9 633.1,1074.1 635.9,1072.0 636.5,1067.8 638.1,1063.6 640.4,1060.1 644.2,1053.1 649.8,1057.3 658.1,1065.0 652.0,1072.0 649.2,1072.9 638.7,1072.7 637.6,1081.1 633.7,1088.8 627.0,1093.0 619.3,1091.6 610.4,1096.2 604.8,1093.0Z" fill="#D8554E"/><path d="M571.5,1092.3 573.7,1092.0 573.2,1093.4Z" fill="#FFFFFF"/><path d="M629.8,1069.9 634.2,1067.1 636.5,1067.8 635.9,1072.0 633.1,1074.1Z" fill="#7CA8E0"/><path d="M525.4,1062.9 537.7,1065.7 544.3,1075.5 553.8,1086.0 561.5,1090.2 570.4,1098.6 572.6,1109.1 577.1,1116.1 585.4,1123.1 584.3,1133.6 583.7,1143.1 577.1,1142.7 564.3,1130.1 556.5,1117.5 553.2,1108.4 546.0,1095.8 538.8,1084.6 530.4,1074.1ZM580.4,1149.7 585.4,1143.4 590.4,1143.8 598.7,1147.6 609.8,1150.4 612.6,1146.9 621.5,1150.4 632.0,1156.7 631.5,1163.0 622.0,1160.9 607.0,1157.4 595.9,1156.7 587.1,1153.9ZM604.8,1088.1 601.5,1091.6 601.5,1100.0 602.6,1108.4 607.0,1112.6 608.2,1122.4 616.5,1124.5 623.7,1125.2 632.0,1127.3 633.1,1131.2 640.4,1128.0 643.1,1119.6 643.1,1112.6 648.7,1107.0 648.7,1098.6 657.0,1095.1 650.9,1088.1 649.2,1079.7 649.2,1072.9 638.7,1072.7 637.6,1081.1 633.7,1088.8 627.0,1093.0 619.3,1091.6 610.4,1096.2 604.8,1093.0ZM661.5,1096.5 663.7,1093.0 668.1,1093.0 679.2,1095.1 689.2,1090.2 691.4,1091.6 687.0,1098.6 679.2,1098.6 669.8,1098.6 664.2,1099.3 662.6,1107.0 668.1,1111.2 672.0,1108.4 680.9,1107.7 681.4,1109.1 675.3,1113.3 672.0,1115.4 676.4,1124.5 678.7,1132.2 680.3,1135.0 676.4,1140.6 671.4,1135.7 669.8,1128.7 667.6,1121.0 664.2,1123.1 664.8,1140.6 659.8,1141.3 659.8,1126.6 655.9,1121.7 658.7,1111.2 661.5,1102.1ZM632.0,1159.5 635.9,1158.5 638.7,1160.9 635.9,1163.7ZM640.4,1160.2 644.2,1160.6 643.1,1164.4 640.4,1163.7ZM644.8,1161.6 651.5,1158.8 657.6,1162.3 653.1,1163.7 645.9,1165.1ZM662.0,1161.6 670.9,1161.6 679.2,1160.2 678.1,1163.0 665.3,1164.1ZM657.0,1168.6 662.6,1167.6 667.0,1173.5 661.5,1172.1ZM682.0,1174.2 690.0,1166.5 690.0,1170.0 685.3,1173.5ZM686.4,1114.0 692.0,1114.7 695.9,1115.4 689.2,1115.8ZM675.9,1137.8 680.3,1139.2 677.0,1141.3ZM583.2,1113.3 588.7,1119.6 584.8,1122.4 580.4,1116.1ZM593.7,1120.3 597.6,1122.4 594.8,1124.5ZM534.9,1092.3 539.9,1097.9 537.1,1095.1ZM543.8,1109.1 547.6,1114.7 545.4,1112.6ZM551.0,1121.0 553.8,1124.5 552.1,1123.1ZM528.2,1082.5 532.1,1085.3 529.3,1083.9ZM595.9,1074.8 598.2,1075.5 596.5,1076.9ZM575.4,1095.1 577.1,1094.4 576.5,1096.5ZM576.0,1103.5 578.7,1104.2 577.1,1106.3Z" fill="#7CA8E0"/><path d="M674.2,1053.8 678.1,1047.5 681.4,1041.2 688.7,1042.6 693.1,1033.5 698.1,1042.6 699.2,1051.0 697.0,1058.0 692.5,1062.9 692.0,1054.5 685.9,1058.7 684.8,1049.6 680.9,1049.6ZM678.1,1025.5 682.0,1025.0 682.7,1026.0 681.0,1038.6 679.9,1039.0 675.8,1033.2ZM646.4,1043.0 647.6,1039.2 660.0,1022.2 660.2,1029.2 647.5,1043.9ZM672.5,1056.3 673.1,1055.1 675.9,1055.7 674.1,1058.0ZM666.9,1060.5 667.6,1059.3 671.0,1059.9 668.4,1062.3ZM661.2,1067.2 661.2,1065.6 664.2,1064.4 663.1,1067.6Z" fill="#7CA8E0"/><path d="M629.8,1254.7 630.4,1259.6 626.5,1270.1 625.9,1284.8 630.4,1286.2 632.6,1301.6 638.7,1322.6 635.4,1337.3 635.4,1342.2 650.9,1347.8 662.6,1339.4 682.0,1339.4 695.9,1328.2 712.5,1323.3 724.7,1322.6 741.4,1331.0 749.2,1346.4 759.7,1333.1 761.4,1330.3 759.7,1341.5 756.4,1349.2 763.0,1342.9 765.3,1351.3 771.9,1355.5 776.9,1368.1 793.0,1373.7 799.7,1369.5 809.1,1375.8 818.0,1367.4 829.1,1364.6 830.2,1352.0 836.3,1338.7 843.0,1327.5 846.3,1314.2 849.1,1302.3 846.3,1291.1 846.9,1277.1 834.7,1266.6 833.6,1260.3 825.2,1251.2 819.7,1242.1 811.3,1236.5 806.9,1225.3 803.6,1214.1 803.0,1206.4 795.2,1202.9 792.5,1190.3 787.5,1177.0 783.0,1191.7 782.5,1203.6 778.6,1224.6 770.8,1224.6 761.4,1214.1 748.6,1206.4 751.4,1195.2 756.4,1187.5 748.6,1186.1 737.5,1184.7 732.5,1181.2 722.5,1188.9 718.6,1196.6 715.3,1206.4 708.1,1206.4 701.4,1199.4 693.1,1203.6 686.4,1216.9 682.0,1223.9 674.8,1228.1 669.2,1238.6 657.0,1242.1 645.9,1247.0 637.6,1252.6Z" fill="#7CA8E0"/></g><rect x="532.1" y="1038.9" width="156.0" height="140.2" fill="none" stroke="#2e2e2e" stroke-width="1.2"/><clipPath id="c4_639"><rect x="702.5" y="1038.9" width="57.3" height="54.3"/></clipPath><g clip-path="url(#c4_639)" stroke="#000" stroke-width="0.9" stroke-linejoin="round"><path d="M706.2,1039.6 706.4,1037.4 709.8,1031.5 712.3,1028.2 716.7,1024.1 718.7,1019.7 723.6,1016.7 725.0,1014.3 733.4,1011.9 739.7,1008.2 742.2,1004.2 741.7,1000.1 744.1,996.4 748.0,993.5 756.4,990.9 760.8,984.2 763.7,983.9 768.1,986.4 775.0,986.1 778.9,986.8 780.9,988.7 781.3,992.0 783.8,996.1 783.3,997.9 772.0,999.7 768.1,1003.1 762.7,1006.0 755.4,1007.5 747.3,1010.5 747.2,1020.4 731.0,1020.5 730.9,1029.9 726.0,1031.5 726.0,1037.7 707.0,1037.7Z" fill="#8A8A8A"/><path d="M706.2,1039.6 706.9,1037.7 726.0,1037.7 726.0,1031.5 730.9,1029.9 730.9,1020.4 747.2,1020.4 747.2,1015.6 766.0,1024.1 757.8,1024.1 762.2,1055.5 762.7,1059.2 744.1,1059.2 737.3,1059.6 733.4,1058.8 729.9,1061.8 724.0,1057.0 718.7,1055.0 711.3,1055.5 708.9,1057.0 710.8,1050.0 710.3,1045.2 708.9,1044.8 709.8,1041.9Z" fill="#D8554E"/><path d="M708.9,1057.0 706.4,1061.4 704.0,1062.2 707.4,1065.1 707.4,1066.2 713.8,1065.7 722.1,1066.4 721.6,1067.3 714.7,1067.2 707.6,1068.1 707.9,1070.9 716.2,1069.6 722.6,1069.7 728.5,1070.7 733.8,1070.7 733.8,1068.5 730.9,1063.3 729.9,1061.8 724.0,1057.0 718.7,1055.0 711.3,1055.5Z" fill="#8A8A8A"/><path d="M707.4,1066.2 713.8,1065.7 722.1,1066.4 721.6,1067.3 714.7,1067.2 707.6,1068.1Z" fill="#D8554E"/><path d="M707.9,1070.9 716.2,1069.6 722.6,1069.7 722.6,1073.3 717.7,1074.0 716.2,1076.0 713.8,1074.0 709.8,1072.5ZM710.3,1074.7 712.3,1074.7 711.3,1075.8Z" fill="#D8554E"/><path d="M716.2,1076.0 717.7,1074.0 722.6,1073.3 722.6,1069.7 728.5,1070.7 733.8,1070.7 739.2,1071.4 744.1,1070.7 746.6,1073.6 749.0,1075.8 750.5,1078.8 751.0,1085.1 749.0,1088.4 745.6,1089.1 743.1,1085.6 739.2,1085.1 737.8,1082.9 734.8,1079.5 728.5,1079.9 724.5,1083.0 722.6,1081.4 718.7,1077.7Z" fill="#D8554E"/><path d="M724.5,1083.0 728.5,1079.9 734.8,1079.5 737.8,1082.9 739.2,1085.1 737.8,1087.7 733.4,1090.9 728.5,1089.1 724.5,1085.1Z" fill="#D8554E"/><path d="M733.4,1090.9 737.8,1087.7 739.2,1085.1 743.1,1085.6 745.6,1089.1 749.0,1088.4 748.0,1092.5 752.9,1095.0 752.7,1100.4 745.6,1098.0 736.8,1093.2Z" fill="#8A8A8A"/><path d="M752.7,1100.4 752.9,1095.0 748.0,1092.5 749.0,1088.4 751.0,1085.1 750.5,1078.8 759.3,1077.3 762.7,1078.1 766.7,1080.6 776.5,1081.4 777.4,1086.2 774.0,1091.4 774.5,1097.6 765.2,1097.3 760.3,1099.1Z" fill="#8A8A8A"/><path d="M729.9,1061.8 733.4,1058.8 737.3,1059.6 744.1,1059.2 762.7,1059.2 762.2,1055.5 757.8,1024.1 766.0,1024.1 795.3,1038.5 795.6,1040.0 805.3,1043.3 805.8,1046.3 810.5,1045.7 810.2,1054.0 806.8,1059.6 796.0,1060.0 790.7,1061.2 786.2,1060.9 779.9,1064.0 775.5,1064.4 769.6,1067.0 768.1,1069.6 764.2,1072.9 762.7,1078.1 759.3,1077.3 750.5,1078.8 749.0,1075.8 746.6,1073.6 744.1,1070.7 739.2,1071.4 733.8,1070.7 733.8,1068.5 730.9,1063.3Z" fill="#D8554E"/><path d="M778.9,986.8 789.7,983.9 796.0,981.6 804.4,980.5 815.6,980.9 826.4,979.6 831.8,980.0 830.3,981.6 829.8,987.2 826.4,990.9 829.8,993.8 833.8,997.9 836.2,1004.5 838.2,1011.9 835.7,1019.3 838.6,1026.0 848.3,1029.7 826.4,1039.3 818.1,1044.4 810.5,1045.7 805.8,1046.3 805.3,1043.3 795.6,1040.0 795.3,1038.5 766.0,1024.1 747.2,1015.6 747.2,1010.5 755.4,1007.5 762.7,1006.0 768.1,1003.1 772.0,999.7 783.3,997.9 783.8,996.1 781.3,992.0 780.9,988.7Z" fill="#8A8A8A"/></g><rect x="702.5" y="1038.9" width="57.3" height="54.3" fill="none" stroke="#2e2e2e" stroke-width="1.2"/><clipPath id="c5_639"><rect x="775.0" y="1038.9" width="57.7" height="54.3"/></clipPath><g clip-path="url(#c5_639)" stroke="#000" stroke-width="0.9" stroke-linejoin="round"><path d="M716.2,1069.2 736.2,1071.5 752.1,1076.6 761.4,1072.5 770.7,1069.7 782.8,1072.5 800.5,1072.5 807.1,1089.1 803.3,1102.9 801.0,1105.4 794.0,1100.1 785.6,1084.9 786.6,1095.5 794.9,1104.7 798.7,1114.9 808.0,1132.4 814.5,1140.7 825.7,1158.2 714.8,1158.2 714.8,1089.1Z" fill="#D8554E"/><path d="M816.4,1030.0 819.2,1030.5 823.8,1026.8 826.6,1022.7 843.4,1022.7 861.1,1019.0 877.0,1019.0 871.4,1023.6 865.8,1032.8 863.9,1043.9 843.4,1053.1 824.8,1063.2 816.4,1059.6 815.5,1054.0 822.9,1045.7 817.3,1041.6Z" fill="#8A8A8A"/><path d="M808.9,1055.9 813.6,1054.0 815.5,1054.0 822.9,1045.7 817.3,1041.6 812.7,1048.5Z" fill="#8A8A8A"/><path d="M800.5,1072.5 807.1,1089.1 811.7,1074.3 813.1,1062.3 816.4,1059.6 815.5,1054.0 813.6,1054.0 808.9,1055.9 807.1,1063.2Z" fill="#033D68"/><path d="M807.5,1069.7 812.7,1070.6 813.1,1062.3 809.9,1060.9 807.5,1064.2ZM800.5,1072.5 803.3,1069.7 803.8,1070.6Z" fill="#8A8A8A"/><path d="M807.5,1090.4 807.1,1089.1 811.7,1074.3 813.1,1062.3 816.4,1059.6 824.8,1063.2 843.4,1053.1 847.1,1064.6 826.6,1070.6 836.0,1079.8 831.3,1084.4 818.3,1091.8Z" fill="#8A8A8A"/><path d="M807.5,1090.4 818.3,1091.8 831.3,1084.4 836.0,1079.8 826.6,1070.6 847.1,1064.6 858.3,1066.5 874.2,1074.3 898.4,1091.8 915.7,1092.7 924.5,1093.7 926.4,1097.8 932.9,1097.8 937.6,1106.6 948.8,1114.9 949.7,1125.0 955.3,1132.8 960.9,1134.2 962.7,1137.5 972.1,1149.4 995.4,1152.2 1000.0,1158.2 994.4,1176.6 966.5,1188.6 938.5,1192.3 931.0,1196.0 924.5,1203.4 914.3,1202.0 903.1,1200.6 890.0,1200.6 884.4,1207.1 880.7,1209.8 875.1,1199.7 865.8,1188.6 859.3,1178.5 847.1,1167.4 845.3,1155.4 836.9,1139.8 828.5,1130.5 823.8,1121.3 813.6,1107.5 804.3,1102.0Z" fill="#F3C200"/><path d="M782.8,1037.9 789.4,1035.1 804.3,1031.9 797.7,1037.9 789.4,1042.0 783.8,1040.7Z" fill="#033D68"/></g><rect x="775.0" y="1038.9" width="57.7" height="54.3" fill="none" stroke="#2e2e2e" stroke-width="1.2"/><clipPath id="c6_639"><rect x="702.5" y="1124.9" width="130.0" height="54.2"/></clipPath><g clip-path="url(#c6_639)" stroke="#000" stroke-width="0.9" stroke-linejoin="round"><path d="M796.8,1150.9 804.7,1147.0 807.1,1147.3 815.0,1148.4 816.2,1151.1Z" fill="#033D68"/><path d="M667.4,1200.8 671.1,1195.4 671.1,1189.0 665.0,1183.6 651.7,1180.5 649.9,1178.2 660.2,1176.4 668.6,1177.3 667.4,1172.3 671.1,1173.7 679.5,1173.2 688.0,1170.1 688.0,1166.9 693.4,1166.0 696.5,1167.8 703.7,1171.0 707.9,1171.9 713.4,1173.2 716.4,1173.2 727.9,1175.5 724.3,1181.8 720.6,1182.7 715.2,1186.3 714.6,1188.1 720.6,1189.5 718.8,1193.1 720.6,1197.2 723.7,1199.0 717.6,1201.7 711.0,1201.2 702.5,1200.3 697.1,1202.1 697.1,1205.3 688.6,1204.8 682.5,1203.5 675.3,1203.5Z" fill="#033D68"/><path d="M693.4,1166.0 698.9,1164.6 704.3,1164.6 708.5,1164.2 713.4,1165.6 712.8,1167.4 714.6,1167.4 717.0,1169.6 715.2,1170.5 713.4,1173.2 707.9,1171.9 703.7,1171.0 696.5,1167.8Z" fill="#033D68"/><path d="M713.4,1173.2 715.2,1170.5 717.6,1171.9 716.4,1173.2Z" fill="#033D68"/><path d="M698.9,1164.6 700.1,1163.7 703.1,1161.9 706.1,1158.3 707.3,1157.4 711.6,1156.1 720.0,1155.6 721.8,1156.5 720.6,1159.2 718.8,1161.5 714.6,1162.4 715.8,1164.6 714.6,1167.4 712.8,1167.4 713.4,1165.6 708.5,1164.2 704.3,1164.6Z" fill="#033D68"/><path d="M721.8,1156.5 720.6,1154.3 726.7,1154.7 730.3,1153.4 732.7,1152.9 730.3,1148.8 735.8,1149.3 738.8,1150.6 744.8,1151.1 744.8,1152.9 750.9,1152.0 753.9,1150.6 759.9,1150.2 764.2,1153.4 764.8,1157.4 767.2,1161.5 766.6,1164.2 769.0,1166.5 764.8,1166.5 756.9,1168.7 751.5,1169.6 753.9,1171.9 761.8,1176.4 759.9,1177.3 755.7,1179.1 756.9,1181.8 752.1,1181.8 741.8,1182.3 736.4,1182.3 730.3,1181.4 724.3,1181.8 727.9,1175.5 716.4,1173.2 717.6,1171.9 715.2,1170.5 717.0,1169.6 714.6,1167.4 715.8,1164.6 714.6,1162.4 718.8,1161.5 720.6,1159.2Z" fill="#033D68"/><path d="M730.3,1148.8 727.9,1146.1 727.3,1141.6 730.3,1138.9 737.6,1137.1 742.4,1136.2 741.8,1139.4 740.6,1141.2 744.2,1142.5 740.0,1144.3 737.0,1146.1 735.8,1149.3ZM745.4,1145.2 749.7,1143.9 754.5,1143.9 754.5,1146.6 750.9,1148.8 746.0,1147.5ZM737.6,1146.6 743.0,1146.1 743.0,1148.2 738.8,1148.2ZM744.8,1149.3 750.9,1149.5 749.7,1150.2ZM767.2,1147.5 769.6,1147.7 768.4,1148.4Z" fill="#033D68"/><path d="M736.4,1182.3 741.8,1182.3 752.1,1181.8 756.9,1181.8 755.7,1179.1 759.9,1177.3 761.8,1176.4 767.2,1177.3 768.4,1175.5 780.5,1177.3 781.7,1179.6 778.1,1181.4 775.7,1185.0 766.6,1187.2 761.2,1186.8 753.3,1185.9 752.1,1184.3 744.8,1185.4 741.2,1185.0 735.8,1184.1Z" fill="#033D68"/><path d="M746.0,1129.9 742.4,1129.0 743.0,1126.3 740.6,1130.3 732.7,1133.0 726.7,1134.4 720.6,1134.8 712.8,1131.7 709.8,1128.1 708.5,1123.5 708.5,1119.0 709.8,1115.9 717.6,1113.2 729.7,1110.0 738.8,1107.7 743.6,1105.5 747.8,1103.2 753.9,1098.7 759.9,1094.2 767.8,1090.6 772.0,1088.3 784.1,1084.2 793.2,1080.6 805.3,1079.3 820.4,1076.6 834.3,1075.7 847.6,1076.1 865.8,1078.8 859.7,1082.0 865.2,1082.0 853.1,1084.9 855.5,1082.9 847.0,1080.2 835.5,1081.1 833.7,1084.2 827.7,1087.0 817.4,1086.5 808.9,1083.8 802.6,1084.9 799.2,1087.9 787.8,1087.4 786.5,1089.7 779.3,1089.7 775.1,1093.3 771.4,1096.9 766.0,1098.3 766.6,1101.9 761.2,1105.0 763.6,1106.8 755.1,1107.7 750.9,1110.9 752.1,1115.4 752.7,1118.6 756.3,1119.9 752.1,1121.3 754.5,1124.0 749.7,1126.3 750.3,1127.2 749.1,1129.0Z" fill="#033D68"/><path d="M746.0,1129.9 746.6,1133.5 750.3,1136.6 753.9,1140.3 755.1,1143.4 756.9,1146.6 764.2,1146.6 765.4,1145.7 764.8,1143.9 773.8,1143.4 777.5,1140.7 779.3,1135.7 779.9,1132.1 786.5,1130.8 790.2,1128.5 793.2,1126.7 784.1,1122.6 782.9,1118.1 784.1,1115.0 790.2,1112.3 798.0,1109.5 804.1,1107.7 808.3,1105.0 807.7,1101.9 812.5,1100.1 824.3,1099.6 821.6,1097.3 823.4,1094.2 821.0,1091.9 819.8,1089.7 810.1,1087.0 802.6,1084.9 799.2,1087.9 787.8,1087.4 786.5,1089.7 779.3,1089.7 775.1,1093.3 771.4,1096.9 766.0,1098.3 766.6,1101.9 761.2,1105.0 763.6,1106.8 755.1,1107.7 750.9,1110.9 752.1,1115.4 752.7,1118.6 756.3,1119.9 752.1,1121.3 754.5,1124.0 749.7,1126.3 750.3,1127.2 749.1,1129.0ZM788.4,1139.4 792.0,1135.3 794.4,1135.3 792.0,1138.0ZM777.5,1143.0 778.7,1139.8 781.7,1137.8 779.9,1140.7Z" fill="#033D68"/><path d="M824.3,1099.6 831.3,1102.8 826.5,1105.5 816.2,1109.5 808.3,1111.8 807.1,1116.8 808.3,1119.0 807.1,1122.2 813.2,1124.9 817.4,1126.5 829.5,1124.9 838.5,1124.0 846.4,1123.3 853.7,1120.4 859.7,1117.2 867.0,1114.5 869.4,1112.7 859.7,1109.1 862.7,1106.8 857.9,1103.7 859.1,1100.1 854.3,1094.6 859.7,1091.0 851.2,1088.8 850.6,1085.6 853.1,1084.9 855.5,1082.9 847.0,1080.2 835.5,1081.1 833.7,1084.2 827.7,1087.0 817.4,1086.5 808.9,1083.8 802.6,1084.9 810.1,1087.0 819.8,1089.7 821.0,1091.9 823.4,1094.2 821.6,1097.3ZM796.8,1124.9 801.1,1124.0 800.5,1125.6Z" fill="#033D68"/><path d="M820.4,1129.4 826.5,1128.1 834.3,1127.6 848.2,1128.5 844.0,1131.2 844.6,1135.7 844.0,1136.9 835.5,1135.7 831.3,1134.8 825.2,1135.3 826.5,1133.5 820.4,1131.7ZM811.3,1133.5 814.4,1132.1 818.6,1132.1 816.2,1133.9 812.5,1134.8ZM812.5,1130.8 816.8,1130.3 816.2,1131.2Z" fill="#033D68"/><path d="M825.2,1135.3 831.3,1134.8 835.5,1135.7 844.0,1136.9 846.4,1138.0 848.8,1143.0 845.2,1144.8 839.2,1145.2 829.5,1142.5 828.9,1142.1 816.8,1142.1 805.6,1143.4 805.3,1140.3 808.9,1137.1 815.0,1136.0 818.6,1138.0 822.8,1139.4 825.8,1138.0Z" fill="#7CA8E0"/><path d="M805.6,1143.4 816.8,1142.1 828.9,1142.1 829.5,1142.5 839.2,1145.2 840.4,1147.0 834.3,1148.8 833.1,1151.5 825.8,1153.4 820.4,1153.1 819.8,1152.0 816.2,1151.1 815.0,1148.4 807.1,1147.3 805.3,1147.0 805.9,1145.2Z" fill="#7CA8E0"/><path d="M820.4,1153.1 825.8,1153.4 833.1,1151.5 834.3,1148.8 840.4,1147.0 839.2,1145.2 845.2,1144.8 848.8,1143.0 856.1,1144.8 865.2,1145.7 864.5,1149.3 867.6,1152.0 876.0,1155.6 868.2,1156.5 870.6,1161.5 863.3,1165.1 855.5,1164.6 842.8,1163.7 829.5,1162.4 821.0,1164.2 821.6,1161.5 818.6,1160.6 822.8,1158.8Z" fill="#7CA8E0"/><path d="M764.2,1153.4 776.3,1151.5 787.2,1149.3 790.8,1151.1 796.8,1150.9 816.2,1151.1 819.8,1152.0 820.4,1153.1 822.8,1158.8 818.6,1160.6 821.6,1161.5 821.0,1164.2 824.0,1167.4 817.4,1171.4 815.0,1175.0 805.3,1173.7 799.2,1174.6 793.2,1173.2 792.0,1173.2 787.2,1171.0 780.5,1169.2 776.9,1168.3 769.0,1166.5 766.6,1164.2 767.2,1161.5 764.8,1157.4Z" fill="#033D68"/><path d="M751.5,1169.6 756.9,1168.7 764.8,1166.5 769.0,1166.5 776.9,1168.3 780.5,1169.2 787.2,1171.0 792.0,1173.2 787.8,1175.0 782.3,1176.4 780.5,1177.3 768.4,1175.5 767.2,1177.3 761.8,1176.4 753.9,1171.9Z" fill="#7CA8E0"/><path d="M780.5,1177.3 782.3,1176.4 787.8,1175.0 792.0,1173.2 793.2,1173.2 799.2,1174.6 805.3,1173.7 815.0,1175.0 811.9,1178.2 808.3,1177.7 802.3,1177.7 796.2,1179.1 792.0,1180.9 785.9,1181.1 781.7,1179.6Z" fill="#7CA8E0"/><path d="M775.7,1185.0 778.1,1181.4 781.7,1179.6 785.9,1181.1 792.0,1180.9 796.2,1179.1 802.3,1177.7 808.3,1177.7 811.9,1178.2 816.8,1180.0 811.3,1182.7 806.5,1187.2 801.1,1188.4 792.6,1189.5 785.3,1189.3 778.7,1186.8 777.5,1185.9Z" fill="#7CA8E0"/><path d="M801.1,1188.4 806.5,1187.2 811.3,1182.7 816.8,1180.0 826.5,1180.2 839.2,1178.9 844.6,1182.3 848.8,1186.8 848.8,1191.5 857.9,1192.2 857.3,1194.5 851.2,1199.2 841.6,1197.6 832.5,1199.7 823.4,1199.4 815.6,1197.2 814.4,1194.9 807.7,1194.5 808.3,1192.7Z" fill="#7CA8E0"/><path d="M811.9,1178.2 815.0,1175.0 817.4,1171.4 824.0,1167.4 821.0,1164.2 829.5,1162.4 842.8,1163.7 855.5,1164.6 863.3,1165.1 870.6,1161.5 882.7,1160.4 886.3,1165.3 893.6,1169.2 908.1,1171.4 920.8,1172.8 919.0,1177.3 919.0,1180.7 909.3,1184.1 900.2,1185.9 889.9,1188.6 889.9,1190.4 899.0,1191.7 892.4,1193.6 883.9,1196.3 880.3,1195.4 874.8,1192.0 880.9,1189.9 881.5,1188.6 877.8,1188.6 870.6,1186.3 863.9,1186.8 857.9,1192.2 848.8,1191.5 853.1,1187.0 860.3,1187.2 854.3,1180.2 845.8,1178.0 839.2,1178.9 826.5,1180.2 816.8,1180.0Z" fill="#033D68"/></g><rect x="702.5" y="1124.9" width="130.0" height="54.2" fill="none" stroke="#2e2e2e" stroke-width="1.2"/><g stroke="#000" stroke-width="1.05" stroke-linejoin="round"><path d="M392.1,1417.9 392.2,1416.6 393.6,1413.3 394.6,1411.4 396.5,1409.1 397.3,1406.6 399.4,1404.9 400.0,1403.5 403.5,1402.2 406.1,1400.1 407.2,1397.8 407.0,1395.5 408.0,1393.4 409.6,1391.7 413.1,1390.2 415.0,1386.5 416.2,1386.3 418.1,1387.7 420.9,1387.5 422.6,1387.9 423.4,1389.0 423.6,1390.9 424.6,1393.2 424.4,1394.2 419.7,1395.3 418.1,1397.1 415.8,1398.8 412.7,1399.7 409.3,1401.3 409.3,1407.0 402.5,1407.0 402.5,1412.3 400.4,1413.3 400.4,1416.8 392.4,1416.8Z" fill="#FFF9BA"/><path d="M392.1,1417.9 392.4,1416.8 400.4,1416.8 400.4,1413.3 402.5,1412.3 402.5,1407.0 409.3,1407.0 409.3,1404.3 417.2,1409.1 413.7,1409.1 415.6,1426.9 415.8,1429.0 408.0,1429.0 405.1,1429.2 403.5,1428.7 402.0,1430.4 399.6,1427.7 397.3,1426.6 394.2,1426.9 393.2,1427.7 394.0,1423.7 393.8,1421.0 393.2,1420.8 393.6,1419.1Z" fill="#FFF9BA"/><path d="M393.2,1427.7 392.2,1430.2 391.2,1430.6 392.6,1432.3 392.6,1432.9 395.3,1432.6 398.8,1433.0 398.5,1433.6 395.7,1433.5 392.7,1434.0 392.8,1435.6 396.3,1434.8 399.0,1434.9 401.4,1435.4 403.7,1435.4 403.7,1434.2 402.5,1431.3 402.0,1430.4 399.6,1427.7 397.3,1426.6 394.2,1426.9Z" fill="#FFF9BA"/><path d="M392.6,1432.9 395.3,1432.6 398.8,1433.0 398.5,1433.6 395.7,1433.5 392.7,1434.0Z" fill="#FFF9BA"/><path d="M392.8,1435.6 396.3,1434.8 399.0,1434.9 399.0,1436.9 396.9,1437.3 396.3,1438.5 395.3,1437.3 393.6,1436.5Z" fill="#FFF9BA"/><path d="M393.8,1437.7 394.6,1437.7 394.2,1438.4Z" fill="#FFF9BA" stroke-width="1.60"/><path d="M396.3,1438.5 396.9,1437.3 399.0,1436.9 399.0,1434.9 401.4,1435.4 403.7,1435.4 405.9,1435.9 408.0,1435.4 409.0,1437.1 410.1,1438.4 410.7,1440.1 410.9,1443.6 410.1,1445.5 408.6,1445.9 407.6,1443.9 405.9,1443.6 405.3,1442.4 404.1,1440.5 401.4,1440.7 399.8,1442.5 399.0,1441.5 397.3,1439.4Z" fill="#FFF9BA"/><path d="M399.8,1442.5 401.4,1440.7 404.1,1440.5 405.3,1442.4 405.9,1443.6 405.3,1445.1 403.5,1446.9 401.4,1445.9 399.8,1443.6Z" fill="#FFF9BA"/><path d="M403.5,1446.9 405.3,1445.1 405.9,1443.6 407.6,1443.9 408.6,1445.9 410.1,1445.5 409.6,1447.8 411.7,1449.3 411.6,1452.3 408.6,1450.9 404.9,1448.2Z" fill="#FFF9BA"/><path d="M411.6,1452.3 411.7,1449.3 409.6,1447.8 410.1,1445.5 410.9,1443.6 410.7,1440.1 414.4,1439.2 415.8,1439.6 417.4,1441.1 421.6,1441.5 422.0,1444.2 420.5,1447.2 420.7,1450.7 416.8,1450.5 414.8,1451.6Z" fill="#FFF9BA"/><path d="M420.7,1450.7 420.5,1447.2 422.0,1444.2 421.6,1441.5 421.3,1438.4 427.1,1438.2 428.1,1440.5 428.3,1443.6 428.1,1445.7 429.6,1448.6 426.7,1449.9 423.0,1451.5Z" fill="#FFF9BA"/><path d="M429.6,1448.6 428.1,1445.7 428.3,1443.6 428.1,1440.5 427.1,1438.2 428.9,1438.4 428.7,1439.8 430.4,1442.6 430.4,1448.4Z" fill="#FFF9BA"/><path d="M430.4,1448.4 430.4,1442.6 428.7,1439.8 428.9,1438.4 430.0,1437.5 432.0,1436.5 434.5,1436.9 434.9,1439.0 432.9,1442.4 432.6,1444.9 432.6,1448.0Z" fill="#FFF9BA"/><path d="M432.6,1448.0 432.6,1444.9 432.9,1442.4 434.9,1439.0 434.5,1436.9 435.5,1433.1 438.4,1432.3 441.3,1434.2 443.1,1433.6 446.8,1434.6 451.7,1433.8 455.0,1432.7 456.1,1434.1 456.3,1435.2 457.1,1437.3 455.4,1438.4 454.2,1441.3 453.4,1443.2 451.3,1446.5 449.7,1447.4 447.6,1447.0 446.2,1447.8 444.8,1451.4 444.1,1452.0 441.5,1452.2 439.4,1452.4 437.6,1449.9 436.1,1448.2 434.1,1448.0Z" fill="#FFF9BA"/><path d="M415.8,1439.6 416.4,1436.7 418.1,1434.8 418.7,1433.4 421.1,1431.9 423.0,1431.7 425.7,1429.9 427.5,1430.1 427.9,1432.1 429.2,1433.4 431.4,1434.8 432.0,1436.5 430.0,1437.5 428.9,1438.4 427.1,1438.2 421.3,1438.4 421.6,1441.5 417.4,1441.1Z" fill="#FFF9BA"/><path d="M402.0,1430.4 403.5,1428.7 405.1,1429.2 408.0,1429.0 415.8,1429.0 415.6,1426.9 413.7,1409.1 417.2,1409.1 429.5,1417.2 429.6,1418.1 433.7,1420.0 433.9,1421.6 435.8,1421.3 435.7,1426.0 434.3,1429.2 429.8,1429.4 427.5,1430.1 425.7,1429.9 423.0,1431.7 421.1,1431.9 418.7,1433.4 418.1,1434.8 416.4,1436.7 415.8,1439.6 414.4,1439.2 410.7,1440.1 410.1,1438.4 409.0,1437.1 408.0,1435.4 405.9,1435.9 403.7,1435.4 403.7,1434.2 402.5,1431.3Z" fill="#FFF9BA"/><path d="M427.5,1430.1 429.8,1429.4 434.3,1429.2 435.7,1426.0 435.8,1421.3 439.0,1420.6 442.5,1417.7 451.7,1412.2 456.3,1414.1 457.9,1413.3 459.8,1418.7 458.9,1426.0 455.9,1428.5 455.0,1432.7 451.7,1433.8 446.8,1434.6 443.1,1433.6 441.3,1434.2 438.4,1432.3 435.5,1433.1 434.5,1436.9 432.0,1436.5 431.4,1434.8 429.2,1433.4 427.9,1432.1Z" fill="#FFF9BA"/><path d="M422.6,1387.9 427.1,1386.3 429.8,1385.0 433.3,1384.4 438.0,1384.6 442.5,1383.9 444.8,1384.1 444.1,1385.0 443.9,1388.1 442.5,1390.2 443.9,1391.9 445.6,1394.2 446.6,1398.0 447.4,1402.2 446.4,1406.4 447.6,1410.1 451.7,1412.2 442.5,1417.7 439.0,1420.6 435.8,1421.3 433.9,1421.6 433.7,1420.0 429.6,1418.1 429.5,1417.2 417.2,1409.1 409.3,1404.3 409.3,1401.3 412.7,1399.7 415.8,1398.8 418.1,1397.1 419.7,1395.3 424.4,1394.2 424.6,1393.2 423.6,1390.9 423.4,1389.0Z" fill="#FFF9BA"/><path d="M444.8,1384.1 447.2,1383.2 448.3,1384.2 449.9,1383.9 448.7,1385.4 448.9,1386.9 449.9,1387.7 447.8,1389.6 447.8,1390.4 449.9,1391.3 450.8,1392.0 450.7,1393.6 448.3,1395.1 448.3,1396.7 446.6,1398.0 445.6,1394.2 443.9,1391.9 442.5,1390.2 443.9,1388.1 444.1,1385.0Z" fill="#FFF9BA"/><path d="M450.8,1392.0 452.8,1392.7 454.2,1392.5 458.3,1393.6 459.3,1395.5 463.0,1396.7 466.1,1398.0 468.2,1396.5 468.4,1394.0 471.3,1392.5 474.5,1393.2 478.8,1395.2 478.4,1399.7 478.4,1415.4 478.4,1419.5 476.4,1419.5 476.4,1420.6 457.9,1413.3 456.3,1414.1 451.7,1412.2 447.6,1410.1 446.4,1406.4 447.4,1402.2 446.6,1398.0 448.3,1396.7 448.3,1395.1 450.7,1393.6Z" fill="#FFF9BA"/><path d="M478.8,1395.2 483.2,1395.7 486.7,1396.8 488.7,1395.9 490.8,1395.3 493.4,1395.9 497.3,1395.9 498.8,1399.7 498.0,1402.8 497.4,1403.4 495.9,1402.2 494.1,1398.7 494.3,1401.1 496.1,1403.2 496.9,1405.5 499.0,1409.5 500.4,1411.4 502.9,1415.4 478.4,1415.4 478.4,1399.7Z" fill="#FEE8A8"/><path d="M472.1,1434.9 472.9,1433.4 474.3,1428.5 476.4,1428.5 476.4,1419.5 478.4,1419.5 478.4,1415.4 502.9,1415.4 503.5,1417.4 503.5,1420.4 506.4,1423.7 503.1,1425.6 502.1,1429.8 501.2,1434.8 499.2,1436.7 497.6,1439.2 497.1,1441.5 497.1,1443.8 494.9,1445.1 498.4,1447.4 499.6,1450.1 500.8,1451.8 496.9,1452.6 495.9,1453.6 490.5,1454.1 488.1,1452.0 485.4,1452.4 483.4,1450.8 476.4,1443.2 474.1,1438.6 472.9,1434.8Z" fill="#FFF9BA"/><path d="M506.4,1423.7 507.6,1427.9 508.0,1428.7 509.7,1430.0 511.7,1431.1 514.2,1433.8 515.6,1434.8 514.2,1435.2 512.8,1433.1 510.9,1431.7 507.2,1430.8 504.9,1430.2 501.9,1431.3 502.1,1429.8 503.1,1425.6Z" fill="#FFF9BA"/><path d="M515.6,1434.8 516.2,1436.3 515.9,1437.3 515.0,1438.5 513.0,1438.4 512.8,1437.1 514.2,1435.2Z" fill="#FFF9BA"/><path d="M515.9,1437.3 518.5,1439.6 521.6,1439.0 525.7,1438.0 529.8,1437.3 532.4,1436.6 532.1,1439.4 531.4,1441.7 529.4,1445.3 526.9,1449.7 524.7,1453.0 521.6,1456.0 520.1,1457.2 516.4,1460.1 514.4,1462.2 512.4,1464.9 511.3,1463.2 511.3,1455.3 513.2,1453.1 515.4,1451.8 519.5,1451.0 525.7,1444.7 523.6,1444.7 517.5,1442.6 515.4,1441.7 515.0,1438.5Z" fill="#FFF9BA"/><path d="M501.9,1431.3 504.9,1430.2 507.2,1430.8 510.9,1431.7 512.8,1433.1 514.2,1435.2 512.8,1437.1 513.0,1438.4 515.0,1438.5 515.4,1441.7 517.5,1442.6 523.6,1444.7 525.7,1444.7 519.5,1451.0 515.4,1451.8 513.2,1453.1 510.9,1452.6 508.2,1454.3 505.2,1453.9 501.2,1452.1 500.8,1451.8 499.6,1450.1 498.4,1447.4 494.9,1445.1 497.1,1443.8 497.1,1441.5 497.6,1439.2 499.2,1436.7 501.2,1434.8Z" fill="#4A8CBE"/><path d="M512.4,1464.9 509.7,1467.1 507.6,1471.1 504.5,1468.7 504.3,1467.7 496.9,1463.5 496.7,1461.2 498.0,1459.1 499.0,1457.4 498.0,1454.7 496.9,1452.6 500.8,1451.8 501.2,1452.1 505.2,1453.9 508.2,1454.3 510.9,1452.6 513.2,1453.1 511.3,1455.3 511.3,1463.2Z" fill="#FEF2AC"/><path d="M496.9,1463.5 489.7,1463.6 487.9,1464.3 487.9,1462.7 488.3,1461.0 488.7,1459.7 491.4,1456.9 490.5,1454.1 492.6,1453.9 495.9,1453.6 496.9,1452.6 498.0,1454.7 499.0,1457.4 498.0,1459.1 496.7,1461.2Z" fill="#FFF9BA"/><path d="M507.6,1471.1 506.8,1474.2 507.8,1475.6 507.8,1478.8 508.8,1482.3 510.2,1483.3 506.2,1485.3 502.1,1485.9 498.9,1485.6 498.0,1482.3 496.7,1481.5 494.8,1481.1 491.2,1479.4 490.3,1478.6 487.9,1474.6 487.5,1470.7 490.4,1468.3 489.7,1466.4 490.5,1466.2 489.7,1463.6 496.9,1463.5 504.3,1467.7 504.5,1468.7Z" fill="#FEF0A8"/><path d="M507.6,1473.5 508.3,1474.4 508.0,1475.0ZM508.6,1471.7 509.0,1472.5 508.6,1472.7Z" fill="#FEF0A8" stroke-width="1.60"/><path d="M486.7,1467.1 487.9,1464.3 489.7,1463.6 490.5,1466.2 489.7,1466.4 488.5,1467.1Z" fill="#FFF9BA"/><path d="M486.7,1467.1 488.5,1467.1 489.7,1466.4 490.4,1468.3 487.5,1470.7 487.1,1468.3Z" fill="#FFF9BA"/><path d="M452.2,1473.6 452.8,1472.3 454.0,1471.0 454.6,1471.7 456.7,1471.7 458.5,1470.4 460.4,1466.0 463.5,1462.4 464.1,1458.3 465.3,1454.1 465.3,1452.2 466.9,1450.7 469.4,1452.2 473.1,1452.8 474.1,1451.4 477.2,1450.7 479.1,1450.8 483.4,1450.8 485.4,1452.4 488.1,1452.0 490.5,1454.1 491.4,1456.9 488.7,1459.7 488.3,1461.0 487.9,1462.7 487.9,1464.3 486.7,1467.1 487.1,1468.3 487.5,1470.7 487.9,1474.6 490.3,1478.6 486.5,1479.2 485.4,1480.9 486.0,1483.8 485.4,1486.3 486.7,1487.4 488.3,1486.9 488.3,1489.6 485.4,1487.6 483.0,1485.7 479.1,1484.8 477.2,1485.4 476.4,1484.2 472.7,1484.8 472.3,1482.3 471.9,1476.7 467.2,1476.7 466.9,1478.1 463.3,1478.4 461.2,1473.7 454.6,1473.7 452.6,1474.1Z" fill="#FFF9BA"/><path d="M494.8,1481.1 491.2,1479.4 490.3,1478.6 486.5,1479.2 485.4,1480.9 486.0,1483.8 485.4,1486.3 486.7,1487.4 488.3,1486.9 488.3,1489.6 485.4,1487.6 483.0,1485.7 479.1,1484.8 477.2,1485.4 476.4,1484.2 476.4,1488.6 472.3,1488.6 472.3,1495.3 475.2,1498.2 479.0,1498.7 482.6,1499.0 486.5,1494.8 489.5,1494.1 489.1,1492.4 495.3,1490.7 494.3,1489.9 494.9,1487.8 495.5,1485.7 495.5,1482.3Z" fill="#FFF9BA"/><path d="M494.8,1481.1 496.7,1481.5 498.0,1482.3 498.9,1485.6 497.8,1486.9 498.2,1489.7 500.8,1492.6 500.6,1494.9 499.6,1497.2 497.8,1495.5 498.2,1493.4 497.6,1491.5 495.3,1490.7 494.3,1489.9 494.9,1487.8 495.5,1485.7 495.5,1482.3Z" fill="#FFF9BA"/><path d="M510.2,1483.3 510.5,1487.6 510.5,1491.7 510.9,1492.8 508.2,1496.4 503.1,1498.7 499.6,1502.8 498.7,1502.9 499.6,1506.4 500.0,1511.4 494.9,1514.1 494.1,1515.7 494.7,1517.6 493.0,1517.6 492.8,1515.7 492.8,1512.7 491.9,1510.6 491.4,1508.3 493.6,1506.0 494.9,1502.6 494.5,1500.7 494.9,1497.6 494.7,1496.4 491.4,1494.9 489.5,1494.1 489.1,1492.4 495.3,1490.7 497.6,1491.5 498.2,1493.4 497.8,1495.5 499.6,1497.2 500.6,1494.9 500.8,1492.6 498.2,1489.7 497.8,1486.9 498.9,1485.6 502.1,1485.9 506.2,1485.3Z" fill="#FFF9BA"/><path d="M479.0,1498.7 482.6,1499.0 486.5,1494.8 489.5,1494.1 491.4,1494.9 494.7,1496.4 494.9,1497.6 494.5,1500.7 494.9,1502.6 493.6,1506.0 491.4,1508.3 487.5,1507.9 484.6,1506.6 484.0,1504.3 480.9,1502.0Z" fill="#FFF9BA"/><path d="M479.0,1498.7 480.9,1502.0 484.0,1504.3 484.6,1506.6 487.5,1507.9 485.2,1508.7 482.4,1511.0 480.3,1513.2 479.5,1515.2 474.3,1514.4 471.7,1517.6 469.6,1517.6 468.2,1513.3 468.2,1507.4 470.2,1507.4 470.2,1499.7 475.2,1499.1 477.2,1499.1Z" fill="#FFF9BA"/><path d="M451.2,1497.5 454.8,1497.0 455.9,1497.8 464.9,1497.8 470.2,1499.0 475.2,1498.2 479.0,1498.7 477.2,1499.1 475.2,1499.1 470.2,1499.7 470.2,1507.4 468.2,1507.4 468.2,1513.3 468.2,1520.8 463.0,1521.5 461.0,1521.3 458.3,1517.1 456.9,1509.4 454.6,1504.9 451.7,1499.5Z" fill="#FFF9BA"/><path d="M461.0,1521.3 462.6,1525.2 464.1,1529.0 464.9,1532.4 465.1,1533.3 468.2,1534.2 472.5,1533.0 478.0,1533.0 479.7,1532.5 484.4,1530.5 487.7,1527.3 490.8,1524.0 493.6,1521.1 494.7,1517.6 493.0,1517.6 492.8,1515.7 492.8,1512.7 491.9,1510.6 491.4,1508.3 487.5,1507.9 485.2,1508.7 482.4,1511.0 480.3,1513.2 479.5,1515.2 474.3,1514.4 471.7,1517.6 469.6,1517.6 468.2,1513.3 468.2,1520.8 463.0,1521.5Z" fill="#FFF9BA"/><path d="M482.6,1523.4 485.0,1521.5 487.3,1522.3 487.5,1524.0 484.8,1525.6 483.4,1524.8Z" fill="#FFF9BA"/><path d="M490.4,1516.7 491.6,1515.3 492.8,1515.8 493.0,1517.6 491.4,1518.5 490.6,1517.5Z" fill="#FFF9BA"/><path d="M451.2,1497.5 451.3,1494.9 452.2,1491.7 454.6,1487.8 455.4,1484.4 454.2,1479.8 453.4,1476.1 452.6,1474.1 454.6,1473.7 461.2,1473.7 463.3,1478.4 466.9,1478.1 467.2,1476.7 471.9,1476.7 472.3,1482.3 472.7,1484.8 476.4,1484.2 476.4,1488.6 472.3,1488.6 472.3,1495.3 475.2,1498.2 470.2,1499.0 464.9,1497.8 455.9,1497.8 454.8,1497.0Z" fill="#FFF9BA"/><path d="M452.2,1473.4 451.7,1471.9 452.2,1471.4 454.0,1471.0 452.8,1472.3Z" fill="#FFF9BA" stroke-width="1.60"/><path d="M452.2,1471.4 449.9,1469.6 450.9,1467.3 452.8,1466.2 453.8,1466.4 456.7,1465.4 456.9,1462.7 455.7,1461.0 456.5,1458.5 454.4,1458.7 454.2,1456.8 456.9,1456.8 460.0,1457.8 460.4,1456.8 461.0,1454.1 465.3,1454.1 464.1,1458.3 463.5,1462.4 460.4,1466.0 458.5,1470.4 456.7,1471.7 454.6,1471.7 454.0,1471.0Z" fill="#FFF9BA"/><path d="M449.9,1469.6 446.8,1466.4 445.2,1462.9 446.6,1460.8 447.2,1459.3 450.3,1459.3 450.3,1456.8 454.2,1456.8 454.4,1458.7 456.5,1458.5 455.7,1461.0 456.9,1462.7 456.7,1465.4 453.8,1466.4 452.8,1466.2 450.9,1467.3Z" fill="#FFF9BA"/><path d="M447.2,1459.3 450.3,1459.3 450.3,1456.8 447.2,1456.6Z" fill="#FFF9BA"/><path d="M444.6,1454.3 445.4,1453.6 445.4,1454.5Z" fill="#FFF9BA" stroke-width="1.60"/><path d="M440.5,1461.0 441.0,1460.8 440.7,1461.3Z" fill="#FFF9BA" stroke-width="1.60"/><path d="M447.2,1456.6 447.0,1453.7 445.4,1452.0 444.8,1451.4 446.2,1447.8 447.6,1447.0 449.7,1447.4 451.3,1446.5 453.4,1443.2 454.2,1441.3 455.4,1438.4 457.1,1437.3 456.3,1435.2 456.1,1434.1 457.7,1434.8 457.9,1437.3 458.1,1440.5 455.7,1441.3 458.3,1445.7 456.9,1448.8 457.1,1450.9 458.1,1453.4 460.4,1456.8 460.0,1457.8 456.9,1456.8 454.2,1456.8 450.3,1456.8Z" fill="#FFF9BA"/><path d="M458.3,1445.7 461.6,1445.5 465.1,1444.7 466.1,1442.6 471.7,1439.2 474.1,1438.6 476.4,1443.2 479.1,1446.1 481.5,1448.8 483.4,1450.8 479.1,1450.8 477.2,1450.7 474.1,1451.4 473.1,1452.8 469.4,1452.2 466.9,1450.7 465.3,1452.2 465.3,1454.1 461.0,1454.1 460.4,1456.8 458.1,1453.4 457.1,1450.9 456.9,1448.8Z" fill="#FFF9BA"/><path d="M455.0,1432.7 456.1,1434.1 457.7,1434.8 457.9,1437.3 458.1,1440.5 455.7,1441.3 458.3,1445.7 461.6,1445.5 465.1,1444.7 466.1,1442.6 471.7,1439.2 474.1,1438.6 472.9,1434.8 472.1,1434.9 472.9,1433.4 473.3,1431.9 474.3,1428.5 476.4,1428.5 476.4,1420.6 457.9,1413.3 459.8,1418.7 458.9,1426.0 455.9,1428.5Z" fill="#FFF9BA"/><path d="M528.3,1486.4 529.8,1489.7 530.8,1493.4 529.2,1494.9 528.6,1499.1 527.3,1503.3 525.5,1508.5 523.8,1513.5 519.9,1515.0 517.5,1513.5 516.0,1507.9 518.3,1503.3 517.5,1500.1 518.3,1495.3 522.2,1494.3 525.5,1491.1 527.3,1487.6Z" fill="#FFF9BA"/><path d="M375.1,1425.6 375.8,1425.6 375.5,1426.0ZM378.4,1429.4 379.0,1429.8 378.6,1430.1ZM377.0,1430.1 377.2,1430.4 376.9,1430.3ZM379.9,1427.5 380.5,1427.7 380.1,1427.9Z" fill="#FFF9BA" stroke-width="1.60"/><path d="M516.0,1485.5 516.4,1486.3 516.0,1486.3ZM518.1,1486.7 518.5,1487.1 518.1,1487.1ZM519.7,1488.0 520.0,1488.5 519.7,1488.5Z" fill="#FFF9BA" stroke-width="1.60"/><path d="M545.0,1503.5 545.6,1503.7 545.2,1504.3ZM540.7,1505.1 541.7,1505.6 541.1,1506.1Z" fill="#FFF9BA" stroke-width="1.60"/><path d="M540.9,1471.0 541.2,1471.2 541.0,1471.3Z" fill="#FFF9BA" stroke-width="1.60"/><path d="M490.6,1315.5 494.9,1316.1 501.0,1316.8 509.3,1319.5 511.7,1321.6 510.3,1322.6 506.2,1323.1 499.0,1322.2 493.9,1321.0 498.0,1323.7 498.6,1326.4 503.1,1327.7 505.2,1325.8 510.3,1326.3 509.3,1324.3 513.4,1322.4 517.5,1322.8 517.5,1319.5 516.0,1317.8 521.6,1319.1 521.6,1321.4 525.7,1319.7 529.8,1318.9 536.0,1318.4 539.0,1318.7 544.2,1317.8 549.3,1318.2 551.4,1317.4 551.4,1315.3 559.6,1316.4 563.7,1317.2 564.7,1317.8 567.8,1316.4 564.7,1314.9 564.3,1312.8 567.8,1309.0 570.9,1308.0 576.6,1309.0 576.0,1312.8 577.7,1315.9 576.0,1319.1 575.0,1322.2 579.1,1320.1 580.1,1317.0 578.1,1312.8 581.1,1309.7 587.3,1309.9 593.5,1310.7 597.6,1313.8 598.6,1311.1 592.4,1307.6 605.8,1304.4 616.1,1302.3 628.4,1301.3 640.7,1298.8 646.9,1300.2 657.1,1301.3 660.2,1303.4 653.0,1305.5 644.8,1307.6 653.0,1306.7 659.2,1307.1 671.5,1308.6 681.8,1307.1 688.0,1307.6 693.1,1309.7 692.1,1312.8 696.2,1313.2 700.3,1311.5 708.5,1312.0 714.7,1309.7 724.9,1309.7 735.2,1311.5 740.3,1313.0 753.7,1314.9 757.8,1315.9 766.0,1315.7 772.2,1314.9 777.3,1315.1 777.3,1317.0 782.4,1315.3 790.7,1315.9 796.8,1317.2 796.8,1325.4 793.7,1326.2 791.7,1325.8 795.4,1329.8 795.2,1331.0 786.5,1332.3 780.4,1334.1 776.9,1336.0 768.1,1335.8 764.0,1336.2 761.9,1340.0 759.8,1340.4 762.5,1343.8 759.4,1346.5 755.7,1350.1 752.7,1350.7 749.0,1354.7 747.5,1351.5 746.5,1346.3 747.5,1342.1 750.6,1340.0 755.3,1336.9 758.8,1334.8 763.3,1332.5 761.9,1330.6 755.7,1332.3 749.0,1333.1 744.4,1336.4 739.3,1337.9 736.8,1336.9 731.1,1337.3 720.8,1337.3 714.7,1341.1 709.5,1345.2 704.8,1346.9 709.5,1348.8 713.6,1348.0 717.3,1350.3 715.7,1354.7 715.7,1359.9 711.6,1364.1 706.4,1368.7 700.7,1371.8 698.2,1371.2 695.6,1372.9 695.4,1372.2 696.4,1370.4 696.8,1367.4 700.3,1367.0 702.3,1362.2 703.8,1360.3 700.3,1361.1 696.2,1361.6 695.4,1359.1 690.0,1357.6 689.0,1356.2 685.9,1350.9 680.4,1349.3 675.4,1349.8 673.6,1351.3 675.0,1352.6 671.5,1356.5 669.1,1357.8 666.8,1357.1 664.3,1356.3 661.9,1356.1 657.1,1358.0 650.0,1358.2 645.9,1356.1 638.7,1356.1 637.2,1354.0 630.4,1352.6 628.4,1353.6 628.4,1356.8 622.2,1356.8 617.1,1355.1 612.0,1356.5 607.4,1358.4 606.4,1358.6 602.7,1357.6 598.6,1354.7 591.4,1355.1 587.1,1349.8 584.2,1348.0 578.1,1349.4 572.9,1348.0 572.7,1345.7 568.8,1345.4 561.2,1347.5 553.0,1348.6 552.2,1351.5 553.4,1354.0 549.3,1355.5 542.1,1354.7 539.0,1354.7 532.9,1353.2 531.4,1353.4 526.7,1356.5 523.6,1356.3 523.2,1359.7 526.3,1361.8 527.7,1364.1 525.7,1365.1 524.3,1367.2 523.2,1368.3 524.7,1371.4 526.7,1373.8 525.5,1375.2 522.4,1373.7 519.5,1372.0 517.1,1372.0 514.4,1371.0 509.3,1370.6 506.2,1368.5 503.9,1367.8 502.5,1366.8 504.1,1365.7 505.2,1364.1 507.8,1362.8 505.6,1362.8 508.8,1361.2 508.8,1359.7 509.5,1357.6 505.2,1357.0 500.2,1355.9 497.8,1354.1 496.5,1351.8 492.4,1352.4 491.6,1350.1 494.3,1349.6 491.4,1348.0 490.4,1346.7 490.6,1345.0 487.5,1344.6 485.0,1343.8 484.2,1341.5 483.4,1340.9 483.6,1340.4 483.4,1338.3 484.8,1337.1 484.6,1336.4 486.7,1335.9 489.1,1336.0 486.7,1335.4 485.6,1334.8 484.2,1334.7 486.7,1333.3 488.7,1331.8 491.2,1330.6 492.0,1329.8 488.7,1328.1 489.7,1327.0 488.1,1325.6 488.5,1323.9 486.9,1321.4 488.7,1319.7 485.8,1318.7 485.6,1317.2 486.5,1316.9ZM57.4,1317.2 63.5,1318.4 71.8,1321.2 77.9,1323.1 75.9,1324.3 71.8,1326.8 65.6,1326.0 60.5,1322.6 57.4,1325.4ZM542.7,1310.5 540.9,1308.1 541.0,1307.8 544.1,1305.2 552.4,1302.5 562.6,1300.8 569.1,1300.3 566.8,1302.4 554.5,1304.7 548.5,1307.1 546.2,1311.0ZM521.5,1292.7 525.7,1291.6 532.1,1292.4 529.8,1294.2 521.6,1293.2ZM535.9,1293.1 542.1,1291.0 550.6,1292.2 546.2,1294.2 535.9,1293.6ZM622.1,1295.8 628.4,1293.7 638.7,1295.2 643.0,1297.6 632.5,1298.4 622.2,1296.3ZM622.2,1293.8 615.8,1292.3 624.3,1291.2 628.6,1292.3ZM632.4,1295.2 632.3,1294.9 632.5,1294.8 642.8,1295.8 647.1,1297.8 640.6,1298.4ZM708.4,1303.6 710.6,1302.1 716.7,1301.9 725.2,1303.1 722.9,1304.7 714.7,1305.1 708.5,1304.0ZM718.5,1347.7 718.9,1347.6 721.0,1349.7 722.1,1356.6 724.5,1359.1 724.5,1359.5 721.2,1362.0 722.0,1363.6 720.4,1365.3 720.0,1365.3 718.5,1363.0 718.5,1353.6 717.9,1349.9Z" fill="#FFF9BA"/><path d="M467.4,1347.4 470.0,1345.7 470.9,1345.8 473.5,1346.3 473.9,1347.5ZM526.7,1316.1 528.2,1315.7 530.7,1316.5 528.7,1317.6 526.6,1316.6ZM548.3,1314.2 551.3,1314.0 551.6,1314.3 551.2,1315.6 550.9,1315.7 548.2,1314.7ZM550.3,1291.6 560.6,1291.2 560.9,1291.4 560.9,1292.7 560.6,1293.0 550.3,1292.1 550.1,1291.9ZM614.0,1294.1 618.1,1293.7 620.4,1295.1 614.0,1294.6 613.8,1294.4ZM726.9,1303.8 731.1,1303.1 737.5,1303.5 735.2,1304.7 727.0,1304.3 726.7,1304.0ZM714.6,1307.3 716.7,1306.5 721.9,1307.1 722.0,1307.5 720.8,1308.4 714.6,1307.8ZM793.7,1312.1 796.8,1311.5 797.1,1311.8 797.1,1313.0 796.8,1313.3 793.7,1312.6ZM57.4,1311.5 61.5,1312.5 61.7,1312.8 57.4,1313.3 57.1,1313.0 57.1,1311.8ZM746.3,1355.9 746.4,1355.5 748.1,1355.1 747.3,1356.5 746.9,1356.5ZM739.1,1362.8 739.2,1362.4 740.5,1362.0 739.9,1363.2ZM735.3,1365.7 733.9,1365.8 734.1,1365.5 736.4,1364.6ZM728.7,1368.7 728.4,1368.6 728.5,1368.2 732.6,1365.9 732.9,1366.0 732.9,1366.4ZM725.8,1370.0 725.6,1369.5 728.2,1368.1 727.2,1369.7ZM767.0,1345.6 768.2,1345.7 769.3,1347.1 766.9,1346.1ZM709.4,1346.1 710.7,1345.7 711.8,1346.8 709.5,1346.5ZM762.5,1339.0 762.4,1338.5 765.2,1337.3 763.7,1339.1Z" fill="#FFF9BA" stroke-width="1.60"/><path d="M527.7,1364.1 531.9,1363.0 536.0,1363.2 536.0,1366.6 531.9,1367.2 530.4,1368.3 531.9,1371.0 534.9,1371.8 534.9,1373.9 538.0,1372.9 541.1,1375.0 542.1,1375.0 542.1,1367.2 547.5,1366.0 552.4,1368.5 554.4,1370.4 559.6,1370.1 562.7,1371.6 562.9,1373.5 563.7,1375.2 566.8,1375.6 567.8,1376.4 568.8,1375.0 571.9,1373.5 572.9,1372.9 573.3,1371.8 578.1,1371.4 579.5,1371.0 582.6,1371.8 589.4,1371.8 591.8,1373.1 592.0,1371.2 593.1,1371.0 592.0,1367.6 596.6,1366.6 597.6,1362.6 602.7,1362.8 603.1,1360.1 606.4,1358.6 602.7,1357.6 598.6,1354.7 591.4,1355.1 587.1,1349.8 584.2,1348.0 578.1,1349.4 572.9,1348.0 572.7,1345.7 568.8,1345.4 561.2,1347.5 553.0,1348.6 552.2,1351.5 553.4,1354.0 549.3,1355.5 542.1,1354.7 539.0,1354.7 532.9,1353.2 531.4,1353.4 526.7,1356.5 523.6,1356.3 523.2,1359.7 526.3,1361.8Z" fill="#FFF9BA"/><path d="M542.1,1375.0 542.1,1367.2 547.5,1366.0 552.4,1368.5 554.4,1370.4 559.6,1370.1 562.7,1371.6 562.9,1373.5 563.7,1375.2 566.8,1375.6 567.8,1376.4 568.8,1375.0 571.9,1373.5 572.9,1372.9 574.6,1374.5 577.2,1376.0 575.0,1377.1 572.1,1377.3 571.7,1375.8 569.4,1376.0 568.8,1377.3 568.0,1378.5 565.5,1378.7 567.4,1381.4 566.4,1383.5 563.7,1383.1 561.6,1381.2 558.6,1379.8 555.5,1377.7 554.2,1375.2 550.8,1375.0 550.3,1373.1 547.3,1372.0 545.8,1373.1 544.2,1375.0Z" fill="#FFF9BA"/><path d="M534.9,1373.9 538.0,1372.9 541.1,1375.0 542.1,1375.0 544.2,1375.0 545.8,1373.1 547.3,1372.0 550.3,1373.1 550.8,1375.0 554.2,1375.2 555.5,1377.7 558.6,1379.8 561.6,1381.2 563.7,1383.1 561.8,1383.3 560.2,1383.7 559.6,1385.4 556.5,1386.3 555.1,1387.5 553.0,1386.9 552.6,1384.8 551.0,1384.8 548.9,1382.9 544.8,1381.4 542.1,1381.9 539.7,1383.1 537.8,1383.2 537.6,1379.8 536.0,1378.7 537.0,1376.6 535.6,1375.2Z" fill="#FFF9BA"/><path d="M572.9,1372.9 573.3,1371.8 578.1,1371.4 579.5,1371.0 582.6,1371.8 589.4,1371.8 591.8,1373.1 588.3,1374.7 584.8,1375.6 583.2,1376.8 580.7,1376.6 578.7,1378.1 578.5,1378.8 575.0,1378.9 571.9,1378.5 569.4,1378.7 569.9,1377.5 572.1,1377.3 575.0,1377.1 577.2,1376.0 574.6,1374.5Z" fill="#FFF9BA"/><path d="M566.4,1383.5 567.4,1381.4 565.5,1378.7 568.0,1378.5 568.8,1377.3 569.4,1376.0 571.7,1375.8 572.1,1377.3 569.9,1377.5 569.4,1378.7 571.9,1378.5 575.0,1378.9 578.5,1378.8 578.7,1380.6 580.9,1381.0 580.9,1383.4 577.7,1383.1 576.0,1384.2 574.2,1384.6 574.0,1382.1 571.5,1381.2 569.9,1382.9 566.8,1384.0Z" fill="#FFF9BA"/><path d="M553.0,1386.9 555.1,1387.5 556.5,1386.3 559.6,1385.4 560.2,1383.7 561.8,1383.3 563.7,1383.1 566.4,1383.5 566.8,1384.0 569.9,1382.9 571.5,1381.2 574.0,1382.1 574.2,1384.6 576.0,1384.2 577.7,1383.1 580.9,1383.4 579.1,1384.4 576.0,1385.6 573.3,1386.1 574.2,1387.7 572.9,1390.0 570.9,1390.4 569.9,1392.3 569.4,1394.6 566.4,1395.7 563.5,1396.7 563.3,1398.9 558.6,1399.9 555.5,1399.9 552.1,1398.9 554.0,1395.7 552.0,1395.5 551.6,1391.9 551.6,1389.6Z" fill="#FFF9BA"/><path d="M552.1,1398.9 554.0,1401.5 556.1,1402.4 556.1,1404.5 557.1,1405.7 554.2,1406.6 553.6,1408.7 558.6,1408.4 563.7,1408.2 564.7,1409.5 565.7,1411.4 567.2,1411.8 568.4,1410.5 572.9,1410.3 572.5,1407.6 571.1,1405.7 569.9,1404.9 571.9,1402.8 574.8,1403.0 577.0,1400.3 578.9,1398.2 580.3,1396.3 580.1,1393.4 582.0,1393.8 579.1,1392.3 578.9,1389.0 584.8,1386.9 586.9,1387.1 583.2,1386.1 583.0,1384.8 580.9,1383.4 579.1,1384.4 576.0,1385.6 573.3,1386.1 574.2,1387.7 572.9,1390.0 570.9,1390.4 569.9,1392.3 569.4,1394.6 566.4,1395.7 563.5,1396.7 563.3,1398.9 558.6,1399.9 555.5,1399.9Z" fill="#FFF9BA"/><path d="M567.2,1411.8 568.2,1412.8 571.5,1413.5 568.8,1414.7 570.9,1417.7 572.9,1418.1 575.4,1417.0 576.2,1414.9 576.2,1416.4 576.6,1421.6 577.7,1426.9 579.3,1430.4 580.7,1434.4 582.8,1438.0 583.8,1441.5 586.3,1444.5 587.7,1442.8 589.8,1441.9 591.1,1439.8 591.0,1436.5 592.0,1434.0 591.6,1429.6 593.9,1427.9 596.1,1426.4 598.2,1424.4 601.7,1421.0 604.8,1419.1 605.8,1416.4 608.1,1416.2 610.1,1416.0 609.7,1412.8 609.3,1410.5 608.1,1409.7 608.5,1407.4 608.7,1405.9 611.5,1407.0 611.5,1408.4 616.9,1409.1 616.5,1410.7 614.4,1411.2 614.6,1412.8 615.7,1413.3 616.7,1416.6 617.3,1416.8 618.5,1414.9 618.9,1411.2 621.4,1408.7 622.6,1405.7 626.3,1403.4 627.0,1402.2 624.3,1400.1 621.2,1400.3 616.3,1403.2 615.5,1403.2 616.3,1405.1 611.5,1405.5 609.7,1404.3 609.5,1402.7 608.1,1403.0 608.1,1406.1 603.3,1405.7 599.6,1403.8 593.5,1402.0 591.6,1401.1 592.4,1399.0 593.5,1398.2 589.8,1396.1 589.0,1395.9 588.1,1393.4 590.4,1392.7 589.0,1389.4 591.8,1387.1 586.9,1387.1 584.8,1386.9 578.9,1389.0 579.1,1392.3 582.0,1393.8 580.1,1393.4 580.3,1396.3 578.9,1398.2 577.0,1400.3 574.8,1403.0 571.9,1402.8 569.9,1404.9 571.1,1405.7 572.5,1407.6 572.9,1410.3 568.4,1410.5Z" fill="#FFF9BA"/><path d="M617.5,1433.1 618.1,1435.2 617.7,1437.1 617.3,1435.2ZM619.6,1446.3 620.0,1446.7 619.8,1447.2ZM616.9,1438.8 617.3,1439.2 617.1,1439.4Z" fill="#FFF9BA" stroke-width="1.60"/><path d="M608.1,1403.0 608.1,1406.1 603.3,1405.7 599.6,1403.8 593.5,1402.0 591.6,1401.1 592.4,1399.0 593.5,1398.2 595.9,1398.4 598.6,1400.3 602.1,1401.7 604.8,1402.8 606.2,1403.1Z" fill="#FFF9BA"/><path d="M609.7,1404.3 611.5,1405.5 616.3,1405.1 615.5,1403.2 613.0,1402.6 610.9,1402.6Z" fill="#FFF9BA"/><path d="M610.1,1416.0 609.7,1412.8 609.3,1410.5 608.1,1409.7 608.5,1407.4 608.7,1405.9 611.5,1407.0 611.5,1408.4 616.9,1409.1 616.5,1410.7 614.4,1411.2 614.6,1412.8 615.7,1413.3 616.7,1416.6 617.3,1416.8 616.7,1418.1 615.7,1414.7 613.6,1414.7 612.6,1415.6Z" fill="#FFF9BA"/><path d="M591.2,1440.9 593.1,1441.9 595.1,1445.7 594.9,1447.8 592.7,1448.9 591.4,1448.2 590.8,1444.2Z" fill="#FFF9BA"/><path d="M577.9,1452.4 578.3,1452.8 578.1,1453.2ZM577.2,1460.4 577.7,1460.8 577.5,1461.0ZM576.8,1448.2 577.2,1448.6 577.0,1449.1Z" fill="#FFF9BA" stroke-width="1.60"/><path d="M519.1,1378.3 520.6,1379.8 522.6,1380.0 525.3,1378.3 526.3,1378.9 525.7,1380.2 527.5,1381.0 528.0,1382.7 530.2,1383.1 532.9,1384.6 536.0,1384.2 537.8,1383.2 539.7,1383.1 542.1,1381.9 544.8,1381.4 548.9,1382.9 551.0,1384.8 552.6,1384.8 553.0,1386.9 551.6,1389.6 551.6,1391.9 552.0,1395.5 554.0,1395.7 552.1,1398.9 554.0,1401.5 556.1,1402.4 556.1,1404.5 557.1,1405.7 554.2,1406.6 553.6,1408.7 549.3,1408.2 545.8,1407.6 544.2,1405.3 542.7,1404.6 539.5,1405.9 537.0,1405.5 534.9,1403.6 532.9,1403.0 531.4,1400.9 530.2,1398.4 528.8,1398.4 527.5,1397.8 526.8,1398.7 525.7,1397.6 525.7,1396.5 525.1,1395.7 525.3,1393.8 521.8,1392.3 520.4,1390.2 522.0,1387.9 520.4,1386.1 519.1,1383.5 518.1,1381.0 517.5,1378.9 518.3,1378.9Z" fill="#FEECA8"/><path d="M540.7,1405.5 542.7,1405.0 541.9,1405.7Z" fill="#FEECA8" stroke-width="1.60"/><path d="M514.2,1383.7 519.1,1383.5 520.4,1386.1 522.0,1387.9 520.4,1390.2 521.8,1392.3 525.3,1393.8 525.1,1395.7 525.7,1396.5 525.7,1397.6 526.8,1398.7 525.6,1398.6 525.1,1398.4 524.5,1398.6 522.7,1400.5 518.9,1400.3 513.6,1396.3 510.1,1394.5 507.6,1394.1 506.8,1391.5 511.3,1389.4 511.7,1386.9 513.0,1384.8Z" fill="#FFF9BA"/><path d="M522.7,1400.5 524.5,1398.6 525.1,1398.4 525.6,1398.6 525.9,1399.9 526.5,1401.6 525.1,1401.6 524.7,1400.7Z" fill="#FFF9BA"/><path d="M500.8,1386.3 501.5,1386.4 502.5,1385.5 503.1,1384.6 506.8,1384.6 510.7,1383.7 514.2,1383.7 513.0,1384.8 511.7,1386.9 511.3,1389.4 506.8,1391.5 502.7,1393.8 500.8,1393.0 500.6,1391.7 502.3,1389.8 501.0,1388.9Z" fill="#FFF9BA"/><path d="M499.2,1392.1 500.2,1391.7 500.6,1391.7 502.3,1389.8 501.0,1388.9 500.0,1390.4Z" fill="#FFF9BA"/><path d="M497.3,1395.9 498.8,1399.7 499.8,1396.3 500.1,1393.6 500.8,1393.0 500.6,1391.7 500.2,1391.7 499.2,1392.1 498.8,1393.8Z" fill="#FFF9BA"/><path d="M498.9,1395.3 500.0,1395.5 500.1,1393.6 499.4,1393.3 498.9,1394.0Z" fill="#FFF9BA"/><path d="M497.3,1395.9 498.0,1395.3 498.1,1395.5Z" fill="#FFF9BA" stroke-width="1.60"/><path d="M498.9,1400.0 498.8,1399.7 499.8,1396.3 500.1,1393.6 500.8,1393.0 502.7,1393.8 506.8,1391.5 507.6,1394.1 503.1,1395.5 505.2,1397.6 504.1,1398.6 501.2,1400.3Z" fill="#FFF9BA"/><path d="M498.9,1400.0 501.2,1400.3 504.1,1398.6 505.2,1397.6 503.1,1395.5 507.6,1394.1 510.1,1394.5 513.6,1396.3 518.9,1400.3 522.7,1400.5 524.7,1400.7 525.1,1401.6 526.5,1401.6 527.5,1403.6 530.0,1405.5 530.2,1407.8 531.4,1409.6 532.7,1409.9 533.1,1410.6 535.1,1413.4 540.3,1414.0 541.3,1415.4 540.1,1419.5 533.9,1422.3 527.7,1423.1 526.1,1423.9 524.7,1425.6 522.4,1425.3 519.9,1425.0 517.1,1425.0 515.8,1426.4 515.0,1427.1 513.8,1424.8 511.7,1422.3 510.3,1420.0 507.6,1417.4 507.2,1414.7 505.4,1411.2 503.5,1409.1 502.5,1407.0 500.2,1403.8 498.2,1402.6Z" fill="#FFF9BA"/><path d="M515.0,1427.1 515.8,1426.4 517.1,1425.0 519.9,1425.0 522.4,1425.3 524.7,1425.6 526.1,1423.9 527.7,1423.1 533.9,1422.3 536.2,1426.6 534.3,1428.7 528.2,1431.9 524.7,1433.4 519.7,1434.6 516.4,1434.9 515.8,1433.6 515.2,1430.2Z" fill="#FFF9BA"/><path d="M536.8,1435.0 539.0,1435.2 537.6,1435.7Z" fill="#FFF9BA" stroke-width="1.60"/><path d="M536.2,1426.6 533.9,1422.3 540.1,1419.5 541.3,1415.4 540.3,1414.0 540.5,1413.3 541.7,1410.7 542.7,1409.3 543.4,1410.1 544.6,1411.4 547.5,1412.0 549.9,1414.3 549.3,1416.6 547.3,1418.7 545.8,1419.1 545.6,1421.6 543.4,1422.7 541.1,1424.1 539.7,1425.8Z" fill="#FFF9BA"/><path d="M542.3,1407.0 542.9,1406.1 543.0,1407.4Z" fill="#FFF9BA" stroke-width="1.60"/><path d="M533.1,1410.6 535.1,1413.4 540.3,1414.0 540.5,1413.3 541.7,1410.7 542.7,1409.3 543.0,1407.4 542.3,1407.0 540.7,1408.4 538.8,1410.5 536.0,1410.9 533.7,1411.2Z" fill="#FFF9BA"/><path d="M531.4,1409.6 532.7,1409.9 533.1,1408.4 532.9,1407.1 532.3,1406.7 531.4,1407.8Z" fill="#FFF9BA"/><path d="M530.7,1406.6 531.1,1406.6 531.0,1407.3Z" fill="#FFF9BA" stroke-width="1.60"/><path d="M509.3,1370.6 514.4,1371.0 517.1,1372.0 519.5,1372.0 522.4,1373.7 522.6,1375.4 519.5,1375.2 516.4,1375.4 514.4,1374.6 512.3,1374.5 512.8,1373.3 511.9,1371.8Z" fill="#FFF9BA"/><path d="M516.4,1375.4 519.5,1375.2 520.8,1376.0 521.4,1377.3 522.6,1378.7 522.6,1380.0 520.6,1379.8 519.1,1378.3 516.9,1377.5Z" fill="#FFF9BA"/><path d="M522.6,1375.4 522.4,1373.7 525.5,1375.2 526.7,1373.8 528.8,1376.4 530.4,1376.8 528.6,1377.5 528.4,1379.4 527.5,1381.0 525.7,1380.2 526.3,1378.9 525.3,1378.3 522.6,1380.0 522.6,1378.7 521.4,1377.3 520.8,1376.0 519.5,1375.2Z" fill="#FFF9BA"/><path d="M519.1,1378.3 520.6,1379.8 521.8,1380.0 520.4,1378.7Z" fill="#FFF9BA" stroke-width="1.60"/><path d="M607.4,1358.4 607.9,1359.7 612.0,1361.1 614.0,1363.9 613.8,1366.8 619.1,1367.4 623.1,1368.7 625.1,1372.0 632.5,1372.2 636.2,1372.4 642.8,1374.3 647.9,1372.7 653.0,1372.2 656.7,1369.9 656.9,1367.2 660.4,1367.6 665.4,1365.7 668.2,1364.3 673.2,1363.7 673.0,1362.6 670.5,1361.1 669.1,1360.9 665.4,1361.1 664.5,1360.5 666.8,1357.1 669.1,1357.8 671.5,1356.5 675.0,1352.6 673.6,1351.3 675.4,1349.8 680.4,1349.3 685.9,1350.9 689.0,1356.2 690.0,1357.6 695.4,1359.1 696.2,1361.6 700.3,1361.1 703.8,1360.3 702.3,1362.2 700.3,1367.0 696.8,1367.4 696.4,1370.4 695.4,1372.2 694.5,1371.6 693.5,1372.7 690.2,1373.5 687.8,1373.9 685.9,1375.8 682.5,1377.8 679.7,1378.5 676.0,1380.2 677.1,1377.7 678.1,1376.4 675.6,1375.8 672.8,1377.9 669.5,1379.4 668.9,1380.6 671.3,1382.7 671.9,1383.5 675.0,1382.3 678.9,1383.1 678.3,1384.2 674.2,1385.8 672.1,1387.9 674.2,1389.6 675.4,1393.2 677.5,1395.1 677.5,1396.7 675.4,1398.2 677.7,1398.8 676.9,1402.2 674.8,1404.3 673.0,1407.4 670.7,1409.9 669.7,1410.3 667.4,1412.4 664.3,1413.9 661.7,1414.7 660.2,1414.9 657.1,1416.0 654.1,1417.0 653.7,1418.9 652.6,1416.6 650.2,1416.0 648.9,1416.4 646.9,1415.4 646.1,1413.5 643.6,1412.6 642.4,1413.7 640.5,1414.3 638.7,1414.3 636.9,1414.5 636.2,1414.5 636.0,1417.0 634.9,1416.3 632.9,1416.6 630.9,1415.1 631.5,1413.3 629.8,1411.2 627.6,1411.2 629.8,1407.2 629.8,1403.6 627.2,1402.2 624.3,1400.1 621.2,1400.3 616.3,1403.2 615.5,1403.2 613.0,1402.6 610.9,1402.6 609.7,1404.3 609.5,1402.7 608.1,1403.0 606.2,1403.1 604.8,1402.8 602.1,1401.7 598.6,1400.3 595.9,1398.4 593.5,1398.2 589.8,1396.1 589.0,1395.9 588.1,1393.4 590.4,1392.7 589.0,1389.4 591.8,1387.1 586.9,1387.1 583.2,1386.1 583.0,1384.8 580.9,1383.4 580.9,1381.0 578.7,1380.6 578.5,1378.8 578.7,1378.1 580.7,1376.6 583.2,1376.8 584.8,1375.6 588.3,1374.7 591.8,1373.1 592.0,1371.2 593.1,1371.0 592.0,1367.6 596.6,1366.6 597.6,1362.6 602.7,1362.8 603.1,1360.1 606.4,1358.6Z" fill="#D8434E"/><path d="M650.4,1421.2 652.0,1419.5 654.3,1419.3 655.1,1420.4 654.1,1422.1 652.2,1423.3 650.4,1422.7Z" fill="#D8434E" stroke-width="1.60"/><path d="M675.6,1409.1 677.5,1409.1 676.7,1412.2 675.4,1415.5 674.0,1413.7 674.0,1411.6Z" fill="#FFF9BA"/><path d="M607.4,1358.4 607.9,1359.7 612.0,1361.1 614.0,1363.9 613.8,1366.8 619.1,1367.4 623.1,1368.7 625.1,1372.0 632.5,1372.2 636.2,1372.4 642.8,1374.3 647.9,1372.7 653.0,1372.2 656.7,1369.9 656.9,1367.2 660.4,1367.6 665.4,1365.7 668.2,1364.3 673.2,1363.7 673.0,1362.6 670.5,1361.1 669.1,1360.9 665.4,1361.1 664.5,1360.5 666.8,1357.1 664.3,1356.3 661.9,1356.1 657.1,1358.0 650.0,1358.2 645.9,1356.1 638.7,1356.1 637.2,1354.0 630.4,1352.6 628.4,1353.6 628.4,1356.8 622.2,1356.8 617.1,1355.1 612.0,1356.5Z" fill="#FFF9BA"/><path d="M682.5,1377.8 685.9,1375.8 687.8,1373.9 690.2,1373.5 693.5,1372.7 694.5,1371.6 695.4,1372.2 695.6,1372.9 693.5,1374.7 693.5,1376.0 690.6,1377.7 689.0,1378.3 689.0,1379.4 690.7,1380.6 688.2,1381.2 687.3,1382.3 686.1,1382.5 684.5,1382.5 683.2,1381.7 684.3,1380.4 684.1,1378.7Z" fill="#FFF9BA"/><path d="M686.1,1382.5 687.3,1382.3 688.2,1381.2 690.7,1380.6 692.9,1383.7 692.9,1386.1 692.5,1387.7 690.0,1388.4 686.9,1389.6 686.7,1387.1 686.9,1384.6 687.1,1383.3Z" fill="#FFF9BA"/><path d="M686.3,1391.7 687.8,1391.3 687.1,1391.9Z" fill="#FFF9BA" stroke-width="1.60"/><path d="M716.7,1374.5 717.7,1376.6 718.8,1378.7 717.7,1381.2 716.7,1382.9 715.9,1385.4 716.4,1386.7 714.7,1388.1 714.2,1386.9 713.0,1387.7 712.2,1389.0 711.0,1389.0 708.5,1389.0 708.3,1388.1 707.1,1391.3 706.0,1391.4 704.6,1389.6 705.0,1388.8 702.3,1388.8 699.3,1389.6 696.2,1390.3 696.2,1389.4 699.5,1387.2 702.7,1387.0 705.4,1387.1 706.6,1385.6 708.1,1383.3 709.1,1382.9 708.5,1384.4 711.6,1383.1 713.6,1380.8 714.7,1378.1 714.7,1376.4 715.3,1375.2ZM715.3,1374.5 714.7,1373.1 715.3,1370.8 717.9,1366.4 719.8,1367.8 723.5,1369.3 725.5,1368.7 726.2,1370.8 722.9,1371.6 721.2,1373.5 718.4,1372.2 716.7,1372.9 716.9,1373.9ZM696.0,1390.4 697.6,1391.1 698.2,1392.7 697.0,1395.7 695.6,1396.5 694.5,1395.9 694.5,1393.2 693.5,1391.9 694.7,1391.1Z" fill="#FFF9BA"/><path d="M699.3,1390.2 703.6,1389.8 702.7,1391.7 700.3,1392.9 699.0,1391.5ZM689.4,1406.8 690.6,1405.3 690.0,1406.4ZM692.7,1402.4 693.5,1401.7 693.1,1402.4ZM694.9,1398.0 695.6,1397.8 695.1,1398.2ZM682.0,1410.3 682.4,1410.1 682.2,1410.4ZM711.2,1381.7 711.8,1381.2 711.6,1382.3ZM692.7,1389.6 693.1,1388.8 692.9,1389.6Z" fill="#FFF9BA" stroke-width="1.60"/><path d="M617.3,1416.8 616.7,1418.1 618.1,1420.0 620.8,1423.3 620.8,1427.9 623.1,1428.3 625.9,1426.0 626.7,1426.0 627.6,1426.9 628.0,1430.0 628.8,1433.1 629.6,1436.9 629.5,1440.5 630.0,1439.0 631.7,1436.7 630.9,1433.8 628.8,1429.8 629.6,1427.3 627.2,1422.7 628.4,1420.2 632.7,1418.8 633.7,1417.9 634.9,1416.3 632.9,1416.6 630.9,1415.1 631.5,1413.3 629.8,1411.2 627.6,1411.2 629.8,1407.2 629.8,1403.6 627.2,1402.2 626.3,1403.4 622.6,1405.7 621.4,1408.7 618.9,1411.2 618.5,1414.9Z" fill="#FFF9BA"/><path d="M629.5,1440.5 630.0,1439.0 631.7,1436.7 630.9,1433.8 628.8,1429.8 629.6,1427.3 627.2,1422.7 628.4,1420.2 632.7,1418.8 633.7,1420.6 635.2,1420.6 634.6,1424.1 636.8,1423.3 639.3,1422.9 642.2,1425.0 642.4,1427.1 644.0,1429.0 643.2,1431.4 638.7,1431.6 637.4,1432.9 638.5,1437.0 637.0,1435.7 634.3,1434.8 634.5,1433.4 633.1,1433.1 632.5,1435.2 631.1,1438.8 631.1,1441.9 633.1,1443.8 633.7,1446.3 636.2,1447.2 636.8,1448.3 634.8,1449.5 632.7,1447.9 631.7,1446.3 629.2,1444.7 629.0,1442.6Z" fill="#FFF9BA"/><path d="M632.7,1418.8 633.7,1417.9 634.9,1416.3 636.0,1417.0 636.2,1414.5 636.9,1414.5 638.5,1416.0 640.5,1417.7 642.6,1418.9 640.7,1420.8 643.2,1422.5 645.9,1425.8 647.9,1428.1 647.9,1430.6 644.8,1431.4 643.2,1431.4 644.0,1429.0 642.4,1427.1 642.2,1425.0 639.3,1422.9 636.8,1423.3 634.6,1424.1 635.2,1420.6 633.7,1420.6Z" fill="#FFF9BA"/><path d="M648.9,1416.4 646.5,1418.1 644.6,1420.6 644.2,1422.3 645.9,1424.4 647.5,1426.2 649.5,1427.7 651.2,1431.1 651.8,1434.6 651.4,1436.9 648.7,1439.0 646.9,1439.8 645.9,1441.3 643.4,1443.0 642.3,1443.4 642.6,1440.9 641.6,1439.6 643.0,1438.5 645.2,1438.4 644.6,1436.9 647.9,1435.7 647.9,1430.6 647.9,1428.1 645.9,1425.8 643.2,1422.5 640.7,1420.8 642.6,1418.9 640.5,1417.7 638.5,1416.0 636.9,1414.5 638.7,1414.3 640.5,1414.3 642.4,1413.7 643.6,1412.6 646.1,1413.5 646.9,1415.4Z" fill="#FFF9BA"/><path d="M638.5,1437.0 637.4,1432.9 638.7,1431.6 643.2,1431.4 644.8,1431.4 647.9,1430.6 647.9,1435.7 644.6,1436.9 645.2,1438.4 643.0,1438.5 641.6,1439.6 639.9,1439.4 638.9,1438.2Z" fill="#FFF9BA"/><path d="M632.7,1447.9 634.8,1449.5 636.8,1448.3 639.5,1451.4 639.5,1454.1 641.1,1458.5 639.7,1458.7 637.0,1456.8 635.2,1455.1 633.7,1452.6 633.1,1449.9ZM652.2,1457.2 655.5,1458.5 655.9,1456.4 659.2,1454.7 661.3,1452.0 661.5,1451.8 662.7,1453.0 663.7,1452.4 663.9,1451.1 664.5,1449.9 665.4,1448.8 666.8,1446.7 668.9,1448.0 671.9,1450.3 669.7,1452.4 668.7,1452.7 664.7,1452.6 664.3,1455.1 662.9,1457.4 660.4,1458.7 657.6,1458.3 654.3,1459.6 652.2,1458.7Z" fill="#FFF9BA"/><path d="M639.9,1458.5 640.7,1458.4 640.5,1458.8Z" fill="#FFF9BA" stroke-width="1.60"/><path d="M661.5,1451.8 663.1,1450.9 663.9,1451.1 663.7,1452.4 662.7,1453.0Z" fill="#FFF9BA"/><path d="M622.8,1449.7 627.4,1450.5 629.8,1453.4 633.3,1456.6 636.2,1457.8 639.5,1460.4 640.3,1463.5 641.9,1465.6 645.0,1467.7 644.6,1470.8 644.4,1473.6 641.9,1473.5 637.2,1469.8 634.3,1466.0 633.1,1463.3 630.4,1459.5 627.8,1456.2 624.7,1453.0ZM643.2,1475.6 645.0,1473.7 646.9,1473.9 650.0,1475.0 654.1,1475.8 655.1,1474.8 658.4,1475.8 662.3,1477.7 662.1,1479.6 658.6,1479.0 653.0,1477.9 648.9,1477.7 645.6,1476.9ZM652.2,1457.2 651.0,1458.3 651.0,1460.8 651.4,1463.3 653.0,1464.5 653.5,1467.5 656.5,1468.1 659.2,1468.3 662.3,1468.9 662.7,1470.1 665.4,1469.1 666.4,1466.6 666.4,1464.5 668.4,1462.9 668.4,1460.4 671.5,1459.3 669.3,1457.2 668.7,1454.7 668.7,1452.7 664.7,1452.6 664.3,1455.1 662.9,1457.4 660.4,1458.7 657.6,1458.3 654.3,1459.6 652.2,1458.7ZM673.2,1459.7 674.0,1458.7 675.6,1458.7 679.7,1459.3 683.4,1457.8 684.3,1458.3 682.6,1460.4 679.7,1460.4 676.3,1460.4 674.2,1460.6 673.6,1462.9 675.6,1464.1 677.1,1463.3 680.4,1463.1 680.6,1463.5 678.3,1464.7 677.1,1465.4 678.7,1468.1 679.5,1470.4 680.2,1471.2 678.7,1472.9 676.9,1471.4 676.3,1469.4 675.4,1467.1 674.2,1467.7 674.4,1472.9 672.6,1473.1 672.6,1468.7 671.1,1467.3 672.1,1464.1 673.2,1461.4ZM696.6,1463.1 699.3,1462.1 702.3,1463.1 702.7,1466.2 704.4,1468.3 707.5,1466.0 710.6,1464.7 716.7,1466.8 716.7,1480.4 713.6,1478.4 711.0,1479.0 709.9,1476.7 712.2,1475.6 710.6,1472.9 706.2,1470.8 701.3,1469.8 699.9,1470.0 700.1,1467.3 701.7,1466.6 698.2,1466.0 696.0,1464.3Z" fill="#FFF9BA"/><path d="M662.3,1478.6 663.7,1478.2 664.7,1479.0 663.7,1479.8ZM665.4,1478.8 666.8,1478.9 666.4,1480.0 665.4,1479.8ZM667.0,1479.2 669.5,1478.4 671.7,1479.4 670.1,1479.8 667.4,1480.2ZM673.4,1479.2 676.7,1479.2 679.7,1478.8 679.3,1479.6 674.6,1479.9ZM671.5,1481.3 673.6,1481.0 675.2,1482.7 673.2,1482.3ZM680.8,1483.0 683.7,1480.7 683.7,1481.7 682.0,1482.7ZM689.0,1459.3 690.0,1457.0 691.4,1458.3 690.0,1460.4 691.7,1460.8 690.4,1463.1 689.6,1461.0ZM690.0,1467.7 693.1,1467.3 695.8,1468.5 693.7,1468.5 690.4,1468.7ZM685.9,1467.9 688.4,1468.3 687.5,1469.4 686.1,1468.7ZM682.4,1465.0 684.5,1465.2 685.9,1465.4 683.4,1465.5ZM678.5,1472.1 680.2,1472.5 678.9,1473.1ZM695.8,1462.0 696.8,1462.0 696.2,1461.5ZM703.0,1473.5 703.8,1474.6 703.0,1475.6 702.5,1474.4ZM696.2,1477.5 697.6,1476.5 697.2,1477.9ZM685.5,1477.7 687.3,1477.3 686.3,1477.9ZM644.2,1464.7 646.3,1466.6 644.8,1467.5 643.2,1465.6ZM648.1,1466.8 649.5,1467.5 648.5,1468.1ZM626.3,1458.5 628.2,1460.1 627.2,1459.3ZM629.6,1463.5 631.1,1465.2 630.2,1464.5ZM632.3,1467.1 633.3,1468.1 632.7,1467.7ZM623.9,1455.5 625.3,1456.4 624.3,1456.0ZM648.9,1453.2 649.8,1453.4 649.1,1453.9ZM641.3,1459.3 641.9,1459.1 641.7,1459.7ZM641.5,1461.8 642.6,1462.0 641.9,1462.7ZM705.4,1462.9 707.5,1463.9 706.4,1463.9ZM705.4,1464.7 708.1,1465.2 706.9,1465.4ZM687.5,1453.0 688.0,1452.2 687.3,1452.4ZM684.7,1454.3 685.3,1453.7 684.9,1453.9Z" fill="#FFF9BA" stroke-width="1.60"/><path d="M683.7,1480.7 685.5,1479.4 688.6,1479.0 686.9,1480.2 683.7,1481.7Z" fill="#FFF9BA" stroke-width="1.60"/><path d="M716.7,1466.8 719.8,1468.1 723.9,1469.4 726.6,1471.9 729.0,1474.0 730.7,1475.4 729.0,1475.8 731.1,1478.6 733.8,1480.4 736.8,1483.0 734.8,1483.4 729.4,1481.3 727.0,1478.4 723.9,1477.3 721.8,1478.8 721.4,1480.2 716.7,1480.4Z" fill="#FFF9BA"/><path d="M731.7,1473.1 734.2,1472.9 736.2,1472.9 738.3,1471.7 739.9,1470.2 738.5,1470.2 736.6,1471.9 734.4,1474.4 731.9,1473.5ZM736.8,1466.8 739.3,1468.3 741.2,1471.0 740.1,1470.2 738.3,1468.1ZM744.9,1472.7 746.7,1474.4 747.3,1475.6 745.9,1475.0ZM728.2,1465.6 729.9,1465.7 729.0,1466.0ZM736.6,1480.9 737.9,1482.1 737.0,1481.9ZM741.8,1485.3 742.8,1485.7 742.2,1485.7Z" fill="#FFF9BA" stroke-width="1.60"/><path d="M674.8,1422.7 678.1,1422.7 678.3,1425.8 676.9,1428.1 676.9,1431.5 679.1,1431.5 682.0,1435.0 680.4,1434.2 678.7,1432.9 677.1,1432.3 674.8,1432.5 675.4,1430.8 673.8,1430.4 673.2,1427.3 674.4,1426.7ZM677.9,1447.0 679.3,1445.1 680.6,1443.2 683.2,1443.6 684.9,1440.9 686.7,1443.6 687.1,1446.1 686.3,1448.2 684.7,1449.7 684.5,1447.2 682.2,1448.4 681.8,1445.7 680.4,1445.7Z" fill="#FFF9BA"/><path d="M682.2,1435.4 682.4,1435.0 684.7,1435.2 685.5,1438.1 685.2,1438.4 683.6,1438.0 683.4,1436.8ZM682.4,1437.4 682.8,1437.2 684.0,1438.4 684.5,1440.2 684.3,1440.5 683.2,1440.3ZM679.3,1438.5 680.8,1438.3 681.0,1438.6 680.4,1442.4 680.0,1442.5 678.5,1440.8ZM677.4,1436.7 677.7,1436.5 680.0,1437.1 680.2,1439.4 679.9,1439.7 677.7,1439.7 677.4,1439.4ZM680.3,1439.7 681.6,1437.8 681.9,1437.7 681.0,1441.6ZM681.3,1440.9 681.3,1440.4 683.0,1440.0 683.2,1440.4 682.6,1441.4ZM674.2,1433.5 674.4,1433.1 676.7,1433.3 676.9,1433.6 676.7,1435.9 675.4,1436.0ZM667.6,1443.7 668.1,1442.6 672.6,1437.5 672.7,1439.6 668.0,1444.0ZM677.4,1436.3 677.3,1435.9 678.5,1435.3 678.1,1436.4ZM680.7,1435.8 681.7,1435.0 682.0,1435.3 681.6,1436.6 681.2,1436.6ZM673.6,1436.9 673.2,1436.1 674.3,1435.4 674.0,1436.8ZM677.3,1447.7 677.5,1447.3 678.5,1447.5 677.8,1448.2ZM675.2,1448.9 675.4,1448.6 676.7,1448.8 675.7,1449.5ZM673.1,1451.0 673.1,1450.5 674.2,1450.1 673.8,1451.1ZM677.1,1418.9 677.2,1418.5 677.9,1418.3 677.7,1419.0ZM677.3,1421.7 677.2,1421.0 677.6,1420.8 677.9,1421.1 677.7,1421.7Z" fill="#FFF9BA" stroke-width="1.60"/><path d="M661.5,1507.0 661.7,1508.5 660.2,1511.6 660.0,1516.0 661.7,1516.4 662.5,1521.1 664.7,1527.3 663.5,1531.7 663.5,1533.2 669.3,1534.9 673.6,1532.4 680.8,1532.4 685.9,1529.0 692.1,1527.5 696.6,1527.3 702.7,1529.8 705.6,1534.4 709.5,1530.5 710.1,1529.6 709.5,1533.0 708.3,1535.3 710.8,1533.4 711.6,1535.9 714.0,1537.2 715.9,1540.9 721.8,1542.6 724.3,1541.4 727.8,1543.2 731.1,1540.7 735.2,1539.9 735.6,1536.1 737.9,1532.1 740.3,1528.8 741.6,1524.8 742.6,1521.3 741.6,1517.9 741.8,1513.7 737.3,1510.6 736.8,1508.7 733.8,1506.0 731.7,1503.3 728.6,1501.6 727.0,1498.2 725.8,1494.9 725.5,1492.6 722.7,1491.5 721.6,1487.8 719.8,1483.8 718.2,1488.2 717.9,1491.7 716.5,1498.0 713.6,1498.0 710.1,1494.9 705.4,1492.6 706.4,1489.2 708.3,1486.9 705.4,1486.5 701.3,1486.1 699.5,1485.1 695.8,1487.4 694.3,1489.7 693.1,1492.6 690.4,1492.6 688.0,1490.5 684.9,1491.7 682.4,1495.7 680.8,1497.8 678.1,1499.1 676.0,1502.2 671.5,1503.3 667.4,1504.7 664.3,1506.4ZM724.3,1546.6 728.0,1547.4 731.7,1547.0 731.7,1549.7 730.9,1551.8 728.6,1552.7 726.0,1551.2 725.3,1549.7Z" fill="#FFF9BA"/><path d="M707.7,1536.1 709.7,1535.9 710.8,1536.5 708.5,1536.9ZM694.5,1485.3 696.8,1485.1 696.2,1486.1 694.9,1485.9ZM707.5,1490.3 708.3,1490.9 707.7,1491.2ZM722.7,1544.5 723.1,1545.1 722.7,1545.3ZM731.1,1544.7 731.7,1545.5 731.1,1546.0ZM713.2,1495.9 714.0,1495.9 713.6,1496.4ZM741.6,1513.3 742.0,1514.8 741.4,1515.2Z" fill="#FFF9BA" stroke-width="1.60"/><path d="M781.8,1533.4 785.1,1535.3 786.1,1538.6 788.4,1540.1 791.1,1540.9 793.7,1540.3 792.5,1543.2 790.7,1543.9 790.5,1546.0 787.2,1548.5 786.1,1547.8 787.0,1545.5 784.5,1544.1 784.1,1543.7 785.7,1542.6 785.9,1539.7 782.9,1534.7ZM781.8,1546.2 784.9,1547.4 785.1,1548.7 783.9,1550.1 782.0,1552.7 782.6,1553.1 779.0,1554.1 777.9,1557.5 775.3,1558.9 772.8,1558.9 769.1,1557.7 769.7,1556.0 772.2,1553.9 776.3,1551.8 779.0,1549.7 780.4,1547.0Z" fill="#FFF9BA"/><path d="M771.4,1559.4 772.6,1559.8 771.8,1560.2ZM64.0,1553.1 65.2,1553.1 64.6,1553.5Z" fill="#FFF9BA" stroke-width="1.60"/><path d="M376.8,1324.3 378.2,1322.8 380.9,1322.4 382.9,1324.3 385.4,1323.1 390.1,1322.8 394.2,1322.2 397.1,1323.7 399.2,1325.4 396.7,1326.8 393.2,1327.9 390.1,1328.5 385.0,1328.5 380.5,1327.9 381.9,1326.6 377.8,1325.6 381.9,1325.1Z" fill="#FFF9BA"/><path d="M414.0,1352.1 414.8,1349.8 414.4,1348.4 415.8,1347.5 415.2,1346.5 414.6,1345.9 412.1,1345.7 410.1,1346.1 409.4,1347.8 406.6,1348.0 406.6,1349.6 408.6,1350.3 407.4,1351.3 407.0,1352.1 405.9,1353.0 407.6,1353.6 410.3,1353.0Z" fill="#FFF9BA"/><path d="M415.4,1356.6 419.9,1356.1 423.0,1355.5 427.1,1355.1 430.0,1354.2 428.5,1353.6 430.6,1351.3 427.7,1350.7 427.3,1349.2 426.7,1348.0 424.2,1346.5 423.4,1344.8 420.9,1344.2 422.0,1343.6 423.0,1342.1 423.4,1341.1 419.9,1340.6 418.9,1340.8 420.7,1338.8 416.8,1338.8 415.6,1341.1 415.4,1343.1 415.6,1345.4 417.2,1344.8 416.8,1346.7 419.9,1346.5 420.5,1348.4 420.9,1349.6 417.9,1349.8 418.7,1350.9 417.9,1352.1 416.4,1353.0 420.5,1353.6 418.5,1354.4Z" fill="#FFF9BA"/><path d="M411.9,1341.7 414.4,1339.2 414.2,1340.4ZM420.1,1337.9 421.8,1337.5 421.1,1338.3ZM423.8,1334.6 425.0,1335.6 424.4,1336.0Z" fill="#FFF9BA" stroke-width="1.60"/><path d="M423.4,1370.6 424.6,1368.1 424.6,1365.1 422.6,1362.6 418.1,1361.1 417.4,1360.1 420.9,1359.3 423.8,1359.7 423.4,1357.4 424.6,1358.0 427.5,1357.8 430.4,1356.3 430.4,1354.9 432.2,1354.4 433.3,1355.3 435.7,1356.8 437.2,1357.2 439.0,1357.8 440.0,1357.8 443.9,1358.8 442.7,1361.8 441.5,1362.2 439.6,1363.9 439.4,1364.7 441.5,1365.3 440.9,1367.0 441.5,1368.9 442.5,1369.7 440.5,1371.0 438.2,1370.8 435.3,1370.4 433.5,1371.2 433.5,1372.7 430.6,1372.4 428.5,1371.8 426.1,1371.8Z" fill="#FFF9BA"/><path d="M444.8,1372.7 446.4,1371.4 446.6,1373.5 446.0,1374.7 445.0,1374.1Z" fill="#FFF9BA" stroke-width="1.60"/><path d="M423.4,1370.6 419.3,1370.4 415.2,1370.1 410.7,1369.9 408.2,1371.2 408.8,1373.5 410.3,1373.3 413.5,1373.7 414.4,1374.3 412.9,1375.6 412.7,1378.3 412.1,1379.1 412.7,1379.8 412.1,1381.4 411.9,1383.5 414.0,1384.4 414.8,1385.6 416.0,1385.8 418.1,1384.6 422.6,1384.6 425.7,1382.7 427.5,1380.4 426.5,1378.7 428.7,1376.2 431.6,1374.7 433.9,1372.9 433.5,1372.7 430.6,1372.4 428.5,1371.8 426.1,1371.8Z" fill="#FFF9BA"/><path d="M432.0,1378.7 433.5,1377.9 434.1,1378.3 433.5,1379.1ZM429.6,1380.0 430.4,1379.6 430.2,1380.1ZM434.9,1377.7 435.9,1377.9 435.3,1377.9ZM390.1,1401.3 390.5,1401.7 390.3,1401.1ZM392.4,1402.2 393.8,1401.7 393.0,1402.8ZM394.6,1402.8 395.5,1402.6 395.1,1403.3ZM397.5,1402.6 398.5,1401.3 398.5,1402.4ZM398.8,1400.7 399.6,1400.3 399.4,1400.9Z" fill="#FFF9BA" stroke-width="1.60"/><path d="M408.8,1373.5 409.2,1376.6 407.6,1380.2 409.0,1381.0 409.0,1382.1 408.6,1384.0 411.9,1383.5 412.1,1381.4 412.7,1379.8 412.1,1379.1 412.7,1378.3 412.9,1375.6 414.4,1374.3 413.5,1373.7 410.3,1373.3Z" fill="#FFF9BA"/><path d="M374.1,1382.3 375.3,1382.3 374.7,1382.5ZM368.2,1380.6 369.6,1381.0 368.8,1380.8ZM371.0,1380.2 371.4,1380.5 371.2,1380.4ZM391.8,1392.7 392.8,1392.9 392.2,1393.1Z" fill="#FFF9BA" stroke-width="1.60"/><path d="M432.2,1354.4 434.1,1353.8 435.9,1353.8 437.4,1353.6 439.0,1354.2 438.8,1355.1 439.4,1355.1 440.2,1356.1 439.6,1356.5 439.0,1357.8 437.2,1357.2 435.7,1356.8 433.3,1355.3Z" fill="#FFF9BA"/><path d="M439.0,1357.8 439.6,1356.5 440.5,1357.2 440.0,1357.8Z" fill="#FFF9BA"/><path d="M434.1,1353.8 434.5,1353.4 435.5,1352.6 436.5,1350.9 437.0,1350.5 438.4,1349.8 441.3,1349.6 441.9,1350.1 441.5,1351.3 440.9,1352.4 439.4,1352.8 439.8,1353.8 439.4,1355.1 438.8,1355.1 439.0,1354.2 437.4,1353.6 435.9,1353.8Z" fill="#FFF9BA"/><path d="M441.9,1350.1 441.5,1349.0 443.5,1349.2 444.8,1348.6 445.6,1348.4 444.8,1346.5 446.6,1346.7 447.6,1347.3 449.7,1347.5 449.7,1348.4 451.7,1348.0 452.8,1347.3 454.8,1347.1 456.3,1348.6 456.5,1350.5 457.3,1352.4 457.1,1353.6 457.9,1354.7 456.5,1354.7 453.8,1355.7 452.0,1356.1 452.8,1357.2 455.4,1359.3 454.8,1359.7 453.4,1360.5 453.8,1361.8 452.2,1361.8 448.7,1362.0 446.8,1362.0 444.8,1361.6 442.7,1361.8 443.9,1358.8 440.0,1357.8 440.5,1357.2 439.6,1356.5 440.2,1356.1 439.4,1355.1 439.8,1353.8 439.4,1352.8 440.9,1352.4 441.5,1351.3Z" fill="#FFF9BA"/><path d="M444.8,1346.5 443.9,1345.2 443.7,1343.1 444.8,1341.9 447.2,1341.1 448.9,1340.6 448.7,1342.1 448.3,1342.9 449.5,1343.6 448.1,1344.4 447.0,1345.2 446.6,1346.7Z" fill="#FEE9A2"/><path d="M449.9,1344.8 451.3,1344.2 453.0,1344.2 453.0,1345.4 451.7,1346.5 450.1,1345.9ZM447.2,1345.4 449.1,1345.2 449.1,1346.2 447.6,1346.2ZM449.7,1346.7 451.7,1346.8 451.3,1347.1ZM457.3,1345.9 458.1,1346.0 457.7,1346.3Z" fill="#FEE9A2" stroke-width="1.60"/><path d="M439.4,1364.7 439.6,1363.9 441.5,1362.2 442.7,1361.8 444.8,1361.6 446.8,1362.0 446.6,1362.8 448.5,1363.2 448.5,1364.1 447.8,1364.7 446.2,1364.3 445.6,1365.5 444.4,1364.3 443.3,1365.3 441.5,1365.3Z" fill="#FFF9BA"/><path d="M446.8,1362.0 448.7,1362.0 452.2,1361.8 453.8,1361.8 453.4,1360.5 454.8,1359.7 455.4,1359.3 457.3,1359.7 457.7,1358.8 461.8,1359.7 462.2,1360.7 461.0,1361.6 460.2,1363.2 457.1,1364.3 455.2,1364.1 452.6,1363.7 452.2,1362.9 449.7,1363.4 448.5,1363.2 446.6,1362.8Z" fill="#FFF9BA"/><path d="M442.5,1369.7 441.5,1368.9 440.9,1367.0 441.5,1365.3 443.3,1365.3 444.4,1364.3 445.6,1365.5 446.2,1364.3 447.8,1364.7 448.5,1364.1 448.5,1363.2 449.7,1363.4 452.2,1362.9 452.6,1363.7 455.2,1364.1 454.6,1364.7 455.0,1365.5 455.4,1366.0 454.0,1365.7 452.4,1366.6 452.6,1368.7 455.0,1370.4 456.3,1372.7 458.3,1373.7 460.4,1373.7 459.8,1374.5 462.0,1375.6 465.1,1377.5 464.9,1378.1 463.9,1377.1 462.0,1376.6 461.2,1378.3 462.2,1379.8 461.0,1381.0 460.0,1382.1 459.2,1381.4 460.4,1379.8 459.3,1377.7 457.7,1377.1 456.7,1376.2 455.0,1375.2 452.4,1374.1 449.9,1372.7 448.7,1371.4 448.1,1369.5 445.4,1368.5 443.7,1369.5Z" fill="#FFF9BA"/><path d="M452.6,1381.9 454.4,1381.4 459.1,1381.2 458.1,1384.6 456.5,1384.0 452.8,1382.7ZM443.9,1375.8 446.0,1375.0 447.2,1376.6 446.8,1379.4 445.4,1380.0 444.4,1379.4 444.4,1377.1Z" fill="#FFF9BA" stroke-width="1.60"/><path d="M456.5,1386.1 457.1,1386.3 456.7,1386.5Z" fill="#FFF9BA" stroke-width="1.60"/><path d="M450.1,1337.7 448.9,1337.3 449.1,1336.0 448.3,1337.9 445.6,1339.2 443.5,1339.8 441.5,1340.0 438.8,1338.5 437.8,1336.9 437.4,1334.8 437.4,1332.7 437.8,1331.2 440.5,1330.0 444.6,1328.5 447.6,1327.4 449.3,1326.4 450.7,1325.4 452.8,1323.3 454.8,1321.2 457.5,1319.5 458.9,1318.4 463.0,1316.6 466.1,1314.9 470.2,1314.3 475.4,1313.0 480.1,1312.6 484.6,1312.8 490.8,1314.1 488.7,1315.5 490.6,1315.5 486.5,1316.9 487.3,1315.9 484.4,1314.7 480.5,1315.1 479.9,1316.6 477.8,1317.8 474.3,1317.6 471.5,1316.4 469.3,1316.9 468.2,1318.2 464.3,1318.0 463.9,1319.1 461.4,1319.1 460.0,1320.8 458.7,1322.4 456.9,1323.1 457.1,1324.7 455.2,1326.2 456.1,1327.0 453.2,1327.4 451.7,1328.9 452.2,1331.0 452.4,1332.5 453.6,1333.1 452.2,1333.7 453.0,1335.0 451.3,1336.0 451.5,1336.4 451.1,1337.3Z" fill="#FEE3A0"/><path d="M453.8,1319.1 456.9,1318.7 459.6,1317.2 457.9,1317.4Z" fill="#FEE3A0" stroke-width="1.60"/><path d="M450.1,1337.7 450.3,1339.4 451.5,1340.8 452.8,1342.5 453.2,1344.0 453.8,1345.4 456.3,1345.4 456.7,1345.0 456.5,1344.2 459.6,1344.0 460.8,1342.7 461.4,1340.4 461.6,1338.8 463.9,1338.1 465.1,1337.1 466.1,1336.2 463.0,1334.4 462.6,1332.3 463.0,1330.8 465.1,1329.5 467.8,1328.3 469.8,1327.4 471.3,1326.2 471.1,1324.7 472.7,1323.9 476.7,1323.7 475.8,1322.6 476.4,1321.2 475.6,1320.1 475.2,1319.1 471.9,1317.8 469.3,1316.9 468.2,1318.2 464.3,1318.0 463.9,1319.1 461.4,1319.1 460.0,1320.8 458.7,1322.4 456.9,1323.1 457.1,1324.7 455.2,1326.2 456.1,1327.0 453.2,1327.4 451.7,1328.9 452.2,1331.0 452.4,1332.5 453.6,1333.1 452.2,1333.7 453.0,1335.0 451.3,1336.0 451.5,1336.4 451.1,1337.3Z" fill="#FFF9BA"/><path d="M464.5,1342.1 465.7,1340.2 466.5,1340.2 465.7,1341.5ZM460.8,1343.8 461.2,1342.3 462.2,1341.4 461.6,1342.7Z" fill="#FFF9BA" stroke-width="1.60"/><path d="M476.7,1323.7 479.1,1325.1 477.4,1326.4 473.9,1328.3 471.3,1329.3 470.9,1331.6 471.3,1332.7 470.9,1334.1 472.9,1335.4 474.3,1336.1 478.4,1335.4 481.5,1335.0 484.2,1334.7 486.7,1333.3 488.7,1331.8 491.2,1330.6 492.0,1329.8 488.7,1328.1 489.7,1327.0 488.1,1325.6 488.5,1323.9 486.9,1321.4 488.7,1319.7 485.8,1318.7 485.6,1317.2 486.5,1316.9 487.3,1315.9 484.4,1314.7 480.5,1315.1 479.9,1316.6 477.8,1317.8 474.3,1317.6 471.5,1316.4 469.3,1316.9 471.9,1317.8 475.2,1319.1 475.6,1320.1 476.4,1321.2 475.8,1322.6Z" fill="#FFF9BA"/><path d="M467.4,1335.4 468.8,1335.0 468.6,1335.7Z" fill="#FFF9BA" stroke-width="1.60"/><path d="M475.4,1337.5 477.4,1336.9 480.1,1336.7 484.8,1337.1 483.4,1338.3 483.6,1340.4 483.4,1340.9 480.5,1340.4 479.1,1340.0 477.0,1340.2 477.4,1339.4 475.4,1338.5Z" fill="#FFF9BA"/><path d="M472.3,1339.4 473.3,1338.8 474.8,1338.8 473.9,1339.6 472.7,1340.0ZM472.7,1338.1 474.1,1337.9 473.9,1338.3Z" fill="#FFF9BA" stroke-width="1.60"/><path d="M477.0,1340.2 479.1,1340.0 480.5,1340.4 483.4,1340.9 484.2,1341.5 485.0,1343.8 483.8,1344.6 481.7,1344.8 478.4,1343.6 478.2,1343.4 474.1,1343.4 470.3,1344.0 470.2,1342.5 471.5,1341.1 473.5,1340.5 474.8,1341.5 476.2,1342.1 477.2,1341.5Z" fill="#FFF9BA"/><path d="M470.3,1344.0 474.1,1343.4 478.2,1343.4 478.4,1343.6 481.7,1344.8 482.1,1345.7 480.1,1346.5 479.7,1347.8 477.2,1348.6 475.4,1348.5 475.2,1348.0 473.9,1347.5 473.5,1346.3 470.9,1345.8 470.2,1345.7 470.4,1344.8Z" fill="#FFF9BA"/><path d="M475.4,1348.5 477.2,1348.6 479.7,1347.8 480.1,1346.5 482.1,1345.7 481.7,1344.8 483.8,1344.6 485.0,1343.8 487.5,1344.6 490.6,1345.0 490.4,1346.7 491.4,1348.0 494.3,1349.6 491.6,1350.1 492.4,1352.4 490.0,1354.0 487.3,1353.8 483.0,1353.4 478.4,1352.8 475.6,1353.6 475.8,1352.4 474.8,1351.9 476.2,1351.1Z" fill="#FFF9BA"/><path d="M456.3,1348.6 460.4,1347.8 464.1,1346.7 465.3,1347.5 467.4,1347.4 473.9,1347.5 475.2,1348.0 475.4,1348.5 476.2,1351.1 474.8,1351.9 475.8,1352.4 475.6,1353.6 476.6,1355.1 474.3,1357.0 473.5,1358.6 470.2,1358.0 468.2,1358.4 466.1,1357.8 465.7,1357.8 464.1,1356.8 461.8,1355.9 460.6,1355.5 457.9,1354.7 457.1,1353.6 457.3,1352.4 456.5,1350.5Z" fill="#FFF9BA"/><path d="M452.0,1356.1 453.8,1355.7 456.5,1354.7 457.9,1354.7 460.6,1355.5 461.8,1355.9 464.1,1356.8 465.7,1357.8 464.3,1358.6 462.4,1359.3 461.8,1359.7 457.7,1358.8 457.3,1359.7 455.4,1359.3 452.8,1357.2Z" fill="#FFF9BA"/><path d="M461.8,1359.7 462.4,1359.3 464.3,1358.6 465.7,1357.8 466.1,1357.8 468.2,1358.4 470.2,1358.0 473.5,1358.6 472.5,1360.1 471.3,1359.9 469.2,1359.9 467.2,1360.5 465.7,1361.4 463.7,1361.5 462.2,1360.7Z" fill="#FFF9BA"/><path d="M460.2,1363.2 461.0,1361.6 462.2,1360.7 463.7,1361.5 465.7,1361.4 467.2,1360.5 469.2,1359.9 471.3,1359.9 472.5,1360.1 474.1,1360.9 472.3,1362.2 470.6,1364.3 468.8,1364.8 465.9,1365.3 463.5,1365.2 461.2,1364.1 460.8,1363.7Z" fill="#FFF9BA"/><path d="M455.2,1364.1 457.1,1364.3 460.2,1363.2 460.8,1363.7 461.2,1364.1 459.3,1364.7 458.5,1366.2 457.1,1366.2 455.0,1366.3 455.4,1366.0 455.0,1365.5 454.6,1364.7Z" fill="#FFF9BA"/><path d="M455.0,1366.3 457.1,1366.2 458.5,1366.2 459.3,1364.7 461.2,1364.1 463.5,1365.2 465.9,1365.3 466.9,1366.8 466.1,1367.4 462.0,1366.8 460.6,1367.2 459.6,1366.8 459.6,1367.8 460.4,1368.9 463.3,1371.3 465.0,1372.3 465.1,1372.7 463.3,1371.6 461.0,1370.4 458.3,1368.9 457.7,1367.0 456.5,1366.6 455.7,1367.6Z" fill="#FFF9BA"/><path d="M456.5,1366.8 457.5,1368.1 456.9,1368.1ZM460.8,1370.8 462.4,1371.2 461.2,1371.1Z" fill="#FFF9BA" stroke-width="1.60"/><path d="M459.6,1366.8 460.6,1367.2 462.0,1366.8 466.1,1367.4 467.4,1369.3 466.5,1370.4 465.5,1371.0 465.0,1372.3 463.3,1371.3 460.4,1368.9 459.6,1367.8Z" fill="#FFF9BA"/><path d="M465.0,1372.3 465.5,1371.0 466.5,1370.4 468.8,1371.8 468.2,1372.2 466.9,1373.8 465.1,1372.7Z" fill="#FFF9BA"/><path d="M465.9,1365.3 468.8,1364.8 471.3,1366.8 471.1,1367.6 473.3,1367.8 473.7,1368.9 473.1,1369.3 474.3,1371.0 473.1,1372.9 471.5,1373.0 471.9,1372.0 470.4,1371.0 469.4,1371.0 468.8,1371.8 466.5,1370.4 467.4,1369.3 466.1,1367.4 466.9,1366.8Z" fill="#FFF9BA"/><path d="M468.8,1371.8 469.4,1371.0 470.4,1371.0 471.9,1372.0 471.5,1373.0 469.8,1373.3 469.2,1373.1 468.2,1372.2Z" fill="#FFF9BA"/><path d="M469.1,1374.5 469.2,1373.1 469.8,1373.3 471.5,1373.0 473.1,1372.9 474.3,1374.1 474.1,1374.9 472.3,1375.3 470.2,1375.9Z" fill="#FFF9BA"/><path d="M466.9,1373.8 468.2,1372.2 469.2,1373.1 469.1,1374.5 470.2,1375.9 469.6,1377.5 468.2,1378.3 466.9,1377.1 466.9,1374.7Z" fill="#FFF9BA"/><path d="M468.2,1378.3 469.6,1377.5 470.2,1375.9 472.3,1375.3 474.1,1374.9 477.4,1374.5 478.9,1375.1 480.7,1374.9 481.1,1374.1 481.7,1375.0 481.1,1375.7 480.5,1376.0 478.7,1375.7 477.2,1375.7 476.0,1376.1 477.2,1377.4 476.2,1376.8 476.4,1377.8 475.6,1377.2 475.8,1377.8 475.0,1377.2 474.1,1376.4 473.5,1376.7 473.5,1377.7 474.1,1378.5 475.1,1379.4 474.2,1379.1 474.0,1380.0 474.5,1380.5 475.6,1380.8 476.5,1381.6 476.5,1382.6 475.7,1382.0 474.5,1381.9 474.1,1381.4 473.1,1381.1 471.8,1381.1 470.4,1381.2 469.7,1380.0 470.4,1379.7 469.6,1379.6 468.6,1378.6Z" fill="#FFF9BA"/><path d="M474.4,1381.9 474.8,1382.7 475.4,1383.0 473.9,1382.8 474.2,1384.0 474.8,1385.1 473.9,1384.4 473.3,1385.2 472.6,1384.0 472.1,1384.5 471.5,1383.5 470.4,1382.2 471.0,1381.4 472.0,1381.2 473.1,1381.6 474.1,1382.0ZM475.4,1387.6 475.6,1386.8 476.4,1387.1 477.1,1387.4 478.4,1387.3 480.0,1387.4 481.1,1387.5 481.0,1388.0 479.5,1388.1 477.9,1388.3 476.4,1387.8ZM474.3,1380.1 475.0,1379.8 476.6,1380.5 477.6,1381.6 477.5,1382.0 476.8,1381.7 475.6,1381.0 474.8,1380.4ZM480.2,1379.4 480.9,1378.9 481.7,1379.7 480.8,1379.8ZM480.2,1380.7 480.8,1380.7 480.7,1381.4 480.3,1381.3ZM481.7,1382.3 482.7,1382.4 482.1,1382.6ZM484.0,1385.7 485.0,1385.1 484.8,1385.9 484.1,1386.3ZM482.5,1384.2 483.2,1384.3 482.8,1384.6ZM478.6,1377.8 479.4,1377.9 479.0,1378.1ZM477.5,1376.1 477.9,1376.2 477.7,1376.4ZM479.4,1376.6 479.9,1376.7 479.6,1376.8ZM477.4,1379.9 477.7,1380.2 477.4,1380.3ZM477.8,1382.0 478.3,1382.4 478.0,1382.5ZM478.6,1382.6 479.0,1382.8 478.7,1382.9ZM479.3,1383.6 479.7,1383.7 479.5,1384.1ZM478.7,1383.7 479.1,1383.9 478.9,1384.1ZM477.1,1384.5 477.4,1384.6 477.2,1384.7ZM479.2,1385.1 479.5,1385.2 479.3,1385.3ZM480.1,1384.2 480.5,1384.3 480.3,1384.4ZM480.6,1382.6 481.2,1382.7 480.9,1382.8ZM482.8,1386.4 483.0,1387.1 482.7,1387.2ZM474.1,1385.4 474.5,1385.5 474.3,1385.7ZM469.5,1382.2 470.1,1382.4 469.8,1382.6ZM469.0,1381.1 469.7,1381.4 469.3,1381.8ZM469.4,1380.2 469.7,1380.4 469.4,1380.6ZM467.5,1378.1 468.4,1378.8 467.9,1378.9ZM481.1,1384.8 481.4,1384.9 481.2,1385.0ZM478.1,1382.9 478.3,1383.1 478.1,1383.2ZM479.1,1382.9 479.4,1383.0 479.2,1383.1ZM477.0,1382.6 477.2,1382.8 477.0,1382.9ZM477.2,1383.0 477.3,1383.2 477.1,1383.3ZM482.5,1383.9 482.7,1384.1 482.5,1384.1ZM475.2,1382.4 475.5,1382.5 475.3,1382.5ZM475.4,1379.5 475.9,1379.4 476.2,1379.6 475.6,1379.6Z" fill="#FFF9BA" stroke-width="1.60"/><path d="M473.1,1372.9 474.3,1371.0 473.1,1369.3 473.7,1368.9 476.4,1369.9 479.5,1370.0 482.6,1369.1 485.8,1369.8 484.4,1372.0 484.6,1373.5 482.6,1373.4 481.1,1374.1 477.4,1374.5 474.1,1374.9 474.3,1374.1Z" fill="#FFF9BA"/><path d="M468.8,1364.8 470.6,1364.3 472.3,1362.2 474.1,1360.9 477.4,1361.0 481.7,1360.4 483.6,1362.0 485.0,1364.1 485.0,1366.3 488.1,1366.6 487.9,1367.6 485.8,1369.8 482.6,1369.1 479.5,1370.0 476.4,1369.9 473.7,1368.9 473.3,1367.8 471.1,1367.6 471.3,1366.8Z" fill="#FFF9BA"/><path d="M481.7,1360.4 484.0,1360.0 486.9,1361.0 488.9,1364.3 486.5,1364.2 485.0,1366.3 485.0,1364.1 483.6,1362.0Z" fill="#FFF9BA"/><path d="M472.5,1360.1 473.5,1358.6 474.3,1357.0 476.6,1355.1 475.6,1353.6 478.4,1352.8 483.0,1353.4 487.3,1353.8 490.0,1354.0 492.4,1352.4 496.5,1351.8 497.8,1354.1 500.2,1355.9 505.2,1357.0 509.5,1357.6 508.8,1359.7 508.8,1361.2 505.6,1362.8 502.5,1363.7 499.0,1364.9 499.0,1365.7 502.1,1366.4 499.8,1367.2 496.9,1368.5 495.7,1368.1 493.9,1366.5 495.9,1365.5 496.1,1364.9 494.9,1364.9 492.4,1363.9 490.2,1364.1 488.1,1366.6 485.0,1366.3 486.5,1364.2 488.9,1364.3 486.9,1361.0 484.0,1360.0 481.7,1360.4 477.4,1361.0 474.1,1360.9Z" fill="#FFF9BA"/><path d="M487.1,1375.2 491.4,1375.4 495.5,1373.5 499.0,1373.4 502.1,1375.0 505.2,1375.6 509.3,1375.6 512.3,1374.5 514.4,1374.6 516.4,1375.4 516.9,1377.5 519.1,1378.3 518.3,1378.9 517.5,1378.9 518.1,1381.0 519.1,1383.5 514.2,1383.7 510.7,1383.7 506.8,1384.6 503.1,1384.6 502.5,1385.5 501.5,1386.4 501.5,1384.8 500.0,1384.8 498.2,1384.4 496.3,1385.7 494.5,1386.0 490.8,1384.3 489.7,1385.4 487.9,1385.6 485.2,1384.4 483.4,1384.0 483.0,1382.1 481.1,1381.2 482.4,1380.8 481.9,1379.1 480.7,1378.7 480.9,1377.6 481.9,1376.8 483.6,1377.1 486.7,1376.8 488.5,1376.1 486.9,1375.6Z" fill="#FEEAA4"/><path d="M480.5,1376.0 481.7,1375.0 481.1,1374.1 482.6,1373.4 484.6,1373.5 486.5,1375.0 486.7,1375.5 483.6,1375.7 482.1,1376.4 480.9,1377.5 482.1,1376.2Z" fill="#FEEAA4" stroke-width="1.60"/><path d="M493.4,1388.0 494.9,1387.4 498.2,1386.7 496.7,1388.0 494.9,1389.0 493.6,1388.7Z" fill="#FFF9BA"/><path d="M137.5,1315.7 141.6,1315.9 146.7,1317.2 150.8,1315.7 156.0,1315.5 161.1,1314.7 166.2,1314.3 170.3,1315.9 174.5,1315.3 180.6,1316.1 186.8,1317.2 190.9,1317.2 192.9,1318.7 190.3,1319.5 197.1,1319.7 201.2,1319.3 204.2,1320.3 205.3,1317.8 209.4,1317.4 213.5,1319.1 218.6,1319.7 223.8,1319.5 225.0,1318.2 227.9,1319.3 229.9,1320.5 230.9,1318.9 229.5,1317.0 232.0,1315.3 228.9,1314.3 229.9,1311.8 233.0,1310.7 236.1,1312.8 238.1,1315.5 241.2,1316.1 240.2,1318.0 243.3,1316.8 246.3,1318.0 246.8,1320.5 249.4,1319.7 251.5,1317.0 251.5,1315.3 257.6,1315.3 260.1,1316.6 259.7,1318.2 257.6,1320.1 260.1,1320.5 255.6,1322.6 250.5,1322.8 250.5,1323.7 247.4,1324.7 246.3,1327.0 242.2,1327.4 241.2,1328.5 237.1,1330.0 235.1,1332.1 233.0,1334.8 232.4,1337.9 236.1,1338.5 237.1,1342.1 241.2,1341.7 246.3,1343.1 251.5,1345.2 257.6,1345.9 258.3,1350.5 260.7,1352.6 262.8,1354.2 264.8,1353.6 265.2,1350.9 264.2,1347.8 263.8,1346.7 268.9,1344.2 270.0,1341.1 267.9,1339.0 265.9,1337.9 267.9,1335.8 266.9,1333.7 266.9,1330.8 272.0,1331.0 276.1,1330.8 279.2,1332.5 283.3,1333.7 284.3,1337.9 287.4,1339.2 291.5,1338.3 293.6,1335.2 295.0,1335.4 298.7,1339.4 300.8,1343.1 303.9,1345.7 308.0,1346.7 310.0,1349.0 312.5,1350.5 312.5,1352.6 310.0,1353.8 306.3,1354.7 303.9,1356.3 299.8,1356.1 295.6,1356.1 290.5,1356.3 288.5,1358.2 285.4,1359.9 283.3,1362.0 281.3,1363.2 283.3,1363.0 286.4,1360.1 290.5,1358.6 293.6,1358.4 295.0,1359.3 292.6,1360.9 294.0,1362.6 294.0,1364.5 296.1,1365.3 299.8,1365.5 301.8,1365.7 302.8,1363.0 304.3,1365.1 301.8,1366.8 296.7,1368.1 292.6,1370.4 291.1,1369.7 291.5,1368.3 294.6,1366.6 291.5,1366.8 289.3,1367.0 287.8,1365.7 287.8,1362.8 285.0,1362.2 282.7,1365.1 280.2,1367.2 273.7,1367.2 270.4,1368.9 270.0,1370.1 264.8,1370.8 264.8,1371.8 257.6,1373.7 256.6,1372.9 257.9,1371.4 258.3,1366.6 255.6,1365.1 253.5,1364.1 250.5,1362.6 245.5,1360.3 243.1,1360.9 240.2,1360.5 236.1,1359.7 231.6,1358.8 173.8,1358.8 174.0,1357.8 170.8,1356.1 166.2,1354.7 164.6,1352.6 162.5,1349.8 159.5,1347.8 160.1,1344.4 160.1,1344.0 156.0,1342.1 152.9,1338.3 148.8,1336.4 144.7,1337.9 141.6,1335.8 137.5,1335.2ZM173.6,1360.1 170.3,1359.5 167.3,1357.8 163.6,1355.5 165.2,1355.1 169.3,1356.3 172.4,1358.2ZM305.5,1361.8 306.9,1359.9 309.0,1355.7 312.1,1353.4 313.1,1354.0 311.0,1356.8 313.1,1357.2 316.6,1357.8 318.2,1359.9 318.9,1362.0 317.2,1363.9 315.2,1363.0 313.1,1363.2 311.0,1362.0 308.0,1361.8ZM243.7,1306.9 244.3,1306.4 260.7,1306.6 275.2,1310.8 281.4,1312.2 286.6,1313.7 288.8,1316.5 291.8,1318.5 299.1,1320.7 301.1,1322.2 301.1,1323.1 297.0,1325.8 296.5,1325.9 291.2,1323.9 293.1,1326.1 294.7,1328.8 294.3,1329.7 291.7,1330.3 290.0,1329.9 291.9,1331.2 292.1,1331.8 291.5,1332.2 287.3,1332.0 281.1,1330.5 276.9,1328.0 274.0,1327.0 268.6,1327.3 266.6,1325.8 266.5,1324.9 267.5,1323.9 274.8,1323.7 276.4,1319.8 273.9,1318.6 264.7,1315.9 264.3,1315.3 260.7,1315.7 252.4,1315.5 247.3,1314.8 243.1,1313.3 241.7,1311.0 241.8,1310.3 243.7,1308.4ZM248.1,1325.4 248.2,1324.4 251.7,1323.1 258.9,1325.9 262.0,1327.6 262.3,1328.2 261.7,1328.7 255.7,1328.5 251.3,1329.7 248.2,1328.6 248.1,1327.6 249.8,1326.7ZM186.5,1315.4 184.4,1314.1 184.5,1313.1 185.7,1312.5 182.6,1312.1 182.2,1311.2 184.7,1308.4 192.9,1307.6 203.1,1308.7 208.2,1306.8 212.7,1308.5 213.0,1309.2 212.0,1311.8 212.8,1313.6 217.6,1313.3 218.1,1313.6 219.1,1315.7 218.7,1316.5 212.6,1318.0 207.3,1317.8 199.1,1318.4ZM169.8,1311.2 168.8,1308.9 169.0,1308.2 172.4,1305.3 177.6,1304.9 184.8,1305.3 189.9,1305.9 190.3,1306.9 188.9,1308.6 182.0,1309.2 179.7,1312.3 174.3,1312.9ZM217.1,1311.0 216.1,1308.9 216.4,1308.1 221.7,1305.9 227.1,1306.0 230.2,1307.7 230.5,1308.4 229.1,1311.3 223.9,1312.7ZM229.3,1310.3 229.3,1307.1 229.8,1306.6 234.1,1305.5 241.3,1305.9 241.8,1306.5 241.8,1308.6 241.4,1309.2 235.2,1311.3 229.9,1310.9ZM186.3,1304.3 185.3,1302.6 185.6,1301.8 188.9,1300.7 197.0,1301.1 202.3,1300.5 209.5,1301.7 210.0,1302.3 210.0,1304.4 209.4,1305.0 201.1,1305.4 190.9,1305.2ZM213.0,1303.8 215.5,1301.1 221.6,1300.3 227.0,1301.8 227.2,1302.8 223.7,1305.0 213.5,1304.8ZM173.9,1302.3 173.9,1300.7 174.4,1300.1 180.5,1299.0 188.9,1299.9 189.4,1300.4 189.0,1301.0 182.6,1303.5 174.4,1302.9ZM229.9,1300.7 238.1,1299.7 244.4,1301.1 258.7,1300.9 264.0,1302.8 264.3,1303.7 263.3,1305.6 262.8,1305.8 252.5,1306.1 239.1,1305.6 229.7,1301.8 229.3,1301.2ZM242.0,1301.2 246.0,1299.2 248.1,1296.6 251.2,1295.0 248.2,1293.5 238.0,1291.8 237.6,1291.3 238.0,1290.7 246.2,1288.6 266.9,1286.9 287.5,1287.1 299.8,1288.6 300.3,1289.1 300.0,1289.7 293.7,1292.4 273.2,1297.7 269.3,1299.1 266.9,1301.9 242.2,1302.3 241.7,1301.8ZM229.3,1294.4 229.3,1292.3 229.8,1291.7 236.2,1290.9 245.4,1292.5 248.8,1294.9 248.8,1295.8 246.3,1298.1 236.0,1297.5 229.7,1294.9ZM211.3,1295.1 215.5,1293.8 223.7,1293.4 228.2,1296.6 228.0,1297.7 221.6,1298.7 211.3,1296.2 210.9,1295.7ZM190.7,1297.6 195.0,1296.3 203.2,1296.5 203.8,1296.9 203.6,1297.6 201.1,1299.4 190.8,1298.7 190.3,1298.2ZM256.1,1330.3 256.6,1329.4 259.7,1329.2 263.1,1331.1 263.3,1331.8 262.8,1332.2 257.6,1332.2 257.2,1331.9ZM222.4,1316.1 224.8,1314.5 228.9,1314.7 231.4,1317.0 231.0,1318.0 226.7,1318.6 222.5,1317.1Z" fill="#FFF9BA"/><path d="M157.6,1352.1 154.9,1350.5 153.9,1348.2 156.4,1348.4 156.4,1350.5ZM295.0,1363.7 297.7,1364.3 299.8,1364.2 298.7,1365.1 295.6,1364.7ZM294.3,1357.5 294.1,1356.8 294.7,1356.4 297.8,1356.8 300.4,1358.1 300.7,1358.8 300.1,1359.2 296.6,1358.8ZM261.3,1331.4 261.3,1330.7 261.9,1330.4 264.0,1331.1 264.3,1332.0 263.6,1332.8 262.8,1332.9ZM262.3,1343.5 262.7,1342.6 264.8,1342.4 265.3,1343.3 264.3,1344.7 263.4,1344.8Z" fill="#FFF9BA" stroke-width="1.60"/><path d="M173.8,1358.8 231.6,1358.8 236.1,1359.7 240.2,1360.5 243.1,1360.9 245.5,1360.3 250.5,1362.6 253.5,1364.1 255.6,1365.1 258.3,1366.6 257.9,1371.4 256.6,1372.9 257.6,1373.7 264.8,1371.8 264.8,1370.8 270.0,1370.1 270.4,1368.9 273.7,1367.2 280.2,1367.2 282.7,1365.1 285.0,1362.2 287.8,1362.8 287.8,1365.7 289.3,1367.0 289.5,1367.6 286.4,1368.7 282.9,1370.1 281.7,1372.0 282.1,1373.5 283.3,1373.9 283.3,1374.5 280.6,1374.5 278.2,1375.2 275.5,1375.8 279.2,1375.8 275.3,1376.6 274.7,1378.7 273.3,1379.8 272.0,1378.7 272.8,1380.8 271.8,1382.1 271.0,1383.7 270.4,1380.8 270.0,1383.3 271.0,1384.2 271.6,1386.1 272.0,1387.5 270.0,1388.8 267.1,1390.2 264.2,1391.9 260.7,1394.4 259.9,1397.8 261.5,1401.7 262.8,1405.3 262.4,1408.4 260.5,1408.9 259.1,1406.4 257.2,1403.2 257.0,1400.7 254.6,1398.4 251.9,1399.2 249.4,1397.8 246.3,1398.0 243.3,1398.2 243.5,1400.5 240.4,1400.5 238.1,1399.7 234.4,1399.2 232.4,1399.9 228.9,1402.0 227.0,1403.8 227.5,1407.2 223.5,1406.1 222.7,1403.8 221.1,1402.2 218.8,1399.0 216.6,1399.0 215.1,1400.7 212.5,1399.4 211.6,1397.4 208.3,1394.8 204.9,1394.8 204.9,1395.9 199.1,1395.9 191.5,1393.0 186.6,1393.4 183.7,1390.2 179.4,1389.0 176.7,1384.8 175.5,1382.3 172.8,1379.1 171.8,1376.8 172.0,1373.9 171.4,1371.8 172.4,1368.3 172.4,1364.5 171.0,1360.1 174.5,1360.5 175.5,1362.4 175.9,1360.3ZM137.5,1315.7 137.5,1335.2 141.6,1335.8 144.7,1337.9 148.8,1336.4 152.9,1338.3 156.0,1342.1 160.1,1344.0 160.1,1345.9 157.0,1346.3 153.9,1346.3 152.9,1344.2 149.8,1342.1 146.7,1339.6 143.6,1338.3 140.6,1336.7 136.5,1336.0 131.3,1335.8 127.2,1334.6 123.1,1334.1 122.1,1335.8 120.0,1336.2 115.3,1337.3 116.3,1334.4 120.0,1333.1 115.9,1333.3 112.8,1335.8 110.4,1339.0 105.6,1342.1 100.5,1344.6 94.4,1346.1 88.6,1347.1 92.3,1345.7 97.4,1344.2 103.0,1341.1 103.6,1338.8 101.5,1338.3 98.5,1338.3 94.4,1337.9 94.4,1335.8 90.2,1336.0 88.2,1334.8 88.2,1332.7 86.1,1332.3 88.2,1330.2 89.2,1329.5 96.4,1328.5 96.8,1326.2 93.3,1326.6 89.2,1326.4 85.1,1326.4 82.0,1324.1 86.1,1322.8 90.2,1322.2 94.4,1323.1 94.6,1321.4 91.3,1321.2 90.2,1319.7 85.7,1318.2 85.7,1317.2 92.3,1315.9 95.4,1314.3 102.6,1313.2 105.4,1312.2 109.8,1313.0 113.9,1313.2 119.0,1313.8 124.1,1314.5 129.3,1314.9 133.4,1314.7Z" fill="#F0F7B1"/><path d="M109.8,1341.1 112.8,1342.1 114.9,1340.8 113.9,1339.2 111.8,1340.0ZM74.4,1328.5 77.9,1329.3 80.4,1328.9 77.3,1328.1ZM83.5,1335.4 86.8,1336.0 85.7,1335.0ZM106.7,1421.6 108.7,1420.6 108.5,1419.1 106.7,1419.1ZM105.2,1417.7 106.7,1418.1 106.3,1417.4ZM102.2,1416.6 103.2,1416.8 102.6,1416.0ZM98.9,1415.4 99.9,1415.6 99.7,1414.9Z" fill="#F0F7B1" stroke-width="1.60"/><path d="M186.6,1393.4 187.6,1395.5 188.8,1397.6 190.5,1400.1 192.5,1402.4 192.5,1403.2 190.9,1403.2 192.5,1404.7 194.0,1405.5 196.2,1407.0 196.6,1409.1 197.1,1410.1 199.1,1411.6 201.2,1413.5 202.2,1412.6 200.5,1410.5 199.5,1409.1 198.5,1407.0 197.1,1404.9 195.4,1403.2 195.0,1401.3 192.9,1399.0 191.5,1397.6 191.3,1394.8 195.0,1396.1 196.0,1398.6 196.6,1400.3 198.7,1402.8 200.1,1403.2 202.4,1405.9 205.3,1409.1 208.3,1412.6 210.0,1414.3 210.8,1416.4 210.4,1418.7 212.5,1421.4 214.5,1423.1 217.6,1423.7 219.6,1425.4 221.7,1425.8 224.8,1427.3 226.8,1428.1 229.9,1428.5 233.0,1427.5 234.4,1428.3 237.7,1431.1 237.7,1429.6 238.7,1427.7 241.2,1427.7 239.4,1425.4 240.2,1424.1 243.9,1424.1 245.7,1422.7 247.0,1423.1 247.4,1420.6 247.6,1418.9 248.8,1417.0 247.4,1416.4 245.3,1416.4 241.6,1417.4 241.2,1420.0 239.2,1422.7 237.1,1422.5 233.0,1423.3 230.3,1422.1 229.3,1421.0 227.2,1417.4 226.2,1414.3 226.4,1411.2 227.5,1407.2 223.5,1406.1 222.7,1403.8 221.1,1402.2 218.8,1399.0 216.6,1399.0 215.1,1400.7 212.5,1399.4 211.6,1397.4 208.3,1394.8 204.9,1394.8 204.9,1395.9 199.1,1395.9 191.5,1393.0Z" fill="#FFF9BA"/><path d="M237.7,1431.1 237.7,1429.6 238.7,1427.7 241.2,1427.7 239.4,1425.4 240.2,1424.1 243.9,1424.1 243.9,1428.1 244.5,1428.1 245.9,1428.5 243.9,1430.2 243.5,1431.3 242.0,1432.6 239.6,1432.3Z" fill="#FFF9BA"/><path d="M243.9,1424.1 244.1,1423.7 245.7,1422.7 246.1,1424.8 245.7,1426.9 244.5,1428.1 243.9,1428.1Z" fill="#FFF9BA"/><path d="M242.0,1432.6 243.5,1431.3 245.3,1432.1 247.0,1432.5 246.8,1433.8 245.3,1433.9 243.7,1433.2Z" fill="#FFF9BA"/><path d="M243.9,1430.2 245.9,1428.5 247.4,1428.3 250.5,1428.1 252.5,1428.1 254.6,1428.5 256.2,1430.0 253.5,1430.6 252.1,1431.5 250.9,1432.3 249.0,1433.6 247.8,1434.2 246.8,1433.8 247.0,1432.5 245.3,1432.1 243.5,1431.3Z" fill="#FFF9BA"/><path d="M256.2,1430.0 255.6,1434.2 255.2,1436.5 255.2,1438.6 253.1,1438.4 251.1,1438.2 249.4,1436.3 247.2,1434.4 247.8,1434.2 249.0,1433.6 250.9,1432.3 252.1,1431.5 253.5,1430.6Z" fill="#FFF9BA"/><path d="M255.2,1438.6 256.6,1440.5 257.4,1441.3 256.8,1442.8 256.8,1444.4 255.4,1443.6 254.2,1441.7 252.9,1440.9 252.3,1441.3 250.9,1440.5 251.1,1438.2 253.1,1438.4Z" fill="#FFF9BA"/><path d="M257.4,1441.3 259.7,1443.0 262.8,1442.1 264.8,1441.5 267.1,1442.6 268.1,1443.2 268.5,1444.9 267.1,1446.3 266.3,1445.1 265.9,1443.8 263.8,1442.8 262.0,1444.2 262.8,1445.9 261.1,1446.3 260.3,1445.3 259.3,1444.4 256.8,1444.4 256.8,1442.8Z" fill="#FFF9BA"/><path d="M252.7,1415.6 254.6,1413.9 256.6,1413.3 257.6,1412.9 260.7,1413.1 262.8,1413.5 264.8,1414.5 267.9,1415.8 270.0,1417.0 271.6,1417.4 274.7,1419.1 272.0,1419.7 267.5,1419.9 268.5,1418.3 266.3,1417.9 265.2,1416.2 261.8,1415.8 259.1,1414.9 258.1,1414.1 255.6,1414.9Z" fill="#FFF9BA"/><path d="M256.4,1416.2 257.4,1416.4 257.0,1415.6Z" fill="#FFF9BA" stroke-width="1.60"/><path d="M266.1,1423.1 267.9,1422.7 270.4,1423.5 269.1,1424.1 267.3,1423.9Z" fill="#FFF9BA" stroke-width="1.60"/><path d="M274.1,1422.9 276.1,1423.3 279.2,1423.3 279.8,1423.7 279.8,1420.2 277.6,1419.7 276.3,1420.0 277.6,1421.4 278.4,1422.5 276.1,1422.5Z" fill="#FFF9BA"/><path d="M279.8,1423.7 280.4,1424.6 282.3,1423.1 284.3,1422.9 286.6,1423.1 286.2,1421.8 284.3,1421.4 283.3,1420.2 279.8,1420.0Z" fill="#FFF9BA"/><path d="M289.1,1423.7 292.2,1423.7 292.4,1422.9 289.1,1422.7Z" fill="#FFF9BA" stroke-width="1.60"/><path d="M266.3,1409.1 267.5,1410.7 267.1,1408.9ZM267.3,1405.1 268.9,1406.1 268.5,1407.2 268.7,1405.9ZM265.0,1405.5 267.1,1405.5 266.1,1405.9ZM269.6,1408.0 270.6,1408.7 270.6,1409.7 270.2,1408.7ZM272.0,1410.3 272.4,1411.0 272.6,1412.8 273.3,1413.1 272.8,1411.8ZM275.7,1417.2 277.0,1417.0 276.7,1417.7ZM266.9,1410.1 267.7,1411.6 267.5,1410.3Z" fill="#FFF9BA" stroke-width="1.60"/><path d="M300.0,1440.3 301.8,1440.3 302.0,1438.8 300.4,1439.0Z" fill="#FFF9BA" stroke-width="1.60"/><path d="M300.2,1425.6 300.6,1425.8 300.4,1425.4ZM300.2,1427.3 301.4,1427.5 300.6,1427.9ZM300.8,1429.0 301.4,1429.4 301.0,1429.6ZM301.4,1430.4 302.2,1431.1 301.8,1431.3ZM301.6,1432.1 302.0,1432.7 301.8,1432.5ZM301.2,1433.6 301.6,1434.0 301.4,1433.8ZM304.5,1433.6 305.1,1434.0 304.7,1434.2ZM300.2,1435.9 300.6,1436.3 300.4,1436.1ZM297.5,1423.5 297.9,1423.7 297.7,1423.5ZM298.1,1425.0 298.7,1425.6 298.3,1425.4ZM293.8,1422.9 294.4,1423.1 294.0,1424.4 294.2,1424.1ZM285.0,1435.9 287.0,1435.9 285.6,1436.1ZM283.1,1435.0 283.5,1435.4 283.3,1435.2ZM294.8,1438.4 296.1,1438.4 295.6,1438.6ZM259.9,1421.0 260.5,1421.0 260.3,1420.9ZM279.2,1415.6 280.2,1416.0 279.8,1415.8Z" fill="#FFF9BA" stroke-width="1.60"/><path d="M277.2,1297.7 287.4,1295.0 293.6,1292.9 299.8,1290.8 314.1,1288.7 330.6,1288.1 344.9,1286.6 361.4,1286.4 375.8,1287.3 381.9,1288.9 369.6,1290.4 386.0,1290.6 401.4,1290.8 392.2,1292.9 391.2,1295.0 387.0,1298.1 388.1,1301.3 386.0,1304.4 388.1,1305.9 381.9,1308.2 380.9,1310.1 376.8,1309.9 381.9,1311.8 380.9,1314.3 374.7,1313.8 377.8,1315.9 373.7,1317.8 367.5,1318.4 361.4,1318.9 357.3,1321.6 352.1,1323.3 349.0,1323.9 344.9,1325.4 342.9,1328.5 339.8,1331.6 338.8,1334.8 336.7,1336.0 332.6,1334.4 327.5,1333.1 324.4,1330.4 321.3,1327.4 319.3,1324.3 316.6,1321.6 317.2,1319.1 322.3,1317.4 322.3,1315.3 315.2,1315.9 315.2,1313.4 320.3,1312.8 314.1,1310.7 313.1,1308.6 310.0,1305.9 306.9,1303.4 299.8,1301.9 291.5,1302.3 285.4,1301.9 281.3,1300.2 287.4,1299.6 282.3,1298.6Z" fill="#FFF9BA"/><path d="M791.3,1498.0 792.7,1497.6 794.1,1498.4 793.5,1499.5 791.5,1499.5ZM793.9,1496.4 795.8,1495.5 796.8,1495.5 796.0,1496.6 794.4,1497.0Z" fill="#FFF9BA" stroke-width="1.60"/><path d="M755.1,1480.9 757.4,1481.5 757.0,1482.1 755.3,1481.9ZM757.2,1479.0 758.8,1481.1 758.4,1481.7 757.2,1480.0ZM752.5,1477.1 755.3,1478.8 754.9,1479.2 752.7,1477.9ZM748.6,1475.4 750.6,1476.5 750.2,1476.9 748.8,1476.1ZM750.0,1478.1 751.6,1479.0 751.0,1479.6 750.0,1478.8ZM758.4,1483.0 760.7,1483.6 760.3,1484.1 758.6,1483.6Z" fill="#FFF9BA" stroke-width="1.60"/><path d="M769.3,1492.2 770.5,1492.8 770.3,1494.1 769.5,1493.8ZM770.5,1494.9 771.8,1495.5 771.4,1496.0 770.7,1495.7Z" fill="#FFF9BA" stroke-width="1.60"/><path d="M275.1,1476.9 276.7,1475.0 277.4,1472.3 281.7,1470.2 283.5,1470.2 284.6,1463.7 283.3,1461.8 283.3,1460.1 284.3,1460.1 284.9,1459.3 283.7,1459.1 283.7,1457.8 287.6,1457.8 289.7,1458.9 290.9,1459.8 292.6,1459.7 295.6,1457.2 296.8,1456.6 295.0,1455.1 295.2,1452.8 298.1,1453.0 300.8,1452.2 302.4,1450.5 303.7,1450.5 304.7,1453.2 303.9,1455.7 304.3,1458.5 306.9,1458.7 311.0,1457.4 314.9,1456.6 316.2,1453.9 315.4,1450.9 316.2,1449.3 318.4,1450.3 320.9,1452.6 322.3,1453.2 323.4,1457.6 324.4,1459.5 323.8,1461.4 326.5,1461.8 326.6,1461.9 327.7,1462.0 327.5,1462.9 329.5,1462.7 334.7,1464.5 336.1,1466.6 338.2,1466.4 340.8,1467.3 344.9,1467.3 348.0,1469.1 350.7,1471.4 354.6,1472.3 355.6,1476.3 355.2,1480.0 352.1,1483.4 348.0,1488.6 347.0,1492.8 346.6,1498.0 345.4,1502.4 343.1,1507.0 341.0,1509.3 338.4,1509.5 335.3,1510.2 332.0,1511.6 328.5,1514.4 327.3,1516.9 327.1,1521.1 324.4,1523.8 322.3,1526.9 320.1,1528.8 317.4,1531.9 318.0,1529.8 316.4,1528.4 313.1,1526.1 312.1,1526.1 308.8,1524.6 312.7,1520.8 316.8,1518.1 316.6,1516.2 315.0,1515.0 315.5,1511.9 313.3,1511.6 312.5,1508.1 308.2,1507.7 307.6,1503.5 309.0,1499.1 307.4,1497.6 307.1,1495.5 303.4,1495.5 302.8,1490.3 300.2,1489.7 297.3,1487.8 294.8,1487.4 293.0,1485.5 292.7,1481.7 290.3,1482.1 286.4,1484.4 282.1,1484.4 282.1,1481.3 278.8,1482.3 277.2,1480.7Z" fill="#FDC67E"/><path d="M268.1,1443.2 269.4,1444.7 270.4,1442.6 271.8,1441.5 272.0,1439.4 273.5,1438.2 274.7,1437.7 277.2,1437.5 278.8,1436.5 279.8,1435.3 281.1,1435.9 280.6,1436.6 278.2,1438.4 277.2,1440.9 276.5,1442.1 278.2,1444.0 278.4,1445.9 279.2,1446.7 283.1,1446.7 284.6,1448.6 288.5,1448.4 287.8,1450.3 287.8,1452.6 288.9,1454.3 287.6,1455.5 289.1,1456.6 289.7,1458.9 287.6,1457.8 283.7,1457.8 283.7,1459.1 285.0,1459.3 284.3,1460.1 283.3,1460.1 283.3,1461.8 284.6,1463.7 283.5,1470.2 281.9,1469.4 283.1,1467.1 278.8,1466.4 276.7,1466.0 275.1,1463.5 272.4,1461.6 270.4,1460.6 268.1,1460.6 265.5,1458.9 265.2,1458.5 265.9,1456.2 267.9,1456.0 268.5,1453.4 267.9,1449.9 268.1,1447.4 267.1,1446.3 268.5,1444.9Z" fill="#FFF9BA"/><path d="M280.6,1436.6 279.4,1437.5 280.0,1438.6 279.0,1440.5 280.2,1442.4 281.3,1440.9 280.4,1438.6 282.9,1437.5 282.9,1436.3 283.3,1435.9 283.9,1437.3 286.6,1438.0 287.0,1439.2 291.5,1439.2 293.6,1440.3 295.2,1439.4 298.3,1439.0 300.0,1439.0 298.1,1439.6 299.1,1440.9 302.0,1441.9 301.8,1443.6 304.3,1444.0 302.4,1445.7 301.6,1447.4 301.0,1449.1 302.4,1450.5 300.8,1452.2 298.1,1453.0 295.2,1452.8 295.0,1455.1 296.9,1456.6 295.6,1457.2 292.6,1459.7 290.9,1459.8 289.7,1458.9 289.1,1456.6 287.6,1455.5 288.9,1454.3 287.8,1452.6 287.8,1450.3 288.5,1448.4 284.6,1448.6 283.1,1446.7 279.2,1446.7 278.4,1445.9 278.2,1444.0 276.5,1442.1 277.2,1440.9 278.2,1438.4Z" fill="#FEEDAA"/><path d="M304.3,1444.0 306.9,1446.1 307.4,1447.2 309.6,1448.8 309.4,1450.5 308.0,1453.0 311.0,1457.4 306.9,1458.7 304.3,1458.5 303.9,1455.7 304.7,1453.2 303.7,1450.5 302.4,1450.5 301.0,1449.1 301.6,1447.4 302.4,1445.7Z" fill="#FFF9BA"/><path d="M309.6,1448.8 312.3,1449.1 316.2,1449.3 315.4,1450.9 316.2,1453.9 315.0,1456.6 312.1,1457.2 311.0,1457.4 308.0,1453.0 309.4,1450.5Z" fill="#FFF9BA"/><path d="M265.2,1458.5 262.8,1459.7 262.6,1461.4 261.5,1463.5 260.9,1466.0 262.2,1466.8 263.2,1466.0 262.2,1468.5 262.4,1470.4 264.0,1471.7 265.5,1471.0 266.3,1468.5 267.3,1467.7 269.8,1466.8 272.0,1464.5 272.6,1463.3 272.4,1461.6 270.4,1460.6 268.1,1460.6 265.5,1458.9Z" fill="#F9A65E"/><path d="M239.2,1462.0 240.6,1462.9 239.8,1463.5 239.2,1462.9ZM241.2,1462.4 241.8,1462.7 241.4,1463.1Z" fill="#F9A65E" stroke-width="1.60"/><path d="M262.2,1468.5 260.1,1471.2 260.5,1474.0 263.0,1475.8 264.8,1478.6 266.5,1482.3 268.7,1486.5 270.6,1490.5 272.8,1493.6 275.7,1495.5 278.4,1497.0 280.6,1498.4 282.5,1499.8 284.3,1498.0 285.4,1495.3 284.6,1492.8 285.6,1488.0 284.3,1484.4 282.1,1484.4 282.1,1481.3 278.8,1482.3 277.2,1480.7 275.1,1476.9 276.7,1475.0 277.4,1472.3 281.7,1470.2 283.5,1470.2 281.9,1469.4 283.1,1467.1 278.8,1466.4 276.7,1466.0 275.1,1463.5 272.4,1461.6 272.6,1463.3 272.0,1464.5 269.8,1466.8 267.3,1467.7 266.3,1468.5 265.5,1471.0 264.0,1471.7 262.4,1470.4Z" fill="#FFF9BA"/><path d="M284.3,1498.0 285.6,1501.2 286.4,1502.2 287.0,1506.0 287.6,1509.1 289.1,1509.1 291.1,1507.0 293.2,1507.7 295.0,1509.1 298.1,1507.4 299.1,1504.3 300.2,1502.4 305.7,1501.8 307.6,1503.5 308.2,1501.4 309.0,1499.1 307.4,1497.6 307.1,1495.5 303.4,1495.5 302.8,1490.3 300.2,1489.7 297.3,1487.8 294.8,1487.4 293.0,1485.5 292.8,1481.7 290.3,1482.1 286.4,1484.4 284.3,1484.4 285.6,1488.0 284.6,1492.8 285.4,1495.3Z" fill="#FFF9BA"/><path d="M299.1,1504.3 300.2,1502.4 305.7,1501.8 307.6,1503.5 308.2,1507.7 312.5,1508.1 313.3,1511.6 315.6,1511.8 315.0,1515.0 312.3,1518.5 311.0,1518.7 306.7,1518.3 308.4,1514.1 303.9,1511.8 301.8,1511.2 298.1,1507.4Z" fill="#FFF9BA"/><path d="M308.8,1524.6 312.1,1526.1 313.1,1526.1 316.4,1528.4 318.0,1529.8 317.4,1531.9 314.3,1534.6 311.7,1534.4 308.4,1533.4 307.1,1532.6 307.6,1530.5 308.0,1527.3Z" fill="#FFF9BA"/><path d="M289.1,1509.1 291.1,1507.0 293.2,1507.7 295.0,1509.1 298.1,1507.4 301.8,1511.2 303.9,1511.8 308.4,1514.1 306.7,1518.3 311.0,1518.7 312.3,1518.5 315.0,1515.0 316.6,1516.2 316.8,1518.1 312.7,1520.8 308.8,1524.6 308.0,1527.3 307.6,1530.5 306.9,1532.6 309.6,1535.3 310.6,1537.8 308.8,1541.1 305.9,1542.4 299.8,1542.8 299.1,1546.2 296.1,1547.6 293.6,1546.8 293.6,1549.3 296.5,1550.6 293.6,1551.8 292.6,1555.6 288.5,1557.7 288.5,1558.7 291.9,1560.2 291.7,1561.4 288.2,1564.6 285.4,1567.1 285.4,1569.4 286.6,1571.1 284.3,1570.5 282.3,1570.2 279.2,1570.2 278.4,1568.1 276.7,1567.1 276.5,1564.6 278.6,1562.9 279.6,1559.8 279.8,1555.6 279.6,1552.4 279.6,1548.3 280.6,1543.0 281.7,1538.8 282.9,1534.7 283.5,1531.1 282.7,1527.3 283.5,1524.2 284.8,1520.0 286.6,1516.9 286.4,1513.1 289.1,1509.5 287.6,1509.1ZM286.2,1571.5 286.2,1576.3 290.5,1576.6 293.4,1575.9 290.5,1574.8 288.5,1574.0 287.0,1572.3Z" fill="#FFF9BA"/><path d="M282.5,1499.8 282.9,1503.3 282.5,1510.6 282.1,1514.6 280.2,1522.1 280.0,1526.3 280.0,1530.5 278.0,1535.7 276.7,1538.8 275.7,1544.1 275.5,1548.3 274.5,1551.8 276.1,1549.3 277.6,1550.4 276.5,1553.5 274.1,1555.6 271.8,1559.1 274.1,1559.8 272.2,1562.9 271.8,1566.0 273.5,1570.2 275.5,1572.3 280.2,1574.4 281.5,1572.3 282.3,1571.7 284.3,1571.1 286.6,1571.1 284.3,1570.5 282.3,1570.2 279.2,1570.2 278.4,1568.1 276.7,1567.1 276.5,1564.6 278.6,1562.9 279.6,1559.8 279.8,1555.6 279.6,1552.4 279.6,1548.3 280.6,1543.0 281.7,1538.8 282.9,1534.7 283.5,1531.1 282.7,1527.3 283.5,1524.2 284.8,1520.0 286.6,1516.9 286.4,1513.1 289.1,1509.5 287.6,1509.1 287.0,1506.0 286.4,1502.2 285.6,1501.2 284.3,1498.0ZM286.2,1571.5 287.0,1572.3 284.3,1571.5 282.3,1573.0 282.9,1574.4 280.2,1574.8 279.2,1575.7 283.3,1576.9 286.4,1577.8 288.9,1578.4 289.9,1577.1 286.2,1576.3Z" fill="#FFF9BA"/><path d="M274.5,1551.8 276.1,1549.3 275.9,1552.0Z" fill="#FFF9BA" stroke-width="1.60"/><path d="M399.8,1403.0 409.0,1403.0 409.0,1405.9 398.5,1405.9 399.2,1404.5Z" fill="#FFF9BA"/><path d="M238.1,1363.4 243.3,1360.9 246.3,1359.1 250.5,1359.7 253.1,1362.0 253.1,1364.1 248.4,1364.1 244.3,1363.0ZM246.8,1374.1 249.4,1373.9 250.0,1370.4 252.5,1365.7 250.5,1365.3 247.4,1367.2 246.6,1370.4ZM253.5,1365.1 260.7,1364.9 262.8,1367.6 259.7,1368.3 259.3,1371.0 257.6,1371.2 255.6,1369.3 256.0,1366.8ZM255.8,1374.1 260.7,1374.5 265.0,1371.8 261.8,1372.2 257.6,1373.3ZM263.2,1370.8 268.9,1370.8 270.6,1369.5 268.9,1369.3 264.8,1369.7Z" fill="#fff"/><path d="M88.2,1348.0 85.1,1348.8 82.0,1349.6 78.9,1350.7 75.9,1351.5 71.8,1352.1 68.7,1352.4 65.6,1353.0 62.5,1353.2 59.4,1353.8" fill="none" stroke-width="1.7" stroke-dasharray="2.4 1.6"/><path d="M795.8,1353.8 792.7,1353.0 788.6,1352.6 784.5,1351.7 781.6,1350.7" fill="none" stroke-width="1.7" stroke-dasharray="2.4 1.6"/><path d="M275.5,1548.9 274.1,1554.5 272.6,1559.8 272.6,1566.0 274.5,1570.9 278.2,1574.0 283.3,1576.5" fill="none" stroke="#06090f" stroke-width="2.4" stroke-linecap="round"/><path d="M172.8,1359.1 168.3,1356.1 164.2,1353.0 161.1,1349.4 158.4,1346.3 153.9,1343.1 149.8,1340.4 146.1,1339.0" fill="none" stroke="#06090f" stroke-width="3.0" stroke-linecap="round"/><path d="M127.2,1334.8 121.1,1335.8 114.9,1337.9 111.8,1340.6 106.7,1343.1 99.5,1345.2 92.3,1346.7" fill="none" stroke="#06090f" stroke-width="2.0" stroke-linecap="round"/><path d="M437.8,1337.9 437.4,1332.7 440.5,1330.0 445.6,1327.9 450.7,1325.4 453.8,1322.2 456.9,1319.1 461.0,1317.0 466.1,1314.9 474.3,1313.2 480.5,1312.8" fill="none" stroke="#06090f" stroke-width="1.6" stroke-linecap="round"/><path d="M414.8,1344.2 414.8,1341.1 415.8,1339.4" fill="none" stroke="#06090f" stroke-width="1.5" stroke-linecap="round"/><path d="M470.2,1335.4 473.3,1335.8 474.3,1336.0" fill="none" stroke="#06090f" stroke-width="1.5" stroke-linecap="round"/><path d="M465.1,1337.3 466.1,1336.0" fill="none" stroke="#06090f" stroke-width="1.4" stroke-linecap="round"/><path d="M273.0,1331.0 266.9,1330.6" fill="none" stroke="#06090f" stroke-width="1.5" stroke-linecap="round"/><path d="M312.1,1310.7 314.1,1314.9 318.2,1318.0 320.3,1323.3 324.4,1328.5 330.6,1333.7" fill="none" stroke="#06090f" stroke-width="1.6" stroke-linecap="round"/><path d="M381.9,1313.8 377.8,1311.8 379.9,1309.7 384.0,1307.6" fill="none" stroke="#06090f" stroke-width="1.5" stroke-linecap="round"/><path d="M673.4,1427.3 674.0,1431.1 675.6,1432.9 677.7,1433.8 680.8,1434.8 682.2,1435.9 683.9,1438.0 684.5,1440.5 685.5,1441.5" fill="none" stroke="#06090f" stroke-width="1.4" stroke-linecap="round"/><path d="M676.7,1435.2 678.7,1437.3 679.7,1439.8 680.4,1442.1" fill="none" stroke="#06090f" stroke-width="1.3" stroke-linecap="round"/><path d="M474.3,1381.9 476.4,1382.9 478.4,1384.0 480.5,1384.4 482.6,1385.0" fill="none" stroke="#06090f" stroke-width="1.3" stroke-linecap="round"/><path d="M457.9,1368.3 461.0,1370.8 463.7,1372.0" fill="none" stroke="#06090f" stroke-width="1.2" stroke-linecap="round"/><path d="M688.0,1468.3 691.0,1468.9 695.1,1468.7" fill="none" stroke="#06090f" stroke-width="1.3" stroke-linecap="round"/><path d="M623.3,1450.3 626.3,1456.2 630.4,1461.4 633.5,1466.6 637.6,1470.8" fill="none" stroke="#06090f" stroke-width="1.3" stroke-linecap="round"/><circle cx="73.0" cy="1490.1" r="1.1" fill="#0a0a0a" stroke="none"/><circle cx="74.2" cy="1490.5" r="0.9" fill="#0a0a0a" stroke="none"/><circle cx="76.5" cy="1491.3" r="0.8" fill="#0a0a0a" stroke="none"/><circle cx="67.2" cy="1505.8" r="1.1" fill="#0a0a0a" stroke="none"/><circle cx="69.1" cy="1502.8" r="0.8" fill="#0a0a0a" stroke="none"/><circle cx="69.7" cy="1500.5" r="0.8" fill="#0a0a0a" stroke="none"/><circle cx="59.4" cy="1499.1" r="0.8" fill="#0a0a0a" stroke="none"/><circle cx="60.1" cy="1497.6" r="0.8" fill="#0a0a0a" stroke="none"/><circle cx="61.7" cy="1522.7" r="0.8" fill="#0a0a0a" stroke="none"/><circle cx="64.6" cy="1553.5" r="1.1" fill="#0a0a0a" stroke="none"/><circle cx="74.4" cy="1467.3" r="0.8" fill="#0a0a0a" stroke="none"/><circle cx="68.7" cy="1470.8" r="0.8" fill="#0a0a0a" stroke="none"/><circle cx="103.8" cy="1457.4" r="1.1" fill="#0a0a0a" stroke="none"/><circle cx="99.7" cy="1453.2" r="0.8" fill="#0a0a0a" stroke="none"/><circle cx="118.6" cy="1482.3" r="0.8" fill="#0a0a0a" stroke="none"/><circle cx="98.9" cy="1505.8" r="0.9" fill="#0a0a0a" stroke="none"/><circle cx="98.9" cy="1501.0" r="0.8" fill="#0a0a0a" stroke="none"/><circle cx="91.9" cy="1489.2" r="0.8" fill="#0a0a0a" stroke="none"/><circle cx="102.6" cy="1480.2" r="0.8" fill="#0a0a0a" stroke="none"/><circle cx="96.4" cy="1483.2" r="0.8" fill="#0a0a0a" stroke="none"/><circle cx="78.1" cy="1501.3" r="0.9" fill="#0a0a0a" stroke="none"/><circle cx="74.2" cy="1480.7" r="0.7" fill="#0a0a0a" stroke="none"/><circle cx="65.2" cy="1489.2" r="0.8" fill="#0a0a0a" stroke="none"/><circle cx="795.2" cy="1479.2" r="0.8" fill="#0a0a0a" stroke="none"/><circle cx="794.1" cy="1477.1" r="0.7" fill="#0a0a0a" stroke="none"/><circle cx="782.4" cy="1458.5" r="0.8" fill="#0a0a0a" stroke="none"/><circle cx="785.9" cy="1464.1" r="0.8" fill="#0a0a0a" stroke="none"/><circle cx="782.2" cy="1455.1" r="0.8" fill="#0a0a0a" stroke="none"/><circle cx="769.9" cy="1462.4" r="0.8" fill="#0a0a0a" stroke="none"/><circle cx="778.7" cy="1446.5" r="0.8" fill="#0a0a0a" stroke="none"/><circle cx="771.6" cy="1443.2" r="0.8" fill="#0a0a0a" stroke="none"/><circle cx="775.3" cy="1440.1" r="0.7" fill="#0a0a0a" stroke="none"/><circle cx="773.6" cy="1449.1" r="0.7" fill="#0a0a0a" stroke="none"/><circle cx="752.0" cy="1447.0" r="0.9" fill="#0a0a0a" stroke="none"/><circle cx="761.9" cy="1450.3" r="0.8" fill="#0a0a0a" stroke="none"/><circle cx="738.9" cy="1445.9" r="0.8" fill="#0a0a0a" stroke="none"/><circle cx="710.8" cy="1441.5" r="0.8" fill="#0a0a0a" stroke="none"/><circle cx="703.4" cy="1445.9" r="1.1" fill="#0a0a0a" stroke="none"/><circle cx="724.5" cy="1433.2" r="1.1" fill="#0a0a0a" stroke="none"/><circle cx="726.4" cy="1429.8" r="0.8" fill="#0a0a0a" stroke="none"/><circle cx="726.6" cy="1423.5" r="0.7" fill="#0a0a0a" stroke="none"/><circle cx="726.4" cy="1426.4" r="0.7" fill="#0a0a0a" stroke="none"/><circle cx="767.9" cy="1483.8" r="0.8" fill="#0a0a0a" stroke="none"/><circle cx="772.8" cy="1498.4" r="0.8" fill="#0a0a0a" stroke="none"/><circle cx="775.0" cy="1502.2" r="0.8" fill="#0a0a0a" stroke="none"/><circle cx="774.4" cy="1500.7" r="0.8" fill="#0a0a0a" stroke="none"/><circle cx="294.0" cy="1393.8" r="0.9" fill="#0a0a0a" stroke="none"/><circle cx="202.4" cy="1518.1" r="0.8" fill="#0a0a0a" stroke="none"/><circle cx="265.2" cy="1531.7" r="0.8" fill="#0a0a0a" stroke="none"/><circle cx="719.2" cy="1404.7" r="0.7" fill="#0a0a0a" stroke="none"/><circle cx="412.7" cy="1331.6" r="0.8" fill="#0a0a0a" stroke="none"/><circle cx="791.3" cy="1487.6" r="0.7" fill="#0a0a0a" stroke="none"/><circle cx="755.7" cy="1571.3" r="0.2" fill="#0a0a0a" stroke="none"/></g><clipPath id="c0_1278"><rect x="20.9" y="1678.0" width="195.0" height="140.0"/></clipPath><g clip-path="url(#c0_1278)" stroke="#000" stroke-width="0.9" stroke-linejoin="round"><path d="M-144.2,1561.3 11.5,1561.3 23.7,1563.6 34.7,1565.9 42.5,1567.0 49.2,1565.3 62.4,1571.6 70.8,1575.6 76.3,1578.4 83.5,1582.4 82.4,1595.5 79.1,1599.5 81.8,1601.7 101.2,1596.6 101.2,1593.8 115.1,1592.1 116.2,1588.7 125.0,1584.1 142.8,1584.1 149.4,1578.4 155.5,1570.4 163.3,1572.1 163.3,1580.1 167.2,1583.5 167.7,1585.2 159.4,1588.1 150.0,1592.1 146.7,1597.2 147.8,1601.2 151.1,1602.3 151.1,1604.0 143.9,1604.0 137.2,1605.7 130.0,1607.4 140.0,1607.4 129.5,1609.7 127.8,1615.4 123.9,1618.2 120.6,1615.4 122.8,1621.1 120.1,1624.5 117.8,1629.1 116.2,1621.1 115.1,1627.9 117.8,1630.2 119.5,1635.3 120.6,1639.3 115.1,1642.7 107.3,1646.7 99.6,1651.3 90.1,1658.1 87.9,1667.2 92.4,1678.0 95.7,1687.7 94.6,1696.2 89.6,1697.3 85.7,1690.5 80.7,1682.0 80.2,1675.2 73.5,1668.9 66.3,1671.2 59.7,1667.2 51.4,1667.8 43.1,1668.3 43.6,1674.6 35.3,1674.6 29.2,1672.3 19.2,1671.2 13.7,1672.9 4.3,1678.6 -0.7,1683.7 0.4,1692.8 -10.1,1690.0 -12.3,1683.7 -16.8,1679.1 -22.9,1670.6 -29.0,1670.6 -32.8,1675.2 -40.0,1671.7 -42.3,1666.0 -51.1,1659.2 -60.5,1659.2 -60.5,1662.1 -76.0,1662.1 -96.5,1654.1 -109.8,1655.2 -117.6,1646.7 -129.2,1643.3 -136.4,1631.9 -139.8,1625.1 -147.0,1616.5 -149.7,1610.3 -149.2,1602.3 -150.8,1596.6 -148.1,1586.9 -148.1,1576.7 -151.9,1564.7 -142.5,1565.9 -139.8,1571.0 -138.6,1565.3Z" fill="#F0F7B1"/><path d="M-109.8,1655.2 -107.1,1660.9 -103.7,1666.6 -99.3,1673.4 -93.8,1679.7 -93.8,1682.0 -98.2,1682.0 -93.8,1686.0 -89.9,1688.2 -83.8,1692.2 -82.7,1697.9 -81.6,1700.8 -76.0,1704.7 -70.5,1709.9 -67.7,1707.6 -72.2,1701.9 -74.9,1697.9 -77.7,1692.2 -81.6,1686.5 -86.0,1682.0 -87.1,1676.9 -92.7,1670.6 -96.5,1666.6 -97.1,1659.2 -87.1,1662.6 -84.4,1669.5 -82.7,1674.0 -77.2,1680.8 -73.3,1682.0 -67.2,1689.4 -59.4,1697.9 -51.1,1707.6 -46.7,1712.1 -44.5,1717.8 -45.6,1724.1 -40.0,1731.5 -34.5,1736.0 -26.2,1737.8 -20.6,1742.3 -15.1,1743.4 -6.8,1747.4 -1.3,1749.7 7.1,1750.8 15.4,1748.0 19.2,1750.3 28.1,1757.7 28.1,1753.7 30.9,1748.6 37.5,1748.6 32.5,1742.3 34.7,1738.9 44.7,1738.9 49.7,1734.9 53.0,1736.0 54.1,1729.2 54.7,1724.7 58.0,1719.5 54.1,1717.8 48.6,1717.8 38.6,1720.7 37.5,1727.5 32.0,1734.9 26.4,1734.3 15.4,1736.6 8.2,1733.2 5.4,1730.4 -0.2,1720.7 -2.9,1712.1 -2.4,1703.6 0.4,1692.8 -10.1,1690.0 -12.3,1683.7 -16.8,1679.1 -22.9,1670.6 -29.0,1670.6 -32.8,1675.2 -40.0,1671.7 -42.3,1666.0 -51.1,1659.2 -60.5,1659.2 -60.5,1662.1 -76.0,1662.1 -96.5,1654.1Z" fill="#FFF9BA"/><path d="M28.1,1757.7 28.1,1753.7 30.9,1748.6 37.5,1748.6 32.5,1742.3 34.7,1738.9 44.7,1738.9 44.7,1749.7 46.4,1749.7 50.3,1750.8 44.7,1755.4 43.6,1758.2 39.7,1761.9 33.1,1761.1Z" fill="#FFF9BA"/><path d="M44.7,1738.9 45.3,1737.8 49.7,1734.9 50.8,1740.6 49.7,1746.3 46.4,1749.7 44.7,1749.7Z" fill="#FFF9BA"/><path d="M39.7,1761.9 43.6,1758.2 48.6,1760.5 53.0,1761.7 52.5,1765.1 48.6,1765.4 44.2,1763.7Z" fill="#FFF9BA"/><path d="M44.7,1755.4 50.3,1750.8 54.1,1750.3 62.4,1749.7 68.0,1749.7 73.5,1750.8 78.0,1754.8 70.8,1756.5 66.9,1758.8 63.6,1761.1 58.6,1764.5 55.2,1766.2 52.5,1765.1 53.0,1761.7 48.6,1760.5 43.6,1758.2Z" fill="#FFF9BA"/><path d="M78.0,1754.8 76.3,1766.2 75.2,1772.5 75.2,1778.2 69.6,1777.6 64.1,1777.0 59.7,1771.9 53.6,1766.8 55.2,1766.2 58.6,1764.5 63.6,1761.1 66.9,1758.8 70.8,1756.5Z" fill="#FFF9BA"/><path d="M75.2,1778.2 79.1,1783.3 81.3,1785.6 79.6,1789.5 79.6,1794.1 75.7,1791.8 72.4,1786.7 69.1,1784.4 67.4,1785.6 63.6,1783.3 64.1,1777.0 69.6,1777.6Z" fill="#FFF9BA"/><path d="M81.3,1785.6 87.4,1790.1 95.7,1787.8 101.2,1786.1 107.3,1789.0 110.1,1790.7 111.2,1795.2 107.3,1799.2 105.1,1795.8 104.0,1792.4 98.5,1789.5 93.5,1793.5 95.7,1798.1 91.3,1799.2 89.0,1796.4 86.3,1794.1 79.6,1794.1 79.6,1789.5Z" fill="#FFF9BA"/><path d="M68.5,1715.6 73.5,1711.0 79.1,1709.3 81.8,1708.4 90.1,1708.7 95.7,1709.9 101.2,1712.7 109.5,1716.1 115.1,1719.5 119.5,1720.7 127.8,1725.2 120.6,1726.9 108.4,1727.2 111.2,1723.0 105.1,1721.8 102.3,1717.3 92.9,1716.1 85.7,1713.9 82.9,1711.6 76.3,1713.9ZM78.5,1717.3 81.3,1717.8 80.2,1715.6Z" fill="#FFF9BA"/><path d="M104.6,1736.0 109.5,1734.9 116.2,1737.2 112.9,1738.9 107.9,1738.3Z" fill="#FFF9BA"/><path d="M126.2,1735.5 131.7,1736.6 140.0,1736.6 141.7,1737.8 141.7,1728.1 135.6,1726.9 132.2,1727.5 135.6,1731.5 137.8,1734.3 131.7,1734.3Z" fill="#FFF9BA"/><path d="M141.7,1737.8 143.3,1740.0 148.3,1736.0 153.9,1735.5 159.9,1736.0 158.8,1732.6 153.9,1731.5 151.1,1728.1 141.7,1727.5Z" fill="#FFF9BA"/><path d="M166.6,1737.8 174.9,1737.8 175.5,1735.5 166.6,1734.9Z" fill="#FFF9BA"/><path d="M105.1,1697.9 108.4,1702.5 107.3,1697.3ZM107.9,1687.1 112.3,1690.0 111.2,1692.8 111.8,1689.4ZM101.8,1688.2 107.3,1688.2 104.6,1689.4ZM114.0,1695.1 116.7,1696.8 116.7,1699.6 115.6,1696.8ZM120.6,1701.3 121.7,1703.0 122.3,1708.2 123.9,1708.7 122.8,1705.3ZM130.6,1720.1 133.9,1719.5 133.4,1721.3ZM106.8,1700.8 109.0,1704.7 108.4,1701.3Z" fill="#FFF9BA"/><path d="M196.0,1782.7 200.9,1782.7 201.5,1778.7 197.1,1779.3Z" fill="#FFF9BA"/><path d="M196.5,1742.9 197.6,1743.4 197.1,1742.3ZM196.5,1747.4 199.8,1748.0 197.6,1749.1ZM198.2,1752.0 199.8,1753.1 198.7,1753.7ZM199.8,1756.0 202.1,1757.7 200.9,1758.2ZM200.4,1760.5 201.5,1762.2 200.9,1761.7ZM199.3,1764.5 200.4,1765.6 199.8,1765.1ZM208.1,1764.5 209.8,1765.6 208.7,1766.2ZM196.5,1770.8 197.6,1771.9 197.1,1771.3ZM189.3,1737.2 190.4,1737.8 189.9,1737.2ZM191.0,1741.2 192.6,1742.9 191.5,1742.3ZM179.3,1735.5 181.0,1736.0 179.9,1739.5 180.4,1738.9ZM155.5,1770.8 161.1,1770.8 157.2,1771.3ZM150.5,1768.5 151.6,1769.6 151.1,1769.1ZM182.1,1777.6 185.4,1777.6 184.3,1778.2ZM87.9,1730.4 89.6,1730.4 89.0,1730.1ZM140.0,1715.6 142.8,1716.7 141.7,1716.1Z" fill="#FFF9BA"/><path d="M128.9,1882.3 133.4,1877.2 135.0,1869.8 146.7,1864.1 151.6,1864.0 154.4,1846.5 151.1,1841.3 151.1,1836.8 153.9,1836.8 155.4,1834.6 152.2,1833.9 152.2,1830.5 162.7,1830.5 168.3,1833.4 171.6,1835.9 176.0,1835.6 184.3,1828.8 187.5,1827.1 182.7,1823.1 183.2,1816.9 191.0,1817.4 198.2,1815.2 202.6,1810.6 205.9,1810.6 208.7,1818.0 206.5,1824.8 207.6,1832.2 214.8,1832.8 225.9,1829.4 236.3,1827.1 239.7,1819.7 237.5,1811.7 239.7,1807.2 245.8,1810.0 252.5,1816.3 256.3,1818.0 259.1,1830.0 261.9,1835.1 260.3,1840.2 267.4,1841.3 267.8,1841.6 270.7,1841.9 270.2,1844.2 275.7,1843.6 289.6,1848.7 293.5,1854.4 299.0,1853.9 306.2,1856.1 317.3,1856.1 325.6,1861.3 332.8,1867.5 343.3,1869.8 346.1,1880.6 345.0,1890.8 336.7,1900.0 325.6,1914.2 322.8,1925.6 321.7,1939.8 318.4,1951.7 312.3,1964.3 306.8,1970.5 299.6,1971.1 291.2,1972.8 282.4,1976.8 273.0,1984.2 269.6,1991.0 269.1,2002.4 261.9,2009.8 256.3,2018.3 250.2,2023.4 243.0,2032.0 244.7,2026.3 240.3,2022.3 231.4,2016.0 228.6,2016.0 219.8,2012.1 230.3,2001.8 241.4,1994.4 240.8,1989.3 236.4,1985.9 238.0,1977.4 232.0,1976.8 229.7,1967.2 218.1,1966.0 216.5,1954.6 220.3,1942.7 215.9,1938.7 215.3,1933.0 205.4,1933.0 203.7,1918.7 196.5,1917.0 188.8,1911.9 182.1,1910.8 177.1,1905.6 176.5,1895.5 169.9,1896.5 159.4,1902.8 147.8,1902.8 147.7,1894.3 138.9,1897.1 134.5,1892.6Z" fill="#FDC67E"/><path d="M110.1,1790.7 113.4,1794.7 116.2,1789.0 120.1,1786.1 120.6,1780.4 124.5,1777.0 127.8,1775.9 134.5,1775.3 138.9,1772.5 141.7,1769.3 145.0,1770.8 143.9,1772.8 137.2,1777.6 134.5,1784.4 132.8,1787.8 137.2,1793.0 137.8,1798.1 140.0,1800.4 150.5,1800.4 154.4,1805.5 164.9,1804.9 163.3,1810.0 163.3,1816.3 166.0,1820.8 162.7,1824.3 166.6,1827.1 168.3,1833.4 162.7,1830.5 152.2,1830.5 152.2,1833.9 155.5,1834.5 153.9,1836.8 151.1,1836.8 151.1,1841.3 154.4,1846.5 151.6,1864.1 147.2,1861.8 150.5,1855.6 138.9,1853.9 133.4,1852.7 128.9,1845.9 121.7,1840.8 116.2,1837.9 110.1,1837.9 102.9,1833.4 102.3,1832.2 104.0,1826.0 109.5,1825.4 111.2,1818.6 109.5,1808.9 110.1,1802.1 107.3,1799.2 111.2,1795.2Z" fill="#FFF9BA"/><path d="M143.9,1772.8 140.6,1775.3 142.2,1778.2 139.5,1783.3 142.8,1788.4 145.5,1784.4 143.3,1778.2 150.0,1775.3 150.0,1771.9 151.1,1770.8 152.7,1774.7 159.9,1776.5 161.1,1779.9 173.2,1779.9 178.8,1782.7 183.2,1780.4 191.5,1779.3 196.0,1779.3 191.0,1781.0 193.7,1784.4 201.5,1787.3 200.9,1791.8 207.6,1793.0 202.6,1797.5 200.4,1802.1 198.7,1806.6 202.6,1810.6 198.2,1815.2 191.0,1817.4 183.2,1816.9 182.7,1823.1 187.6,1827.1 184.3,1828.8 176.0,1835.6 171.6,1835.9 168.3,1833.4 166.6,1827.1 162.7,1824.3 166.0,1820.8 163.3,1816.3 163.3,1810.0 164.9,1804.9 154.4,1805.5 150.5,1800.4 140.0,1800.4 137.8,1798.1 137.2,1793.0 132.8,1787.8 134.5,1784.4 137.2,1777.6Z" fill="#FEEDAA"/><path d="M207.6,1793.0 214.8,1798.7 215.9,1801.5 222.0,1806.0 221.4,1810.6 217.6,1817.4 225.9,1829.4 214.8,1832.8 207.6,1832.2 206.5,1824.8 208.7,1818.0 205.9,1810.6 202.6,1810.6 198.7,1806.6 200.4,1802.1 202.6,1797.5Z" fill="#FFF9BA"/></g><rect x="20.9" y="1678.0" width="195.0" height="140.0" fill="none" stroke="#2e2e2e" stroke-width="1.2"/><clipPath id="c1_1278"><rect x="230.2" y="1678.0" width="130.0" height="140.0"/></clipPath><g clip-path="url(#c1_1278)" stroke="#000" stroke-width="0.9" stroke-linejoin="round"><path d="M231.4,1596.5 240.0,1603.6 252.3,1604.7 268.2,1596.5 274.4,1599.5 270.7,1605.7 281.7,1609.8 284.2,1618.0 297.7,1620.1 313.6,1627.2 332.0,1625.2 343.0,1620.6 354.1,1620.1 368.8,1613.9 384.7,1611.8 409.3,1619.0 421.5,1628.3 431.3,1628.3 433.8,1638.5 425.2,1651.8 425.2,1663.1 427.7,1680.6 439.9,1681.6 428.5,1697.4 439.9,1710.3 452.2,1714.4 452.2,1724.7 458.3,1730.8 441.1,1734.9 437.5,1745.2 411.7,1743.1 390.9,1740.1 381.0,1728.8 372.5,1725.2 352.8,1731.8 338.1,1729.8 325.9,1720.6 313.6,1717.5 305.0,1707.2 297.7,1694.9 289.1,1694.9 281.7,1691.8 277.4,1696.5 270.7,1690.8 270.7,1685.7 267.0,1681.6 268.2,1672.4 247.4,1665.2 238.8,1654.9 248.6,1643.6 238.8,1634.4 231.4,1622.1 225.3,1609.8 221.6,1599.5 226.5,1599.5ZM360.2,1729.8 372.5,1727.2 367.6,1730.8Z" fill="#FEECA8"/><path d="M202.0,1623.1 231.4,1622.1 238.8,1634.4 248.6,1643.6 238.8,1654.9 247.4,1665.2 268.2,1672.4 267.0,1681.6 270.7,1685.7 270.7,1690.8 277.4,1696.5 270.1,1695.9 267.0,1694.9 263.3,1695.9 252.9,1705.2 230.2,1704.2 198.3,1684.7 177.5,1675.9 162.7,1673.9 157.8,1661.1 184.8,1650.8 187.3,1638.5 194.6,1628.3Z" fill="#FFF9BA"/><path d="M252.9,1705.2 263.3,1695.9 267.0,1694.9 270.1,1695.9 271.9,1702.1 275.6,1710.8 267.0,1710.8 264.5,1706.2Z" fill="#FFF9BA"/><path d="M110.6,1702.6 124.7,1704.2 141.9,1695.9 148.0,1690.8 135.8,1680.6 162.7,1673.9 177.5,1675.9 198.3,1684.7 230.2,1704.2 252.9,1705.2 264.5,1706.2 267.0,1710.8 275.6,1710.8 281.7,1720.6 296.4,1729.8 297.7,1741.1 305.0,1749.8 312.4,1751.3 314.8,1754.9 327.1,1768.3 357.7,1771.3 363.9,1778.0 356.5,1798.5 319.7,1811.8 282.9,1815.9 273.1,1820.1 264.5,1828.3 251.0,1826.7 236.3,1825.2 219.2,1825.2 211.8,1832.4 206.9,1835.4 199.5,1824.2 187.3,1811.8 178.7,1800.6 162.7,1788.3 160.3,1774.9 149.3,1757.5 138.2,1747.2 132.1,1737.0 118.6,1721.6 106.3,1715.4Z" fill="#FFF9BA"/><path d="M206.9,1835.4 211.8,1832.4 219.2,1825.2 236.3,1825.2 251.0,1826.7 264.5,1828.3 273.1,1820.1 282.9,1815.9 319.7,1811.8 333.2,1832.9 322.2,1843.6 285.4,1859.0 264.5,1866.2 235.1,1872.4 215.5,1873.9 211.8,1867.2 208.1,1850.8Z" fill="#FFF9BA"/><path d="M333.2,1832.9 319.7,1811.8 356.5,1798.5 363.9,1778.0 357.7,1771.3 359.0,1767.7 366.3,1755.4 372.5,1748.3 376.1,1752.4 383.5,1758.5 400.7,1761.6 415.4,1772.9 411.7,1784.2 399.4,1794.4 390.9,1796.5 389.6,1808.8 376.1,1813.9 362.7,1821.1 354.1,1829.3Z" fill="#FFF9BA"/><path d="M314.8,1754.9 327.1,1768.3 357.7,1771.3 359.0,1767.7 366.3,1755.4 372.5,1748.3 374.3,1739.0 370.0,1737.0 360.2,1744.2 349.2,1754.4 332.0,1755.9 318.5,1757.5Z" fill="#FFF9BA"/><path d="M305.0,1749.8 312.4,1751.3 314.8,1744.2 313.6,1737.5 309.9,1735.4 305.0,1741.1Z" fill="#FFF9BA"/><path d="M300.7,1734.9 303.2,1734.9 302.6,1738.5Z" fill="#FFF9BA"/></g><rect x="230.2" y="1678.0" width="130.0" height="140.0" fill="none" stroke="#2e2e2e" stroke-width="1.2"/><clipPath id="c2_1278"><rect x="374.7" y="1678.0" width="142.7" height="140.0"/></clipPath><g clip-path="url(#c2_1278)" stroke="#000" stroke-width="0.9" stroke-linejoin="round"><path d="M289.7,1811.4 304.0,1805.8 312.4,1801.6 323.5,1799.5 338.4,1800.2 352.6,1797.8 359.8,1798.5 357.8,1801.6 357.2,1812.1 352.6,1819.0 357.2,1824.6 362.4,1832.3 365.6,1844.8 368.2,1858.7 365.0,1872.7 368.9,1885.2 381.6,1892.2 352.6,1910.3 341.6,1920.0 331.6,1922.5 325.4,1923.5 324.8,1918.0 311.8,1911.7 311.5,1908.9 272.7,1881.7 247.8,1865.7 247.8,1856.0 258.6,1850.4 268.3,1847.6 275.5,1842.0 280.6,1835.8 295.6,1832.3 296.2,1828.8 293.0,1821.1 292.3,1814.9Z" fill="#FFF9BA"/><path d="M359.8,1798.5 367.6,1795.7 370.8,1798.8 376.0,1797.8 372.1,1803.0 372.8,1807.9 376.0,1810.7 369.5,1817.0 369.5,1819.7 376.0,1822.5 378.9,1825.0 378.6,1830.2 370.8,1835.1 370.8,1840.6 365.6,1844.8 362.4,1832.3 357.2,1824.6 352.6,1819.0 357.2,1812.1 357.8,1801.6Z" fill="#FFF9BA"/><path d="M504.4,1570.4 518.0,1572.5 537.5,1574.6 563.5,1583.6 571.2,1590.6 566.7,1594.1 553.7,1595.5 531.0,1592.7 514.8,1588.5 527.8,1597.6 529.7,1606.6 544.0,1610.8 550.5,1604.5 566.7,1606.3 563.5,1599.6 576.4,1593.4 589.4,1594.8 589.4,1583.6 584.9,1578.0 602.4,1582.2 602.4,1589.9 615.3,1584.3 628.3,1581.5 647.8,1580.1 657.5,1580.8 673.7,1578.0 689.9,1579.4 696.4,1576.7 696.4,1569.7 722.4,1573.2 735.3,1576.0 738.6,1578.0 748.3,1573.2 738.6,1568.3 737.3,1561.3 748.3,1548.8 758.0,1545.3 776.2,1548.8 774.3,1561.3 779.4,1571.8 774.3,1582.2 771.0,1592.7 784.0,1585.7 787.2,1575.3 780.7,1561.3 790.5,1550.9 809.9,1551.6 829.4,1554.4 842.4,1564.8 845.6,1555.8 826.2,1543.9 868.3,1533.5 900.7,1526.5 939.7,1523.0 978.6,1514.7 998.0,1519.5 1030.5,1523.0 1040.2,1530.0 1017.5,1537.0 991.6,1543.9 1017.5,1541.1 1037.0,1542.5 1075.9,1547.4 1108.3,1542.5 1127.8,1543.9 1144.0,1550.9 1140.7,1561.3 1153.7,1562.7 1166.7,1557.2 1192.6,1558.5 1212.1,1550.9 1244.5,1550.9 1277.0,1557.2 1293.2,1562.0 1335.3,1568.3 1348.3,1571.8 1374.2,1571.1 1393.7,1568.3 1409.9,1569.0 1409.9,1575.3 1426.1,1569.7 1452.1,1571.8 1471.5,1576.0 1471.5,1603.1 1461.8,1605.9 1455.3,1604.5 1467.0,1617.8 1466.4,1621.9 1439.1,1626.1 1419.7,1632.4 1408.6,1638.6 1380.7,1638.0 1367.8,1639.3 1361.3,1651.9 1354.8,1653.3 1363.2,1664.4 1353.5,1673.5 1341.8,1685.3 1332.1,1687.4 1320.4,1700.6 1315.9,1690.2 1312.6,1672.8 1315.9,1658.8 1325.6,1651.9 1340.5,1641.4 1351.5,1634.5 1365.8,1626.8 1361.3,1620.5 1341.8,1626.1 1320.4,1628.9 1306.1,1640.0 1289.9,1644.9 1282.1,1641.4 1264.0,1642.8 1231.5,1642.8 1212.1,1655.4 1195.9,1669.3 1181.0,1674.9 1195.9,1681.1 1208.8,1678.3 1220.5,1686.0 1215.3,1700.6 1215.3,1718.0 1202.4,1732.0 1186.1,1747.3 1168.0,1757.8 1160.2,1755.7 1151.8,1761.2 1151.1,1759.1 1154.4,1752.9 1155.7,1743.1 1166.7,1741.7 1173.2,1725.7 1177.7,1719.4 1166.7,1722.2 1153.7,1723.6 1151.1,1715.3 1134.3,1710.4 1131.0,1705.9 1121.3,1688.1 1103.8,1682.9 1088.2,1684.6 1082.4,1689.5 1086.9,1693.7 1075.9,1706.9 1068.1,1711.1 1061.0,1708.6 1053.2,1706.2 1045.4,1705.5 1030.5,1711.8 1007.8,1712.5 994.8,1705.5 972.1,1705.5 967.6,1698.5 946.1,1693.7 939.7,1697.2 939.7,1707.6 920.2,1707.6 904.0,1702.0 887.8,1706.9 873.5,1713.2 870.3,1713.9 858.6,1710.4 845.6,1700.6 822.9,1702.0 809.3,1684.6 800.2,1678.3 780.7,1683.2 764.5,1678.3 763.9,1670.7 751.6,1670.0 727.6,1677.0 701.6,1680.4 699.0,1690.2 702.9,1698.5 689.9,1703.4 667.2,1700.6 657.5,1700.6 638.0,1695.8 633.5,1696.5 618.6,1706.9 608.9,1706.2 607.6,1717.4 617.3,1724.3 621.8,1732.0 615.3,1735.5 610.8,1742.4 607.6,1745.9 612.1,1756.4 618.6,1764.4 614.7,1768.9 605.0,1764.0 595.9,1758.4 588.1,1758.4 579.7,1755.0 563.5,1753.6 553.7,1746.6 546.6,1744.5 542.0,1741.0 547.2,1737.6 550.5,1732.0 558.9,1727.8 551.8,1727.8 562.2,1722.6 562.2,1717.4 564.1,1710.4 550.5,1708.3 534.9,1704.8 527.1,1698.9 523.2,1691.2 510.3,1693.0 507.7,1685.3 516.1,1683.9 507.0,1678.3 503.8,1674.2 504.4,1668.6 494.7,1667.2 486.9,1664.4 484.3,1656.8 481.7,1655.0 482.4,1653.3 481.7,1646.3 486.3,1642.1 485.6,1640.0 492.1,1638.3 499.9,1638.6 492.1,1636.6 488.9,1634.5 484.3,1634.1 492.1,1629.6 498.6,1624.7 506.4,1620.5 509.0,1617.8 498.6,1612.2 501.8,1608.7 496.6,1603.8 497.9,1598.2 492.8,1589.9 498.6,1584.3 489.5,1580.8 488.9,1576.0 491.5,1574.9Z" fill="#FFF9BA"/><path d="M350.7,1685.3 349.4,1681.8 355.9,1682.5 359.8,1680.4 362.4,1679.7 359.8,1673.5 365.6,1674.2 368.9,1676.3 375.3,1677.0 375.3,1679.7 381.8,1678.3 385.1,1676.3 391.6,1675.6 396.1,1680.4 396.8,1686.7 399.3,1693.0 398.7,1697.2 401.3,1700.6 396.8,1700.6 388.3,1704.1 382.5,1705.5 385.1,1709.0 393.5,1716.0 391.6,1717.4 387.0,1720.1 388.3,1724.3 383.1,1724.3 372.1,1725.0 366.3,1725.0 359.8,1723.6 353.3,1724.3 357.2,1714.6 344.9,1711.1 346.2,1709.0 343.6,1706.9 345.5,1705.5 342.9,1702.0 344.2,1697.9 342.9,1694.4 347.5,1693.0 349.4,1689.5Z" fill="#FFF9BA"/><path d="M366.3,1725.0 372.1,1725.0 383.1,1724.3 388.3,1724.3 387.0,1720.1 391.6,1717.4 393.5,1716.0 399.3,1717.4 400.6,1714.6 413.6,1717.4 414.9,1720.8 411.0,1723.6 408.4,1729.2 398.7,1732.7 392.9,1732.0 384.4,1730.6 383.1,1728.1 375.3,1729.9 371.5,1729.2 365.6,1727.8Z" fill="#FFF9BA"/><path d="M352.6,1750.8 349.4,1748.0 347.5,1741.7 349.4,1736.2 355.2,1736.2 358.5,1732.7 362.4,1736.9 364.3,1732.7 369.5,1734.1 371.5,1732.0 371.5,1729.2 375.3,1729.9 383.1,1728.1 384.4,1730.6 392.9,1732.0 390.9,1734.1 392.2,1736.9 393.5,1738.2 389.0,1737.6 383.8,1740.3 384.4,1747.3 392.2,1752.9 396.1,1760.5 402.6,1764.0 409.1,1764.0 407.1,1766.8 414.3,1770.3 424.0,1776.6 423.3,1778.6 420.1,1775.2 414.3,1773.8 411.7,1779.3 414.9,1784.2 411.0,1788.4 407.8,1791.9 405.5,1789.8 409.1,1784.2 405.8,1777.3 400.6,1775.2 397.4,1772.4 392.2,1768.9 383.8,1765.4 376.0,1760.5 372.1,1756.4 370.2,1750.1 361.7,1746.6 356.5,1750.1ZM384.4,1791.2 390.3,1789.8 405.2,1789.1 401.9,1800.2 396.8,1798.1 385.1,1794.0Z" fill="#FFF9BA"/><path d="M396.8,1805.1 398.7,1805.8 397.4,1806.5Z" fill="#FFF9BA"/><path d="M440.5,1665.1 452.5,1663.0 465.5,1663.0 466.2,1663.7 476.5,1667.9 477.8,1670.7 471.3,1673.5 470.0,1677.7 462.3,1680.4 456.4,1680.1 455.8,1678.3 451.9,1677.0 450.6,1672.8 442.2,1671.0 440.2,1670.7 440.9,1667.9Z" fill="#FFF9BA"/><path d="M456.4,1680.1 462.3,1680.4 470.0,1677.7 471.3,1673.5 477.8,1670.7 476.5,1667.9 483.0,1667.2 486.9,1664.4 494.7,1667.2 504.4,1668.6 503.8,1674.2 507.0,1678.3 516.1,1683.9 507.7,1685.3 510.3,1693.0 502.5,1698.5 494.0,1697.9 480.4,1696.5 466.2,1694.4 457.1,1697.2 457.7,1693.0 454.5,1691.6 459.0,1688.8Z" fill="#FFF9BA"/><path d="M396.1,1680.4 409.1,1677.7 420.8,1674.2 424.6,1677.0 431.1,1676.6 451.9,1677.0 455.8,1678.3 456.4,1680.1 459.0,1688.8 454.5,1691.6 457.7,1693.0 457.1,1697.2 460.3,1702.0 453.2,1708.3 450.6,1713.9 440.2,1711.8 433.7,1713.2 427.2,1711.1 425.9,1711.1 420.8,1707.6 413.6,1704.8 409.7,1703.4 401.3,1700.6 398.7,1697.2 399.3,1693.0 396.8,1686.7Z" fill="#FFF9BA"/><path d="M382.5,1705.5 388.3,1704.1 396.8,1700.6 401.3,1700.6 409.7,1703.4 413.6,1704.8 420.8,1707.6 425.9,1711.1 421.4,1713.9 415.6,1716.0 413.6,1717.4 400.6,1714.6 399.3,1717.4 393.5,1716.0 385.1,1709.0Z" fill="#FFF9BA"/><path d="M413.6,1717.4 415.6,1716.0 421.4,1713.9 425.9,1711.1 427.2,1711.1 433.7,1713.2 440.2,1711.8 450.6,1713.9 447.3,1718.7 443.5,1718.0 437.0,1718.0 430.5,1720.1 425.9,1722.9 419.5,1723.3 414.9,1720.8Z" fill="#FFF9BA"/><path d="M408.4,1729.2 411.0,1723.6 414.9,1720.8 419.5,1723.3 425.9,1722.9 430.5,1720.1 437.0,1718.0 443.5,1718.0 447.3,1718.7 452.5,1721.5 446.7,1725.7 441.5,1732.7 435.7,1734.4 426.6,1736.2 418.8,1735.8 411.7,1732.0 410.4,1730.6Z" fill="#FFF9BA"/><path d="M392.9,1732.0 398.7,1732.7 408.4,1729.2 410.4,1730.6 411.7,1732.0 405.8,1734.1 403.2,1738.9 398.7,1738.9 392.2,1739.3 393.5,1738.2 392.2,1736.9 390.9,1734.1Z" fill="#FFF9BA"/><path d="M392.2,1739.3 398.7,1738.9 403.2,1738.9 405.8,1734.1 411.7,1732.0 418.8,1735.8 426.6,1736.2 429.8,1741.0 427.2,1743.1 414.3,1741.0 409.7,1742.4 406.5,1741.0 406.5,1744.5 409.1,1748.0 418.2,1756.0 423.7,1759.5 424.0,1760.5 418.2,1757.1 411.0,1752.9 402.6,1748.0 400.6,1741.7 396.8,1740.3 394.2,1743.8ZM396.8,1741.0 400.0,1745.2 398.1,1745.2ZM410.4,1754.3 415.6,1755.7 411.7,1755.3Z" fill="#FFF9BA"/><path d="M406.5,1741.0 409.7,1742.4 414.3,1741.0 427.2,1743.1 431.1,1749.4 428.5,1752.9 425.3,1755.0 423.7,1759.5 418.2,1756.0 409.1,1748.0 406.5,1744.5Z" fill="#FFF9BA"/><path d="M423.7,1759.5 425.3,1755.0 428.5,1752.9 435.7,1757.8 433.7,1759.1 429.8,1764.4 424.0,1760.5Z" fill="#FFF9BA"/><path d="M426.6,1736.2 435.7,1734.4 443.5,1741.0 442.8,1743.8 449.9,1744.5 451.2,1748.0 449.3,1749.4 453.2,1755.0 449.3,1761.2 444.1,1761.6 445.4,1758.4 440.9,1755.0 437.6,1755.0 435.7,1757.8 428.5,1752.9 431.1,1749.4 427.2,1743.1 429.8,1741.0Z" fill="#FFF9BA"/><path d="M435.7,1757.8 437.6,1755.0 440.9,1755.0 445.4,1758.4 444.1,1761.6 438.9,1762.6 437.0,1761.9 433.7,1759.1Z" fill="#FFF9BA"/><path d="M436.6,1766.8 437.0,1761.9 438.9,1762.6 444.1,1761.6 449.3,1761.2 453.2,1765.4 452.5,1767.9 446.7,1769.2 440.1,1771.3Z" fill="#FFF9BA"/><path d="M429.8,1764.4 433.7,1759.1 437.0,1761.9 436.6,1766.8 440.1,1771.3 438.3,1776.6 433.7,1779.3 429.8,1775.2 429.8,1767.5Z" fill="#FFF9BA"/><path d="M433.7,1779.3 438.3,1776.6 440.1,1771.3 446.7,1769.2 452.5,1767.9 462.9,1766.8 467.5,1768.5 473.3,1767.9 474.6,1765.4 476.5,1768.2 474.6,1770.6 472.6,1771.7 466.8,1770.6 462.3,1770.6 458.4,1772.0 462.3,1776.2 459.0,1774.5 459.7,1777.6 457.1,1775.5 457.7,1777.7 455.1,1775.5 452.5,1773.1 450.6,1774.1 450.6,1777.3 452.5,1780.0 455.5,1782.8 452.9,1782.1 452.2,1784.9 453.8,1786.7 457.1,1787.7 460.0,1790.1 460.0,1793.6 457.4,1791.5 453.8,1791.2 452.5,1789.8 449.3,1788.7 445.1,1788.7 440.9,1789.1 438.6,1784.9 440.9,1783.9 438.3,1783.5 435.0,1780.4ZM453.5,1791.2 454.5,1794.0 456.4,1795.0 451.9,1794.3 452.9,1798.1 454.5,1802.0 451.9,1799.5 449.9,1802.3 447.7,1798.1 446.0,1799.9 444.1,1796.8 440.9,1792.2 442.5,1789.8 445.7,1789.1 449.3,1790.1 452.5,1791.5ZM456.6,1810.1 457.1,1807.8 459.7,1808.5 461.9,1809.6 466.2,1809.2 471.0,1809.6 474.6,1810.0 474.3,1811.7 469.4,1812.1 464.5,1812.6 459.7,1810.8ZM453.2,1785.3 455.1,1784.2 460.3,1786.7 463.6,1790.1 463.2,1791.5 461.0,1790.5 457.1,1788.4 454.5,1786.3ZM471.7,1782.8 473.9,1781.4 476.5,1783.9 473.6,1784.4ZM471.7,1787.4 473.6,1787.4 473.3,1789.8 472.0,1789.4ZM476.5,1792.6 479.5,1792.9 477.8,1793.6ZM483.7,1804.1 486.9,1802.0 486.3,1804.8 484.0,1805.8ZM478.8,1798.8 481.1,1799.2 479.8,1800.2ZM466.5,1777.6 469.1,1778.0 467.8,1778.6ZM463.2,1772.0 464.5,1772.4 463.9,1773.1ZM469.1,1773.8 470.7,1774.1 469.7,1774.5ZM462.9,1784.6 463.9,1785.6 462.9,1786.0ZM464.2,1791.5 465.8,1792.9 464.9,1793.3ZM466.5,1793.6 467.8,1794.3 466.8,1794.7ZM468.8,1797.1 470.0,1797.5 469.4,1798.5ZM466.8,1797.5 468.1,1797.8 467.5,1798.5ZM461.9,1799.9 462.9,1800.2 462.3,1800.6ZM468.4,1802.0 469.4,1802.3 468.8,1802.7ZM471.3,1798.8 472.6,1799.2 472.0,1799.5ZM473.0,1793.6 474.9,1794.0 473.9,1794.3ZM479.8,1806.2 480.4,1808.6 479.5,1808.9ZM452.5,1803.0 453.8,1803.4 453.2,1804.1ZM437.9,1792.2 439.9,1792.9 438.9,1793.6ZM436.3,1788.7 438.6,1789.8 437.3,1790.8ZM437.6,1785.6 438.6,1786.3 437.6,1787.0ZM431.5,1778.6 434.4,1781.1 432.8,1781.4ZM474.6,1800.9 475.6,1801.3 474.9,1801.6ZM465.2,1794.7 465.8,1795.4 465.2,1795.5ZM468.1,1794.7 469.1,1795.0 468.4,1795.4ZM461.6,1793.6 462.3,1794.3 461.6,1794.7ZM462.3,1795.0 462.6,1795.7 461.9,1795.9ZM478.8,1797.8 479.5,1798.5 478.8,1798.6ZM455.8,1792.9 456.8,1793.1 456.1,1793.4ZM456.4,1783.2 458.0,1782.8 459.0,1783.5 457.1,1783.5Z" fill="#FFF9BA"/><path d="M449.3,1761.2 453.2,1755.0 449.3,1749.4 451.2,1748.0 459.7,1751.5 469.4,1751.8 479.1,1748.7 489.5,1751.1 485.0,1758.4 485.6,1763.3 479.1,1763.0 474.6,1765.4 462.9,1766.8 452.5,1767.9 453.2,1765.4Z" fill="#FFF9BA"/><path d="M435.7,1734.4 441.5,1732.7 446.7,1725.7 452.5,1721.5 462.9,1721.9 476.5,1719.8 482.4,1725.0 486.9,1732.0 486.9,1739.3 496.6,1740.3 496.0,1743.8 489.5,1751.1 479.1,1748.7 469.4,1751.8 459.7,1751.5 451.2,1748.0 449.9,1744.5 442.8,1743.8 443.5,1741.0Z" fill="#FFF9BA"/><path d="M476.5,1719.8 483.7,1718.4 492.8,1721.9 499.2,1732.7 491.5,1732.3 486.9,1739.3 486.9,1732.0 482.4,1725.0Z" fill="#FFF9BA"/><path d="M447.3,1718.7 450.6,1713.9 453.2,1708.3 460.3,1702.0 457.1,1697.2 466.2,1694.4 480.4,1696.5 494.0,1697.9 502.5,1698.5 510.3,1693.0 523.2,1691.2 527.1,1698.9 534.9,1704.8 550.5,1708.3 564.1,1710.4 562.2,1717.4 562.2,1722.6 551.8,1727.8 542.0,1730.6 531.0,1734.8 531.0,1737.6 540.8,1739.6 533.6,1742.4 524.5,1746.6 520.6,1745.2 514.8,1740.0 521.3,1736.9 521.9,1734.8 518.0,1734.8 510.3,1731.3 503.1,1732.0 496.6,1740.3 486.9,1739.3 491.5,1732.3 499.2,1732.7 492.8,1721.9 483.7,1718.4 476.5,1719.8 462.9,1721.9 452.5,1721.5Z" fill="#FFF9BA"/><path d="M493.4,1768.9 507.0,1769.6 520.0,1763.3 531.0,1763.0 540.8,1768.2 550.5,1770.3 563.5,1770.3 573.2,1766.8 579.7,1767.2 586.2,1769.6 587.5,1776.6 594.6,1779.3 592.0,1781.4 589.4,1781.4 591.3,1788.4 594.6,1796.8 579.0,1797.5 568.0,1797.5 555.7,1800.2 544.0,1800.2 542.0,1803.4 538.8,1806.2 538.8,1800.9 534.3,1800.9 528.4,1799.5 522.6,1804.1 516.8,1805.0 505.1,1799.2 501.8,1803.0 496.0,1803.7 487.6,1799.5 481.7,1798.1 480.4,1791.9 474.6,1789.1 478.5,1787.7 477.2,1782.1 473.3,1780.7 473.9,1776.9 477.2,1774.5 482.4,1775.2 492.1,1774.5 497.9,1772.0 492.8,1770.3ZM472.6,1771.7 476.5,1768.2 474.6,1765.4 479.1,1763.0 485.6,1763.3 491.5,1768.2 492.1,1769.9 482.4,1770.6 477.8,1773.1 473.9,1776.6 477.8,1772.4Z" fill="#FEEAA4"/><path d="M513.5,1811.7 518.0,1809.6 528.4,1807.2 523.9,1811.7 518.0,1814.9 514.2,1813.8Z" fill="#FFF9BA"/></g><rect x="374.7" y="1678.0" width="142.7" height="140.0" fill="none" stroke="#2e2e2e" stroke-width="1.2"/><clipPath id="c3_1278"><rect x="532.8" y="1677.8" width="156.0" height="140.2"/></clipPath><g clip-path="url(#c3_1278)" stroke="#000" stroke-width="0.9" stroke-linejoin="round"><path d="M375.7,1575.1 378.5,1578.6 387.3,1580.7 380.1,1584.9 385.7,1594.7 391.2,1596.1 397.9,1592.6 400.1,1585.6 400.1,1590.5 401.2,1608.0 404.0,1625.5 408.4,1637.4 412.3,1650.7 417.9,1662.6 420.7,1674.5 427.3,1684.4 431.2,1678.7 436.8,1675.9 440.4,1668.9 440.1,1657.7 442.9,1649.3 441.8,1634.6 447.9,1629.0 454.0,1624.1 459.5,1617.1 469.0,1605.9 477.3,1599.6 480.1,1590.5 486.2,1589.8 491.7,1589.1 490.6,1578.6 489.5,1570.9 486.2,1568.1 487.3,1560.4 487.8,1555.5 495.6,1559.0 495.6,1563.9 510.0,1566.0 508.9,1571.6 503.4,1573.0 503.9,1578.6 506.7,1580.0 509.5,1591.2 511.1,1591.9 514.5,1585.6 515.6,1573.0 522.3,1564.6 525.6,1554.8 535.6,1547.1 537.2,1542.9 530.0,1535.9 521.7,1536.6 508.4,1546.4 506.2,1546.4 508.4,1552.7 495.6,1554.1 490.6,1549.9 490.1,1544.7 486.2,1545.7 486.2,1556.2 473.4,1554.8 463.4,1548.5 446.8,1542.2 441.8,1539.4 444.0,1532.4 446.8,1529.6 436.8,1522.6 434.5,1521.9 432.3,1513.5 438.4,1511.4 434.5,1500.2 442.3,1492.5 429.0,1492.5 423.4,1491.8 407.3,1498.8 407.9,1510.0 415.7,1514.9 410.7,1513.5 411.2,1523.3 407.3,1529.6 402.3,1536.6 396.2,1545.7 388.5,1545.0 382.9,1552.0 386.2,1554.8 390.1,1561.1 391.2,1570.2 379.0,1570.9Z" fill="#FFF9BA"/><path d="M544.2,1671.0 545.6,1666.1 550.0,1658.4 547.8,1648.6 542.2,1635.3 544.5,1626.9 537.8,1611.5 541.1,1603.1 552.8,1598.6 555.6,1604.5 559.4,1604.5 557.8,1616.4 563.9,1613.6 570.6,1612.2 578.3,1619.2 578.9,1626.2 583.3,1632.5 581.1,1640.6 568.9,1641.3 565.6,1645.8 568.3,1659.5 564.4,1654.9 557.2,1652.1 557.5,1647.2 553.9,1646.5 552.2,1653.5 548.3,1665.4 548.3,1675.9 553.9,1682.2 555.6,1690.6 562.2,1693.4 563.9,1697.3 558.3,1701.1 552.8,1695.9 550.0,1690.6 543.3,1685.0 542.8,1678.0Z" fill="#FFF9BA"/><path d="M596.6,1590.5 590.0,1596.1 585.0,1604.5 583.9,1610.1 588.3,1617.1 592.8,1623.4 598.3,1628.3 602.8,1639.5 604.4,1651.4 603.3,1659.1 596.1,1666.1 591.1,1668.9 588.3,1673.8 581.7,1679.4 578.6,1680.8 579.4,1672.4 576.9,1668.2 580.5,1664.4 586.7,1664.0 585.0,1659.1 593.9,1654.9 593.9,1638.1 593.9,1629.7 588.3,1622.0 581.1,1610.8 574.4,1605.2 579.4,1598.9 573.9,1594.7 568.3,1589.1 564.2,1584.2 568.9,1583.5 573.9,1583.5 578.9,1581.4 582.2,1577.9 588.9,1580.7 591.1,1587.0Z" fill="#FFF9BA"/><path d="M552.8,1695.9 558.3,1701.1 563.9,1697.3 571.1,1707.4 571.1,1716.5 575.5,1731.2 571.7,1731.9 564.4,1725.6 559.4,1720.0 555.6,1711.6 553.9,1702.5ZM605.5,1727.0 614.4,1731.2 615.5,1724.2 624.4,1718.6 630.0,1709.5 630.5,1708.8 633.8,1713.0 636.6,1710.9 637.2,1706.7 638.8,1702.5 641.1,1699.0 644.9,1692.0 650.5,1696.2 658.8,1703.9 652.7,1710.9 649.9,1711.8 639.4,1711.6 638.3,1720.0 634.4,1727.7 627.7,1731.9 620.0,1730.5 611.1,1735.1 605.5,1731.9Z" fill="#FFF9BA"/><path d="M572.2,1731.2 574.4,1730.9 573.9,1732.3Z" fill="#FFF9BA"/><path d="M630.5,1708.8 634.9,1706.0 637.2,1706.7 636.6,1710.9 633.8,1713.0Z" fill="#FFF9BA"/><path d="M526.1,1701.8 538.4,1704.6 545.0,1714.4 554.5,1724.9 562.2,1729.1 571.1,1737.5 573.3,1748.0 577.8,1755.0 586.1,1762.0 585.0,1772.5 584.4,1782.0 577.8,1781.6 565.0,1769.0 557.2,1756.4 553.9,1747.3 546.7,1734.7 539.5,1723.5 531.1,1713.0ZM581.1,1788.6 586.1,1782.3 591.1,1782.7 599.4,1786.5 610.5,1789.3 613.3,1785.8 622.2,1789.3 632.7,1795.6 632.2,1801.9 622.7,1799.8 607.7,1796.3 596.6,1795.6 587.8,1792.8ZM605.5,1727.0 602.2,1730.5 602.2,1738.9 603.3,1747.3 607.7,1751.5 608.9,1761.3 617.2,1763.4 624.4,1764.1 632.7,1766.2 633.8,1770.1 641.1,1766.9 643.8,1758.5 643.8,1751.5 649.4,1745.9 649.4,1737.5 657.7,1734.0 651.6,1727.0 649.9,1718.6 649.9,1711.8 639.4,1711.6 638.3,1720.0 634.4,1727.7 627.7,1731.9 620.0,1730.5 611.1,1735.1 605.5,1731.9ZM662.2,1735.4 664.4,1731.9 668.8,1731.9 679.9,1734.0 689.9,1729.1 692.1,1730.5 687.7,1737.5 679.9,1737.5 670.5,1737.5 664.9,1738.2 663.3,1745.9 668.8,1750.1 672.7,1747.3 681.6,1746.6 682.1,1748.0 676.0,1752.2 672.7,1754.3 677.1,1763.4 679.4,1771.1 681.0,1773.9 677.1,1779.5 672.1,1774.6 670.5,1767.6 668.3,1759.9 664.9,1762.0 665.5,1779.5 660.5,1780.2 660.5,1765.5 656.6,1760.6 659.4,1750.1 662.2,1741.0ZM632.7,1798.4 636.6,1797.4 639.4,1799.8 636.6,1802.6ZM641.1,1799.1 644.9,1799.5 643.8,1803.3 641.1,1802.6ZM645.5,1800.5 652.2,1797.7 658.3,1801.2 653.8,1802.6 646.6,1804.0ZM662.7,1800.5 671.6,1800.5 679.9,1799.1 678.8,1801.9 666.0,1803.0ZM657.7,1807.5 663.3,1806.5 667.7,1812.4 662.2,1811.0ZM682.7,1813.1 690.7,1805.4 690.7,1808.9 686.0,1812.4ZM687.1,1752.9 692.7,1753.6 696.6,1754.3 689.9,1754.7ZM676.6,1776.7 681.0,1778.1 677.7,1780.2ZM583.9,1752.2 589.4,1758.5 585.5,1761.3 581.1,1755.0ZM594.4,1759.2 598.3,1761.3 595.5,1763.4ZM535.6,1731.2 540.6,1736.8 537.8,1734.0ZM544.5,1748.0 548.3,1753.6 546.1,1751.5ZM551.7,1759.9 554.5,1763.4 552.8,1762.0ZM528.9,1721.4 532.8,1724.2 530.0,1722.8ZM596.6,1713.7 598.9,1714.4 597.2,1715.8ZM576.1,1734.0 577.8,1733.3 577.2,1735.4ZM576.7,1742.4 579.4,1743.1 577.8,1745.2Z" fill="#FFF9BA"/><path d="M674.9,1692.7 678.8,1686.4 682.1,1680.1 689.4,1681.5 693.8,1672.4 698.8,1681.5 699.9,1689.9 697.7,1696.9 693.2,1701.8 692.7,1693.4 686.6,1697.6 685.5,1688.5 681.6,1688.5ZM678.8,1664.4 682.7,1663.9 683.4,1664.9 681.7,1677.5 680.6,1677.9 676.5,1672.1ZM647.1,1681.9 648.3,1678.1 660.7,1661.1 660.9,1668.1 648.2,1682.8ZM673.2,1695.2 673.8,1694.0 676.6,1694.6 674.8,1696.9ZM667.6,1699.4 668.3,1698.2 671.7,1698.8 669.1,1701.2ZM661.9,1706.1 661.9,1704.5 664.9,1703.3 663.8,1706.5Z" fill="#FFF9BA"/><path d="M630.5,1893.6 631.1,1898.5 627.2,1909.0 626.6,1923.7 631.1,1925.1 633.3,1940.5 639.4,1961.5 636.1,1976.2 636.1,1981.1 651.6,1986.7 663.3,1978.3 682.7,1978.3 696.6,1967.1 713.2,1962.2 725.4,1961.5 742.1,1969.9 749.9,1985.3 760.4,1972.0 762.1,1969.2 760.4,1980.4 757.1,1988.1 763.7,1981.8 766.0,1990.2 772.6,1994.4 777.6,2007.0 793.7,2012.6 800.4,2008.4 809.8,2014.7 818.7,2006.3 829.8,2003.5 830.9,1990.9 837.0,1977.6 843.7,1966.4 847.0,1953.1 849.8,1941.2 847.0,1930.0 847.6,1916.0 835.4,1905.5 834.3,1899.2 825.9,1890.1 820.4,1881.0 812.0,1875.4 807.6,1864.2 804.3,1853.0 803.7,1845.3 795.9,1841.8 793.2,1829.2 788.2,1815.9 783.7,1830.6 783.2,1842.5 779.3,1863.5 771.5,1863.5 762.1,1853.0 749.3,1845.3 752.1,1834.1 757.1,1826.4 749.3,1825.0 738.2,1823.6 733.2,1820.1 723.2,1827.8 719.3,1835.5 716.0,1845.3 708.8,1845.3 702.1,1838.3 693.8,1842.5 687.1,1855.8 682.7,1862.8 675.5,1867.0 669.9,1877.5 657.7,1881.0 646.6,1885.9 638.3,1891.5Z" fill="#FFF9BA"/></g><rect x="532.8" y="1677.8" width="156.0" height="140.2" fill="none" stroke="#2e2e2e" stroke-width="1.2"/><clipPath id="c4_1278"><rect x="703.2" y="1677.8" width="57.3" height="54.3"/></clipPath><g clip-path="url(#c4_1278)" stroke="#000" stroke-width="0.9" stroke-linejoin="round"><path d="M706.9,1678.5 707.1,1676.3 710.5,1670.4 713.0,1667.1 717.4,1663.0 719.4,1658.6 724.3,1655.6 725.7,1653.2 734.1,1650.8 740.4,1647.1 742.9,1643.1 742.4,1639.0 744.8,1635.3 748.7,1632.4 757.1,1629.8 761.5,1623.1 764.4,1622.8 768.8,1625.3 775.7,1625.0 779.6,1625.7 781.6,1627.6 782.0,1630.9 784.5,1635.0 784.0,1636.8 772.7,1638.6 768.8,1642.0 763.4,1644.9 756.1,1646.4 748.0,1649.4 747.9,1659.3 731.7,1659.4 731.6,1668.8 726.7,1670.4 726.7,1676.6 707.7,1676.6Z" fill="#FFF9BA"/><path d="M706.9,1678.5 707.6,1676.6 726.7,1676.6 726.7,1670.4 731.6,1668.8 731.6,1659.3 747.9,1659.3 747.9,1654.5 766.7,1663.0 758.5,1663.0 762.9,1694.4 763.4,1698.1 744.8,1698.1 738.0,1698.5 734.1,1697.7 730.6,1700.7 724.7,1695.9 719.4,1693.9 712.0,1694.4 709.6,1695.9 711.5,1688.9 711.0,1684.1 709.6,1683.7 710.5,1680.8Z" fill="#FFF9BA"/><path d="M709.6,1695.9 707.1,1700.3 704.7,1701.1 708.1,1704.0 708.1,1705.1 714.5,1704.6 722.8,1705.3 722.3,1706.2 715.4,1706.1 708.3,1707.0 708.6,1709.8 716.9,1708.5 723.3,1708.6 729.2,1709.6 734.5,1709.6 734.5,1707.4 731.6,1702.2 730.6,1700.7 724.7,1695.9 719.4,1693.9 712.0,1694.4Z" fill="#FFF9BA"/><path d="M708.1,1705.1 714.5,1704.6 722.8,1705.3 722.3,1706.2 715.4,1706.1 708.3,1707.0Z" fill="#FFF9BA"/><path d="M708.6,1709.8 716.9,1708.5 723.3,1708.6 723.3,1712.2 718.4,1712.9 716.9,1714.9 714.5,1712.9 710.5,1711.4ZM711.0,1713.6 713.0,1713.6 712.0,1714.7Z" fill="#FFF9BA"/><path d="M716.9,1714.9 718.4,1712.9 723.3,1712.2 723.3,1708.6 729.2,1709.6 734.5,1709.6 739.9,1710.3 744.8,1709.6 747.3,1712.5 749.7,1714.7 751.2,1717.7 751.7,1724.0 749.7,1727.3 746.3,1728.0 743.8,1724.5 739.9,1724.0 738.5,1721.8 735.5,1718.4 729.2,1718.8 725.2,1721.9 723.3,1720.3 719.4,1716.6Z" fill="#FFF9BA"/><path d="M725.2,1721.9 729.2,1718.8 735.5,1718.4 738.5,1721.8 739.9,1724.0 738.5,1726.6 734.1,1729.8 729.2,1728.0 725.2,1724.0Z" fill="#FFF9BA"/><path d="M734.1,1729.8 738.5,1726.6 739.9,1724.0 743.8,1724.5 746.3,1728.0 749.7,1727.3 748.7,1731.4 753.6,1733.9 753.4,1739.3 746.3,1736.9 737.5,1732.1Z" fill="#FFF9BA"/><path d="M753.4,1739.3 753.6,1733.9 748.7,1731.4 749.7,1727.3 751.7,1724.0 751.2,1717.7 760.0,1716.2 763.4,1717.0 767.4,1719.5 777.2,1720.3 778.1,1725.1 774.7,1730.3 775.2,1736.5 765.9,1736.2 761.0,1738.0Z" fill="#FFF9BA"/><path d="M730.6,1700.7 734.1,1697.7 738.0,1698.5 744.8,1698.1 763.4,1698.1 762.9,1694.4 758.5,1663.0 766.7,1663.0 796.0,1677.4 796.3,1678.9 806.0,1682.2 806.5,1685.2 811.2,1684.6 810.9,1692.9 807.5,1698.5 796.7,1698.9 791.4,1700.1 786.9,1699.8 780.6,1702.9 776.2,1703.3 770.3,1705.9 768.8,1708.5 764.9,1711.8 763.4,1717.0 760.0,1716.2 751.2,1717.7 749.7,1714.7 747.3,1712.5 744.8,1709.6 739.9,1710.3 734.5,1709.6 734.5,1707.4 731.6,1702.2Z" fill="#FFF9BA"/><path d="M779.6,1625.7 790.4,1622.8 796.7,1620.5 805.1,1619.4 816.3,1619.8 827.1,1618.5 832.5,1618.9 831.0,1620.5 830.5,1626.1 827.1,1629.8 830.5,1632.7 834.5,1636.8 836.9,1643.4 838.9,1650.8 836.4,1658.2 839.3,1664.9 849.0,1668.6 827.1,1678.2 818.8,1683.3 811.2,1684.6 806.5,1685.2 806.0,1682.2 796.3,1678.9 796.0,1677.4 766.7,1663.0 747.9,1654.5 747.9,1649.4 756.1,1646.4 763.4,1644.9 768.8,1642.0 772.7,1638.6 784.0,1636.8 784.5,1635.0 782.0,1630.9 781.6,1627.6Z" fill="#FFF9BA"/></g><rect x="703.2" y="1677.8" width="57.3" height="54.3" fill="none" stroke="#2e2e2e" stroke-width="1.2"/><clipPath id="c5_1278"><rect x="775.7" y="1677.8" width="57.7" height="54.3"/></clipPath><g clip-path="url(#c5_1278)" stroke="#000" stroke-width="0.9" stroke-linejoin="round"><path d="M716.9,1708.1 736.9,1710.4 752.8,1715.5 762.1,1711.4 771.4,1708.6 783.5,1711.4 801.2,1711.4 807.8,1728.0 804.0,1741.8 801.7,1744.3 794.7,1739.0 786.3,1723.8 787.3,1734.4 795.6,1743.6 799.4,1753.8 808.7,1771.3 815.2,1779.6 826.4,1797.1 715.5,1797.1 715.5,1728.0Z" fill="#FEE8A8"/><path d="M817.1,1668.9 819.9,1669.4 824.5,1665.7 827.3,1661.6 844.1,1661.6 861.8,1657.9 877.7,1657.9 872.1,1662.5 866.5,1671.7 864.6,1682.8 844.1,1692.0 825.5,1702.1 817.1,1698.5 816.2,1692.9 823.6,1684.6 818.0,1680.5Z" fill="#FFF9BA"/><path d="M809.6,1694.8 814.3,1692.9 816.2,1692.9 823.6,1684.6 818.0,1680.5 813.4,1687.4Z" fill="#FFF9BA"/><path d="M801.2,1711.4 807.8,1728.0 812.4,1713.2 813.8,1701.2 817.1,1698.5 816.2,1692.9 814.3,1692.9 809.6,1694.8 807.8,1702.1Z" fill="#FFF9BA"/><path d="M808.2,1708.6 813.4,1709.5 813.8,1701.2 810.6,1699.8 808.2,1703.1ZM801.2,1711.4 804.0,1708.6 804.5,1709.5Z" fill="#FFF9BA"/><path d="M808.2,1729.3 807.8,1728.0 812.4,1713.2 813.8,1701.2 817.1,1698.5 825.5,1702.1 844.1,1692.0 847.8,1703.5 827.3,1709.5 836.7,1718.7 832.0,1723.3 819.0,1730.7Z" fill="#FFF9BA"/><path d="M808.2,1729.3 819.0,1730.7 832.0,1723.3 836.7,1718.7 827.3,1709.5 847.8,1703.5 859.0,1705.4 874.9,1713.2 899.1,1730.7 916.4,1731.6 925.2,1732.6 927.1,1736.7 933.6,1736.7 938.3,1745.5 949.5,1753.8 950.4,1763.9 956.0,1771.7 961.6,1773.1 963.4,1776.4 972.8,1788.3 996.1,1791.1 1000.7,1797.1 995.1,1815.5 967.2,1827.5 939.2,1831.2 931.7,1834.9 925.2,1842.3 915.0,1840.9 903.8,1839.5 890.7,1839.5 885.1,1846.0 881.4,1848.7 875.8,1838.6 866.5,1827.5 860.0,1817.4 847.8,1806.3 846.0,1794.3 837.6,1778.7 829.2,1769.4 824.5,1760.2 814.3,1746.4 805.0,1740.9Z" fill="#FFF9BA"/><path d="M783.5,1676.8 790.1,1674.0 805.0,1670.8 798.4,1676.8 790.1,1680.9 784.5,1679.6Z" fill="#FFF9BA"/></g><rect x="775.7" y="1677.8" width="57.7" height="54.3" fill="none" stroke="#2e2e2e" stroke-width="1.2"/><clipPath id="c6_1278"><rect x="703.2" y="1763.8" width="130.0" height="54.2"/></clipPath><g clip-path="url(#c6_1278)" stroke="#000" stroke-width="0.9" stroke-linejoin="round"><path d="M797.5,1789.8 805.4,1785.9 807.8,1786.2 815.7,1787.3 816.9,1790.0Z" fill="#FFF9BA"/><path d="M668.1,1839.7 671.8,1834.3 671.8,1827.9 665.7,1822.5 652.4,1819.4 650.6,1817.1 660.9,1815.3 669.3,1816.2 668.1,1811.2 671.8,1812.6 680.2,1812.1 688.7,1809.0 688.7,1805.8 694.1,1804.9 697.2,1806.7 704.4,1809.9 708.6,1810.8 714.1,1812.1 717.1,1812.1 728.6,1814.4 725.0,1820.7 721.3,1821.6 715.9,1825.2 715.3,1827.0 721.3,1828.4 719.5,1832.0 721.3,1836.1 724.4,1837.9 718.3,1840.6 711.7,1840.1 703.2,1839.2 697.8,1841.0 697.8,1844.2 689.3,1843.7 683.2,1842.4 676.0,1842.4Z" fill="#FFF9BA"/><path d="M694.1,1804.9 699.6,1803.5 705.0,1803.5 709.2,1803.1 714.1,1804.5 713.5,1806.3 715.3,1806.3 717.7,1808.5 715.9,1809.4 714.1,1812.1 708.6,1810.8 704.4,1809.9 697.2,1806.7Z" fill="#FFF9BA"/><path d="M714.1,1812.1 715.9,1809.4 718.3,1810.8 717.1,1812.1Z" fill="#FFF9BA"/><path d="M699.6,1803.5 700.8,1802.6 703.8,1800.8 706.8,1797.2 708.0,1796.3 712.3,1795.0 720.7,1794.5 722.5,1795.4 721.3,1798.1 719.5,1800.4 715.3,1801.3 716.5,1803.5 715.3,1806.3 713.5,1806.3 714.1,1804.5 709.2,1803.1 705.0,1803.5Z" fill="#FFF9BA"/><path d="M722.5,1795.4 721.3,1793.2 727.4,1793.6 731.0,1792.3 733.4,1791.8 731.0,1787.7 736.5,1788.2 739.5,1789.5 745.5,1790.0 745.5,1791.8 751.6,1790.9 754.6,1789.5 760.6,1789.1 764.9,1792.3 765.5,1796.3 767.9,1800.4 767.3,1803.1 769.7,1805.4 765.5,1805.4 757.6,1807.6 752.2,1808.5 754.6,1810.8 762.5,1815.3 760.6,1816.2 756.4,1818.0 757.6,1820.7 752.8,1820.7 742.5,1821.2 737.1,1821.2 731.0,1820.3 725.0,1820.7 728.6,1814.4 717.1,1812.1 718.3,1810.8 715.9,1809.4 717.7,1808.5 715.3,1806.3 716.5,1803.5 715.3,1801.3 719.5,1800.4 721.3,1798.1Z" fill="#FFF9BA"/><path d="M731.0,1787.7 728.6,1785.0 728.0,1780.5 731.0,1777.8 738.3,1776.0 743.1,1775.1 742.5,1778.3 741.3,1780.1 744.9,1781.4 740.7,1783.2 737.7,1785.0 736.5,1788.2ZM746.1,1784.1 750.4,1782.8 755.2,1782.8 755.2,1785.5 751.6,1787.7 746.7,1786.4ZM738.3,1785.5 743.7,1785.0 743.7,1787.1 739.5,1787.1ZM745.5,1788.2 751.6,1788.4 750.4,1789.1ZM767.9,1786.4 770.3,1786.6 769.1,1787.3Z" fill="#FEE9A2"/><path d="M737.1,1821.2 742.5,1821.2 752.8,1820.7 757.6,1820.7 756.4,1818.0 760.6,1816.2 762.5,1815.3 767.9,1816.2 769.1,1814.4 781.2,1816.2 782.4,1818.5 778.8,1820.3 776.4,1823.9 767.3,1826.1 761.9,1825.7 754.0,1824.8 752.8,1823.2 745.5,1824.3 741.9,1823.9 736.5,1823.0Z" fill="#FFF9BA"/><path d="M746.7,1768.8 743.1,1767.9 743.7,1765.2 741.3,1769.2 733.4,1771.9 727.4,1773.3 721.3,1773.7 713.5,1770.6 710.5,1767.0 709.2,1762.4 709.2,1757.9 710.5,1754.8 718.3,1752.1 730.4,1748.9 739.5,1746.6 744.3,1744.4 748.5,1742.1 754.6,1737.6 760.6,1733.1 768.5,1729.5 772.7,1727.2 784.8,1723.1 793.9,1719.5 806.0,1718.2 821.1,1715.5 835.0,1714.6 848.3,1715.0 866.5,1717.7 860.4,1720.9 865.9,1720.9 853.8,1723.8 856.2,1721.8 847.7,1719.1 836.2,1720.0 834.4,1723.1 828.4,1725.9 818.1,1725.4 809.6,1722.7 803.3,1723.8 799.9,1726.8 788.5,1726.3 787.2,1728.6 780.0,1728.6 775.8,1732.2 772.1,1735.8 766.7,1737.2 767.3,1740.8 761.9,1743.9 764.3,1745.7 755.8,1746.6 751.6,1749.8 752.8,1754.3 753.4,1757.5 757.0,1758.8 752.8,1760.2 755.2,1762.9 750.4,1765.2 751.0,1766.1 749.8,1767.9Z" fill="#FEE3A0"/><path d="M746.7,1768.8 747.3,1772.4 751.0,1775.5 754.6,1779.2 755.8,1782.3 757.6,1785.5 764.9,1785.5 766.1,1784.6 765.5,1782.8 774.5,1782.3 778.2,1779.6 780.0,1774.6 780.6,1771.0 787.2,1769.7 790.9,1767.4 793.9,1765.6 784.8,1761.5 783.6,1757.0 784.8,1753.9 790.9,1751.2 798.7,1748.4 804.8,1746.6 809.0,1743.9 808.4,1740.8 813.2,1739.0 825.0,1738.5 822.3,1736.2 824.1,1733.1 821.7,1730.8 820.5,1728.6 810.8,1725.9 803.3,1723.8 799.9,1726.8 788.5,1726.3 787.2,1728.6 780.0,1728.6 775.8,1732.2 772.1,1735.8 766.7,1737.2 767.3,1740.8 761.9,1743.9 764.3,1745.7 755.8,1746.6 751.6,1749.8 752.8,1754.3 753.4,1757.5 757.0,1758.8 752.8,1760.2 755.2,1762.9 750.4,1765.2 751.0,1766.1 749.8,1767.9ZM789.1,1778.3 792.7,1774.2 795.1,1774.2 792.7,1776.9ZM778.2,1781.9 779.4,1778.7 782.4,1776.7 780.6,1779.6Z" fill="#FFF9BA"/><path d="M825.0,1738.5 832.0,1741.7 827.2,1744.4 816.9,1748.4 809.0,1750.7 807.8,1755.7 809.0,1757.9 807.8,1761.1 813.9,1763.8 818.1,1765.4 830.2,1763.8 839.2,1762.9 847.1,1762.2 854.4,1759.3 860.4,1756.1 867.7,1753.4 870.1,1751.6 860.4,1748.0 863.4,1745.7 858.6,1742.6 859.8,1739.0 855.0,1733.5 860.4,1729.9 851.9,1727.7 851.3,1724.5 853.8,1723.8 856.2,1721.8 847.7,1719.1 836.2,1720.0 834.4,1723.1 828.4,1725.9 818.1,1725.4 809.6,1722.7 803.3,1723.8 810.8,1725.9 820.5,1728.6 821.7,1730.8 824.1,1733.1 822.3,1736.2ZM797.5,1763.8 801.8,1762.9 801.2,1764.5Z" fill="#FFF9BA"/><path d="M821.1,1768.3 827.2,1767.0 835.0,1766.5 848.9,1767.4 844.7,1770.1 845.3,1774.6 844.7,1775.8 836.2,1774.6 832.0,1773.7 825.9,1774.2 827.2,1772.4 821.1,1770.6ZM812.0,1772.4 815.1,1771.0 819.3,1771.0 816.9,1772.8 813.2,1773.7ZM813.2,1769.7 817.5,1769.2 816.9,1770.1Z" fill="#FFF9BA"/><path d="M825.9,1774.2 832.0,1773.7 836.2,1774.6 844.7,1775.8 847.1,1776.9 849.5,1781.9 845.9,1783.7 839.9,1784.1 830.2,1781.4 829.6,1781.0 817.5,1781.0 806.3,1782.3 806.0,1779.2 809.6,1776.0 815.7,1774.9 819.3,1776.9 823.5,1778.3 826.5,1776.9Z" fill="#FFF9BA"/><path d="M806.3,1782.3 817.5,1781.0 829.6,1781.0 830.2,1781.4 839.9,1784.1 841.1,1785.9 835.0,1787.7 833.8,1790.4 826.5,1792.3 821.1,1792.0 820.5,1790.9 816.9,1790.0 815.7,1787.3 807.8,1786.2 806.0,1785.9 806.6,1784.1Z" fill="#FFF9BA"/><path d="M821.1,1792.0 826.5,1792.3 833.8,1790.4 835.0,1787.7 841.1,1785.9 839.9,1784.1 845.9,1783.7 849.5,1781.9 856.8,1783.7 865.9,1784.6 865.2,1788.2 868.3,1790.9 876.7,1794.5 868.9,1795.4 871.3,1800.4 864.0,1804.0 856.2,1803.5 843.5,1802.6 830.2,1801.3 821.7,1803.1 822.3,1800.4 819.3,1799.5 823.5,1797.7Z" fill="#FFF9BA"/><path d="M764.9,1792.3 777.0,1790.4 787.9,1788.2 791.5,1790.0 797.5,1789.8 816.9,1790.0 820.5,1790.9 821.1,1792.0 823.5,1797.7 819.3,1799.5 822.3,1800.4 821.7,1803.1 824.7,1806.3 818.1,1810.3 815.7,1813.9 806.0,1812.6 799.9,1813.5 793.9,1812.1 792.7,1812.1 787.9,1809.9 781.2,1808.1 777.6,1807.2 769.7,1805.4 767.3,1803.1 767.9,1800.4 765.5,1796.3Z" fill="#FFF9BA"/><path d="M752.2,1808.5 757.6,1807.6 765.5,1805.4 769.7,1805.4 777.6,1807.2 781.2,1808.1 787.9,1809.9 792.7,1812.1 788.5,1813.9 783.0,1815.3 781.2,1816.2 769.1,1814.4 767.9,1816.2 762.5,1815.3 754.6,1810.8Z" fill="#FFF9BA"/><path d="M781.2,1816.2 783.0,1815.3 788.5,1813.9 792.7,1812.1 793.9,1812.1 799.9,1813.5 806.0,1812.6 815.7,1813.9 812.6,1817.1 809.0,1816.6 803.0,1816.6 796.9,1818.0 792.7,1819.8 786.6,1820.0 782.4,1818.5Z" fill="#FFF9BA"/><path d="M776.4,1823.9 778.8,1820.3 782.4,1818.5 786.6,1820.0 792.7,1819.8 796.9,1818.0 803.0,1816.6 809.0,1816.6 812.6,1817.1 817.5,1818.9 812.0,1821.6 807.2,1826.1 801.8,1827.3 793.3,1828.4 786.0,1828.2 779.4,1825.7 778.2,1824.8Z" fill="#FFF9BA"/><path d="M801.8,1827.3 807.2,1826.1 812.0,1821.6 817.5,1818.9 827.2,1819.1 839.9,1817.8 845.3,1821.2 849.5,1825.7 849.5,1830.4 858.6,1831.1 858.0,1833.4 851.9,1838.1 842.3,1836.5 833.2,1838.6 824.1,1838.3 816.3,1836.1 815.1,1833.8 808.4,1833.4 809.0,1831.5Z" fill="#FFF9BA"/><path d="M812.6,1817.1 815.7,1813.9 818.1,1810.3 824.7,1806.3 821.7,1803.1 830.2,1801.3 843.5,1802.6 856.2,1803.5 864.0,1804.0 871.3,1800.4 883.4,1799.3 887.0,1804.2 894.3,1808.1 908.8,1810.3 921.5,1811.7 919.7,1816.2 919.7,1819.6 910.0,1823.0 900.9,1824.8 890.6,1827.5 890.6,1829.3 899.7,1830.6 893.1,1832.5 884.6,1835.2 881.0,1834.3 875.5,1830.9 881.6,1828.8 882.2,1827.5 878.5,1827.5 871.3,1825.2 864.6,1825.7 858.6,1831.1 849.5,1830.4 853.8,1825.9 861.0,1826.1 855.0,1819.1 846.5,1816.9 839.9,1817.8 827.2,1819.1 817.5,1818.9Z" fill="#FFF9BA"/></g><rect x="703.2" y="1763.8" width="130.0" height="54.2" fill="none" stroke="#2e2e2e" stroke-width="1.2"/></svg>
<div class="t pl" style="left:57.4px;top:2.7px">A</div>
<div class="t it" style="left:20.4px;top:372.1px">Caribbean and Central America</div>
<div class="t it" style="left:229.8px;top:372.1px">Persian Gulf</div>
<div class="t it" style="left:374.1px;top:372.1px">Balkan Peninsula</div>
<div class="t it" style="left:532.4px;top:372.1px">Southeast Asia</div>
<div class="t it" style="left:702.4px;top:372.1px">West Africa</div>
<div class="t it" style="left:775.6px;top:372.1px">Eastern</div>
<div class="t it" style="left:775.6px;top:384.1px">Mediterranean</div>
<div class="t it" style="left:702.4px;top:470.5px">Northern Europe</div>
<div class="t pl" style="left:56.6px;top:642.3px">B</div>
<div class="t it" style="left:19.6px;top:1011.7px">Caribbean and Central America</div>
<div class="t it" style="left:229.0px;top:1011.7px">Persian Gulf</div>
<div class="t it" style="left:373.3px;top:1011.7px">Balkan Peninsula</div>
<div class="t it" style="left:531.6px;top:1011.7px">Southeast Asia</div>
<div class="t it" style="left:701.6px;top:1011.7px">West Africa</div>
<div class="t it" style="left:774.8px;top:1011.7px">Eastern</div>
<div class="t it" style="left:774.8px;top:1023.7px">Mediterranean</div>
<div class="t it" style="left:701.6px;top:1110.1px">Northern Europe</div>
<div class="t pl" style="left:57.3px;top:1281.2px">C</div>
<div class="t it" style="left:20.3px;top:1650.6px">Caribbean and Central America</div>
<div class="t it" style="left:229.7px;top:1650.6px">Persian Gulf</div>
<div class="t it" style="left:374.0px;top:1650.6px">Balkan Peninsula</div>
<div class="t it" style="left:532.3px;top:1650.6px">Southeast Asia</div>
<div class="t it" style="left:702.3px;top:1650.6px">West Africa</div>
<div class="t it" style="left:775.5px;top:1650.6px">Eastern</div>
<div class="t it" style="left:775.5px;top:1662.6px">Mediterranean</div>
<div class="t it" style="left:702.3px;top:1749.0px">Northern Europe</div>
<div class="t it" style="left:23.6px;top:190.0px">ASIR of Headache in 1990</div>
<div class="sw" style="left:24.1px;top:205.1px;background:#0575C8"></div>
<div class="t ll" style="left:49.1px;top:208.7px">&lt;9177.17</div>
<div class="sw" style="left:24.1px;top:223.4px;background:#F3C200"></div>
<div class="t ll" style="left:49.1px;top:227.0px">9177.17 to &lt;9701.97</div>
<div class="sw" style="left:24.1px;top:241.7px;background:#8A8A8A"></div>
<div class="t ll" style="left:49.1px;top:245.3px">9701.97 to &lt;9862.54</div>
<div class="sw" style="left:24.1px;top:260.0px;background:#D8554E"></div>
<div class="t ll" style="left:49.1px;top:263.6px">9862.54 to &lt;10601.95</div>
<div class="sw" style="left:24.1px;top:278.3px;background:#7CA8E0"></div>
<div class="t ll" style="left:49.1px;top:281.9px">10601.95 to &lt;11773.09</div>
<div class="sw" style="left:24.1px;top:296.6px;background:#033D68"></div>
<div class="t ll" style="left:49.1px;top:300.2px">11773.09 to &lt;13594.78</div>
<div class="t it" style="left:22.8px;top:829.7px">ASIR of Headache in 2021</div>
<div class="sw" style="left:23.3px;top:844.8px;background:#0575C8"></div>
<div class="t ll" style="left:48.3px;top:848.4px">&lt;9180.77</div>
<div class="sw" style="left:23.3px;top:863.1px;background:#F3C200"></div>
<div class="t ll" style="left:48.3px;top:866.7px">9180.77 to &lt;9695.13</div>
<div class="sw" style="left:23.3px;top:881.4px;background:#8A8A8A"></div>
<div class="t ll" style="left:48.3px;top:885.0px">9695.13 to &lt;9856.75</div>
<div class="sw" style="left:23.3px;top:899.7px;background:#D8554E"></div>
<div class="t ll" style="left:48.3px;top:903.3px">9856.75 to &lt;10600.63</div>
<div class="sw" style="left:23.3px;top:918.0px;background:#7CA8E0"></div>
<div class="t ll" style="left:48.3px;top:921.6px">10600.63 to &lt;11764.42</div>
<div class="sw" style="left:23.3px;top:936.3px;background:#033D68"></div>
<div class="t ll" style="left:48.3px;top:939.9px">11764.42 to &lt;13651.16</div>
<div class="t it" style="left:78.6px;top:1477.3px">EAPC</div>
<div class="cb" style="left:78.9px;top:1492.2px"></div>
<div class="t ll" style="left:102.8px;top:1506.8px">0.1</div>
<div style="position:absolute;left:78.9px;top:1512.5px;width:3.6px;height:0.9px;background:#fff"></div>
<div style="position:absolute;left:93.4px;top:1512.5px;width:3.6px;height:0.9px;background:#fff"></div>
<div class="t ll" style="left:102.8px;top:1529.9px">0.0</div>
<div class="t ll" style="left:102.8px;top:1552.9px">-0.1</div>
<div style="position:absolute;left:78.9px;top:1558.6px;width:3.6px;height:0.9px;background:#fff"></div>
<div style="position:absolute;left:93.4px;top:1558.6px;width:3.6px;height:0.9px;background:#fff"></div>
<div class="t ll" style="left:102.8px;top:1576.2px">-0.2</div>
<div style="position:absolute;left:78.9px;top:1581.9px;width:3.6px;height:0.9px;background:#fff"></div>
<div style="position:absolute;left:93.4px;top:1581.9px;width:3.6px;height:0.9px;background:#fff"></div>
<div style="position:absolute;left:5px;top:554.3px;width:841px;height:1px;background:#f3f3f3"></div>
</body></html>
